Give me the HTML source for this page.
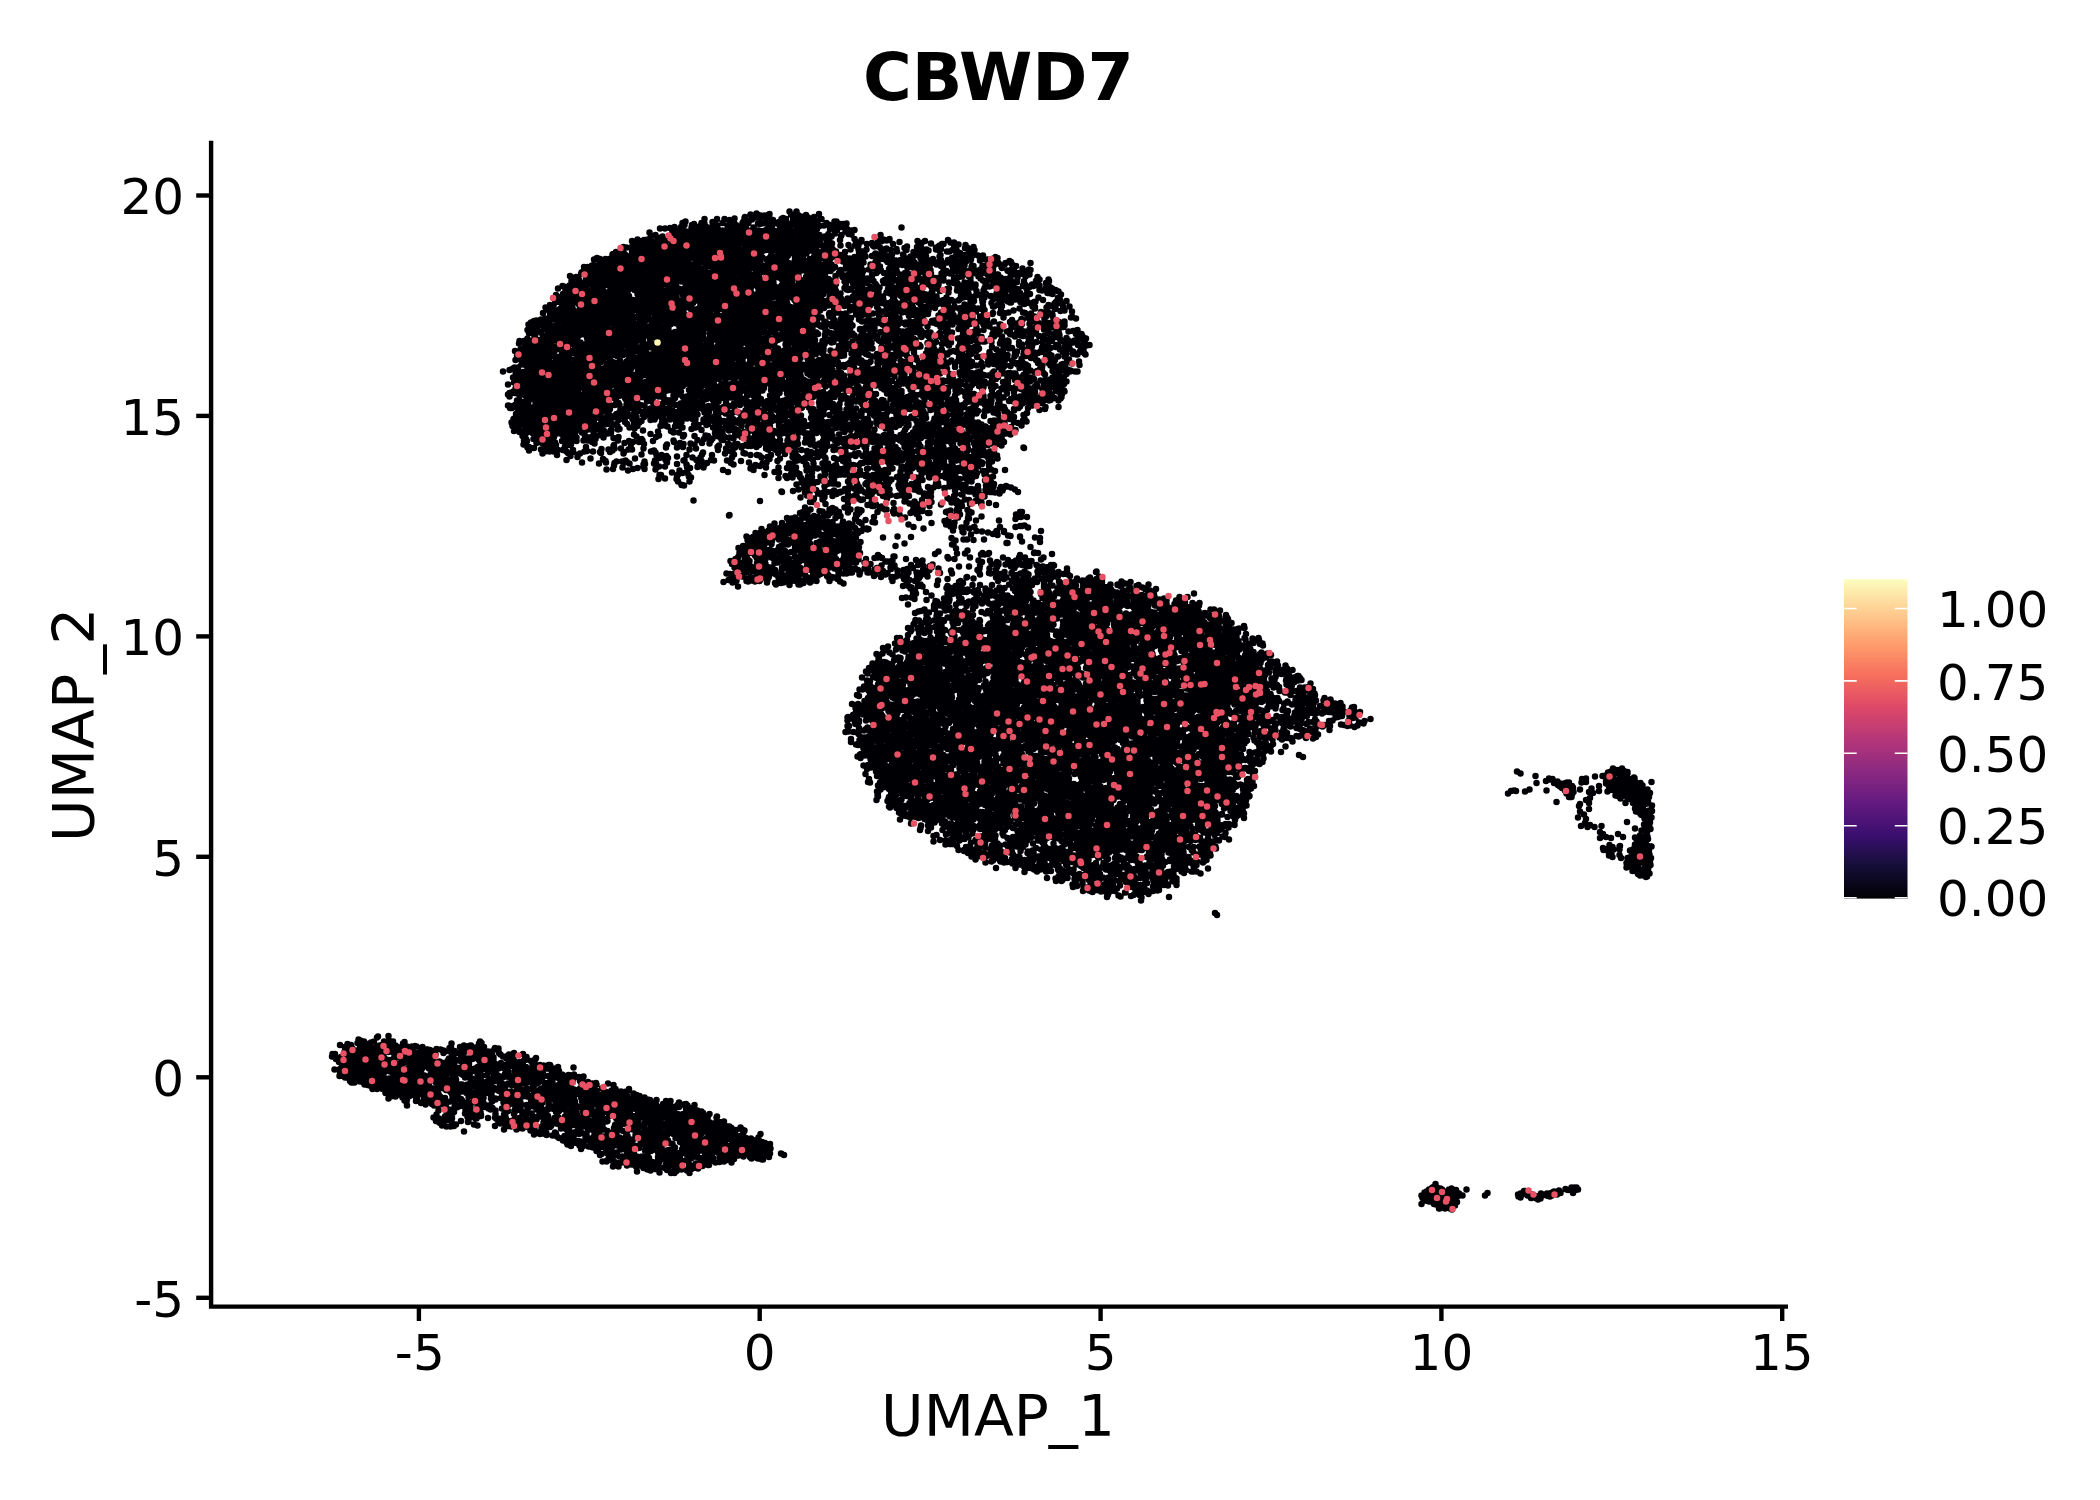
<!DOCTYPE html>
<html><head><meta charset="utf-8"><title>CBWD7</title>
<style>
html,body{margin:0;padding:0;background:#fff}
svg{display:block}
text{font-family:"DejaVu Sans","Liberation Sans",sans-serif;fill:#000}
</style></head><body>
<svg width="2100" height="1500" viewBox="0 0 2100 1500">
<defs><linearGradient id="mg" x1="0" y1="1" x2="0" y2="0"><stop offset="0.00" stop-color="#000004"/><stop offset="0.10" stop-color="#140E36"/><stop offset="0.20" stop-color="#3B0F70"/><stop offset="0.30" stop-color="#641A80"/><stop offset="0.40" stop-color="#8C2981"/><stop offset="0.50" stop-color="#B63679"/><stop offset="0.60" stop-color="#DE4968"/><stop offset="0.70" stop-color="#F76F5C"/><stop offset="0.80" stop-color="#FE9F6D"/><stop offset="0.90" stop-color="#FECE91"/><stop offset="1.00" stop-color="#FCFDBF"/></linearGradient></defs>
<rect width="2100" height="1500" fill="#fff"/>
<text x="998.4" y="100.2" text-anchor="middle" font-size="66.5" font-weight="bold">CBWD7</text>
<text transform="translate(998 1435.7) scale(1 .972)" text-anchor="middle" font-size="58.2">UMAP_1</text>
<text transform="translate(94.3 724.8) rotate(-90) scale(1 .972)" text-anchor="middle" font-size="58.3">UMAP_2</text>
<g stroke-linecap="round" fill="none" stroke-width="6.5">
<path fill="#000004" stroke="none" d="M1428 1194 1442 1204 1450 1206 1450 1200 1452 1194 1450 1192 1448 1194 1440 1194 1434 1192Z"/>
<path stroke="#000004" d="M819 214h0m-13 1h0m-8 0h0m-1.5-3.5h0m-4.5 3h0m-1 0h0m-1.5-3h0m-20 2.5h0m-1.5 1h0m-3.5.5h0m-3.5 0h0m-2.5 0h0m-1-1h0m-.5 0h0m-.5-1h0m-6 1h0m-76 12.5h0m6.5 0h0m1.5-4h0m2 2h0m1-3.5h0m6 6h0m.5-2.5h0m2-1h0m5.5 2.5h0m.5 1h0m1-2h0m0-.5h0m.5-2h0m2-.5h0m.5 4.5h0m.5-8h0m0 4.5h0m3.5 4h0m4.5-5.5h0m0 4.5h0m.5-.5h0m1.5-1h0m2 0h0m.5-6h0m.5 8.5h0m5-4.5h0m2-4h0m0 .5h0m3 6h0m1.5-.5h0m.5-5h0m.5 4h0m1-2.5h0m2 2h0m1-1.5h0m.5-3.5h0m1.5 6.5h0m2 1.5h0m4.5-3.5h0m1-1.5h0m1-3.5h0m.5-1h0m.5 3.5h0m0 2.5h0m0 4h0m.5-2h0m1.5-1.5h0m1-2h0m0 1.5h0m2-3h0m1.5-.5h0m1.5-1.5h0m0 9.5h0m4.5-4h0m1-1h0m.5-2.5h0m0 4h0m.5-1h0m0 0h0m.5 0h0m.5 0h0m.5-6.5h0m.5 7h0m4-5h0m0 5h0m2-.5h0m3.5-3.5h0m0 8h0m1-5.5h0m.5-2h0m4 3.5h0m1.5-1h0m.5-.5h0m.5.5h0m2-3.5h0m0 7.5h0m.5-1h0m0-.5h0m0 1.5h0m1-8.5h0m.5 7.5h0m1-2h0m1.5-4.5h0m2 7.5h0m.5 1h0m.5-2h0m.5-1.5h0m3-8h0m.5 4.5h0m0 3.5h0m1.5-3h0m.5-2.5h0m2 8.5h0m1 .5h0m.5-7.5h0m1 5h0m.5 0h0m1-8.5h0m1 7.5h0m2-5.5h0m.5 9h0m1-6h0m.5 5h0m.5-.5h0m.5-5.5h0m0 3h0m0 1h0m0 2.5h0m.5-5h0m.5-4.5h0m0 7.5h0m4-6.5h0m1 5h0m1-6.5h0m0 2.5h0m.5 2h0m1 2h0m2.5-3h0m1.5 5.5h0m2-7h0m2.5 6.5h0m2.5-2.5h0m2.5 2h0m1 0h0m4.5-3.5h0m1.5 4.5h0m.5-4.5h0m4 2.5h0m.5 3h0m2-3h0m.5.5h0m3-1h0m55 4h0m-12 11.5h0m-6 .5h0m-3-4.5h0m-26-5h0m0 9h0m-3-8.5h0m0 4h0m-1.5-.5h0m-1.5 0h0m-1.5-5h0m-1.5 2.5h0m-4 3.5h0m-.5 1h0m-4-6h0m-.5-2h0m-1 2h0m0 1h0m-.5 2.5h0m-3.5 3h0m-1.5-7.5h0m-1.5 5h0m-2.5 3.5h0m-1-1h0m0 1.5h0m-5-1h0m-.5-2h0m-2.5-6h0m-.5 10h0m-.5 0h0m-.5.5h0m-.5-5h0m0 2.5h0m-1-4h0m0 4h0m-.5 2h0m-.5-7h0m0 1.5h0m-.5-4.5h0m-.5 7h0m-.5-5.5h0m0 6h0m-.5 1.5h0m-1.5 1h0m0 0h0m-1-11h0m0 11.5h0m-1-9.5h0m0 5h0m-.5-5.5h0m-.5 0h0m0 7h0m0 1.5h0m-.5-8h0m-.5 5h0m-1-3h0m-1-2.5h0m-.5 4.5h0m-.5-.5h0m0-.5h0m-1-3h0m0 8.5h0m0 .5h0m-1-3.5h0m-.5-2.5h0m-.5 2h0m-.5-1.5h0m-1 5h0m-1.5-10h0m0 1.5h0m-2.5 7.5h0m-1-6h0m0 0h0m0 1h0m0 6h0m-2-4h0m-.5.5h0m-.5-7h0m0 1.5h0m-1 3.5h0m0 .5h0m0 4.5h0m-.5-7.5h0m0 3h0m-.5-1h0m-.5-1h0m-1.5-.5h0m0 3h0m0 2h0m0 1.5h0m0 .5h0m-.5-7h0m0 7h0m-.5-2.5h0m0 3h0m-1.5-6.5h0m0 2.5h0m0 1h0m0 4h0m-1-10h0m0-.5h0m0 7.5h0m-2.5-8.5h0m-1 6h0m0 0h0m0 3h0m-2 1.5h0m0 0h0m-.5-7h0m-1 0h0m0 4h0m-.5 1.5h0m-1.5-6h0m-1.5-3h0m0 2.5h0m-1 5.5h0m-1-3h0m-.5-4.5h0m-1 9h0m-1-5.5h0m-.5 2.5h0m-.5-1h0m-.5-3.5h0m0 6.5h0m-.5 2.5h0m-1-3h0m-.5 3h0m0-.5h0m-.5-7.5h0m-1 1.5h0m-2-1.5h0m-.5 4h0m0 3h0m-.5-1.5h0m-1 1h0m-.5-7h0m-1.5 2h0m-1-1.5h0m0 2h0m-.5 1h0m-1 4.5h0m-1 1h0m-.5-2.5h0m0 0h0m-1-2.5h0m0 1h0m-1-5h0m0 1.5h0m-1.5 5h0m-1-2h0m-1-5h0m0 8h0m0 1h0m-1-7.5h0m0 3h0m-1.5-2.5h0m0 6.5h0m-.5-5h0m0 3.5h0m-1-4.5h0m0 1.5h0m0 0h0m0 3h0m-.5-2.5h0m-.5-1.5h0m-1-1h0m-.5-3h0m0 2h0m-.5 4.5h0m0 3.5h0m0 .5h0m-.5-7.5h0m0 5.5h0m-1-9.5h0m-.5 11h0m-3-7.5h0m0 .5h0m-1-1.5h0m0 2.5h0m0 2h0m-1.5-7h0m-.5 1.5h0m0 8h0m-.5 0h0m-.5-.5h0m-.5-5h0m-.5-1.5h0m-.5 0h0m-.5 1.5h0m0 0h0m-.5-.5h0m-.5-3.5h0m-1.5 2.5h0m0 3h0m-.5-2.5h0m-.5.5h0m0 3h0m0 1.5h0m-.5-4.5h0m-.5.5h0m-1 6h0m-.5-6.5h0m-.5-1h0m-.5 7.5h0m0 .5h0m-1-.5h0m-.5-4h0m0 2.5h0m-1-2.5h0m0 3.5h0m-.5-1h0m-1-6h0m-1-.5h0m0 4.5h0m0 4.5h0m-1-8.5h0m0 1.5h0m0 1h0m-.5 4h0m-.5 1.5h0m-1.5-10h0m-1 5.5h0m-.5.5h0m0 3h0m0 1.5h0m-.5-4.5h0m0 1h0m-1-5h0m0 5h0m-.5-7h0m-1 2h0m-.5 9h0m-.5-1h0m-.5-10h0m0 1.5h0m-1 3.5h0m-.5 3h0m-.5-.5h0m-.5 1h0m-.5 2h0m-.5-11h0m0 4h0m0 .5h0m-2 1.5h0m-.5 5.5h0m0 0h0m-.5-9h0m-1-.5h0m-1 7h0m-.5 2.5h0m-.5-11.5h0m-1.5 4.5h0m-.5-3h0m-.5 7h0m-.5-6h0m0 1h0m-.5 5.5h0m-1.5-9h0m0 9h0m0 0h0m-1-6.5h0m-1.5 4.5h0m-.5-3.5h0m-.5 7h0m-.5-5h0m0 3h0m0 3h0m-1-5h0m0 4h0m-1-.5h0m-1-6.5h0m-.5 6.5h0m-.5-5.5h0m-1 2.5h0m-.5-1h0m-.5-3.5h0m-2 3h0m0 1.5h0m0-1h0m-.5 2h0m0 .5h0m-1-6h0m0 .5h0m0 6h0m-2-.5h0m0 1h0m-.5-6h0m-.5 0h0m0 7.5h0m-1-6.5h0m-1.5-.5h0m-.5-3h0m-1.5 1h0m0 4.5h0m0 3h0m-1.5-1.5h0m-.5-8h0m-1 9.5h0m0 2h0m-2.5 0h0m-1.5-11h0m-1.5 10h0m-1-2h0m0 2.5h0m-1-.5h0m-1.5-10h0m-.5 9.5h0m-4-3h0m-5 2.5h0m-1-5h0m-2 7h0m-10 0h0m-14 7.5h0m3 .5h0m5.5-6.5h0m0 9.5h0m0 1h0m0 0h0m.5-6h0m2 6h0m.5-6h0m2.5-1.5h0m0 7h0m.5-4.5h0m1 2.5h0m.5-7.5h0m0 4h0m1.5-4h0m3-1.5h0m.5 7.5h0m0 2h0m0 2h0m.5-4.5h0m1.5-4h0m1.5 7.5h0m.5-1.5h0m1-6h0m.5 6.5h0m.5-2.5h0m.5 4h0m.5 0h0m.5-8.5h0m0 5h0m1.5 2h0m1-4.5h0m1 1h0m.5-5h0m.5.5h0m1.5 10h0m1-5h0m.5-3.5h0m0 4.5h0m1 1h0m1.5-1h0m1.5-1.5h0m.5-1h0m.5-3.5h0m1-.5h0m0 10.5h0m.5-5h0m.5 2h0m0 2.5h0m1-1.5h0m.5-.5h0m.5-2.5h0m2.5-6h0m.5 7h0m1.5-6.5h0m0 1.5h0m0 7.5h0m.5-.5h0m1.5-9.5h0m1 6h0m.5 3h0m1-2h0m.5-3.5h0m0 4h0m1 2.5h0m.5-10h0m0 11.5h0m.5-10h0m.5 6h0m0 4h0m1 0h0m.5-10.5h0m0 2h0m.5 6.5h0m2 .5h0m2-10h0m2.5 3h0m.5-2.5h0m0 5.5h0m.5-6h0m.5 3h0m0 6h0m.5-6h0m1 8.5h0m.5-7h0m0 4h0m.5-6.5h0m0 2.5h0m1 6.5h0m.5-6h0m0 .5h0m0 5.5h0m.5-5h0m0 .5h0m1.5-2h0m1-3h0m0 4h0m1.5-.5h0m.5 4h0m1.5-4h0m.5-2.5h0m.5 2h0m0 3h0m.5-1h0m.5-6.5h0m.5 2h0m0 8.5h0m.5-6.5h0m0 7h0m.5-3h0m.5 1h0m1 .5h0m.5-4.5h0m1 1.5h0m1 2.5h0m.5-6.5h0m.5 5h0m.5-7.5h0m0 4h0m0 2h0m.5.5h0m0 3h0m1-3h0m1.5 2h0m.5-2h0m.5-4.5h0m0 1.5h0m.5 1h0m.5 3.5h0m.5-4.5h0m0 3h0m.5-4h0m1.5-1.5h0m1 9h0m.5-2h0m.5-6h0m0 3.5h0m1 .5h0m0 3.5h0m1.5-5h0m0 5.5h0m.5-8.5h0m2.5 5h0m0 5h0m1-2h0m.5-8h0m0 5h0m.5-5h0m.5 4h0m.5 2.5h0m1-6.5h0m.5 2h0m0 1.5h0m0 5h0m.5-9h0m0 2.5h0m0 3.5h0m.5 1h0m.5-6.5h0m1 9h0m.5-1.5h0m.5-3.5h0m.5 3.5h0m0 2.5h0m2-10.5h0m0 1h0m.5 9.5h0m.5-10.5h0m0 1.5h0m0 8.5h0m.5.5h0m1-4.5h0m1-3.5h0m0 1h0m0-.5h0m1 6h0m1-7h0m.5-2.5h0m0 .5h0m0 9h0m2.5-9.5h0m0 3h0m1 2h0m.5-1.5h0m1 2.5h0m0 4.5h0m.5-3.5h0m.5-5.5h0m1-1h0m.5 0h0m0 2h0m.5 5h0m.5-7.5h0m0 9.5h0m.5-3.5h0m0 2h0m1.5-3.5h0m.5 1.5h0m.5 2h0m1-2h0m0 2.5h0m0 2.5h0m.5-3.5h0m.5-5.5h0m0-.5h0m.5 4h0m.5-4h0m0 6h0m0 1.5h0m.5-7.5h0m0 5h0m0 2.5h0m1-8.5h0m0 9.5h0m.5-10h0m0 1.5h0m.5-1h0m0 3h0m.5-2h0m.5 8.5h0m.5-7h0m.5 8h0m.5-10.5h0m1 6h0m0 4h0m0 .5h0m.5-8h0m.5 5.5h0m.5.5h0m1.5-5.5h0m0 4h0m.5 1h0m.5 1h0m1-9h0m0 6h0m.5-5h0m.5.5h0m1 .5h0m.5 0h0m0 4.5h0m0 2.5h0m.5-1.5h0m.5-6h0m.5 2.5h0m0 2.5h0m0 2h0m.5-5h0m.5 3h0m.5-7h0m1-.5h0m0 5.5h0m1.5 5h0m1.5-7.5h0m0 0h0m1.5-2.5h0m0 5h0m.5-4h0m1 5.5h0m0 2h0m1.5 2h0m0 .5h0m1-9h0m0 7.5h0m0 1.5h0m1-7.5h0m0 2.5h0m1-6.5h0m0 2.5h0m.5 6h0m1-7.5h0m0 6h0m2.5-3.5h0m0 4h0m1 3h0m1-4.5h0m0 1h0m0 3h0m1-9h0m0 3.5h0m.5-1.5h0m0 3h0m0 1.5h0m.5.5h0m0 1h0m1-2.5h0m0 5h0m.5-6.5h0m0 4.5h0m.5-4h0m0 4.5h0m1-1h0m1-7.5h0m.5 7h0m.5-3.5h0m1.5-1h0m1 3.5h0m.5-4.5h0m.5 4h0m0 3.5h0m.5-8h0m.5.5h0m.5-1h0m0 6.5h0m0 1h0m.5 2h0m.5-6h0m.5-5h0m.5 10h0m0 .5h0m2.5-6h0m0 1h0m1 4.5h0m1.5 0h0m.5-7h0m.5-1.5h0m.5 1h0m0 2.5h0m.5-4h0m0 6.5h0m0 2.5h0m.5-1h0m3.5-7.5h0m0 6.5h0m.5 1h0m1.5-3.5h0m.5-4.5h0m1.5 1h0m.5-2h0m.5 2.5h0m2.5 2.5h0m.5 5.5h0m1.5-4h0m0 1.5h0m0 0h0m1 1h0m0 2h0m1-11h0m0 7h0m2-3.5h0m0 7h0m1-9.5h0m.5 7h0m2-5h0m.5 5.5h0m3.5 2.5h0m4-11.5h0m.5 5.5h0m8-.5h0m2 4.5h0m4.5-4h0m1-3.5h0m2.5 3h0m0 4.5h0m3-9.5h0m0 1.5h0m1 10h0m4-2h0m.5-5.5h0m5-1h0m1 2.5h0m1 1h0m3-.5h0m1-5h0m2 .5h0m.5 6.5h0m.5-6.5h0m2-1h0m3.5 0h0m0 8h0m2-8.5h0m2 10h0m2.5-6h0m3.5 5h0m.5 2.5h0m2.5-9.5h0m5 6h0m.5 0h0m.5 0h0m0 1h0m1 1h0m.5-3.5h0m10 .5h0m.5-6h0m0 8.5h0m.5-3h0m1.5-3h0m.5 1.5h0m1 2.5h0m0 3.5h0m.5-8h0m1.5 6.5h0m2-8.5h0m0 10.5h0m1.5-2h0m2 1h0m2.5-7h0m5 4h0m0 1h0m0 1h0m1-2h0m1.5-1h0m.5 4h0m.5-5h0m1 2h0m.5 1.5h0m1-5h0m1.5 0h0m3.5 7.5h0m1-11.5h0m1.5 11.5h0m1-9h0m2 7.5h0m1.5-7.5h0m0 2.5h0m1.5-1h0m.5 4.5h0m.5 1.5h0m2-5.5h0m6.5 3.5h0m.5-3h0m1.5 2.5h0m.5.5h0m3.5 3.5h0m1-2.5h0m1.5-2h0m1 3h0m56 13h0m-19 .5h0m-.5-1.5h0m-1.5-1h0m-4 2h0m-7 0h0m-.5 0h0m0 .5h0m-.5-5.5h0m-1 3.5h0m-1-4.5h0m-1.5 4.5h0m-.5-3h0m0 .5h0m0 .5h0m-.5 3.5h0m-.5-2.5h0m-1.5 1.5h0m-2.5-.5h0m-1-2h0m-4-.5h0m-.5-3.5h0m-1 .5h0m-2 4.5h0m-2-5h0m-5-1.5h0m-.5 1.5h0m-1.5 4h0m-2.5-6.5h0m0 4h0m-1 3h0m-1.5 1.5h0m-2-6.5h0m-2 4.5h0m-1.5-4h0m-.5-2.5h0m-.5 9.5h0m-1-8.5h0m-.5 7.5h0m-1.5-7h0m0 8.5h0m-1-6.5h0m-2 5h0m-1.5-3.5h0m-4 2h0m-1 2.5h0m-6-2.5h0m-.5-5h0m0 4.5h0m-1-3h0m-3 6h0m-3.5-3.5h0m-1.5 1h0m-1 2.5h0m-1.5 1h0m-3-7.5h0m0 2h0m-1-5h0m-.5 4h0m0 4.5h0m-3-9.5h0m0 8h0m-1-2h0m-3.5-3h0m-2.5 7.5h0m-1-10.5h0m-.5 9h0m-.5-5h0m0 3h0m-.5 2h0m-1-2.5h0m0 3.5h0m-.5-5.5h0m-2.5 2h0m-2.5 1.5h0m0 2h0m-.5 1.5h0m-1-4h0m-.5-4h0m0 7h0m-.5-8h0m-2.5 5.5h0m-4.5.5h0m-3 2.5h0m-.5-3.5h0m-.5-5h0m-2 8.5h0m-1-4.5h0m-1.5 3.5h0m-.5-6h0m0 2.5h0m-.5.5h0m-.5-2h0m0 3h0m-1.5-8h0m0 2.5h0m-.5-1h0m-.5-1.5h0m-.5 7h0m-1-6.5h0m-1 1.5h0m-.5 0h0m-2 4.5h0m-.5 2h0m-.5 3h0m-1-8.5h0m0 4h0m-1-5.5h0m0 8.5h0m-.5-7.5h0m-3 1.5h0m-6.5.5h0m-1-4h0m-1 10h0m-1-6h0m-3 5.5h0m-.5-9h0m0 4.5h0m-.5 2h0m-1.5 1.5h0m0 0h0m-1.5 1.5h0m-1-5.5h0m0 2.5h0m-1.5 2.5h0m-2.5-1.5h0m-.5.5h0m-.5-2.5h0m-.5 3h0m-3.5-4h0m-.5-5.5h0m-2 7h0m0 .5h0m0 2h0m-2-6h0m0 1h0m0 0h0m-1-1.5h0m-3.5 1.5h0m-4-1h0m0 1.5h0m-2-1h0m0 1.5h0m0 1h0m-1.5-6h0m0 5.5h0m0 .5h0m-.5 4.5h0m-1.5-4h0m-.5 1h0m-1.5-1h0m-.5-2.5h0m0 1h0m-2.5.5h0m-.5-2h0m-.5-1h0m0 3h0m-.5-.5h0m-1-4h0m-.5-1.5h0m0 6.5h0m-.5 1h0m0 2.5h0m-.5-9.5h0m-2.5-.5h0m-1 3.5h0m-.5 1.5h0m0 5h0m-2 1h0m-2-4h0m-.5 1h0m-2.5 1.5h0m-.5-8h0m0 7.5h0m-2.5.5h0m-1-7.5h0m0 4.5h0m-1 2h0m-.5-6.5h0m0 1h0m0 4h0m-.5 4.5h0m-.5-.5h0m-.5-6.5h0m0 7h0m-.5-6h0m-1 2.5h0m-1-4h0m-1.5 5.5h0m-.5-9.5h0m0 7h0m0 4.5h0m-.5-5.5h0m0 1.5h0m-1-6h0m-.5-1.5h0m-3 11.5h0m-1.5-11.5h0m0 2h0m-1 1.5h0m0 7.5h0m-1-6.5h0m-.5.5h0m0 0h0m-.5.5h0m0 2h0m0 0h0m-.5-4.5h0m0 1h0m-.5 7.5h0m-.5-8h0m0 3.5h0m-.5-6h0m0 9h0m-.5.5h0m-.5.5h0m-.5-3.5h0m-1.5-7h0m-.5 2h0m-1 8h0m-1-7h0m-.5 1.5h0m-.5 2h0m-.5 0h0m0 1h0m-1 1.5h0m-.5-4.5h0m-2.5 1h0m0 .5h0m-1 4.5h0m-.5 0h0m-.5-7.5h0m-1 2h0m-.5 5.5h0m-.5-1.5h0m-1-2.5h0m0 3.5h0m-1.5-3h0m-4-2h0m-2 1h0m0 4.5h0m-1-3.5h0m-.5-2h0m-.5 1.5h0m0-.5h0m-2-4.5h0m-1.5 3h0m-.5 1h0m0 4h0m-.5-.5h0m-.5-6.5h0m-2 6h0m-1.5-5.5h0m0 6.5h0m-.5-3h0m-1.5 1h0m0 1h0m-1-6h0m0 .5h0m0 2h0m0 5.5h0m-.5.5h0m-.5-5h0m-1 .5h0m-.5-6.5h0m0 7h0m0 0h0m-.5-5h0m-.5-2.5h0m0 9h0m-1-4h0m-.5-1h0m-.5-2.5h0m0 .5h0m-.5-1h0m0 .5h0m-.5-1.5h0m0 10h0m-2-6h0m-1 7.5h0m-1-1.5h0m-.5-7.5h0m-.5.5h0m0 8h0m-.5-2.5h0m0 1.5h0m0 1h0m-.5-9.5h0m0 9h0m-.5-10.5h0m0 11h0m-1.5-10.5h0m0 5h0m0 4h0m-1-3.5h0m0 1h0m-.5-2.5h0m0 4.5h0m-.5-9h0m0 2h0m-1 8.5h0m-2.5-10.5h0m0 10h0m-.5-8.5h0m-1 5h0m-1.5.5h0m-1.5 0h0m-.5 3h0m-1-.5h0m-.5-2h0m0 1h0m-1.5-2.5h0m-.5-2h0m-.5-2h0m0 3.5h0m-1-3h0m-.5 1.5h0m-1 6.5h0m-.5-6.5h0m0 7.5h0m0-.5h0m-1.5-10h0m-2 9h0m-1.5-5.5h0m-.5 1.5h0m0 .5h0m-.5 1.5h0m-.5-8h0m0 6.5h0m0 1.5h0m-1-6.5h0m0 3h0m0 4h0m0 1.5h0m-.5-8h0m0 3.5h0m-.5-3h0m-.5 1h0m-.5.5h0m0 3.5h0m0 4h0m-1-2.5h0m-.5-5.5h0m-.5 3h0m-.5 1h0m-1.5-5h0m-.5 3h0m-.5-2h0m0 4h0m-.5 0h0m-.5 3.5h0m-.5-3h0m-.5 1.5h0m-.5 2h0m-2-9.5h0m0-1h0m0 5h0m-.5 3h0m0 2.5h0m-2.5-9.5h0m0-.5h0m-.5 2h0m0-.5h0m0 2.5h0m-1-3h0m-2 3h0m-.5-2h0m0 2.5h0m-.5.5h0m0 3.5h0m-.5 1h0m-.5-2h0m-.5-8.5h0m-.5 7h0m-.5 2.5h0m-.5-3.5h0m0 5h0m-.5-11.5h0m0 3.5h0m0 3.5h0m-1-3.5h0m-1-3h0m0 2h0m0 6h0m-.5-1.5h0m-.5-.5h0m0 5h0m-2-11.5h0m0 1h0m0 9h0m-1-3h0m-.5 1.5h0m-.5-8h0m-1 4.5h0m-1 1.5h0m-1 0h0m0 3h0m-.5-9.5h0m-.5 11.5h0m-1-9.5h0m0 3h0m-.5-.5h0m-.5-4h0m-.5 6.5h0m0 1.5h0m-.5-5.5h0m0 0h0m-.5 2h0m-.5-4h0m0 2.5h0m-.5.5h0m0 7.5h0m-1.5-8.5h0m-.5 1.5h0m0 3.5h0m-.5-5h0m-1 3.5h0m0 .5h0m-.5-7h0m-.5 0h0m0 5h0m-.5-3.5h0m0 0h0m0 5.5h0m0 4.5h0m-.5-11.5h0m0 5h0m0 1.5h0m-.5-6h0m0 4h0m-.5 1h0m-.5-1.5h0m-.5 6h0m-.5-7.5h0m0 1.5h0m-2 6h0m-1-1h0m-1-7h0m-.5 6h0m0 0h0m-1-7.5h0m0 4h0m-1-4h0m0 .5h0m0 10.5h0m-.5-3h0m-.5.5h0m-.5-5.5h0m-1 2h0m-.5 3.5h0m-.5-3.5h0m-.5-1.5h0m0 4.5h0m-.5 0h0m-1-2h0m0 5h0m-.5-7.5h0m-.5-3.5h0m0 3h0m-.5 4h0m-1.5 2.5h0m-.5-8.5h0m0 7.5h0m0 2.5h0m-.5-7h0m-.5-2h0m0 2.5h0m-1-4h0m0 3h0m-1 5h0m0 1.5h0m-.5-7.5h0m0 6h0m-.5 0h0m-.5-4h0m-.5-1h0m-.5 1h0m-1 4.5h0m-.5-.5h0m0 2.5h0m-.5-5h0m-.5-5h0m-1-.5h0m0 7h0m0 1h0m-.5-1.5h0m0 2h0m-.5-6.5h0m-1-1.5h0m0 9h0m-.5 0h0m-.5-6h0m0 2h0m-1-2h0m0 5h0m-.5-7.5h0m0 3.5h0m0 6h0m-.5-1h0m-.5-5h0m0 1h0m-1-.5h0m-1 4.5h0m0 .5h0m-1-6.5h0m-1 5.5h0m-2-7h0m-.5 3h0m0 .5h0m-.5-.5h0m0 3h0m0 1.5h0m-.5-9h0m-.5 9h0m-1-1.5h0m-1-6.5h0m0 6.5h0m-.5-.5h0m-1.5-6.5h0m0 7.5h0m-1-4.5h0m-.5 6h0m-2-11h0m0 9h0m0 2.5h0m-2-5.5h0m-1-4h0m-.5.5h0m-1 8.5h0m-2.5-4h0m-.5 2.5h0m-3-2.5h0m0 2h0m0 0h0m-.5 1.5h0m-1.5-1.5h0m-3.5-2h0m0 2h0m-3-3h0m0 1h0m-3 .5h0m-13 14.5h0m.5-1.5h0m2-1.5h0m.5-4h0m1.5 2.5h0m0 2.5h0m2-5h0m1.5 5h0m.5 1.5h0m.5-6h0m.5 4h0m1.5-6h0m1.5 5h0m0 3.5h0m0 0h0m.5-5.5h0m.5 5.5h0m1-8.5h0m0 5.5h0m1.5-5h0m1.5 9.5h0m1-6h0m0 1.5h0m.5-6.5h0m1 0h0m1.5 9h0m.5-2h0m.5-2h0m1-.5h0m.5 3h0m.5-8h0m1.5 6h0m0 5h0m.5-8.5h0m0 .5h0m1.5 6h0m.5-5.5h0m.5 2.5h0m1.5-5h0m0 10h0m.5-1h0m.5-5h0m0 3h0m.5-.5h0m.5 1.5h0m.5-1.5h0m.5 4h0m1-1h0m0 1h0m.5-6.5h0m1.5-1h0m.5 3.5h0m0 3h0m.5-9.5h0m0 10h0m.5-2h0m.5-8h0m1-.5h0m0 1h0m.5-1h0m0 10.5h0m0 0h0m.5-7h0m2.5 7h0m.5-2h0m.5 2h0m0-.5h0m.5-8.5h0m.5-2h0m0 0h0m0 .5h0m.5 4.5h0m1.5 2.5h0m.5-5.5h0m1 4h0m.5-1h0m1-1.5h0m0 4.5h0m.5-1.5h0m0 1h0m1-.5h0m.5-6.5h0m.5 10h0m1.5-9.5h0m0 4h0m.5-2.5h0m.5 4h0m0 1h0m.5 3h0m.5 0h0m.5-4.5h0m3.5-2.5h0m0 0h0m.5.5h0m0 1.5h0m1-5h0m.5 6.5h0m0 2.5h0m.5-4h0m2 5.5h0m.5-10h0m0 2.5h0m.5-1h0m1 2h0m1-.5h0m1 3h0m.5-1.5h0m0 .5h0m.5 3h0m.5-1h0m.5-2h0m0 .5h0m0 1.5h0m.5-6.5h0m0 2h0m0-.5h0m0 1.5h0m0 2.5h0m0 1h0m0 0h0m1-4h0m0 5.5h0m.5-2h0m.5.5h0m.5-8h0m1 3h0m.5-2h0m.5 10.5h0m.5-1h0m.5-7.5h0m0 8.5h0m.5-4.5h0m.5-1h0m.5-3h0m0 4.5h0m.5-5.5h0m0 1.5h0m1-1.5h0m0 4.5h0m0 1h0m.5-5.5h0m0 5h0m.5-5h0m0 6.5h0m1 1.5h0m.5-2.5h0m0 3.5h0m1.5-9h0m0 5.5h0m.5-6h0m0 7h0m.5-8h0m0 6.5h0m.5-3h0m.5-3.5h0m.5 1h0m0 2.5h0m1 1.5h0m0 3h0m2 0h0m1-8.5h0m0 5.5h0m1 4.5h0m1-10h0m1 4h0m.5 5h0m.5-4h0m.5-4.5h0m0 8h0m1-5h0m0 2.5h0m3-4h0m0 9.5h0m.5-10.5h0m0 10h0m.5.5h0m.5-11h0m0 2h0m0 3h0m.5 2h0m0 .5h0m.5-1.5h0m2.5-3h0m0 4h0m.5-7h0m0 1h0m.5 1.5h0m0 0h0m.5-2h0m0 1h0m.5 0h0m.5 5h0m0 3.5h0m.5-2.5h0m1 2h0m.5-7.5h0m0-.5h0m0 8h0m.5-8.5h0m0 3.5h0m0 0h0m0 5.5h0m1-8h0m.5-1.5h0m0 1.5h0m0 4h0m.5.5h0m.5 4h0m.5-10h0m1-.5h0m1.5 2.5h0m0 0h0m0 6h0m.5-1h0m1.5-7h0m0 7.5h0m0 1.5h0m.5-9h0m0 10.5h0m1-10.5h0m0 3.5h0m0 .5h0m0 6.5h0m3.5-3h0m.5-2h0m2-2.5h0m1-1h0m0 3h0m0 3.5h0m1-7.5h0m0 7.5h0m0 1h0m1 .5h0m1-9h0m.5-2h0m0 11.5h0m1-2.5h0m0 1.5h0m.5-10.5h0m0 10h0m.5-9.5h0m0 10h0m1-2h0m.5-4h0m0 6h0m1-5.5h0m0 4h0m.5 1h0m2-9.5h0m0 1h0m1-1h0m0 9.5h0m1-2.5h0m0 3h0m.5-6.5h0m1-3.5h0m0 .5h0m0 4.5h0m0 5h0m3-1h0m2-7h0m1-1.5h0m0 3h0m0 1h0m0 3.5h0m.5-5h0m0 2h0m.5 0h0m.5 4.5h0m.5-9.5h0m0 .5h0m3 7h0m.5-2.5h0m.5-2.5h0m0 7h0m.5-.5h0m.5-2.5h0m0 2h0m1-4.5h0m0 3.5h0m.5-7h0m.5-1h0m0 2h0m.5 7h0m.5-3h0m.5.5h0m2-5h0m0 4.5h0m1.5-2.5h0m0 2.5h0m.5-5h0m.5 2h0m0 4.5h0m.5-2h0m0 4h0m1.5-3.5h0m.5-4h0m.5 9.5h0m.5-10h0m0 5.5h0m0 2.5h0m1.5-9.5h0m0 2h0m0 7h0m.5-8h0m0 1.5h0m0 3.5h0m.5-2.5h0m0 3.5h0m1.5 1h0m1-5.5h0m0 1.5h0m1 1h0m1-3.5h0m0 9.5h0m3-8.5h0m1 .5h0m0 2h0m1-1h0m0 3.5h0m.5 4h0m.5-1.5h0m.5-8.5h0m.5.5h0m.5 1h0m.5 8.5h0m.5-8.5h0m0 1h0m.5 1h0m0 2h0m.5 1.5h0m1-2h0m2-4.5h0m.5 3.5h0m.5-3.5h0m1.5 1h0m0 .5h0m.5 3h0m0 4.5h0m.5-6h0m0 0h0m0 2h0m0 1.5h0m.5-3.5h0m0 3h0m.5-2.5h0m1 1.5h0m.5-6.5h0m1 0h0m0 2h0m.5 6.5h0m2-8h0m0 10.5h0m.5-3.5h0m0 .5h0m1-8.5h0m.5 6h0m1.5-6h0m0 11h0m.5.5h0m.5-9h0m0 3.5h0m.5 5.5h0m1-6.5h0m0 1.5h0m.5-1.5h0m0 1.5h0m.5-5.5h0m.5 4h0m.5 5h0m.5-10h0m0 4.5h0m0 6.5h0m.5-10.5h0m0 7h0m.5-7.5h0m.5 3h0m0 7h0m.5-4.5h0m.5 4h0m.5-1.5h0m.5-7h0m0 4.5h0m0 3.5h0m.5-1h0m1-1h0m1.5 2.5h0m1-6.5h0m.5 4h0m0 3h0m0 1h0m1-4.5h0m.5-5h0m1.5 3h0m.5-3h0m0 8.5h0m1.5-7.5h0m0 9h0m.5-5.5h0m0 3h0m.5 2h0m1.5-9.5h0m.5-1.5h0m.5 4.5h0m.5 4.5h0m.5-9h0m0 7h0m2.5-.5h0m1.5-3h0m1 1h0m1 2h0m1.5-6.5h0m0 2h0m0 1h0m.5 0h0m0 5h0m.5-4h0m.5 6h0m1-1h0m.5-6h0m0 1.5h0m0 1h0m1-3h0m0 4h0m0 3h0m.5-7.5h0m0 3h0m.5-4.5h0m0 8h0m1-7h0m0 5h0m.5 5h0m.5-3.5h0m0 3.5h0m1-9h0m0 .5h0m2 8h0m1-11h0m0 9h0m.5-6.5h0m0 1.5h0m.5 1.5h0m.5.5h0m0 4.5h0m.5-9.5h0m2 9.5h0m.5-3.5h0m0 1h0m.5-6h0m0-1h0m0 10h0m1 .5h0m.5-8.5h0m1 7h0m.5-1.5h0m1.5-8.5h0m0 1.5h0m0 5h0m1.5-5.5h0m0 0h0m1 .5h0m1 5.5h0m.5-5h0m.5-1.5h0m0 4.5h0m1.5-.5h0m2-1.5h0m4 6h0m1 .5h0m.5-3.5h0m0 1.5h0m.5-.5h0m2 4.5h0m1.5 0h0m1-7h0m.5-4h0m2 3h0m.5 7h0m1-5.5h0m1 1h0m2 3.5h0m.5-8.5h0m0 7h0m2.5-2h0m1-4.5h0m1.5 9h0m.5-9.5h0m1.5 5.5h0m1-4h0m1.5 6h0m1-2h0m5.5-1h0m1.5-5h0m.5 4.5h0m0 0h0m1 6h0m1-8.5h0m.5-2h0m2 1.5h0m1 1h0m0 6h0m.5-1h0m.5-.5h0m.5-4.5h0m.5 0h0m0 2h0m.5-3h0m1 .5h0m0 2.5h0m1 1.5h0m3 2.5h0m3.5 0h0m0 2h0m1 0h0m.5-6h0m0 5.5h0m1.5-8h0m1 .5h0m.5-.5h0m.5 8h0m1.5-10.5h0m0 4.5h0m1 1.5h0m0 2h0m1-6.5h0m.5 1h0m0 4h0m1 2.5h0m.5-8.5h0m3 10.5h0m1-10.5h0m.5.5h0m1.5 9h0m.5-9.5h0m.5 8.5h0m1.5.5h0m1-8h0m0 2.5h0m.5 6h0m3 .5h0m1.5-7h0m0 7h0m0 1h0m1.5-7.5h0m1 3h0m0 3h0m1-9h0m.5 6.5h0m2.5 1.5h0m.5-8.5h0m.5 0h0m0 5.5h0m4-4h0m.5 4.5h0m.5 2.5h0m.5-1h0m0 3h0m1.5-5h0m.5-.5h0m2-3.5h0m1-2h0m0 6h0m.5 3.5h0m5.5-9h0m4.5 1.5h0m.5 7.5h0m.5.5h0m.5-9.5h0m.5 2.5h0m.5 3.5h0m1 3.5h0m2-3h0m3.5 2.5h0m2-8.5h0m0 7.5h0m1-3.5h0m0 2h0m3.5-5h0m0 5.5h0m.5-6.5h0m0 4h0m3 1h0m1.5 2h0m.5-4.5h0m.5 4h0m2-7h0m0 1h0m1 5.5h0m1.5 3.5h0m1-.5h0m1.5-3h0m2-4h0m0 1h0m0 1.5h0m.5-4h0m1 5h0m.5-4.5h0m1.5 7h0m1-2.5h0m0 3h0m3.5-3h0m.5 4.5h0m.5-5.5h0m2-3.5h0m.5 2h0m1-2h0m0 4h0m1 3h0m1-7.5h0m.5 3h0m1.5 6.5h0m1 .5h0m2-2.5h0m1-.5h0m1-3h0m.5-3.5h0m1-1.5h0m2.5 10h0m1 0h0m3.5-7.5h0m.5 1h0m2.5-3.5h0m3 6h0m.5.5h0m3-.5h0m1-1.5h0m0 2.5h0m0 3h0m.5-3.5h0m.5-5.5h0m1.5 1.5h0m0 5h0m1.5-6h0m2.5 7h0m0 1h0m4-5.5h0m.5 5.5h0m4.5-3h0m1.5-1.5h0m.5 5h0m1-4.5h0m20 17.5h0m-1.5-6.5h0m-.5-1.5h0m0 3h0m-.5 5h0m-2-4.5h0m0 4.5h0m-6.5-8h0m0 6h0m-1-6h0m-1-2.5h0m-.5 7h0m-.5-3.5h0m-.5.5h0m-1 3h0m-.5 1.5h0m-1 .5h0m-1.5-1.5h0m-2.5 2.5h0m-4-10.5h0m0 8.5h0m-1.5-4h0m-1 5h0m0-.5h0m-5.5-8h0m-.5 4.5h0m-3 1.5h0m-1 2.5h0m-.5-4h0m-1 0h0m-.5-1.5h0m-.5-4h0m-1.5 6.5h0m-1 4h0m-1-5h0m-1.5-3h0m-1.5 7h0m-.5-4.5h0m0 2h0m-2.5-5.5h0m-.5-.5h0m-1 7h0m-.5-.5h0m-.5-7h0m0 4.5h0m0 6h0m-1.5-8h0m0 7h0m-.5-10.5h0m-2.5 2.5h0m0 5h0m-.5 0h0m0 2h0m-3-6h0m-1 7h0m-1.5-6.5h0m-2 4h0m-.5-.5h0m-1-2.5h0m-1.5-.5h0m-2.5-2h0m0 0h0m-2-2h0m-3 8h0m0 1h0m-3 1h0m-1-2.5h0m0 1h0m0 2.5h0m-1-10h0m0 3.5h0m-1.5-4.5h0m-.5 6.5h0m-2 3.5h0m-2-4h0m-2.5-6h0m-.5 9h0m-1.5 1.5h0m-.5.5h0m-1-.5h0m-.5-9.5h0m-.5 6h0m0 4h0m-.5-10h0m-3 .5h0m-.5 5h0m-4.5-.5h0m-5.5-3h0m0 1h0m-5 4h0m-1-6.5h0m0 3h0m-1.5.5h0m-.5-.5h0m-.5-3h0m-1.5 8.5h0m-1-1h0m-.5-2h0m-.5 3.5h0m-1.5-2h0m-1-7h0m-1 1.5h0m-1 .5h0m0 4h0m-.5-5h0m-1 2.5h0m-3 2h0m0 4h0m-2-8.5h0m0 8.5h0m-.5-8h0m-3.5-2.5h0m-1 .5h0m0 3.5h0m-.5 4.5h0m-.5-8h0m-2.5 5h0m-.5-.5h0m-1-5.5h0m0 6.5h0m-1-4h0m-.5-2h0m0 0h0m0 7h0m-.5-5.5h0m-1.5-1h0m-1 6h0m-1.5-4.5h0m-1.5 2.5h0m0 2.5h0m-3-6h0m-.5 4h0m-1 1h0m0 4h0m-3-7h0m-2-1.5h0m-2 1h0m0 4.5h0m-1-7.5h0m0 9.5h0m-1-4.5h0m-.5-2h0m-.5-.5h0m0 6.5h0m-2-4.5h0m-2-1h0m-.5 3h0m-1-2h0m-3.5 6.5h0m-3-2h0m-1-1.5h0m-.5 2h0m-1.5-5h0m-1.5-5h0m-1 3.5h0m-.5 7.5h0m0 .5h0m-1-8.5h0m-.5-.5h0m-1.5 3.5h0m0 1h0m-.5-4.5h0m-1 3h0m-4-5.5h0m0 5h0m0 4.5h0m-.5-5.5h0m-1 0h0m-.5-2.5h0m0 4.5h0m0 .5h0m-1.5 0h0m0 3.5h0m-.5-7.5h0m-1.5-1h0m-.5 5h0m-.5-1h0m0 4.5h0m-1.5-6.5h0m-1 3.5h0m-1-7h0m0 3h0m-1.5-3h0m-1.5 4h0m-1-4h0m0 2h0m-2 2.5h0m0 3.5h0m-1-6h0m0 4h0m-.5-.5h0m-2-5h0m0 .5h0m-6.5 7h0m-.5-8h0m0 2h0m-1 3h0m-1 4h0m-2 .5h0m-1.5.5h0m-1-6.5h0m0 2.5h0m0-.5h0m-.5-2.5h0m0 3h0m0 1.5h0m-1-4.5h0m0 8h0m-1.5-7.5h0m-2 .5h0m-.5-.5h0m0 2.5h0m-.5-4h0m-.5 0h0m0 6h0m-.5-8h0m0 6.5h0m0 4.5h0m-1.5-4h0m-.5 3.5h0m-1-6h0m-.5-2.5h0m-.5 7.5h0m-.5-5.5h0m-1 3.5h0m-.5-7h0m-.5 2.5h0m0 3h0m0 2h0m-1 1h0m-.5.5h0m-.5-9.5h0m-.5 2.5h0m0 8.5h0m-1.5-8.5h0m0 5.5h0m-.5 2.5h0m-.5.5h0m-.5-7h0m0 1h0m0 1h0m-1 2h0m-1-1h0m-.5-5h0m-.5 3.5h0m-1-4.5h0m0 4h0m0 5.5h0m-2 1h0m-1-3.5h0m-1-1.5h0m-.5 4.5h0m-1-7h0m0 2h0m-1.5 2.5h0m-.5-8h0m0 3.5h0m-.5 5h0m-.5 1h0m0 .5h0m-3.5 0h0m-1.5-8h0m-.5 4h0m0-.5h0m-.5-5h0m-.5 0h0m-.5 8.5h0m-.5-8h0m-.5 7.5h0m0 1h0m-.5-4h0m0 1.5h0m0 .5h0m-1.5-7.5h0m-.5 2h0m-1 5.5h0m0 .5h0m-.5-7.5h0m-1.5 1.5h0m0 4.5h0m-.5 3.5h0m-.5-10.5h0m0 6.5h0m-1-6.5h0m-.5 3h0m0 6.5h0m-.5 1h0m-1.5-9.5h0m-.5.5h0m0 0h0m-.5-1.5h0m-1 1h0m-1 0h0m-1 10h0m-2-8h0m0 4h0m-.5-4h0m-.5-1h0m0 4.5h0m-.5 3.5h0m-.5-1.5h0m-1.5 1.5h0m-.5-3.5h0m0 .5h0m-.5-2.5h0m0 6.5h0m-.5-5.5h0m0 3.5h0m-.5-1h0m0 3h0m-1.5-9h0m0 4.5h0m-1-4.5h0m-.5 9h0m-1.5-6h0m-.5 6h0m-.5-5.5h0m0 5h0m-2-6h0m0 1.5h0m-1-2.5h0m0 7h0m-1-10.5h0m0 6h0m-.5 5.5h0m-.5-6.5h0m-1-4.5h0m0 5.5h0m-.5 2.5h0m0 0h0m-2-5.5h0m-.5 5h0m0 1h0m-1-3.5h0m-.5-4h0m-1 3h0m0 7h0m-.5-8h0m0 3h0m0 1.5h0m0 .5h0m-.5-4.5h0m-.5-2.5h0m0 5.5h0m-1-.5h0m0 3.5h0m-1.5-4h0m-.5-3h0m-.5-2.5h0m0 1.5h0m0 .5h0m0 2.5h0m0 2.5h0m0 3.5h0m-.5-8h0m0 2h0m0 1h0m0 1.5h0m-.5 4h0m-2-7.5h0m0 5h0m-.5-5h0m0 2.5h0m-.5 1h0m0-.5h0m-.5-1.5h0m0 6h0m-.5-11h0m-2.5 4.5h0m0 5h0m-.5-6h0m0 4.5h0m0 2.5h0m-1-1h0m-1-8h0m0 0h0m0 9.5h0m-1.5-4h0m-1-3.5h0m-.5-.5h0m-.5-1.5h0m0 4h0m-1 2h0m-2-5h0m0 .5h0m-.5 5.5h0m-.5-5.5h0m-1 6h0m-.5 0h0m-.5-6.5h0m-.5 6h0m-.5-7h0m0 4h0m0 3.5h0m-.5-7.5h0m0 0h0m-.5 0h0m0 1.5h0m0 7.5h0m-.5-2h0m-1-6h0m-.5 7.5h0m0 0h0m-.5-4h0m-.5-1h0m-.5 4.5h0m-.5 1.5h0m-1-5.5h0m-1-2.5h0m-.5-3.5h0m0 9.5h0m-1 1.5h0m-1-8.5h0m0 7h0m-1-.5h0m0 2.5h0m-1-11h0m0 7.5h0m0 2h0m-.5-5.5h0m-.5 0h0m0 1.5h0m0 1h0m-.5-6.5h0m-.5 4.5h0m-.5 0h0m-1.5-1h0m0 2h0m0 2.5h0m-.5-5.5h0m-.5 6h0m-.5-5h0m-1.5 1h0m-2.5-4h0m0 9.5h0m-2-3h0m-.5 1.5h0m0 2.5h0m-1-6.5h0m-.5-5h0m0 2.5h0m0 .5h0m0 5h0m-.5-.5h0m-.5 1h0m-1-2.5h0m0 5h0m-2 .5h0m-1.5-10h0m-.5-1.5h0m0 6.5h0m-.5 0h0m-.5.5h0m0 2.5h0m-1-4.5h0m-.5-4h0m0 2h0m0 1.5h0m-1 6h0m-1-9.5h0m0 5h0m0 3.5h0m-.5 1h0m0 .5h0m-.5-10h0m0 4h0m-.5 2h0m0 2.5h0m-1-5.5h0m-1.5 4h0m-.5-8h0m0 3.5h0m0 2.5h0m-2-.5h0m-2 0h0m-2-3h0m-2.5 3h0m-.5 1h0m-.5-1.5h0m0 4h0m-1-8.5h0m0 3h0m-1 1h0m-1.5 4h0m-.5-5h0m-1 8h0m-1-4h0m0 0h0m-1 1h0m-1.5-7.5h0m-.5 5.5h0m0 2h0m-1.5-3h0m-.5-2h0m-.5-2.5h0m-.5 1.5h0m0 1.5h0m-2.5-3.5h0m0 1h0m0 9h0m-.5-4.5h0m-.5 4h0m-2 0h0m-.5-2h0m-.5-3h0m-1-2.5h0m0 9h0m-1-2.5h0m-.5-4h0m-.5-.5h0m-.5-1.5h0m0 6.5h0m0 .5h0m-.5-7h0m-.5 3.5h0m-.5 4h0m-.5-10.5h0m0 10.5h0m-.5 0h0m-.5-2.5h0m0 3h0m-.5-2.5h0m-.5-8.5h0m-.5 2h0m-1-.5h0m-.5 1h0m0 1.5h0m-1 3.5h0m-.5 3.5h0m-.5-11h0m-.5 5h0m0 1.5h0m0 2.5h0m-.5-7.5h0m-.5-1h0m-.5 7.5h0m-.5 3h0m-1-10.5h0m-1 6h0m0 1.5h0m-.5-7h0m-.5 5h0m-2-3.5h0m-1.5.5h0m0 3.5h0m-1.5-1h0m0 1h0m-1 2h0m-1.5-5.5h0m-1 0h0m-.5-1.5h0m-1 3h0m-1 2.5h0m0 3.5h0m-1-9h0m-.5 4.5h0m-.5-6h0m-1.5.5h0m0 2h0m0 2h0m-1 4.5h0m-.5 1h0m0 1.5h0m-1-9.5h0m0 2.5h0m0 3.5h0m0 0h0m-2-7h0m-.5 2h0m0 1h0m-.5-3.5h0m0 7h0m0 0h0m0 2.5h0m0 1h0m-.5-5h0m-1-1h0m-2 5h0m-.5-8.5h0m0 6h0m-1-5.5h0m0 5h0m-.5-5h0m0 9.5h0m-1.5-11h0m0 4h0m0 0h0m0 7h0m-1-8h0m-.5 2h0m-.5 2.5h0m-.5 3h0m-.5-4h0m-.5 3.5h0m-1-8h0m-1 1h0m-.5 3.5h0m-1-1h0m-1 1.5h0m-.5-4.5h0m-.5 1.5h0m0 5h0m-3 1h0m-.5-4.5h0m-.5-3h0m0 3h0m0 3.5h0m-.5-2.5h0m-.5 3.5h0m-1-4h0m0 3h0m0 1h0m-1-7h0m0 .5h0m0 4.5h0m-.5 0h0m-1-6.5h0m0 7.5h0m-1.5-7h0m-.5-.5h0m-1 0h0m0 .5h0m0 6.5h0m-.5-5h0m-.5.5h0m0 5h0m-.5-2.5h0m-.5-2h0m0 .5h0m0 0h0m-.5-1.5h0m-1-3.5h0m-.5 6h0m-.5-4.5h0m0 1h0m-.5 2.5h0m-1.5 1h0m0 2.5h0m-.5-7h0m0 1h0m0 2h0m0 5.5h0m-.5-5h0m-.5 4h0m-1-2.5h0m-1 3h0m-1 1h0m-1-1h0m-1-1.5h0m-.5-1h0m-.5-3.5h0m-.5 0h0m-.5 5.5h0m-.5-2h0m-1.5-6.5h0m0 7h0m-1-6h0m-1 4h0m0 3h0m-2-3h0m-.5-1h0m-.5-4h0m0 8h0m-1-9h0m-.5 9.5h0m-5.5 1h0m-1.5-.5h0m-9 12h0m2.5-3h0m2-6.5h0m3 8.5h0m2-3h0m1.5 5.5h0m1-9.5h0m1 1.5h0m0 1.5h0m1 6h0m1-2.5h0m0 3h0m1.5-5.5h0m.5-3h0m0 3h0m0 4h0m1 0h0m.5-1.5h0m2-3.5h0m0 6h0m1-9.5h0m0 9h0m1-8.5h0m1.5-1.5h0m.5 1h0m0 2h0m0 5.5h0m1.5.5h0m.5-8h0m0 0h0m0 4.5h0m.5-6h0m0 11.5h0m.5-2h0m.5-5.5h0m.5 3h0m0 .5h0m1 2h0m0 2h0m1-8.5h0m1 6h0m.5-5h0m.5-.5h0m0 0h0m0 3.5h0m.5 4h0m.5-6h0m0 1h0m0 4.5h0m1-7.5h0m0 0h0m0 7.5h0m0 .5h0m.5-6h0m0 1.5h0m0 2.5h0m1.5-6h0m0 0h0m.5 3h0m0 3.5h0m1.5-5h0m.5 1h0m0 3h0m.5-8h0m0 10h0m0 1h0m1.5-3.5h0m0 1h0m1-3h0m0 1h0m0 2.5h0m.5-9h0m0 9h0m.5.5h0m1.5-6.5h0m.5 4h0m.5-4h0m0 4h0m1-6h0m.5 2.5h0m1 4.5h0m0 2.5h0m2-4.5h0m.5-3h0m.5 2.5h0m1 3.5h0m0 2h0m.5-7h0m2 5h0m1.5-5h0m.5 6h0m.5-9h0m0 .5h0m0 7.5h0m.5-3.5h0m.5 4h0m.5.5h0m.5-5.5h0m0 1h0m0 .5h0m.5 4.5h0m.5-6h0m.5 2h0m.5-4.5h0m.5 6h0m.5-7h0m.5-1.5h0m0 7.5h0m1 1.5h0m2.5-3.5h0m.5-3h0m.5.5h0m.5 3h0m0 1.5h0m0 .5h0m.5-4.5h0m1 1h0m0 1h0m1 0h0m0 5.5h0m3-4.5h0m1-1h0m0 4.5h0m.5-10h0m0 9h0m.5-7.5h0m0 9h0m.5-2.5h0m4.5-7h0m1 1h0m2.5 9.5h0m.5-5.5h0m0 0h0m.5-2.5h0m.5-3h0m0 5h0m0 1.5h0m1-1.5h0m.5 5h0m.5-.5h0m.5-4.5h0m.5-5.5h0m0 3h0m0 1.5h0m1-4.5h0m0 2h0m.5 9.5h0m.5-3h0m1 1h0m.5-5.5h0m1-3h0m0 1h0m.5 1h0m0 8h0m1-3h0m.5-5h0m0 1h0m1-1.5h0m0 6.5h0m.5 0h0m0 1h0m1-8.5h0m0 2.5h0m.5-1.5h0m.5 2h0m0 .5h0m1 3.5h0m1 0h0m0 2.5h0m.5-4.5h0m0 4h0m.5-4.5h0m1.5 3.5h0m.5-2h0m.5-4.5h0m0 3.5h0m0 2.5h0m.5-5h0m0 4h0m1-7h0m0 5.5h0m0 3h0m.5-6.5h0m0 5.5h0m.5-1h0m.5 3.5h0m1-5h0m0 5h0m.5-9h0m0 1.5h0m.5 8h0m1-9h0m.5.5h0m0 .5h0m1 8h0m.5-4.5h0m0 1.5h0m1-1h0m1-1.5h0m.5-4h0m0 2h0m1.5 4.5h0m1-7.5h0m1 2h0m1-2.5h0m0 1.5h0m0 4h0m1 4.5h0m0 0h0m1.5-8h0m1.5 6.5h0m.5-.5h0m2-8h0m.5 3h0m.5-1h0m3-.5h0m0 1.5h0m.5 0h0m0 1h0m0 1.5h0m0 1h0m.5-3h0m.5-3.5h0m1.5.5h0m1.5-.5h0m0 2h0m.5-1h0m0 7.5h0m1-9h0m0 4h0m.5-.5h0m0 1h0m0 4.5h0m1 1.5h0m1-2.5h0m1-7h0m0 5h0m0 5h0m1-10h0m2.5 10h0m.5.5h0m1-5.5h0m1 5h0m.5.5h0m.5-8h0m.5 6h0m.5-3.5h0m0 3h0m0 2.5h0m.5-8h0m.5 1h0m1 0h0m0 1.5h0m1-1h0m1 6h0m1-.5h0m.5-5h0m.5-3.5h0m0 .5h0m.5 5h0m.5-5h0m.5-.5h0m.5 3.5h0m1.5 2.5h0m0 2.5h0m1-3.5h0m.5 3.5h0m.5-9h0m.5 8.5h0m.5-5h0m0 5h0m2 1h0m.5-5h0m1.5-.5h0m0 2h0m.5 1h0m.5-3.5h0m2 1h0m1.5 0h0m.5-4h0m.5.5h0m0 2.5h0m1-.5h0m0 7h0m1.5-3h0m.5.5h0m.5 1h0m.5-1h0m1-8h0m0-1h0m0 3.5h0m0 7h0m1.5-2h0m.5-1.5h0m.5-2.5h0m0 2h0m.5-3.5h0m0 3.5h0m1-6h0m1 4.5h0m0 2h0m.5-.5h0m.5-2.5h0m0 2h0m1-3h0m0 5.5h0m.5-8.5h0m0 5h0m0 2.5h0m.5-2h0m0 4.5h0m2-9.5h0m.5 0h0m0 1.5h0m0 5.5h0m.5-5h0m.5-1.5h0m1 0h0m0 8.5h0m.5-3h0m0 5h0m1-3h0m1-4h0m.5-3.5h0m1.5-.5h0m.5 1.5h0m0 2.5h0m0 .5h0m0 3.5h0m1-6h0m0 7h0m.5-3.5h0m0 3.5h0m1 0h0m.5-.5h0m0 2h0m.5-7h0m0 6h0m1-2.5h0m0 2h0m.5-5.5h0m0 3.5h0m.5 1h0m1-4h0m0 .5h0m.5 6h0m1-4.5h0m0 4h0m0-.5h0m.5-2h0m2 1h0m1.5-2.5h0m1.5 0h0m.5-2.5h0m0 4h0m.5-8h0m0 9h0m0 2h0m.5-8.5h0m0 6h0m1-.5h0m.5-7h0m.5 8h0m1-1h0m1.5-2.5h0m0 1.5h0m0 4.5h0m.5-7.5h0m0 2.5h0m.5-6h0m.5 3.5h0m0 1h0m0 6h0m.5-5h0m0 1.5h0m.5 2h0m1-5.5h0m0 1.5h0m.5-3.5h0m.5 7h0m.5-9h0m0 3h0m0 3.5h0m0 .5h0m1 3h0m.5-3.5h0m.5 0h0m0 0h0m.5 2h0m1-3.5h0m0 4.5h0m1.5-9.5h0m0 5h0m0 2.5h0m1-2h0m.5-3.5h0m.5 3.5h0m1-2.5h0m.5-2h0m1 8.5h0m0 1.5h0m.5-5h0m.5-5.5h0m1 0h0m0 4.5h0m.5 2h0m1 4h0m.5-7.5h0m.5-.5h0m.5 1.5h0m0 5.5h0m0 1.5h0m.5-6h0m0 3.5h0m1-8.5h0m0 10h0m1-10h0m0 2h0m0 2.5h0m1-3h0m0 5.5h0m0 1.5h0m1-8.5h0m.5 7h0m.5 1h0m.5-3.5h0m.5 2.5h0m.5-1h0m1-5h0m.5 8h0m1-8h0m0 1.5h0m.5 0h0m0 4.5h0m0 2.5h0m.5.5h0m.5-3.5h0m0 .5h0m.5-2.5h0m0 6.5h0m2.5-9.5h0m0 5h0m1-7h0m0 3h0m0 0h0m.5-2h0m0 4h0m.5 1.5h0m1-5.5h0m.5 4.5h0m0 6h0m.5-3.5h0m0 3.5h0m.5-7h0m0 4.5h0m1-6h0m0 1.5h0m.5-1h0m1-3h0m0 5.5h0m.5.5h0m.5 1h0m1.5-4.5h0m1 1.5h0m0 1.5h0m.5-1.5h0m.5 2.5h0m.5-2.5h0m0 6h0m.5.5h0m2.5-1h0m.5-4.5h0m0 1.5h0m.5.5h0m0 2.5h0m1.5-1.5h0m.5-7.5h0m.5 2.5h0m0 7.5h0m.5-6h0m.5-4h0m0 6.5h0m1 0h0m.5 0h0m0 1h0m.5-5h0m.5 4h0m0 1.5h0m1 0h0m.5-8.5h0m0 3.5h0m.5 3.5h0m1-3.5h0m0 2h0m1 0h0m2.5-5.5h0m1.5 2h0m.5 0h0m.5-1.5h0m1 9h0m.5-2h0m1 3.5h0m1-10h0m0 8.5h0m.5-6h0m0 6h0m.5-8.5h0m1.5-1h0m.5 0h0m.5 3.5h0m.5-1h0m0 4.5h0m4.5-2h0m.5 5h0m3.5-10.5h0m2 1.5h0m1 9h0m.5-8.5h0m2-1h0m.5 9.5h0m.5-9h0m.5-1h0m1.5 8h0m2-3.5h0m.5 6.5h0m.5-5.5h0m2-3h0m.5-1h0m.5 5.5h0m2 2.5h0m1-7h0m0 3.5h0m1.5-.5h0m.5 2.5h0m1-7h0m0 9h0m1-7.5h0m.5 2.5h0m.5.5h0m1.5 2.5h0m1-3h0m1.5 5.5h0m2 .5h0m.5-11.5h0m1.5 1.5h0m1 6.5h0m.5 2.5h0m.5-4h0m.5 3.5h0m1-8.5h0m0 2.5h0m4.5 5h0m0-.5h0m0 1h0m3.5-5h0m1.5-3.5h0m1 0h0m1 4.5h0m3 0h0m0 4h0m1.5-9.5h0m0 8.5h0m3-6.5h0m1.5 3h0m2 3h0m.5-2.5h0m.5-5.5h0m.5.5h0m0 6h0m0 2h0m.5 2.5h0m.5-2.5h0m1-8.5h0m0 2.5h0m0 7h0m2.5-4h0m1.5 4.5h0m.5-7h0m.5 5.5h0m.5-7.5h0m.5 0h0m2 9.5h0m1.5-6h0m0 5h0m1.5-5h0m.5 3h0m1.5-6h0m1 4.5h0m1 1.5h0m.5-5h0m0 3h0m1.5-2h0m1.5 2.5h0m1 1h0m0 1.5h0m1.5-2h0m.5 0h0m2 2.5h0m.5-2h0m0 .5h0m1 3h0m1-2h0m.5 1h0m.5-5h0m1-1.5h0m0 4h0m4 1.5h0m2-7.5h0m1.5 2h0m6.5 6.5h0m.5-8.5h0m1.5 3.5h0m.5-4h0m8 2h0m2.5 9h0m1.5-4h0m.5-4.5h0m1.5 6.5h0m.5-6.5h0m3.5 5h0m.5 0h0m0 1h0m.5-9h0m.5 5.5h0m2 3.5h0m0 .5h0m1.5 1h0m.5-1.5h0m3.5-1.5h0m.5-4.5h0m1.5 3.5h0m4 4.5h0m.5-3h0m1-5.5h0m0 0h0m.5.5h0m.5-3h0m0 9.5h0m1.5-3.5h0m5 2h0m0 .5h0m2.5 2.5h0m1-.5h0m2-5h0m1.5 3h0m2-1h0m1-6.5h0m.5 2h0m1-1h0m0 3h0m1.5 3h0m0 3h0m1-6.5h0m2 5h0m1.5-8h0m0 8h0m1.5-9.5h0m0 8.5h0m1.5 0h0m.5-5h0m1-3h0m0 5h0m2 1.5h0m.5 4.5h0m1.5-.5h0m.5-10h0m0 4h0m1-2.5h0m.5 8.5h0m1-6h0m0 6.5h0m0 0h0m3-2h0m1-1h0m1-1h0m1.5-7h0m.5.5h0m0 4h0m1-5h0m.5 6.5h0m1.5-.5h0m8.5 3.5h0m1-7.5h0m2.5.5h0m4.5 0h0m1 2.5h0m2.5-1h0m1 1.5h0m1-5h0m.5 1h0m0 4.5h0m3-4h0m2.5 8h0m.5-6.5h0m2.5 3h0m11 17h0m-2.5-5h0m-3-5.5h0m-2 9.5h0m-1.5-4h0m-1.5-3h0m-1 7.5h0m-.5-11h0m-3 1h0m0 2.5h0m-1-1.5h0m-.5 5.5h0m-.5 1.5h0m-.5-5.5h0m-3 2.5h0m-3-1h0m-1.5 4.5h0m-.5-2h0m-3.5-7.5h0m-7.5 1.5h0m-.5 5.5h0m0 1.5h0m-1-6.5h0m-.5 5h0m-.5-1.5h0m-.5 1h0m-3.5-3.5h0m-2.5-3h0m-2 4h0m-1-1h0m-3-1h0m-1 6.5h0m-6 2h0m-2.5-8h0m-1 0h0m-2-1h0m-.5-.5h0m-5.5 0h0m0 5h0m-1 3.5h0m-1-9h0m-1.5 4.5h0m-.5-.5h0m-4 2h0m-1 0h0m-1.5-3.5h0m-7 7h0m-1.5-8.5h0m0 4.5h0m-.5-4h0m-1 7h0m-3.5-.5h0m-2 3h0m-2-10.5h0m-.5 7.5h0m-.5-1.5h0m-1 3.5h0m-1-3.5h0m-.5-5h0m-1 4.5h0m0 2.5h0m-.5-1.5h0m-2-1h0m-2.5-2h0m-1 6.5h0m-1.5-2h0m-1-.5h0m0 3h0m-.5-3.5h0m-1.5.5h0m-.5-8h0m-4 6h0m-.5-5h0m-1 6.5h0m-.5 1.5h0m-1-9.5h0m-1 10h0m-1-10h0m-1.5 2h0m0 4h0m0 2h0m0 0h0m-2 1.5h0m-.5-9h0m-2-.5h0m0 5h0m-.5-2.5h0m-3 .5h0m-1.5-2.5h0m-.5 0h0m-.5 3.5h0m-2.5-2h0m0 6h0m-.5-1h0m-4.5 0h0m-.5-6.5h0m-.5 4h0m-.5 6h0m-.5-9h0m-2.5 5.5h0m-.5 1h0m-2-7.5h0m-.5 7h0m-1 1.5h0m-1-4.5h0m-.5-4h0m-1.5 2h0m-1-1h0m-1.5 8.5h0m0 1h0m-2.5.5h0m-.5-4h0m-1-4.5h0m0 2.5h0m0 2h0m0 .5h0m-2-3h0m-3.5 2.5h0m-1-7h0m-1 4.5h0m-1.5 6h0m-1.5-7h0m0 6.5h0m-.5-.5h0m-3-6.5h0m0 7.5h0m-1-7.5h0m-1 3.5h0m-1-5.5h0m-1 4h0m0 5.5h0m-.5-2.5h0m-1 .5h0m-.5-7.5h0m0 3.5h0m-3-2h0m-2 5h0m-.5 2.5h0m-.5-5.5h0m-2.5-5h0m0 11.5h0m-2-8.5h0m-1-1.5h0m0 1h0m-.5 0h0m-1 8.5h0m-.5-1.5h0m-.5-6h0m-1 3.5h0m-.5-5h0m0 2.5h0m-2.5-4h0m-2 2.5h0m-.5-2h0m-1 1.5h0m-.5 3h0m-1-1.5h0m-.5-4h0m-.5 5h0m-.5-1.5h0m0 6.5h0m-1.5-7.5h0m-2.5-1h0m0 0h0m-.5 3h0m-.5-3.5h0m0 4h0m0 1h0m0 1.5h0m-1.5-5.5h0m-.5 6h0m-1-4.5h0m-.5-3h0m-1.5 5.5h0m-1-3.5h0m-1-2.5h0m0 4.5h0m-2.5 5h0m-.5-9.5h0m-2.5 10.5h0m-.5-4h0m-1.5-5.5h0m-2.5 1h0m-1 4h0m-.5-4h0m-1 .5h0m0 1h0m-.5-2h0m-3 2.5h0m-1 0h0m-.5 7.5h0m-.5-9h0m-.5-.5h0m-.5 3.5h0m-2.5.5h0m0 3.5h0m-4-8.5h0m0 2h0m-1.5 2.5h0m-1.5-4h0m-2.5-.5h0m-.5 7h0m-1-6.5h0m-.5 3.5h0m-1 3h0m-1.5 2.5h0m-1-8h0m-1 8h0m-.5-4.5h0m0 2.5h0m-.5 1.5h0m-2-7h0m0 1h0m0 7.5h0m-.5 0h0m-.5-10h0m-.5-.5h0m0 10.5h0m0 0h0m-1-11h0m-.5 1h0m0 5.5h0m-.5 1h0m0 2h0m-1.5-5h0m0 4h0m-2.5-5h0m0 0h0m-.5-.5h0m0 7h0m-.5.5h0m-1-9h0m0 5h0m-.5-3.5h0m-.5 8h0m-4-11.5h0m0 4.5h0m0 .5h0m-.5-1.5h0m-.5 3h0m0 2.5h0m-.5-2h0m-1.5-6h0m0 5h0m0 5.5h0m-1.5-9.5h0m0 9h0m-.5-4h0m-1-7h0m-3 11h0m-1-4h0m0 3.5h0m-1 1h0m-2-7h0m0 3h0m-.5-5h0m-.5 5h0m-.5-.5h0m0 4.5h0m-.5-11h0m0 6h0m0 1.5h0m-1.5-7h0m0 6.5h0m-1-5h0m0 2.5h0m0 4h0m-.5-9h0m0 10.5h0m0 1h0m-.5-4h0m-1.5.5h0m-.5-1.5h0m-.5-1.5h0m-3-1h0m0 5h0m-.5-1.5h0m-.5-4h0m-.5 2h0m-.5-1h0m-2 6.5h0m-.5 0h0m-1-7h0m-.5 2.5h0m-.5-1h0m-.5-3.5h0m-1 1.5h0m0 3.5h0m0 4h0m-1-8h0m-1-1h0m0 2h0m0 .5h0m-1 4h0m-.5-3.5h0m-.5-3h0m0 7.5h0m-1 .5h0m-.5-8.5h0m-1 3h0m0 6h0m-.5-9h0m0 8h0m-1-9.5h0m0 1.5h0m0 3h0m-1 5h0m-.5-5.5h0m0 4.5h0m-1.5 0h0m-.5-8.5h0m-.5 1.5h0m0 8.5h0m-.5-3.5h0m-.5.5h0m-.5-2h0m0 6h0m-.5-9h0m-1 9h0m-.5-5h0m-1.5-5.5h0m0 10h0m-.5-2.5h0m-1-4.5h0m0 2.5h0m-.5-.5h0m-.5 1h0m0 1h0m0 3h0m0 .5h0m-.5-.5h0m-1-4h0m0 .5h0m-1-7h0m0 3.5h0m0 1.5h0m-1-4.5h0m0 0h0m0 9.5h0m-.5-7h0m0 5.5h0m-.5-8.5h0m0 3h0m-1-2.5h0m-1.5 9h0m-.5-9h0m-.5 10.5h0m-.5-6h0m0 1h0m0 4h0m0 1.5h0m-.5-7.5h0m0 2.5h0m0 1.5h0m-.5.5h0m-.5-2h0m-.5 1.5h0m-1-3h0m0 4.5h0m-1-3.5h0m-.5-1h0m-.5-5h0m-.5 1.5h0m-2.5 10h0m-.5-10h0m0 1h0m0 4.5h0m-.5-5.5h0m-.5.5h0m0 1h0m-.5 1.5h0m-2.5 4.5h0m-1-6h0m0 1.5h0m-.5 1.5h0m-.5-3h0m-.5 6h0m0 1h0m0 .5h0m-2-8.5h0m-2 3h0m-.5-5h0m0 .5h0m-.5 3h0m0 5.5h0m-2.5-5.5h0m0 3h0m-.5-4.5h0m0 2h0m0 5h0m-1.5-8.5h0m0 4h0m-.5-2.5h0m0 1h0m0 2.5h0m-.5-2.5h0m0 4h0m-.5 1.5h0m-.5-1.5h0m0 1.5h0m-1.5-5h0m0 1h0m0 .5h0m-1 2h0m-1.5-6h0m0 3h0m-.5 4h0m-1.5-2.5h0m-.5 3h0m-2.5 2.5h0m-.5-7h0m0 4h0m-.5-6.5h0m-1 4h0m0 3.5h0m-2-7.5h0m-.5 3h0m-.5 2.5h0m-.5 2.5h0m-.5 1h0m-.5-1h0m-1-.5h0m0 .5h0m-1.5-9h0m-3 2.5h0m0 7h0m-1-8.5h0m0 8.5h0m-.5-6.5h0m0 2.5h0m0 3.5h0m0 1h0m-.5-5h0m-1 2.5h0m-1.5-7.5h0m-1 0h0m-.5 5.5h0m-1.5 1.5h0m-1-5.5h0m0 3h0m-.5 1.5h0m-.5-5h0m0 7.5h0m-.5-8h0m0 2.5h0m0 3.5h0m-.5-6.5h0m-1.5 2h0m-.5-2h0m-.5 3h0m0 1h0m0 2.5h0m-.5 4.5h0m0-.5h0m-1.5-9h0m0 4.5h0m0 5h0m-.5-9h0m0 3.5h0m0 2.5h0m-.5-7.5h0m-1 0h0m0 3h0m-4-1h0m0 4.5h0m-1-6.5h0m-1 1.5h0m0 3.5h0m0 3.5h0m-.5-6.5h0m-1.5 2h0m0 4.5h0m0-.5h0m-.5-7h0m0 6h0m-.5 3.5h0m-1.5-8.5h0m0 0h0m0 4h0m0 3.5h0m0 .5h0m-.5-5h0m0 1.5h0m0 3.5h0m0 0h0m-1-7h0m-1 3.5h0m0 .5h0m-.5-5.5h0m-.5-1h0m-.5 0h0m0 1.5h0m0 7.5h0m0 1h0m0-.5h0m-.5-2h0m-.5-7.5h0m0 5h0m-2 2h0m-1.5 2h0m-.5-10h0m-.5.5h0m0 5.5h0m-1 4h0m-1-7h0m-.5 2.5h0m-.5 5h0m-.5-3h0m0 2h0m-.5-7.5h0m0-.5h0m0 7h0m-.5-7.5h0m0 4.5h0m-.5-1h0m-.5 3.5h0m-1.5 2.5h0m-1-3h0m-1-1h0m-.5-5.5h0m-.5 2h0m0 4.5h0m0 2h0m-.5-9h0m-.5 7.5h0m-.5-5h0m0 5.5h0m0 2.5h0m-1.5-6.5h0m-1.5-3.5h0m-.5 9.5h0m-.5-3.5h0m-1-4h0m-2.5 6.5h0m-.5 0h0m0 0h0m-1.5-3h0m-.5-6h0m-.5 9.5h0m-.5-4h0m0 4h0m0-.5h0m-.5-10h0m0 11h0m-.5-9.5h0m-1 2.5h0m0 4h0m-1-6h0m-.5-1h0m0 4h0m-2 5h0m-1-8.5h0m0 3.5h0m0 2.5h0m-1-1h0m-1.5 3h0m0 1.5h0m0-.5h0m-.5-5h0m0 5h0m-.5-8h0m-.5 3.5h0m-.5-3h0m0 1.5h0m0 3.5h0m-2-7.5h0m0 .5h0m-.5 6h0m-3 4.5h0m-.5-7.5h0m-.5 2h0m0 3.5h0m-.5-8h0m0 1.5h0m0-1h0m0 5h0m0 3.5h0m-1.5-6.5h0m-.5 2.5h0m-1 1h0m-1-4.5h0m-.5 2h0m0 .5h0m-1-.5h0m-1.5-.5h0m0 5h0m-1-5.5h0m0 6.5h0m-.5-5h0m0 5h0m-.5-5.5h0m0 4h0m0 2.5h0m-1-3h0m-.5-8.5h0m0 3h0m0 1h0m-.5-4h0m-.5.5h0m0 8h0m-.5-5.5h0m0 3.5h0m-1-6h0m-.5 8h0m-.5-1h0m0 0h0m-.5-2.5h0m-.5 0h0m0-.5h0m-.5-.5h0m-1-3h0m0 7h0m-.5-5h0m0 2.5h0m-.5-2h0m0 5h0m-.5.5h0m-.5-9h0m0 5.5h0m-.5-4h0m0 4h0m0 2h0m0 1h0m-1.5-5.5h0m-2.5 5.5h0m-2-4.5h0m0 .5h0m-.5 1.5h0m-2 4h0m-.5-7.5h0m-1.5 7h0m-.5-4.5h0m-.5.5h0m-.5-4h0m-1.5 1.5h0m0 .5h0m0 1h0m-.5 1.5h0m0 3.5h0m-1-9.5h0m0 2h0m-1 6h0m0 3h0m-.5-4h0m-1-7h0m-.5 4h0m-.5-4h0m0 1h0m0 1h0m-1.5-2h0m-2 11h0m-1-10h0m0 1.5h0m-1 5.5h0m0 1.5h0m0 1.5h0m-.5-1h0m0 0h0m-2-10h0m-.5 7.5h0m-.5.5h0m0 1h0m-.5-7h0m-.5 0h0m-.5-.5h0m0 7.5h0m-1-9h0m0 11.5h0m-.5-10.5h0m-.5 4.5h0m-.5-3h0m0 7h0m-1-.5h0m-.5-8h0m0 6.5h0m-.5 2.5h0m0 1.5h0m-.5-6h0m-.5-5h0m-.5 3h0m0 4.5h0m0 2.5h0m-1.5-1.5h0m-.5-7h0m-.5-2h0m-3 10.5h0m-1-8h0m-1.5 3.5h0m0 1h0m-3-1.5h0m-.5-.5h0m-.5 5h0m-3-.5h0m-1-2h0m-14.5 15h0m3-1.5h0m2.5-.5h0m4.5-1h0m0 3.5h0m1-2.5h0m1-7.5h0m2 5.5h0m.5 4h0m3-.5h0m1-4.5h0m.5-4.5h0m0 7.5h0m.5-2h0m1.5-1h0m1-2.5h0m0 4.5h0m1-1h0m.5-.5h0m.5-2h0m.5 2h0m.5-5h0m.5 5h0m.5 2.5h0m.5-5.5h0m0 5.5h0m1-4h0m0 1h0m0 4h0m2.5-1.5h0m.5-4h0m1.5 2h0m.5 5.5h0m.5-10h0m0 3.5h0m.5-3h0m0 1.5h0m1-2.5h0m0-.5h0m1 7h0m1-3.5h0m0 2h0m.5-5h0m0 2h0m0 5h0m1.5-8h0m0 4.5h0m0 6.5h0m.5-2.5h0m.5-.5h0m.5 1.5h0m0 0h0m.5-6h0m0 5h0m.5-6h0m0 4h0m0 1h0m1-4.5h0m0 8h0m2-6h0m.5-.5h0m1.5 2h0m.5-1h0m.5-4.5h0m0 4h0m0 4h0m.5-6.5h0m0 1.5h0m0 3.5h0m.5-1h0m1 1h0m.5 1.5h0m2 1.5h0m1-9h0m0 2h0m0 2.5h0m0 4.5h0m1 .5h0m.5-6.5h0m.5 0h0m1-4.5h0m0 1h0m0 3.5h0m.5 4h0m1-1h0m1-7h0m0 10h0m1-9h0m0 1h0m.5-2h0m.5 9h0m0 1h0m1-6.5h0m1 2.5h0m.5-1.5h0m0 2.5h0m.5 1.5h0m.5 1h0m1-8.5h0m.5.5h0m1 4h0m.5 4h0m.5-9h0m.5 1.5h0m1.5-1h0m0 5.5h0m.5-2h0m.5 6h0m1.5-8.5h0m.5 6.5h0m.5-.5h0m.5.5h0m0 .5h0m0 0h0m0-.5h0m1-8.5h0m0 1h0m0 8h0m1-7.5h0m.5 6h0m.5-4.5h0m0 2h0m0 5h0m1.5-9h0m0 1.5h0m0 1.5h0m.5-2.5h0m0 3h0m1-.5h0m0 4h0m1-1h0m.5-7.5h0m1 3.5h0m1 4.5h0m0 2h0m1-3.5h0m1-4h0m0 7h0m0 1h0m1-7.5h0m.5 1h0m.5-1h0m0 4h0m.5-4h0m0 2.5h0m0 4h0m1-4.5h0m1-3.5h0m0 1.5h0m0 6.5h0m1.5-2.5h0m.5-4.5h0m0 5.5h0m.5-2h0m1 1h0m.5-4h0m3.5 4.5h0m0 .5h0m0 2.5h0m1-7h0m1.5 0h0m0 1h0m0 1.5h0m0 2h0m.5-5h0m0 7h0m1-3h0m0 1.5h0m1.5-3.5h0m.5 1h0m0 3h0m3-4h0m2 0h0m.5-4.5h0m.5.5h0m0 .5h0m.5 0h0m0 8.5h0m.5-10h0m0 1h0m0 6.5h0m.5-2.5h0m0 2.5h0m.5 2h0m.5-8h0m0 1.5h0m.5 2.5h0m.5-2h0m.5-.5h0m1 4.5h0m0 2.5h0m.5-5h0m.5 3.5h0m1.5-8h0m0 2.5h0m0 1.5h0m1-3h0m0 4h0m.5-3h0m0 5h0m.5-6.5h0m.5 6h0m2.5-7h0m1.5 10.5h0m1-3.5h0m.5-3.5h0m.5-1.5h0m1 8.5h0m1-10.5h0m0 2.5h0m0 3.5h0m0 2h0m1-3h0m1 4h0m1-2.5h0m.5-3h0m0 .5h0m0 2h0m.5-.5h0m.5-5.5h0m.5 5.5h0m1 1h0m.5-4.5h0m.5 7.5h0m1-6h0m1.5 3.5h0m.5 2.5h0m3-2.5h0m0 1.5h0m.5-6.5h0m.5 8h0m1-4h0m.5 4.5h0m.5-2.5h0m.5-6h0m1 6.5h0m0-.5h0m1-6.5h0m.5 10h0m1-7h0m1 2h0m1-2.5h0m0 7h0m.5-8h0m.5.5h0m0 .5h0m0 6h0m1.5-1h0m1-2.5h0m1 1h0m.5-5.5h0m2 4h0m.5 3h0m0 2h0m.5-4.5h0m1-2h0m3.5-2.5h0m0 1h0m.5 6h0m2 2.5h0m.5-10h0m1.5-1h0m0 6h0m1 3h0m.5-5.5h0m.5 4.5h0m.5-7h0m.5 1h0m.5 9h0m1-7.5h0m0 0h0m.5 1.5h0m.5 6h0m.5-.5h0m.5-8h0m0 5h0m.5-8h0m0 5.5h0m0 0h0m0 2h0m1-5.5h0m.5 9h0m1.5.5h0m.5-5h0m.5-6.5h0m.5.5h0m0 0h0m0 .5h0m0 1.5h0m.5-1h0m1 2.5h0m.5-2h0m0 7h0m.5-7.5h0m1 7h0m1-3.5h0m.5 5.5h0m.5-4.5h0m0 4h0m1-1.5h0m1-4.5h0m.5-.5h0m.5 5.5h0m.5-9h0m0 0h0m0 9h0m.5-2.5h0m1.5-.5h0m.5 3h0m0 2h0m.5-5h0m1.5 4.5h0m.5-6.5h0m0 1h0m1 6.5h0m.5-7.5h0m0 3.5h0m0 3h0m1-5.5h0m0 2h0m.5-6h0m1 4.5h0m0 4.5h0m.5-7h0m.5-3h0m1.5 1h0m.5 6h0m0 1h0m0 3h0m2-2.5h0m0-.5h0m1-5h0m.5-1h0m1 1.5h0m.5 2h0m.5.5h0m.5-2h0m.5 7.5h0m1-8.5h0m0 1.5h0m0 6h0m.5-10.5h0m0 7h0m0 1.5h0m.5-6.5h0m.5-1.5h0m0 3h0m.5 6.5h0m.5-5.5h0m1.5 2h0m1.5-2h0m.5 1.5h0m1-5.5h0m0 2h0m.5 3.5h0m2.5-5h0m0 1h0m.5 7.5h0m1-2h0m1.5-1.5h0m0 3.5h0m.5-8h0m2 0h0m.5 2h0m0 4.5h0m.5-6h0m.5-1.5h0m0 0h0m0 1h0m.5 10h0m2-10.5h0m0 5.5h0m0 1.5h0m1 2.5h0m.5-6h0m0 5.5h0m1-8h0m0 5.5h0m0 3h0m2-7h0m0 .5h0m1 1.5h0m.5.5h0m0 2h0m0 .5h0m.5-7h0m.5 6.5h0m.5-3.5h0m.5-1.5h0m0 5h0m1-6h0m0 9.5h0m.5-11.5h0m1 6.5h0m1-1h0m0 2h0m0 1.5h0m.5-1.5h0m0 1.5h0m.5-7.5h0m.5 3h0m0 5.5h0m.5-1.5h0m0 2h0m.5-6.5h0m0 7h0m.5-7h0m.5 1h0m1-5h0m1.5 5h0m0 1h0m0 4h0m.5-9h0m.5 1.5h0m1 7h0m1-7h0m0 2h0m0 3.5h0m.5-6.5h0m0 6h0m.5-7.5h0m1 3h0m0 3.5h0m2-3h0m0 .5h0m.5 1h0m0 6.5h0m1-8.5h0m0 6.5h0m.5-9h0m0 2h0m.5-2h0m0 2h0m1 6h0m1-8.5h0m.5 7h0m1.5 4h0m.5-7h0m0 1.5h0m1-1h0m.5.5h0m0-1h0m0 2h0m1-.5h0m0 3.5h0m.5-6.5h0m0 7.5h0m1.5-7.5h0m0 2h0m0 4h0m.5-2.5h0m0 2h0m.5-3.5h0m.5-4h0m2 3.5h0m1-4h0m0 6.5h0m0 4.5h0m1-.5h0m.5-2.5h0m0 2.5h0m1-2.5h0m.5-2.5h0m1.5-5.5h0m.5 3h0m0 5h0m1-8h0m0 0h0m.5 6h0m.5-5.5h0m2 6.5h0m0 1.5h0m.5 2h0m.5-4.5h0m1-5h0m0 2.5h0m0 1.5h0m.5 1.5h0m1-6.5h0m0 9.5h0m1.5-9h0m0 3h0m0 0h0m1 3h0m.5-5h0m0 7h0m.5-.5h0m.5-8h0m0 7.5h0m.5-6h0m0 4.5h0m.5-1.5h0m1-4h0m0 .5h0m0 7h0m1.5-2.5h0m.5 4.5h0m.5-7.5h0m0 3.5h0m4-.5h0m3 4h0m1 .5h0m0 1h0m1.5.5h0m2-9.5h0m.5-1h0m0 2.5h0m0 1h0m2.5-3h0m0 1.5h0m.5 8h0m.5-7.5h0m0 7h0m.5-3.5h0m0 4.5h0m.5-3.5h0m.5-7.5h0m3 0h0m1.5 11h0m1.5-4h0m1-5.5h0m0 4.5h0m.5-3h0m0 0h0m1 8h0m1-2h0m.5-3.5h0m.5 2h0m.5-6.5h0m2 3.5h0m1 2h0m2 4.5h0m.5-5.5h0m5-3.5h0m.5-1.5h0m1 0h0m.5-1h0m1 7.5h0m1-7.5h0m.5 8h0m1.5 1.5h0m.5-6.5h0m2.5 6.5h0m.5-9h0m.5-.5h0m1 9h0m1.5-5h0m.5-1h0m2 5.5h0m0 .5h0m2-7.5h0m2.5 7h0m.5 2h0m2.5.5h0m.5-8h0m.5.5h0m0 2h0m.5.5h0m4 .5h0m2.5-4.5h0m4 6.5h0m.5-6h0m0 4.5h0m4 1h0m0 2h0m.5-6.5h0m0 2h0m2 5h0m0 .5h0m2-4.5h0m2.5-6h0m1.5 10.5h0m2.5-.5h0m1-10h0m2 3.5h0m1 5.5h0m.5-9.5h0m.5 2.5h0m2.5.5h0m1 7h0m1.5-6h0m1.5 5.5h0m1-5h0m0 0h0m1.5-3.5h0m0 1h0m1.5 1.5h0m0 8h0m2-4h0m0 0h0m1.5-5.5h0m3 0h0m4 7h0m.5 1.5h0m2-2h0m1.5 3h0m.5-2.5h0m2-5.5h0m2 4h0m.5-7h0m1 1h0m.5 5.5h0m.5-6.5h0m.5 9h0m1 1.5h0m.5-6h0m1.5 6.5h0m1.5-8.5h0m2.5 4h0m0 1.5h0m.5-7h0m.5-.5h0m2 2h0m3 4h0m0 2h0m1.5-3h0m.5 2.5h0m.5 2.5h0m1.5-7.5h0m2 2h0m1-.5h0m0 4h0m1-1h0m1-3h0m1-3.5h0m0 8.5h0m2 .5h0m0 1h0m.5-8.5h0m.5 6.5h0m.5-1h0m.5-7h0m0 4h0m0 5.5h0m.5-2h0m1.5-5h0m0 2.5h0m1 3.5h0m5-.5h0m1.5-5h0m3.5 1.5h0m.5-5h0m0 8.5h0m3-3h0m0-.5h0m2.5 5.5h0m3-9.5h0m.5-1h0m1 8.5h0m6-8.5h0m3.5 4.5h0m.5-4.5h0m.5.5h0m4-1h0m1.5 9.5h0m1 1.5h0m1-3.5h0m4 3.5h0m4-1.5h0m1.5-3h0m1 1h0m.5-7.5h0m2 .5h0m2.5 4.5h0m1.5 1h0m1.5 3h0m.5-8h0m1 6h0m2 2h0m.5-5h0m0 4.5h0m4 2h0m2.5-11h0m2 1.5h0m0 2h0m1.5 4.5h0m1-7.5h0m.5 4h0m3-3.5h0m0 10h0m3-9h0m0 9h0m.5-8h0m0 1h0m1 4h0m1.5 2h0m4 0h0m1.5 1h0m4-1.5h0m6.5-4h0m1-1h0m4 2h0m6 17h0m-.5-1.5h0m-4-4h0m0 3h0m-1.5 1h0m-1.5-3h0m-1.5 0h0m-4.5.5h0m-4-7.5h0m0 1.5h0m-1 1.5h0m-4 1h0m0-.5h0m0 7.5h0m-.5-11h0m0 3.5h0m0 6h0m-.5-7.5h0m0 3h0m0 2h0m-1 4h0m-1-5h0m-1.5-4h0m-.5-1.5h0m-.5 2.5h0m0 7h0m-1-7h0m-.5-3h0m-1 3.5h0m-2.5-.5h0m-.5 5h0m-.5 1h0m-4-3.5h0m-1-4.5h0m-4.5-.5h0m-2.5 7.5h0m-1.5-4h0m0 2.5h0m0 3h0m-2.5.5h0m-.5-5h0m-.5 6.5h0m-1.5-11.5h0m0 5.5h0m0 5h0m-5-3h0m-2.5-7.5h0m0 10h0m-1 .5h0m-.5-6h0m0 7h0m-1-8.5h0m-2 2.5h0m-.5 3h0m-5.5-5h0m0 7h0m-1.5-4h0m0 3.5h0m-3-2.5h0m-6.5-7h0m0 5.5h0m-1-5.5h0m-1 9.5h0m-2 .5h0m-1.5-5h0m-1.5 1h0m-.5 3h0m-.5.5h0m-3-7.5h0m-1.5-1h0m-2.5 0h0m-2-1h0m0 5.5h0m-5.5 1h0m-.5 2h0m-.5-2h0m-.5-3.5h0m-2 7h0m-1.5-2.5h0m-3-8h0m-1 8h0m-2.5-5.5h0m-.5 5h0m-1.5-5h0m0 6.5h0m-1.5-5h0m0 5.5h0m-.5-7h0m-3-2h0m-1 4.5h0m-6-4.5h0m-.5 8h0m-4.5-8h0m0 4.5h0m0-.5h0m-.5-1.5h0m-1 5h0m-4-5h0m-1.5 0h0m-.5-3h0m0 9h0m0 1.5h0m-.5.5h0m-.5-1h0m-2-10h0m-6.5 8.5h0m-2 1.5h0m-.5-1.5h0m-.5-8.5h0m0 2.5h0m0 6.5h0m-4.5-.5h0m0 2.5h0m-2-4.5h0m-.5 4.5h0m-1-7h0m0 5h0m0-.5h0m-2-3.5h0m0 2h0m-1-7h0m-.5 8h0m-3.5-3.5h0m-1-2h0m0 6.5h0m-1-5h0m-1-3.5h0m-2 6.5h0m-2-6.5h0m-2.5 7h0m0 2.5h0m-4-3h0m-.5.5h0m-.5-7h0m0 6h0m-1.5-6h0m-1 2.5h0m-2.5-.5h0m0 5h0m0 2h0m-.5-2.5h0m-.5-5h0m-1 8h0m-.5-2h0m-1-5.5h0m0 6.5h0m-1.5 0h0m-.5-2h0m-1.5-7h0m-.5 1.5h0m0 3h0m-1.5-3h0m-.5-1.5h0m0 8.5h0m-1-8h0m-2 7.5h0m-3 3.5h0m-3-7h0m0-.5h0m0 1.5h0m-.5 4.5h0m-.5-2.5h0m-.5-7h0m-1.5 1h0m-.5 3.5h0m-.5-5h0m0 9.5h0m-1 1.5h0m-3-7.5h0m-.5 0h0m-.5 1.5h0m-2 5h0m-.5-4.5h0m-.5-.5h0m-.5 3.5h0m-2-3h0m0-.5h0m-5.5 6.5h0m-2-10h0m0 8h0m-1-8.5h0m-1-.5h0m0 3h0m-1 8h0m-.5 0h0m-1.5-11.5h0m-.5 6h0m-.5 0h0m0 2h0m-1-.5h0m-.5-1.5h0m0 0h0m0 2.5h0m-.5 1.5h0m-1.5-5h0m-.5-4.5h0m-1.5 4h0m0 4h0m-1 2.5h0m-1.5-3h0m0 3.5h0m-1-9.5h0m-1.5 1h0m-.5 0h0m0 6h0m-.5-8h0m-3.5 1h0m-.5-1h0m-.5 8h0m-3.5-1.5h0m-1.5-1h0m-.5-4h0m0 1.5h0m0 6.5h0m-.5-7.5h0m-1-1.5h0m0 1.5h0m-2-1.5h0m-.5 1h0m-2-1.5h0m-1 9h0m-1.5-1.5h0m-2-8h0m-1.5-.5h0m-.5 3.5h0m0 1.5h0m0 4h0m-.5-3.5h0m-.5-3h0m-.5-1.5h0m0 2h0m0 7.5h0m-1.5-7h0m0 4h0m-2 4h0m-.5-8h0m0 2h0m-1 2h0m0 1.5h0m-.5 1h0m-1-4h0m0 3h0m-.5-8.5h0m-1.5 9h0m-.5-9h0m0 6h0m-.5-3.5h0m0 2h0m-.5 6h0m-.5.5h0m0-.5h0m-.5-6h0m-1 0h0m0 3.5h0m-.5-2h0m-.5-4h0m-2 6h0m-.5-8h0m0 10h0m-.5-8h0m-1-1.5h0m0 10.5h0m-.5-9h0m0 6h0m-.5-1h0m-.5 1h0m-.5 3h0m-.5-4h0m-.5-2.5h0m0 2h0m-.5-6h0m-1 5h0m0 3h0m-.5-6.5h0m-.5 4.5h0m-.5 2.5h0m-.5-7h0m0-.5h0m-.5 4h0m-1.5-3.5h0m-.5 1h0m-.5 0h0m-1.5 5.5h0m0 2.5h0m-.5-10.5h0m0 7h0m-.5-7h0m0 3h0m0-.5h0m-2 .5h0m-2.5-.5h0m-.5-2.5h0m0 10h0m-1.5-5h0m-.5-5.5h0m-.5 5.5h0m0 3h0m-1.5-8h0m0 5.5h0m-3.5-4h0m-1 8.5h0m-.5-2.5h0m-.5-7.5h0m0 9.5h0m0-.5h0m0 1.5h0m-1-11.5h0m-1 2.5h0m-.5-1h0m-.5 5.5h0m-1-6h0m0 6.5h0m-.5-5.5h0m-.5 3.5h0m-.5 2h0m-.5 1h0m-1.5-3.5h0m-1.5 1h0m0 4.5h0m-.5-.5h0m-.5-8h0m0 6h0m0 3.5h0m-.5-11h0m0 5h0m-1-5.5h0m-.5 4.5h0m0 .5h0m-1-4.5h0m-1 2h0m0 1.5h0m0 3h0m-2 .5h0m-.5-1h0m-.5-5.5h0m0 6h0m0 4h0m-.5-11h0m0 .5h0m-1.5 1h0m0 4.5h0m0 3h0m-1-.5h0m-1-8.5h0m-1 9h0m-.5-2.5h0m0-.5h0m-1.5 5h0m-1.5-11h0m-.5 2h0m-.5 8h0m0 1.5h0m-1-6h0m0 4h0m-.5-3h0m0 1h0m-.5-6.5h0m0 5.5h0m-.5-1.5h0m0 6.5h0m-1-9h0m-1 3.5h0m-.5 4.5h0m-.5-3h0m-1.5 1.5h0m-1-1.5h0m0 2h0m0 1h0m-.5-8.5h0m-.5-2h0m0 2.5h0m0 7h0m-1-9.5h0m0 4h0m0 3h0m-1-5.5h0m0 4.5h0m-.5-.5h0m0 1.5h0m0 3h0m-.5-6.5h0m0 4h0m-.5 1h0m-1-2h0m-.5-4.5h0m-.5 3h0m-.5-.5h0m-.5 0h0m-.5-4.5h0m0 5.5h0m-1 .5h0m-.5-4.5h0m-.5 3h0m0 1h0m-.5-5.5h0m-.5 4h0m-.5 1h0m-.5 3h0m-2-6.5h0m0 .5h0m0 5.5h0m0 2h0m-.5-5h0m-2 6h0m-1.5-1h0m-.5-5h0m-1.5-2h0m0 6h0m0 1h0m-1.5-7h0m0 2h0m0 4h0m-.5-.5h0m-.5 3.5h0m-.5-11.5h0m0 9.5h0m-.5-6h0m-.5-3h0m-.5 4h0m-.5-2.5h0m-1.5-1.5h0m0 2.5h0m-.5 0h0m0 .5h0m-2.5 5.5h0m-.5-6h0m0 5.5h0m0 2.5h0m-.5-9h0m0 5h0m-1-2.5h0m-1-3.5h0m-1 1h0m-.5-1h0m0 2.5h0m-.5-2h0m0 .5h0m-.5 2h0m0 6.5h0m-.5-9h0m0 0h0m-.5 2h0m0 1.5h0m0 4.5h0m-1-8.5h0m0 2.5h0m-1.5.5h0m0 2.5h0m0 5h0m-.5-2.5h0m-1-5.5h0m0 6h0m-.5-9h0m-.5 2h0m0 .5h0m-1 0h0m0 0h0m-.5-2.5h0m-.5 2.5h0m-.5-1.5h0m0 3h0m0 2h0m-2 2.5h0m-.5-6h0m0 1.5h0m-2-3.5h0m-.5 5.5h0m-.5 1.5h0m-.5-3.5h0m-1 2.5h0m0-1h0m-.5.5h0m0 2h0m-.5 2.5h0m-.5-6.5h0m0 3h0m-.5-6h0m0-.5h0m-.5 9h0m-.5-6.5h0m-.5 6h0m-.5-9.5h0m0 9h0m-1-1h0m-.5 3h0m-1 0h0m-1-3h0m0 3.5h0m-1.5-1.5h0m-2.5-10h0m-1 8.5h0m-.5 2h0m-.5-9.5h0m-.5.5h0m0 2h0m-.5 3h0m-1.5-2.5h0m-.5-3.5h0m-1 0h0m0 7h0m-.5-6.5h0m-1 9h0m-.5-7h0m-1 2h0m0 6h0m-1-3h0m0 .5h0m-.5-2h0m-.5 4h0m-.5-6h0m-.5 2h0m0 4h0m-1-9h0m0 6h0m0 2.5h0m-1.5 1h0m-.5-2.5h0m-.5-8.5h0m0 9h0m-.5-2.5h0m-.5 2h0m-2 3h0m-1-6h0m0-.5h0m0 3.5h0m0 0h0m0 0h0m-.5-7h0m0 1.5h0m-2 0h0m0 0h0m-.5 2h0m-1.5 4h0m-1-4.5h0m0 1.5h0m-1-4.5h0m0 7h0m-1-.5h0m-.5-6.5h0m0 2.5h0m-.5-2.5h0m-.5 7.5h0m-.5-9h0m0 5.5h0m-1.5 0h0m-.5 1.5h0m-1.5-.5h0m-.5-5.5h0m-2-1h0m0 5.5h0m0 2h0m-1-1.5h0m-.5-2h0m0 .5h0m0-.5h0m-.5-2.5h0m0 1.5h0m0 4.5h0m0 0h0m-.5 2h0m-1-5.5h0m0-.5h0m0 2.5h0m-.5 5h0m-.5-.5h0m-.5-7.5h0m-1-2h0m0 6.5h0m-.5-1.5h0m0 3h0m-.5-1h0m-.5-2.5h0m-.5-1h0m0 7h0m-1-6h0m-2 .5h0m-1-6h0m0 2.5h0m0 9h0m-.5-7.5h0m0 5h0m-2-3h0m0 0h0m-.5 0h0m0 3h0m-.5-8h0m0 6.5h0m-.5-2h0m-.5 2h0m-.5-6h0m-.5 1h0m0 3h0m-.5-4h0m-1 7.5h0m-1.5-2.5h0m-.5-2h0m-.5 2.5h0m-1-7h0m0 6.5h0m0 1.5h0m0 2.5h0m-1.5-3h0m-.5-1.5h0m-1.5 3.5h0m0 2h0m-.5-5h0m-.5 3h0m-1-5h0m-.5-3.5h0m-1 2.5h0m0 .5h0m0 7.5h0m-.5-4.5h0m-2.5-3.5h0m-.5-3.5h0m-1 0h0m0 3h0m-.5 4h0m0 1.5h0m-.5-8h0m-1 7.5h0m-1-6.5h0m-1-.5h0m0 7h0m0 .5h0m0 2.5h0m-.5-8h0m-.5-3h0m-1 2.5h0m-.5 7h0m-1-8h0m0 8.5h0m-.5-2h0m-.5-3h0m-1 5.5h0m-.5-1h0m0 2h0m-1.5-8h0m-.5 4h0m0 .5h0m-.5-5.5h0m0 5.5h0m-.5 1.5h0m0 .5h0m-.5-3h0m0 2h0m-.5-5.5h0m-1-1.5h0m-1 9h0m-1-.5h0m-1-3h0m-2-5.5h0m0 3h0m0 4.5h0m-1 1h0m-1.5.5h0m-.5-6h0m-1 6h0m-.5-7h0m0 .5h0m-.5 5.5h0m-.5-7.5h0m0 5h0m-.5-6.5h0m0 8.5h0m-1-7h0m-2.5 2h0m-.5 2.5h0m-1 4.5h0m-.5-7h0m-.5-4h0m-2.5 1h0m0 5.5h0m-1.5-3.5h0m-1 2h0m0 2h0m-1-6h0m0 2.5h0m-.5 2.5h0m-1 2h0m-1.5-4h0m-.5 2.5h0m0 1.5h0m-1.5 1h0m-.5-6h0m-1.5 6h0m-1.5-6h0m0 8h0m-.5-9h0m0 4h0m-.5-4.5h0m-.5 4.5h0m-.5-4h0m-.5 2h0m-1 7h0m-.5-7h0m-.5-2h0m0 7.5h0m-.5-8h0m-.5 2h0m0 6.5h0m-.5 1h0m-1.5-5h0m0 2.5h0m-.5-9h0m0 11.5h0m-1-10.5h0m0 2.5h0m-1-2h0m0 3h0m-1.5.5h0m-1-4h0m0 10.5h0m-.5-11.5h0m-2 8.5h0m-3-5h0m-.5 3.5h0m-2-6.5h0m-1 10h0m-1-7h0m0 5h0m-2-1.5h0m-.5-4.5h0m-1.5-.5h0m0 7h0m-.5-8.5h0m-1 5.5h0m-8.5 13.5h0m.5-2.5h0m4.5 0h0m1 2.5h0m2.5-5h0m0 7.5h0m1.5-4.5h0m0 5.5h0m.5-4.5h0m.5-1.5h0m0 2h0m1 1h0m.5-1.5h0m1 2.5h0m0 0h0m1 0h0m0 2h0m.5-6h0m.5-3.5h0m0 8.5h0m0 1h0m.5-11h0m0 10h0m1 1h0m.5-3.5h0m.5-2h0m0 2.5h0m1-.5h0m1.5-3.5h0m0 1.5h0m0 2h0m0 .5h0m0 3h0m.5-2.5h0m.5-.5h0m0 1.5h0m.5-5.5h0m1 0h0m1 3.5h0m2-5.5h0m.5-1.5h0m0 8h0m1-8.5h0m2 6.5h0m0 5h0m.5-10.5h0m.5 6.5h0m.5-1.5h0m1.5 3h0m1.5-4.5h0m2-4h0m.5 11h0m1-7h0m.5 6h0m1-5h0m1 0h0m.5-3h0m.5 7.5h0m.5-10h0m0 10.5h0m.5-9.5h0m0 2.5h0m.5 3h0m.5-4h0m1 8h0m1.5-3h0m.5-6h0m0 2.5h0m.5 2h0m1.5 0h0m0 5h0m.5-5h0m.5-3.5h0m1-2.5h0m1.5 2.5h0m.5 5.5h0m0 0h0m.5-5h0m0 1h0m.5-3.5h0m.5 7.5h0m.5-1h0m1.5-1h0m.5 4h0m0 1.5h0m1-8h0m.5-1h0m1 0h0m0 5.5h0m0 3.5h0m1-1.5h0m1 1h0m1-4.5h0m.5 3.5h0m2.5 1.5h0m.5-2h0m0-.5h0m3-9h0m0 2h0m0 5.5h0m.5-2h0m0 3.5h0m.5-7h0m1 6h0m.5-5.5h0m0 4.5h0m0 4.5h0m1.5-7h0m0-.5h0m.5-1.5h0m.5 2.5h0m0 2.5h0m0 0h0m1-7h0m0 4h0m0 4h0m1-2.5h0m0 5h0m.5-10h0m0 5h0m.5-2h0m0 3.5h0m0 3h0m1.5-7h0m.5-.5h0m0 7.5h0m.5-10h0m.5 9h0m.5-9h0m0 8.5h0m1-6.5h0m0 .5h0m0 5.5h0m.5-6h0m.5 1h0m0 4h0m0 1.5h0m0 .5h0m.5-1h0m.5-7h0m0 1h0m.5 2.5h0m1.5.5h0m0 1h0m2.5-2h0m0 4h0m0 0h0m1-7h0m.5 5.5h0m0 2.5h0m0 1h0m1-8h0m1.5 7.5h0m1.5-7h0m1-1h0m1-2h0m0 4.5h0m0 1h0m0 4.5h0m1-7.5h0m0 2.5h0m.5 1.5h0m.5-2h0m0 2.5h0m0 4.5h0m1-7h0m2-4.5h0m0 4h0m0 4.5h0m1-7h0m0 3h0m0 2h0m1 2h0m0 3h0m1-8.5h0m0 2.5h0m.5 0h0m.5-3.5h0m0 7h0m1.5-7h0m0 1h0m0 2.5h0m.5-1.5h0m0 4.5h0m0 .5h0m1.5-3.5h0m.5 3h0m1-.5h0m1-6.5h0m0 1.5h0m0 1.5h0m.5-2.5h0m0 4.5h0m1 4.5h0m.5-4.5h0m0 2h0m.5-8h0m.5 10h0m1.5-9h0m0 4h0m0 .5h0m0 2.5h0m.5 2h0m0 .5h0m.5-11h0m.5 2.5h0m0 2.5h0m.5 4.5h0m.5-3.5h0m0 1h0m.5-7h0m0 11.5h0m1-11.5h0m0 1.5h0m1.5 1h0m1 .5h0m0 8.5h0m.5-7h0m.5-3h0m1 3.5h0m1 5h0m.5-10h0m0 3.5h0m.5 4h0m3 4h0m.5-2.5h0m.5 1.5h0m1.5-10h0m.5 6.5h0m.5-6h0m0 2h0m0-.5h0m1.5 9h0m.5-3.5h0m.5 3h0m1.5-9.5h0m2 8.5h0m.5.5h0m1-4.5h0m0 4h0m.5-2h0m.5-4.5h0m0 2h0m1-2.5h0m0 1h0m0 3h0m0 .5h0m0 1h0m.5-8h0m0 6.5h0m.5-3h0m0 5.5h0m1-6.5h0m0 0h0m1.5 7.5h0m1-10h0m0 .5h0m.5 1h0m0 2h0m0-1h0m.5 5.5h0m1.5 2h0m.5-8h0m0 .5h0m0 6h0m.5-7.5h0m.5 6h0m1.5.5h0m0 1.5h0m1-6.5h0m0 1.5h0m1.5-4.5h0m0 8.5h0m2.5 1.5h0m.5-9h0m0 3h0m0 6.5h0m1-4.5h0m0 5h0m.5-2h0m1-8h0m0 4.5h0m.5-2h0m1-3.5h0m0 6.5h0m0 2.5h0m0 0h0m2-2.5h0m0 3.5h0m.5-8h0m0 2.5h0m.5-3.5h0m0 3h0m0 4.5h0m.5-6.5h0m0 7h0m2.5-8.5h0m.5 0h0m1 1h0m0 5h0m0 5h0m.5-9h0m0 6.5h0m.5-5.5h0m0 3.5h0m.5 2h0m.5-.5h0m.5-5h0m0 1.5h0m0 .5h0m.5-4h0m0 8h0m.5-6h0m.5 6.5h0m.5-5h0m.5 3.5h0m.5-5.5h0m0 1.5h0m0 0h0m.5-.5h0m1-1.5h0m2 2h0m0 2h0m.5-6h0m0 2.5h0m.5-1.5h0m0 8h0m.5-2h0m1.5-6h0m0 9.5h0m1-11h0m.5 10.5h0m.5-6h0m.5 4.5h0m0 2h0m1.5-.5h0m0 .5h0m1-8h0m3 5.5h0m1-5h0m1.5 1.5h0m1-5h0m0 3.5h0m0 8h0m.5-9.5h0m.5 5h0m.5-6h0m0 1.5h0m0 7.5h0m1.5-9h0m2.5 2h0m0 .5h0m0 0h0m1.5-1.5h0m0 2h0m0 7.5h0m1-2h0m.5 1h0m1-8h0m0 8.5h0m.5-5h0m.5-4.5h0m.5 1.5h0m0 1h0m1.5 5h0m0 1.5h0m.5-1.5h0m.5-1h0m.5 2h0m.5-4.5h0m0 1.5h0m.5-4h0m0 4h0m0 2h0m0 .5h0m.5-9h0m.5 0h0m.5-.5h0m1.5 9.5h0m.5-4.5h0m.5-2h0m0 4h0m.5 4h0m0 .5h0m1-11h0m.5-.5h0m0 11.5h0m1-4.5h0m0 4.5h0m1.5-10.5h0m1.5-.5h0m0 4.5h0m0 1h0m1-3.5h0m.5 1.5h0m1-3h0m.5 8.5h0m.5-1.5h0m.5-3.5h0m1.5 5h0m.5-6.5h0m1.5-3h0m0 .5h0m1 5h0m0 1h0m3-6h0m1.5 0h0m0 5h0m0 3h0m1 0h0m0 1h0m.5-2.5h0m1.5-6.5h0m0 10h0m2-9h0m.5 3h0m.5-3.5h0m0 1h0m2.5 4.5h0m.5-6.5h0m0 1.5h0m0 1.5h0m0 7.5h0m1-5h0m0 2.5h0m0-.5h0m2-1.5h0m.5-4h0m0 3h0m.5 3h0m1 0h0m.5-4.5h0m0 5h0m1-4h0m2-2.5h0m1.5 2.5h0m1 5h0m.5-3.5h0m0 4h0m1.5-6.5h0m0 0h0m0 2.5h0m2-.5h0m0 2.5h0m.5-5h0m1 0h0m0 3.5h0m.5 3h0m.5-6h0m0 0h0m0 3h0m0 .5h0m1-2h0m1-4.5h0m.5 2.5h0m.5-2h0m0 0h0m.5 3h0m1-4h0m.5 3h0m4-2h0m0 1.5h0m2 6h0m.5.5h0m1-2h0m0 3h0m.5-8.5h0m0 4.5h0m1 5.5h0m.5-11h0m0 7h0m1.5-2h0m1-3.5h0m.5-1.5h0m2 .5h0m0 .5h0m.5 2.5h0m.5 5h0m0 2h0m2-5h0m0 5h0m.5-8.5h0m0 0h0m0 8h0m1-10h0m.5 9h0m.5-3h0m2.5 1.5h0m.5-6.5h0m0 9h0m2-7.5h0m0 5.5h0m1.5-5.5h0m.5-3h0m0 1h0m1.5 0h0m0 9h0m.5-9.5h0m0 3h0m0 3h0m.5-5h0m0 4h0m1 .5h0m.5 1h0m1.5 4h0m1.5-11h0m1.5 4h0m1 5.5h0m1.5.5h0m1-.5h0m1.5 0h0m2-1h0m.5-3.5h0m1 2.5h0m1 .5h0m.5-8h0m.5 6h0m5-3h0m0 .5h0m1 3h0m2-.5h0m.5-6h0m.5 2h0m.5.5h0m1.5-2h0m2 2h0m.5 7.5h0m1-7.5h0m.5 7.5h0m1-2h0m0 1.5h0m2-8.5h0m.5 10h0m.5-4h0m2 0h0m.5-6h0m3 8.5h0m2-1h0m.5-3h0m1 5.5h0m2-9h0m3 1h0m.5 5h0m.5-1h0m0-1h0m0 2h0m.5-5h0m1-3h0m1.5 2.5h0m0 2h0m.5 3h0m.5-1.5h0m0 3h0m2.5-2.5h0m0 2h0m2-5.5h0m.5 3h0m.5-4h0m1-.5h0m0 3h0m.5-3.5h0m1 6h0m5-5h0m0 .5h0m.5-.5h0m2 2.5h0m1 .5h0m1.5 6h0m2-7h0m0 1.5h0m.5-4h0m2.5 10h0m1-8.5h0m0 8.5h0m.5-9h0m0 4.5h0m.5-3h0m2-3h0m0 8.5h0m1.5-7h0m1-2h0m1.5 0h0m1 1.5h0m0 4.5h0m1-6.5h0m0 7h0m1 4h0m.5-8.5h0m1 1h0m0 4.5h0m.5-2.5h0m2.5-3.5h0m.5 6h0m1 3h0m2-3h0m.5-2.5h0m.5-3h0m.5 2.5h0m.5-4.5h0m1 7h0m.5-4h0m1 3h0m0 2h0m0 .5h0m.5-.5h0m0 1h0m2.5-7h0m.5 0h0m2 1.5h0m.5 3.5h0m.5 2.5h0m2 .5h0m1-1.5h0m1 1.5h0m1-10h0m0 .5h0m6 6h0m1-6.5h0m.5 9h0m1-4.5h0m.5 5.5h0m1.5 0h0m1.5-1.5h0m2-8.5h0m.5 5.5h0m3.5-6h0m1.5 1h0m1 7h0m.5-5.5h0m2 0h0m1.5 5h0m.5-4.5h0m.5-2h0m1.5 0h0m.5 0h0m0 8.5h0m2-3h0m7-4h0m.5 8.5h0m1.5-3h0m.5 3h0m1-9.5h0m0 6.5h0m.5-6.5h0m3 1.5h0m0 2.5h0m1 3.5h0m1-8.5h0m.5 10h0m.5-6h0m2.5-.5h0m.5 1h0m2-3.5h0m1.5 2.5h0m0 7h0m3-2.5h0m2.5-5.5h0m1.5-2h0m0 1h0m1 3.5h0m2.5 0h0m6-3.5h0m.5 4h0m.5 5h0m2-10.5h0m6 7h0m1-2.5h0m1-4.5h0m.5 3.5h0m2 3h0m2 3.5h0m1-6h0m0 0h0m1 1h0m0 1h0m6.5-6h0m4 5.5h0m0 3h0m3-.5h0m0 2.5h0m1-11h0m5 7h0m.5-5h0m2.5 0h0m1 8h0m0 .5h0m1.5-3.5h0m3-1h0m0 0h0m2.5-6h0m3 11.5h0m.5-5h0m.5-5h0m0 2h0m.5-3.5h0m1 11h0m.5-8h0m2.5 7h0m1.5-4h0m1.5-3.5h0m.5 1h0m1 0h0m0 1.5h0m3.5 6h0m.5-10h0m.5 8h0m1.5 0h0m2-6h0m3 2h0m1.5 5h0m1-4.5h0m1-3.5h0m0 6h0m2-3.5h0m1.5 3h0m3-1h0m1.5-2h0m3-2h0m0 1.5h0m.5 5h0m0 0h0m4 .5h0m1-8.5h0m.5 4.5h0m0 2.5h0m1.5-1h0m1-4.5h0m.5 7h0m3-.5h0m-4 9.5h0m-1-1h0m-1-4h0m-2.5-.5h0m-1.5 3h0m-2 2.5h0m-1 0h0m-2-.5h0m-1.5-2.5h0m0 2.5h0m-3.5-5.5h0m0 0h0m-.5 11h0m-1-11.5h0m-1.5 5.5h0m-1.5-4h0m-.5 4.5h0m0 2.5h0m-1.5-4.5h0m-.5-2h0m-2.5-.5h0m-2 7h0m-6.5-1h0m-1-7.5h0m-1 6.5h0m-.5-.5h0m-2 1h0m-1 2h0m-.5-6h0m-1.5-1h0m-2.5 2h0m-.5-1h0m-1 1h0m-2 1h0m-3 5.5h0m-.5-6h0m-3.5 5.5h0m-.5-4h0m-.5-2h0m-.5 1h0m-1-5h0m-1.5 5h0m-1 3h0m-2-5h0m-.5 3.5h0m-2 4.5h0m-4.5-7.5h0m-1 3h0m-1-2h0m0 3h0m-.5.5h0m0 .5h0m-2.5-8.5h0m-3 .5h0m-1.5 6.5h0m-.5 1.5h0m-1 2.5h0m-.5-2h0m-1 .5h0m-1-9h0m-.5 3h0m-.5 4.5h0m-2.5-4h0m-2 5.5h0m-1.5-8h0m-.5 6.5h0m-2 1h0m0 0h0m0 1h0m-.5 1.5h0m-1.5-1h0m-.5-3h0m-1.5-1.5h0m-.5-2h0m0 4h0m-3.5.5h0m-5.5.5h0m-1.5-8.5h0m-.5.5h0m-1.5 8h0m-.5-6h0m-4 0h0m-1-2.5h0m0 4h0m0 1h0m-.5.5h0m-.5-6h0m-1.5 3.5h0m-.5 7h0m-3.5-2.5h0m-2.5-5h0m-.5 5h0m-.5-8h0m0 4h0m0 6h0m-1.5-8.5h0m-1 7.5h0m-1.5-6h0m-1 1h0m-3-1h0m-3.5 1h0m-2.5 2.5h0m-.5 0h0m-1-1h0m-1.5 0h0m-2.5-3.5h0m-.5-.5h0m-.5 10h0m-3-4h0m-2-4h0m-1.5-2h0m0 6.5h0m-1.5-4h0m-1 .5h0m-1 1.5h0m-.5-4h0m-1.5 8h0m-1.5-8.5h0m-1.5 4h0m0 4.5h0m-1.5 1.5h0m-8.5-2h0m-1.5 1.5h0m-.5-9.5h0m0 3h0m-3.5 6h0m-1-.5h0m-1-9.5h0m-.5 0h0m-1 7.5h0m-.5-4.5h0m-2 1h0m-1.5 1h0m-1.5-5h0m-.5 1.5h0m-.5 2.5h0m-1 1h0m-.5 2.5h0m-.5-3.5h0m-.5-4h0m0 4.5h0m-2 0h0m0 3h0m-1.5-8h0m-.5 7h0m0 2h0m0 2h0m-.5-4h0m0 .5h0m0 1.5h0m-1.5-2h0m-2.5 3h0m-1-9h0m-1.5 1.5h0m-.5 7.5h0m-1-3.5h0m-2 3h0m-1-5.5h0m0 4.5h0m-.5-2h0m-1.5 5h0m-3-.5h0m-.5-5h0m-4.5-5.5h0m0 8h0m-3.5-8h0m-.5 6.5h0m-1.5-6.5h0m-1 .5h0m0 5h0m-.5-2.5h0m-.5 1.5h0m-1-.5h0m-.5-1.5h0m-.5-1h0m-1 2h0m-1.5-2.5h0m-2 6h0m-.5-6h0m0 7h0m-.5-5h0m-.5-1h0m0 .5h0m0 3h0m-.5 3.5h0m-.5-4h0m-1 3.5h0m-.5-9h0m0 3h0m-.5 4.5h0m-.5 3.5h0m-.5-11h0m0 4.5h0m0 1.5h0m-.5-1.5h0m-1 1h0m0 6h0m-5-10.5h0m-2.5-.5h0m0 3h0m0 2h0m0 2h0m-1.5-6h0m-1.5 6.5h0m-.5-2h0m-1 0h0m-1-5h0m-2 10h0m-.5-7.5h0m-4 2.5h0m0 3.5h0m-1.5-7h0m-4.5 6h0m-2-.5h0m-.5-8h0m0 .5h0m0 2h0m-.5 3.5h0m-4.5-4.5h0m-.5 3h0m-2 1.5h0m-.5-1.5h0m-.5-1h0m-2 1h0m-1-.5h0m0 3.5h0m-.5-6.5h0m0 9h0m-1-5.5h0m0 6h0m-.5-3h0m-1 1.5h0m-.5 0h0m-1 1.5h0m-.5-5.5h0m-.5 2h0m-1.5-4h0m-1.5.5h0m-3 3.5h0m0 3h0m-.5-4h0m-.5-4.5h0m-.5-.5h0m0 2.5h0m-.5 8h0m-.5-8h0m0 7h0m-.5-3.5h0m-1-1.5h0m-.5-5h0m0 10h0m-.5-8h0m-1-1h0m-1 5h0m-.5-3.5h0m-.5 6.5h0m-.5 1.5h0m-.5-2h0m-.5 2h0m-.5-9h0m-.5 9.5h0m-2-2.5h0m-.5-3h0m-1 2h0m-.5-1.5h0m-.5-2h0m0 1h0m0 2.5h0m-.5-6h0m0 2h0m0 3.5h0m-.5 2.5h0m-.5-3.5h0m0 .5h0m0 2.5h0m-1.5.5h0m-.5-6.5h0m-1 4.5h0m-.5.5h0m0 1h0m-1.5-1h0m-1-8h0m-.5 2h0m-.5 7h0m-.5-6h0m0 6h0m-.5-5h0m-1 1h0m-.5-4h0m0 1.5h0m0 .5h0m-1.5 3h0m-.5 2.5h0m-1-1.5h0m-1 2.5h0m-1-6h0m0 3.5h0m-1.5-7.5h0m-.5 2h0m0 6h0m-.5-3.5h0m-.5 3h0m0 4h0m-1.5-.5h0m-.5-3h0m-1-7.5h0m-.5 4.5h0m-.5-2.5h0m0 1h0m0 8h0m-1-9h0m-1.5 0h0m0 1h0m-.5-2.5h0m0 10h0m-1-.5h0m-1-9.5h0m0 7.5h0m0 1.5h0m-1-9.5h0m0 10.5h0m-.5-7.5h0m0 3.5h0m0 2.5h0m-1-1.5h0m-.5-1h0m-.5-6.5h0m-.5 2.5h0m-.5 1h0m0 4.5h0m-.5-1h0m0 2h0m-1.5-4h0m-1 4.5h0m-.5-7.5h0m-.5 3.5h0m-1.5-1h0m-.5-2.5h0m-.5 3.5h0m-1 1.5h0m-.5-5.5h0m-2.5 3h0m0 6.5h0m-.5-7h0m0 3h0m-1.5-.5h0m-.5-6h0m0 1.5h0m-1.5 4.5h0m-1.5 3.5h0m-.5-9h0m-1 7.5h0m-1-8.5h0m0 3h0m0 5.5h0m-.5-8.5h0m0 7h0m-1 3h0m-1-9.5h0m-1.5-1h0m-.5 4.5h0m-1.5 1h0m0 2.5h0m-.5-2.5h0m-1-5h0m-.5 0h0m-.5.5h0m-.5 3.5h0m0 6.5h0m-1.5-11h0m0 9h0m-2.5-7h0m-1.5 6h0m0 3h0m-2-8h0m0-.5h0m0 2h0m-.5 2.5h0m0 1h0m-1.5-3.5h0m-1 0h0m-.5 4.5h0m-.5-6.5h0m-.5 2.5h0m-.5-4.5h0m-.5 6h0m-.5 4h0m-.5-8.5h0m0 .5h0m0 5.5h0m0 3h0m-1-10.5h0m-.5 7h0m-.5-4h0m0 2h0m-1.5-5h0m0 3h0m0 3h0m-1.5-2.5h0m-.5.5h0m-.5 3h0m-3 2h0m-.5-8.5h0m-.5 4.5h0m0 4.5h0m0 1.5h0m-1-10.5h0m0 2h0m-.5 2.5h0m0 2.5h0m0 .5h0m-.5-8.5h0m0 11h0m-.5-3.5h0m-1 2h0m0 .5h0m-.5-8h0m-1-1.5h0m0 6.5h0m-1.5-6.5h0m0 11h0m-1-7.5h0m0 7.5h0m-1-11h0m0 8.5h0m-1.5-4h0m0 6h0m-.5-7h0m-.5 0h0m-1 1h0m-.5-4.5h0m0 9h0m-.5-7.5h0m-.5-2h0m-1 9.5h0m0 .5h0m-.5-8.5h0m-1.5 6.5h0m-1-4.5h0m-1 2.5h0m-.5 5h0m-1.5-.5h0m-.5-7h0m-.5 5.5h0m-.5-2h0m-.5 2.5h0m-.5-4h0m0 .5h0m0 5.5h0m-1-9.5h0m0 5.5h0m-.5 1.5h0m-.5-3h0m-.5-5h0m0 1h0m-1 4h0m-1.5 3h0m0 0h0m-1-8.5h0m0 11h0m-.5-8h0m0 3.5h0m-.5-3.5h0m-1 5h0m0 3h0m-1.5-9h0m0 7.5h0m-.5-1.5h0m-1-7h0m0 2.5h0m-1.5 3.5h0m-.5-1.5h0m-.5-1.5h0m-.5 3h0m0 3.5h0m0-.5h0m-1-6.5h0m-.5 7h0m-1-2h0m-.5-7.5h0m0 4.5h0m0 3h0m-.5 2.5h0m-.5-6.5h0m-.5-3.5h0m-1-.5h0m0 2h0m-.5 4h0m-1.5-4.5h0m-.5 1.5h0m-.5 5.5h0m-.5-6h0m0 1.5h0m0 1.5h0m0 4.5h0m-.5-8h0m0 3.5h0m-.5-2h0m-.5 6.5h0m-.5-4h0m-1.5-.5h0m0 1h0m-.5.5h0m-1-1.5h0m-1 1.5h0m-1 1h0m-2.5-7h0m0 9h0m-1-8h0m-.5 5h0m-1 .5h0m-1-6h0m0 6h0m-.5-5h0m-.5 2h0m0 4.5h0m-1-2.5h0m0 .5h0m0 2h0m-.5-2.5h0m0 0h0m-2-5.5h0m0 .5h0m0 1h0m0 7.5h0m-2-10.5h0m-1.5 9h0m-2-3h0m-.5-6.5h0m0 5.5h0m-.5-2.5h0m0 0h0m-.5 8.5h0m-1-1h0m0 .5h0m-.5-2.5h0m-.5.5h0m-1-8.5h0m0 0h0m0 3h0m-.5 2.5h0m-1-1.5h0m-3-1h0m-.5 3.5h0m-1.5-4.5h0m0 3.5h0m-1.5-5h0m-1 0h0m-1.5 0h0m-.5 1.5h0m0 3.5h0m0 2h0m-.5-6.5h0m0 1h0m0 5h0m-.5-3.5h0m-.5-3.5h0m-2.5 3h0m0 1h0m-.5-2h0m-.5.5h0m-.5 1h0m0 1.5h0m0 2h0m-.5-4.5h0m0 4h0m-.5 0h0m-.5-5h0m0 9h0m-.5-1.5h0m-1-4h0m-.5-3.5h0m-.5 0h0m0 2.5h0m-1 3.5h0m-1-2.5h0m0 2h0m-.5-6h0m-.5 5h0m0 3h0m-.5-3h0m0 2.5h0m0 .5h0m-.5-5.5h0m0 1h0m-.5 1.5h0m-1.5-3.5h0m-.5-1h0m-.5 7.5h0m-1-4h0m0 5.5h0m-.5-6.5h0m-3-3h0m0 1.5h0m0 7.5h0m-.5-5h0m0 3h0m-2-7h0m0 4h0m-.5-5.5h0m0 4.5h0m-.5 7h0m-.5-4h0m-1.5-7.5h0m0 6.5h0m0 0h0m0 1h0m0 1.5h0m0 2.5h0m-.5-4.5h0m-.5-3h0m-.5-1h0m0 1h0m0 4h0m-2-7h0m0 3.5h0m0 7h0m-1.5-5h0m-.5-3.5h0m0 1h0m0-.5h0m-1.5-.5h0m-1 5h0m-.5-6.5h0m0 2.5h0m0 0h0m-1-2.5h0m-.5 6.5h0m-1 0h0m-.5-1.5h0m0 4.5h0m-1-4.5h0m-1-6.5h0m0 1h0m-2 2h0m0 2h0m-.5-3h0m0 9.5h0m-3.5-8.5h0m-.5 2.5h0m-1-2h0m-.5 5h0m-1-7h0m0 9.5h0m-.5-1h0m-1.5-9h0m0 0h0m-.5 5.5h0m-.5 2h0m-2-1.5h0m-.5-1h0m-.5-2h0m-1-2.5h0m-.5 8.5h0m-.5-1.5h0m-1-7.5h0m0 10h0m-1-1h0m0 1.5h0m-2 0h0m-1.5-8.5h0m0 4.5h0m-.5-6h0m0 5h0m-.5 1.5h0m0 0h0m-1-2.5h0m-1-5.5h0m-2 6h0m-.5 2h0m-.5-3h0m-.5 6.5h0m-.5-3.5h0m-.5-6.5h0m-1 6.5h0m-1.5-4h0m0 3h0m0 1h0m-.5-8h0m-.5 1.5h0m0 1.5h0m-1-1h0m0 6.5h0m-.5-5.5h0m0 5h0m0 2.5h0m-.5-2h0m-1-3.5h0m-.5 1.5h0m0 4h0m-1.5-8h0m0 2.5h0m-.5-5h0m0 11h0m-2-5.5h0m-.5-4.5h0m0 8.5h0m-1.5-8.5h0m0 0h0m-2.5 4.5h0m-.5 2h0m-.5 2.5h0m-.5-9h0m0 3.5h0m-1-2h0m0 7h0m-1.5.5h0m-.5-8h0m0 1.5h0m-1 1h0m0 1h0m-1.5-5.5h0m-.5 6h0m-.5 1h0m-1.5-4h0m-.5-2h0m0 10.5h0m-.5 0h0m-.5-10h0m-1.5 8h0m-1-3.5h0m0 1.5h0m-1 .5h0m-2-5h0m-12 20.5h0m6.5-1.5h0m1.5-.5h0m2-1h0m1.5-1h0m1-7.5h0m.5 10h0m1 .5h0m.5-1h0m.5-2h0m3.5-7.5h0m0 4.5h0m.5-2.5h0m0 1.5h0m1.5-1h0m2 .5h0m.5 2.5h0m.5-4.5h0m.5 5.5h0m.5-4.5h0m.5-.5h0m0 3h0m1.5-1h0m0 5h0m.5 2.5h0m.5-10.5h0m0 2h0m0 1h0m.5 5h0m.5-4.5h0m.5-4h0m0 3h0m0 6h0m0 0h0m1-9h0m0 5h0m0 6h0m.5-3.5h0m0 3.5h0m1-9.5h0m.5 3.5h0m0 1.5h0m1-.5h0m0 3h0m2-8.5h0m.5 6h0m0 .5h0m1.5-6.5h0m0 6.5h0m.5-6.5h0m0-.5h0m0 .5h0m.5 7.5h0m.5-7.5h0m1.5 1h0m.5 3.5h0m.5-2.5h0m.5 3.5h0m0 .5h0m.5 0h0m.5.5h0m.5-.5h0m2.5 2.5h0m0 2h0m.5-7.5h0m.5-2h0m.5 8h0m0 1.5h0m0 .5h0m.5-7.5h0m1 3h0m0 4.5h0m1.5-2h0m.5-6.5h0m1 4.5h0m0 3h0m.5-8.5h0m.5 2.5h0m.5-1.5h0m0 4h0m0 4h0m.5-10h0m1 .5h0m.5 2.5h0m0 4.5h0m.5.5h0m0 1h0m0 1.5h0m1.5-9.5h0m0 6h0m1-4h0m0 6h0m1-7h0m0 1h0m1-2h0m0 7.5h0m0 2h0m.5-7h0m.5 1h0m.5-3h0m.5 4.5h0m.5 3.5h0m1.5-3.5h0m1-7h0m0 11.5h0m.5-8h0m.5 4.5h0m1-1.5h0m1-1.5h0m.5-1h0m.5 2.5h0m0 3.5h0m.5-3h0m.5.5h0m.5 2h0m0 .5h0m.5-7.5h0m0 1.5h0m.5-2h0m0 3h0m.5 1h0m0 2h0m2-4.5h0m.5-2h0m0 2h0m.5-2h0m.5 1h0m0 7.5h0m1-3.5h0m1-6h0m1-.5h0m0 11.5h0m.5-.5h0m0 0h0m.5-8h0m0 6h0m3-8h0m.5 2h0m0 4h0m0 4.5h0m.5-10.5h0m.5 10h0m.5-1.5h0m1.5-9.5h0m0 6.5h0m.5 3h0m.5-9h0m0 1h0m.5 6.5h0m.5 3h0m.5-5.5h0m1 5h0m.5-8h0m.5 6.5h0m0 2h0m.5-8h0m.5-1h0m1 .5h0m0 1.5h0m.5 5.5h0m1-9.5h0m0 .5h0m0 8.5h0m1-4h0m0 .5h0m2-5h0m0 10h0m.5-8h0m0 0h0m.5-2.5h0m.5 11h0m1-2h0m1-8.5h0m1 8h0m2-2.5h0m0 1.5h0m.5-2.5h0m0 2h0m.5-3h0m1.5-.5h0m.5 6.5h0m3-8h0m.5 2h0m0 4h0m1-5.5h0m0 3h0m0 1h0m3.5 2h0m.5 2h0m.5-8h0m0 3h0m0 5.5h0m0-1h0m.5-4h0m.5 1h0m.5-6.5h0m0 6h0m0 4.5h0m.5-3h0m1-4h0m.5 1h0m0 6h0m1.5-.5h0m.5-4.5h0m0 2.5h0m.5 2h0m1-.5h0m0-.5h0m.5-1h0m.5-7h0m1.5.5h0m.5-2h0m0 4h0m1.5-2.5h0m0 7h0m.5-1h0m0 2.5h0m.5-10h0m.5 8h0m.5-6.5h0m.5 5h0m1-1.5h0m1 .5h0m0 0h0m.5-3h0m1-1h0m.5-1.5h0m1.5 11h0m.5-4h0m1-.5h0m0 1.5h0m.5-4h0m.5 4h0m.5-4.5h0m0 1.5h0m1.5-.5h0m0 2.5h0m2-6h0m.5 8h0m1-6h0m0 5.5h0m.5 2.5h0m.5-2.5h0m.5.5h0m.5-4h0m1 5.5h0m1-9.5h0m.5 5h0m0 1h0m.5-5.5h0m.5 2.5h0m1 1.5h0m0 1.5h0m0 0h0m.5-1h0m.5-5.5h0m.5 2.5h0m0 4h0m2.5-1h0m1-3h0m0 .5h0m.5-3.5h0m0 5.5h0m0 4h0m.5-8h0m.5 7h0m1.5-3h0m2-1h0m.5-2.5h0m0 1.5h0m0 3.5h0m.5-6.5h0m0 7.5h0m.5-4h0m0 7h0m.5-11h0m.5 3.5h0m0 1h0m0 1.5h0m.5-6h0m.5 2h0m.5 9.5h0m1.5-9h0m.5 3h0m0 1h0m.5-.5h0m.5 5.5h0m1-9h0m0 1.5h0m0 3.5h0m0 2h0m.5-9.5h0m0 3.5h0m0 6h0m.5.5h0m.5-4.5h0m0 2.5h0m1.5-6.5h0m0 .5h0m0 .5h0m0 3h0m0 1h0m.5 3h0m0 0h0m0 1h0m.5-4.5h0m.5 2.5h0m0 2.5h0m.5-5.5h0m0 1.5h0m.5-1.5h0m1.5-.5h0m0 4h0m.5 2.5h0m.5 0h0m.5-4h0m0 3.5h0m1.5-9.5h0m0 6.5h0m0 1.5h0m.5-8.5h0m0 3h0m0 .5h0m0 5.5h0m.5-5.5h0m0 6h0m.5-7.5h0m0 6.5h0m.5 1.5h0m.5-2h0m0 0h0m0 2h0m0-.5h0m.5-3.5h0m0 .5h0m.5 2.5h0m.5-3h0m0 .5h0m.5 0h0m0 0h0m.5-7h0m0 2.5h0m0 8.5h0m.5-1h0m.5-1h0m.5-4.5h0m.5 4.5h0m.5-3.5h0m.5 4.5h0m1.5 1h0m1-6h0m0-.5h0m.5-1.5h0m0 1h0m.5 0h0m.5 5.5h0m0 0h0m1-5.5h0m1-3h0m.5 5h0m1.5-5h0m0 4h0m.5-1h0m0 3h0m0-.5h0m.5-5.5h0m0 8h0m.5-9h0m1.5 1.5h0m1-1.5h0m0 1h0m2 2.5h0m0 4.5h0m1-2h0m1.5 1.5h0m.5 1.5h0m.5-2h0m.5-3h0m0 5.5h0m0 .5h0m.5-10h0m0 7.5h0m1-5h0m0 2.5h0m0 2h0m0 2.5h0m.5-10h0m0 7.5h0m0 4h0m1-9h0m1 6.5h0m.5-3h0m.5 3.5h0m2-2h0m1-7h0m.5-.5h0m0 1.5h0m0 0h0m.5 9.5h0m.5-8.5h0m0 9h0m.5-11h0m1 .5h0m.5 2h0m.5 5.5h0m0 2.5h0m.5-11h0m.5 2h0m0 .5h0m1 8h0m1.5-10.5h0m0 6h0m.5 1.5h0m.5-4.5h0m0 8.5h0m.5-6h0m2-.5h0m.5 1h0m1-3h0m0 8h0m.5-7.5h0m0 4.5h0m1.5-4h0m0 1.5h0m.5-5h0m.5 8.5h0m.5-8h0m1 1h0m0 1h0m0 2.5h0m.5 5.5h0m.5-7h0m.5 6.5h0m3-3h0m.5 4h0m.5-.5h0m1-7h0m1.5 1h0m.5 2.5h0m.5-5h0m0 7h0m0 2h0m.5-6h0m0 5h0m.5-6.5h0m1-3h0m0 4.5h0m0 5h0m.5-4h0m0 .5h0m.5-.5h0m1-.5h0m.5 3h0m0 2h0m.5-1h0m1-5h0m0 .5h0m1 .5h0m0 .5h0m1.5 3.5h0m1-8h0m0 .5h0m.5 5.5h0m1.5 3h0m.5-8h0m2.5 6.5h0m.5-8.5h0m2 0h0m0-1h0m.5 4h0m0 4h0m.5-3h0m0 3.5h0m.5-6.5h0m.5 3.5h0m.5-.5h0m.5 4.5h0m1.5 1.5h0m0 0h0m1-4.5h0m.5 4.5h0m.5-10.5h0m2 6.5h0m.5-1h0m.5-5h0m0 6h0m.5-5.5h0m1 10h0m1.5-6h0m1 .5h0m0 2h0m.5-2h0m1.5 0h0m.5 4.5h0m1-9.5h0m0 3.5h0m.5-1h0m0 .5h0m.5 0h0m0 4.5h0m.5-5h0m0 2.5h0m0 5h0m1.5-2.5h0m0 3h0m.5-9.5h0m.5 4.5h0m1.5-2h0m0 7h0m.5-2.5h0m.5-8.5h0m.5 3h0m.5 4.5h0m.5-8h0m1 3h0m0 7.5h0m.5-3.5h0m.5-4.5h0m0 2.5h0m1 1.5h0m.5-3h0m.5-3h0m.5.5h0m.5-.5h0m0 4.5h0m2-4.5h0m0 7h0m0 1h0m0 2.5h0m3-8.5h0m0 6h0m.5-6h0m.5 9h0m.5-10.5h0m.5 8h0m.5-4.5h0m1-4h0m1 2h0m.5 1.5h0m.5-1.5h0m0 7h0m0 2h0m1-11.5h0m0 10h0m1-6h0m.5 1.5h0m0 6h0m.5-6h0m0 3.5h0m1-4.5h0m.5.5h0m0 3.5h0m0 1h0m.5-4.5h0m.5 2.5h0m2.5-2.5h0m1.5-1.5h0m0 4.5h0m4-1.5h0m.5-6h0m0 .5h0m.5.5h0m0 2h0m0 8h0m.5-8.5h0m.5-.5h0m0 0h0m1 5h0m.5.5h0m1.5-6.5h0m0 9.5h0m.5-5h0m0 2h0m2-8h0m1.5 4.5h0m1.5-.5h0m0 7.5h0m1-11h0m0 7h0m1-2.5h0m.5 6.5h0m.5-6.5h0m.5-1h0m2.5-3.5h0m0 6.5h0m.5-2h0m1 1h0m0 5h0m.5-8.5h0m.5-2h0m0 10h0m.5-10.5h0m1 10.5h0m.5-10.5h0m0 10h0m.5-9h0m1 3h0m.5-4h0m0 1.5h0m2.5.5h0m1 .5h0m1 5h0m4.5-2.5h0m1 2h0m3.5-3h0m.5 0h0m1.5-1.5h0m.5.5h0m1.5 1h0m.5 2.5h0m0-.5h0m1.5 0h0m2-3.5h0m0 8h0m3-8.5h0m1 1h0m1 7h0m.5-9.5h0m0 3h0m.5-1.5h0m.5 2h0m0 2.5h0m1.5 3h0m0 1.5h0m.5-8.5h0m3 5h0m2-5h0m1-1h0m2 8h0m3 .5h0m.5-1.5h0m1.5-6h0m.5 4h0m.5-5h0m.5 9.5h0m.5-9.5h0m0 1.5h0m0 7h0m1-7.5h0m4-2.5h0m.5.5h0m0 7h0m0 .5h0m0 1.5h0m.5-4h0m3 1.5h0m1.5-6h0m1 4.5h0m0 2.5h0m.5-7.5h0m1.5 2.5h0m0 2.5h0m0 0h0m.5-.5h0m.5 0h0m1.5 6h0m3.5-5h0m1 5h0m.5-10.5h0m0 11h0m.5-7h0m1 6.5h0m.5-5h0m0 2h0m1-6h0m2 6.5h0m2-7h0m0 8h0m.5-2.5h0m.5-4.5h0m.5 2.5h0m1-1.5h0m.5 7h0m2-.5h0m1-2h0m3.5-8h0m2 4.5h0m0 3h0m1 1h0m2.5-5.5h0m1.5 0h0m0 3.5h0m0 5h0m.5-6.5h0m.5 1h0m.5-5.5h0m1 4h0m0 6h0m.5-8.5h0m.5 3h0m0 5h0m1-3h0m1.5 4h0m1-1h0m1-8.5h0m1 1h0m0 1.5h0m.5-2h0m.5 5.5h0m.5-6.5h0m1.5 6h0m.5 4h0m1.5-3.5h0m.5-4.5h0m1.5 2h0m2.5-5h0m.5 2h0m.5-2h0m.5 7h0m1.5 1.5h0m1-3.5h0m.5 4h0m1.5-6.5h0m3-2h0m3.5 3.5h0m0 3h0m3-6h0m2 0h0m2 2h0m0 0h0m0 3.5h0m.5 1h0m.5 2.5h0m.5-8.5h0m0 10h0m2.5-1h0m1.5-1.5h0m.5-5h0m0 2.5h0m.5 0h0m.5-.5h0m2 0h0m1-4h0m0 .5h0m4.5 3h0m3.5 6h0m1.5-8.5h0m1 3.5h0m5.5-4.5h0m.5 2.5h0m1-3h0m.5 2h0m1.5-1h0m2.5 1.5h0m0 7.5h0m2.5-9h0m1 2.5h0m1-1.5h0m.5 4h0m1.5-4.5h0m.5 5h0m.5-4.5h0m.5-2h0m.5 2h0m.5 4h0m1-2h0m.5.5h0m1-1h0m5 1h0m1.5-5.5h0m1 1.5h0m1.5 1h0m3 1.5h0m1-1.5h0m.5.5h0m.5 4.5h0m1.5-4h0m1 2h0m.5-3.5h0m0 2.5h0m.5 0h0m2.5 4.5h0m.5-5h0m0 6.5h0m2-5h0m2.5 4.5h0m5.5-10.5h0m1 .5h0m0 10.5h0m.5-10.5h0m.5 2.5h0m2.5 4.5h0m1.5-5h0m0 5.5h0m.5-3h0m6.5-1.5h0m1.5 2h0m.5-5h0m1 4.5h0m.5 2h0m0 4h0m1-7.5h0m.5 5h0m1-8.5h0m1.5 8h0m.5.5h0m1.5-2h0m.5 1h0m.5 4h0m2-7h0m.5 4.5h0m1-5h0m2 6.5h0m.5-6.5h0m0 0h0m1.5-2.5h0m.5 8h0m2.5 2h0m.5-1h0m.5.5h0m1-7.5h0m3 8h0m2.5 0h0m1.5-10h0m.5 3.5h0m-13 9h0m0 7.5h0m-2.5-5h0m0 5.5h0m-1.5 1h0m-1.5-3h0m-1-1.5h0m-.5.5h0m0 2h0m-.5-4.5h0m-1 .5h0m-1.5 2.5h0m-1-7h0m-.5 10h0m-2.5-5h0m-2.5 2h0m-1.5 3h0m-1 1h0m-2.5-9h0m0 5.5h0m-1 1.5h0m-.5-8.5h0m-3 7.5h0m-5.5-8h0m0-.5h0m-1 7h0m-3.5-1.5h0m-.5 4h0m-1-3.5h0m-2 .5h0m-.5-3h0m-.5 0h0m-2 1.5h0m-.5-2h0m-.5 8h0m-1.5.5h0m-1-1.5h0m-.5-3.5h0m-1-1h0m-.5 4h0m0 2h0m-.5-4.5h0m0 .5h0m-.5-2h0m0 4.5h0m-2-8.5h0m-.5 6.5h0m-.5-2h0m-.5-4.5h0m-.5 2.5h0m-3-3h0m-1 3h0m-1-3h0m0 4h0m-.5 3.5h0m0 2.5h0m-.5-5.5h0m-1 3.5h0m-1.5-7.5h0m-.5 0h0m-1.5 8.5h0m-2-8.5h0m-3 3.5h0m-2 2h0m-2.5 0h0m-1-6h0m0 8.5h0m0 2h0m-.5-7h0m0 4h0m-2 3h0m-1 0h0m-.5-8h0m-4 6h0m-.5-6.5h0m-1.5 7h0m-.5.5h0m-.5-8h0m-1 6h0m-1-2.5h0m0 3h0m-1.5-6h0m0 1h0m0 2.5h0m-1-6h0m-.5 9h0m-.5-2.5h0m-.5.5h0m-1.5-2h0m0 5.5h0m-.5-4.5h0m-.5 4h0m-.5-9h0m-1-.5h0m-.5 5h0m-1-2.5h0m-1.5-1.5h0m-1.5 6h0m-.5-7.5h0m-1 3.5h0m-.5 1h0m0 1.5h0m-3-4.5h0m-1 9.5h0m-.5-8.5h0m-1-2.5h0m-.5 8.5h0m-3 2h0m-3-4h0m-.5-2h0m-2-3h0m-.5 7.5h0m-.5-5.5h0m-3 5h0m-3.5-.5h0m-3-7h0m-1.5 6.5h0m-2 0h0m0 0h0m-1-4.5h0m-2 2h0m-.5-3.5h0m0 5.5h0m0 2h0m-1-3.5h0m-1-3h0m0 7h0m-.5-8.5h0m-1.5 8.5h0m-.5-3h0m0 .5h0m0 3h0m-.5-4.5h0m-2.5-5.5h0m-.5 5.5h0m0 1.5h0m-.5-3.5h0m-1-4h0m0 11h0m-.5-11h0m-1 2.5h0m-2 2.5h0m-1 5h0m-2.5-5.5h0m-.5-3h0m-.5 2.5h0m0 5.5h0m-2-5h0m0 4h0m-1.5-7h0m-1.5 5h0m-2.5 1.5h0m-3.5-6h0m0 3h0m-1 3h0m0 3.5h0m-1-7.5h0m-1.5 2.5h0m-.5-5.5h0m-1.5 8.5h0m0 0h0m-4.5-5h0m-2.5 4.5h0m-1-7h0m-.5-1h0m-2.5 7.5h0m0 .5h0m0 2.5h0m-.5-6.5h0m-1.5 3h0m-1-5.5h0m-1.5-1h0m-.5 3.5h0m0 2h0m-2-3h0m0 2h0m-.5-.5h0m-1-5.5h0m-.5 0h0m-.5 3h0m0 2.5h0m0 3.5h0m-2-9h0m-1 9.5h0m-1-.5h0m-.5-1.5h0m-.5-5.5h0m-.5-.5h0m0 8h0m-1-1h0m-1-2h0m-1.5 5h0m-1-1.5h0m-.5-10h0m-.5 2.5h0m-1.5 3.5h0m-2 3h0m-1.5-2h0m-1-2.5h0m0 4h0m-3-.5h0m-.5-7.5h0m-.5 5.5h0m-2-1.5h0m0 6.5h0m-.5-9h0m-1-1.5h0m-.5 4.5h0m-2 6h0m-.5-5.5h0m0 0h0m-.5-3h0m-.5 7.5h0m-2.5 1.5h0m-1-3h0m-1 2h0m-1.5-7h0m-3-2.5h0m0 7h0m-.5-6h0m0 5.5h0m-.5-1h0m-.5-4h0m0 .5h0m-1 2h0m0 .5h0m-1 4.5h0m-.5-9h0m0 1h0m-3 1h0m-2.5.5h0m0 3h0m0 2.5h0m-2.5-6.5h0m0 1.5h0m-1 2h0m-1.5 2.5h0m-1.5-8h0m0 4.5h0m-1-1h0m0 5h0m-1-6h0m-.5-1h0m-3 9h0m-1.5-9.5h0m-.5 4h0m-1 3.5h0m-2.5-7.5h0m-.5-1.5h0m0 9.5h0m-.5-4h0m-3-2.5h0m-2.5-1.5h0m0 8.5h0m0-.5h0m0 1.5h0m-3.5-3h0m-2.5-2h0m-1-2.5h0m0 7.5h0m-1.5-3.5h0m-3-5h0m-.5 7.5h0m-1-7h0m0 1.5h0m0 2.5h0m-1.5-6.5h0m-1 6h0m-.5-5.5h0m0 7.5h0m-.5-6h0m0 8.5h0m-.5-.5h0m-1-9.5h0m0 2.5h0m0 5.5h0m-.5-9h0m0 7.5h0m-1-7.5h0m0 10h0m-.5-8.5h0m-1.5 1.5h0m0 8h0m-1.5-10h0m-2 .5h0m0 8h0m-.5-4.5h0m0 6h0m-.5-10.5h0m-.5 8.5h0m-1.5 0h0m-.5-5.5h0m0 6h0m0 1.5h0m-1-7.5h0m0 3h0m-1.5-2h0m-.5-3.5h0m-.5 9h0m-.5-6.5h0m0 3h0m0 0h0m-.5 4.5h0m-1.5.5h0m-1-2h0m-1-2h0m-1-7h0m-1 4h0m0 4h0m-.5-1.5h0m-.5-3h0m-1 4h0m-2.5-6h0m0 4h0m-.5 4h0m-1-3.5h0m-.5 2.5h0m0 2h0m-1-7h0m0 3.5h0m-2.5-2.5h0m0 2.5h0m-1-6.5h0m0 2.5h0m0 5h0m0 3h0m-.5-9.5h0m-1.5 6.5h0m-1-3h0m-1-.5h0m-1.5-3.5h0m-.5 4h0m0 5.5h0m-.5-11h0m-1.5 5h0m-1 3.5h0m0 1h0m-1-4h0m-1-2.5h0m0 1h0m-2 5.5h0m-1-2.5h0m-.5 1.5h0m-1-1.5h0m0 1.5h0m-.5 3h0m-.5-10h0m-.5 3.5h0m-.5 6h0m-2-10h0m-.5-.5h0m-.5 1h0m0 1.5h0m-2 3h0m-1.5-5h0m0 9h0m-1-8.5h0m0 1h0m0 2.5h0m-.5-1h0m-.5 7.5h0m-3.5-6h0m-.5-5h0m0 1.5h0m-.5-1h0m-.5-1h0m-1 .5h0m0 11h0m-1-5h0m-.5-6.5h0m-3 3h0m-1.5-2h0m0 2.5h0m-1 .5h0m0 2h0m0 0h0m0 1h0m-.5-5h0m-.5 3.5h0m-.5-.5h0m-2-3.5h0m0 4h0m-2 4h0m-1.5-6h0m0 8h0m-.5-4.5h0m0 2h0m-.5-8h0m-1 .5h0m0 5h0m-.5-5.5h0m-1 3.5h0m0 5h0m-1-6.5h0m-.5 6.5h0m-.5-9h0m0 7.5h0m0 3h0m-.5-11h0m0 1.5h0m0 3h0m-.5-2h0m0 5.5h0m-.5-5.5h0m0-.5h0m-1.5 2h0m-1.5-2h0m-1 4.5h0m-.5-3.5h0m-.5-1.5h0m0 8h0m-.5-2h0m-.5 3.5h0m-.5-1.5h0m-1-7.5h0m0 3.5h0m-1 2.5h0m-1.5 1.5h0m-1.5-2h0m0-.5h0m-1-4h0m-1-2.5h0m0 11h0m-1-10h0m-.5 6h0m-.5-5h0m0 3.5h0m-.5 3.5h0m-1.5-6h0m0 3.5h0m-1-1h0m0 1h0m0 1.5h0m0 3h0m-.5-1h0m-1-6.5h0m0 6.5h0m-.5-.5h0m-1.5-1.5h0m-.5-4h0m-1-4.5h0m-1 10.5h0m-1-8h0m-.5 4.5h0m-.5-6h0m0 8h0m0 .5h0m-1-1h0m0 2.5h0m-1-10h0m0 0h0m0 7h0m-.5-2.5h0m-2 3h0m-1.5-6.5h0m-1.5-1.5h0m0 3.5h0m-.5 6h0m-.5-10h0m0 10h0m-.5-3.5h0m-.5 4.5h0m-1-4.5h0m0 1.5h0m-2-2h0m-.5-2h0m0 7h0m-1-9h0m-1 6.5h0m-1.5 2.5h0m-1-7h0m-.5-.5h0m0 2.5h0m-.5-5.5h0m0 7.5h0m-1-.5h0m-.5-.5h0m-.5-6.5h0m0 5h0m-.5 3h0m0 0h0m-.5-8h0m0 9.5h0m-.5-9h0m0 10.5h0m-1.5-4.5h0m-1.5-5h0m-.5 0h0m0 6.5h0m-1.5-8h0m-.5-.5h0m0 5h0m0 1h0m-.5-5.5h0m0 11h0m-.5-6h0m-.5 4.5h0m0 .5h0m0 1h0m-.5-6.5h0m0 3.5h0m0 3h0m-3.5-1.5h0m-.5-8.5h0m-.5 1.5h0m-.5-.5h0m-1-.5h0m-2 2h0m-.5 1h0m-1 2h0m0 2h0m-.5.5h0m0 1.5h0m-1.5-8.5h0m0 8.5h0m-1-5h0m-2-3h0m0 2h0m-.5-.5h0m-2 6h0m-.5-2h0m-1.5-3.5h0m-.5-3h0m0 1h0m-.5 8h0m-2.5-5.5h0m0 5h0m-.5-3h0m0 3h0m-.5-9h0m0 9.5h0m-.5-4.5h0m0 4.5h0m-1.5-3h0m-1.5-6.5h0m-.5 5.5h0m-.5-1h0m-.5.5h0m-.5 2h0m-.5-1.5h0m-.5-5h0m-1 4.5h0m0 1h0m-.5-3h0m-1-3.5h0m0 3.5h0m-1-3h0m-.5-1.5h0m0 .5h0m0 7.5h0m0 2.5h0m-1-.5h0m-.5-9.5h0m-.5 2h0m-1 6h0m-.5 0h0m-1-8h0m-.5.5h0m0 10.5h0m-.5-9h0m-1 6h0m-1-1.5h0m-.5 4h0m-1-7h0m0 6h0m-.5-9.5h0m-.5 2.5h0m0 2h0m-.5-2.5h0m0 5.5h0m-.5.5h0m-1-6h0m0 4.5h0m-.5-5.5h0m0 10h0m-3-8h0m-.5 6.5h0m-.5-9h0m-1.5 8.5h0m0 1.5h0m-.5-10.5h0m-.5-.5h0m0 9h0m-1 0h0m-.5-3.5h0m0 3h0m0 3h0m-1-10h0m-1 5.5h0m-.5-4h0m0 8h0m-.5-3h0m-.5 3h0m-1-3h0m-1.5-6h0m-.5 3h0m-.5 5h0m-.5-4h0m-1.5-4.5h0m-.5 8h0m-1-5.5h0m-.5-1.5h0m0 7.5h0m-.5-3.5h0m0 3h0m-.5-2.5h0m0 3h0m-2-9h0m0 7.5h0m-.5-8h0m0 2h0m0 4h0m-.5 5h0m-.5-8h0m0 2.5h0m-.5-2h0m0 .5h0m0 5h0m-1-6h0m-.5 0h0m0 3h0m0 5h0m-1-2h0m0 1h0m-.5 0h0m-.5-8.5h0m0 6h0m-.5-6.5h0m-3 0h0m0 4.5h0m0 4.5h0m-.5-3h0m-.5-5h0m-.5-1h0m0 7h0m-.5-4h0m-.5-3.5h0m-.5 1h0m-1-1.5h0m0 7.5h0m-.5.5h0m-2-.5h0m-.5 3.5h0m-1.5-7.5h0m-.5 3.5h0m0 2h0m-.5-1h0m-1.5-4h0m-1-2.5h0m0 3.5h0m-.5 3.5h0m-1-7.5h0m-1-1h0m0 2.5h0m0 8.5h0m-.5-6.5h0m-2-3h0m-1.5 1h0m0 3.5h0m-.5-2.5h0m0 2h0m-.5 3.5h0m-.5-2h0m-.5-5h0m-1 5h0m-1 2h0m-1-5.5h0m-.5-2h0m0 1h0m0 4h0m-.5 0h0m-.5-3h0m-.5 5h0m-1-1.5h0m0 0h0m0 1.5h0m-.5-3.5h0m-1-5h0m0 6h0m-1 .5h0m-.5.5h0m-.5-4h0m-.5-2h0m-.5 0h0m0 9.5h0m-1.5-2h0m-1 .5h0m-.5-6h0m0 4.5h0m-.5-7.5h0m0 9h0m-.5-9h0m-2 1h0m-1 2.5h0m0 5h0m-.5-8.5h0m0 3h0m0 5.5h0m0 1.5h0m-.5-7.5h0m-.5 6.5h0m-.5-9.5h0m-.5.5h0m0 7.5h0m-1.5-1.5h0m0 4h0m0 1h0m-1-5h0m0 2.5h0m-2-8.5h0m0 1.5h0m0 5h0m-2-2.5h0m0 6h0m-.5-3h0m0 .5h0m-.5-1h0m-.5-7h0m0 8.5h0m-1 2h0m-.5-10h0m0 1h0m0 6h0m-1 0h0m-1-4h0m0 1.5h0m0 4h0m-3-4.5h0m-.5-3.5h0m-.5 2h0m-.5 3h0m0-.5h0m-1 5h0m-1-5h0m-5 7h0m0 10h0m1.5-1.5h0m1.5-.5h0m2.5-1h0m1 1.5h0m.5 0h0m.5-4.5h0m2.5-4.5h0m.5 10h0m.5-9h0m0 6.5h0m0 .5h0m0 .5h0m1-4.5h0m.5 1.5h0m1-3h0m.5-1h0m0 9h0m.5-1h0m.5-9.5h0m0 3.5h0m0 1h0m.5-3h0m1 8.5h0m1-2h0m0 2h0m0 1.5h0m.5-10.5h0m0 8.5h0m.5-7.5h0m0 6.5h0m1-6.5h0m0 8h0m1.5-8h0m0-1h0m1.5 2.5h0m0 2.5h0m0 5.5h0m1-9.5h0m0 2.5h0m1-3.5h0m0 7.5h0m0 2h0m1.5-9.5h0m0 .5h0m0 6.5h0m1-5.5h0m1 9h0m1-11h0m.5 6h0m0 .5h0m0 2.5h0m.5-6h0m.5-3.5h0m0 5h0m0 3.5h0m0-.5h0m1-8h0m.5 1h0m.5 2h0m0 1.5h0m3-2h0m0-.5h0m0 6.5h0m.5-8h0m.5 8.5h0m1 2h0m.5-8h0m.5 1.5h0m0 5.5h0m.5.5h0m.5-3h0m.5-1.5h0m.5 1.5h0m.5-6.5h0m0 10.5h0m1.5-9.5h0m.5 4h0m1-4h0m0 2h0m0 3.5h0m1.5 2h0m.5-7h0m.5 2.5h0m1-1.5h0m.5-1.5h0m0 .5h0m.5-2.5h0m0 3.5h0m0 7.5h0m2-4h0m0 3h0m.5-6.5h0m.5 1h0m1-3h0m0 4.5h0m2-1.5h0m0 3.5h0m.5 3.5h0m1-11h0m0 4h0m.5 4h0m1-8.5h0m0 10.5h0m1.5-10.5h0m.5 4.5h0m0 2.5h0m.5.5h0m1-7.5h0m1.5 5.5h0m.5 2h0m0 3.5h0m.5-10.5h0m0 2h0m0 1h0m.5-3h0m.5-.5h0m.5 8.5h0m1-6.5h0m0 4h0m0 2.5h0m.5-1.5h0m0 1h0m0 2h0m.5-7.5h0m.5 5.5h0m.5-7.5h0m.5 8h0m1-7h0m.5 2h0m0 2h0m.5 0h0m.5-3h0m.5 8h0m.5.5h0m.5 0h0m1.5.5h0m1.5-8h0m.5-2.5h0m0 2.5h0m1-2h0m0 6.5h0m0 2.5h0m1-10h0m0 3h0m.5 4.5h0m1 1h0m.5 1h0m.5-6h0m0 4.5h0m0 2.5h0m1 .5h0m.5-9.5h0m1.5-1h0m0 5.5h0m1.5 2h0m0 0h0m0 1h0m.5-9.5h0m0 4.5h0m.5 6.5h0m.5-8h0m0 7h0m.5-3.5h0m.5-5.5h0m0 10.5h0m1-11.5h0m0 9h0m.5-4h0m.5 3.5h0m0 1.5h0m.5-2.5h0m1.5 1.5h0m0 .5h0m.5-4.5h0m0 6h0m1-10h0m1 3h0m0 7h0m.5-9h0m0 5.5h0m0 3h0m.5-10h0m2.5 0h0m.5 3h0m0 6.5h0m1 0h0m.5 1.5h0m1-7.5h0m.5 6.5h0m.5-5.5h0m0 6h0m1-10h0m0 .5h0m.5 9.5h0m0-.5h0m.5-2h0m2 0h0m1-8h0m1 7h0m0 2.5h0m1-7h0m1 1h0m0 4h0m.5-4h0m.5 4h0m0 2.5h0m.5-9.5h0m0 4.5h0m0 0h0m1 4h0m1-2.5h0m.5-1h0m1-4.5h0m0 2h0m.5 7.5h0m.5-1.5h0m.5-7h0m0 .5h0m2 5h0m1.5-3.5h0m.5 5h0m.5-9h0m0 7h0m1-6.5h0m0 .5h0m0 6.5h0m0 1.5h0m1-9.5h0m1 7.5h0m0 4h0m1-11h0m0 1h0m1 6.5h0m.5 0h0m1-8h0m0 3.5h0m0 7h0m.5-2.5h0m3-5h0m0 3h0m.5.5h0m.5-4.5h0m0 3h0m0 5.5h0m.5-9.5h0m.5 10h0m.5-5.5h0m0 5h0m1-8h0m.5 3.5h0m.5-4.5h0m0 6h0m0 1h0m2 1.5h0m.5-4.5h0m.5 3.5h0m1.5-9h0m0 10.5h0m1.5-10h0m1-.5h0m0 5.5h0m1-5.5h0m0 3h0m1-2h0m0 1.5h0m.5 8h0m.5-2.5h0m1.5-6.5h0m0 3h0m.5 0h0m1.5-1h0m0 5h0m.5 3h0m1-5h0m1.5 0h0m0 1.5h0m0 1h0m1-6h0m.5 5.5h0m1.5-6h0m.5 2.5h0m0 2h0m0 4h0m1-4h0m.5.5h0m1-5h0m0 2.5h0m0 2h0m1.5-.5h0m.5-3.5h0m2-1.5h0m0 4.5h0m1-6h0m2.5 5h0m.5 6.5h0m.5-9h0m0 6.5h0m1-8h0m0 1.5h0m0 0h0m0 7.5h0m.5-9h0m.5 9.5h0m.5-5.5h0m.5 0h0m0 2h0m2.5 3.5h0m1-9h0m0 8.5h0m.5-2.5h0m2-7h0m0 1.5h0m2-2h0m4 6h0m.5 5.5h0m1-7.5h0m1.5 6h0m.5-8.5h0m0 5.5h0m.5.5h0m1-5h0m.5 1h0m0 4h0m.5-6.5h0m0 3.5h0m0 2.5h0m.5-5h0m0 4h0m0 1h0m.5-5h0m1 2.5h0m0 1h0m0 1h0m.5-2.5h0m0 0h0m0 3.5h0m0 .5h0m0 3.5h0m2-2.5h0m.5-4h0m0-.5h0m2-3.5h0m0 1h0m1 9.5h0m.5-10.5h0m0 7.5h0m2.5-.5h0m2-8h0m0 3.5h0m0 2h0m0 4.5h0m.5-5h0m.5 6.5h0m.5-9h0m.5-2.5h0m.5 2.5h0m1.5-1h0m0 6h0m2-7.5h0m0 3.5h0m0 1.5h0m0 1h0m.5 1.5h0m0 .5h0m.5-5.5h0m1 6.5h0m.5-6h0m1 .5h0m1 5h0m1-6h0m0 2.5h0m.5-1.5h0m.5 6h0m1-9.5h0m0 6h0m1 5h0m1-8.5h0m0 3h0m0 1h0m1-1h0m0 5h0m1-8h0m1 0h0m.5 1.5h0m0 2.5h0m0 .5h0m2 4.5h0m1.5-10.5h0m0 .5h0m0 .5h0m0 6h0m1-.5h0m1-1h0m0 1h0m0 2.5h0m0 1h0m1-9h0m0 7.5h0m.5-7h0m0 5h0m.5-5h0m.5 9h0m1-11.5h0m0 2h0m.5 7.5h0m1-.5h0m.5-1.5h0m0 3.5h0m1-7.5h0m0 2h0m.5-5.5h0m0 2.5h0m0 8h0m.5-2h0m1-6h0m1 .5h0m0 3h0m1-1h0m1 .5h0m0 1h0m.5-.5h0m1-2h0m.5 0h0m1 5h0m1-5h0m.5-4h0m0 3h0m1 2h0m.5-4.5h0m.5 6.5h0m2-4h0m0 8h0m1-7.5h0m.5-3h0m1 7h0m.5-1.5h0m.5-4h0m1.5-1.5h0m.5 9.5h0m.5-6.5h0m.5 3.5h0m2-2h0m0 1h0m.5-1.5h0m1 2h0m1.5-2.5h0m.5-4h0m5.5 11.5h0m.5-10.5h0m.5 5h0m0 0h0m.5 5.5h0m.5-8h0m1-.5h0m1.5 4.5h0m1-7h0m.5 1.5h0m.5 1h0m0 3h0m0 1.5h0m.5-3.5h0m0 4.5h0m.5.5h0m.5-5h0m0 3h0m0 1.5h0m0 1h0m1-6h0m.5 4h0m0 1.5h0m3-6h0m1 1.5h0m.5-2h0m0 1.5h0m1-4h0m.5 0h0m0 2.5h0m0 .5h0m.5-2h0m.5 3.5h0m.5 5h0m2 0h0m2-9h0m0 0h0m0 2h0m0 6.5h0m.5-6h0m.5 6.5h0m.5-4h0m1 5.5h0m.5-10.5h0m1.5 9.5h0m.5-3.5h0m.5 1.5h0m0 2.5h0m.5-10.5h0m1 4h0m1 1.5h0m1-3h0m.5 9h0m1-7.5h0m3-3.5h0m0 2h0m0 6.5h0m1-1.5h0m0 2h0m.5-4h0m4-2h0m.5 2h0m.5-2h0m.5-3h0m0 2h0m0 6h0m1 1.5h0m2-7.5h0m1 4h0m0 4h0m.5-7h0m0 7.5h0m2.5.5h0m.5-3h0m0 2.5h0m.5.5h0m2-1.5h0m1 1h0m.5-10.5h0m0 7.5h0m2.5-5.5h0m1.5 8h0m1.5.5h0m2.5-10h0m0 7.5h0m1.5-5.5h0m0-.5h0m1 8h0m2-4h0m.5 1h0m1-3h0m1 5.5h0m.5-9h0m2 4h0m.5-4h0m1.5 1.5h0m1.5-2.5h0m0 0h0m0 11.5h0m.5-11.5h0m.5 4.5h0m0 .5h0m1-3.5h0m.5 5.5h0m3-5h0m3.5 4h0m.5 3h0m2.5-4h0m.5-5h0m2 3h0m.5 5h0m0 3.5h0m1-5h0m.5.5h0m.5-1.5h0m.5 2h0m2.5 0h0m1-2h0m1-3h0m0 3h0m0 5h0m1-9.5h0m1 9h0m1-9.5h0m0 2.5h0m0 5h0m0 2h0m1-4.5h0m3.5-5.5h0m.5 10h0m.5 1h0m1.5-9.5h0m0 8.5h0m1-9.5h0m2.5-.5h0m2 4h0m1.5-4h0m1 5.5h0m1.5-5h0m0-.5h0m.5 3.5h0m1 1h0m0 5h0m1-9.5h0m0 7h0m1-5.5h0m.5 7h0m0 .5h0m.5-1h0m3-3h0m.5-1h0m.5 1h0m0 5h0m1.5-4.5h0m1.5-5.5h0m1.5 10.5h0m.5-9.5h0m2.5 6h0m0 2h0m7-7h0m.5-.5h0m.5 1h0m1 3h0m.5 5.5h0m1-3.5h0m1-5.5h0m0-1h0m0 3h0m2-2.5h0m0 1h0m1 8.5h0m1-9h0m2 0h0m1.5 8.5h0m.5-8.5h0m1.5 5h0m.5-2.5h0m.5-3.5h0m0 8.5h0m0 2h0m1.5-7h0m1-4h0m0 6.5h0m2 2.5h0m1-1h0m.5 0h0m1-8.5h0m1.5 1.5h0m.5 0h0m1.5 2h0m1 5h0m.5-8h0m.5 2.5h0m1 6h0m1.5-1h0m3-8h0m0 2h0m0 5.5h0m1-3.5h0m.5 7h0m1-7.5h0m.5 5.5h0m.5 1.5h0m1-1.5h0m.5-.5h0m1 1h0m.5-1.5h0m.5-4.5h0m3.5-2h0m3-.5h0m0 10.5h0m.5-5h0m.5.5h0m0 2.5h0m1-3h0m1 2h0m1-5h0m1.5 3h0m.5-6.5h0m2 7.5h0m1.5 1h0m1.5-7h0m1.5 5.5h0m.5 0h0m1 0h0m1-3h0m1 5.5h0m1-8.5h0m2 9h0m5-8h0m1 9h0m2-6.5h0m.5 5.5h0m.5-6h0m.5-1h0m7.5 0h0m1 3.5h0m1.5-3h0m.5 7.5h0m1.5-9h0m3.5 7h0m2.5-4.5h0m1.5-1h0m1.5 2h0m2-3.5h0m.5 7.5h0m2-5.5h0m1.5 0h0m3.5 4h0m.5-4h0m1.5-1.5h0m0 2h0m3-1.5h0m.5.5h0m.5-3h0m1 4.5h0m2-3.5h0m1.5 7.5h0m.5 2h0m.5-6.5h0m0 4.5h0m1-8h0m2 4.5h0m1 3h0m.5 3h0m.5-7h0m.5 2h0m3 1.5h0m1-5.5h0m0 5.5h0m0 0h0m1.5-8h0m1 2.5h0m4 8.5h0m1-5.5h0m1.5-5h0m0 7.5h0m0 2.5h0m2-6h0m1 0h0m.5-4.5h0m1.5 6h0m1-5.5h0m0 9h0m1.5 1.5h0m.5-.5h0m2.5-7h0m1.5 3h0m1.5-1.5h0m.5 2.5h0m2-5h0m0 4.5h0m.5 3h0m.5 1h0m1-1h0m1-9.5h0m1-.5h0m0 6.5h0m.5 1h0m-3 5.5h0m-1 1.5h0m-2 2h0m0 6.5h0m-4-9h0m-4 2h0m-1.5-1.5h0m0 2h0m-1.5-.5h0m-.5-1h0m-1.5 8h0m-2-10h0m-.5 4h0m-.5 2h0m-1.5-5h0m-1 4.5h0m0 .5h0m-2-4h0m-1 2h0m-1.5-4h0m-2.5 1h0m-.5 3h0m0 4.5h0m-1.5-9h0m0 1h0m0 4.5h0m0 .5h0m-.5-4.5h0m-.5 0h0m-3 3h0m0 1h0m-1-1h0m-3.5-1h0m0 3.5h0m-1-.5h0m-1.5-6.5h0m0 10h0m-.5-1.5h0m-2.5-6.5h0m-.5 0h0m-2-2h0m-.5 0h0m-.5 5h0m-2.5-2.5h0m-2 2h0m-5 6h0m-.5-9.5h0m-.5 9.5h0m-.5-9.5h0m-2 0h0m-1 4.5h0m-1-3.5h0m-.5 5.5h0m0 3h0m-5.5-11h0m-1 2h0m0 2.5h0m-.5 2.5h0m-.5-7h0m-.5 11.5h0m-2-6h0m0 4h0m-1.5.5h0m-1.5-1h0m-1.5-9h0m0 1.5h0m-1 2h0m-1.5 3h0m-.5-4h0m-3-1h0m-1.5 7.5h0m-1.5-3.5h0m-1-3h0m0 9h0m-2-6h0m-1-5.5h0m-1 5.5h0m-2.5-2h0m-.5 2h0m-1-5h0m0 6.5h0m-1.5 3h0m0 1h0m-1-2h0m-3 1h0m-1-.5h0m-2.5-2h0m-.5-3.5h0m-2 6.5h0m-2-1.5h0m-.5-5.5h0m-2 6.5h0m-.5 1.5h0m-.5-2.5h0m-.5-5.5h0m-2.5 5h0m-1-8h0m-1.5 1h0m-1 0h0m-.5-.5h0m-.5 2.5h0m0 2h0m0 4.5h0m-.5-9h0m0 6h0m-1.5-4.5h0m-2 2h0m-.5-4h0m-1.5 6h0m-.5-5.5h0m-1.5 7h0m-1 3h0m-.5-8.5h0m-.5 8h0m-2-.5h0m-.5-9.5h0m-1-.5h0m-1 8h0m0 0h0m-1 1h0m-1-3.5h0m-.5 1.5h0m-.5-6h0m0 8.5h0m-.5-9.5h0m-4 11.5h0m-.5-5h0m-1 3.5h0m-1.5-.5h0m0 2h0m-.5-8h0m-1.5-3.5h0m-1.5 4h0m-1 .5h0m-1 6h0m0 1h0m-.5-11.5h0m0 5h0m-1-3h0m0 7.5h0m-1.5-8.5h0m0 2.5h0m-.5 4h0m-1.5-5.5h0m-1 1h0m-.5 2.5h0m0 4.5h0m-1-7.5h0m0 3h0m-2.5-5h0m0 4.5h0m0 .5h0m-2 6h0m-2-9.5h0m-1 5h0m-.5-.5h0m-2 2.5h0m-1-7h0m-.5-.5h0m-1 1.5h0m-4 4.5h0m-3-3h0m-.5 1h0m-1-1.5h0m0 1h0m-.5 3h0m-.5-1h0m0 1.5h0m-4 3h0m-1-3.5h0m-.5-3h0m-1.5.5h0m-.5-1.5h0m-.5.5h0m0 3h0m-.5-6h0m0 10h0m-1-9h0m-.5 5h0m-1 2.5h0m-1-10h0m-3.5 1.5h0m0 1h0m0 6h0m-3-7h0m0 7h0m-1.5-8h0m0 6h0m-1.5-6.5h0m-3 4.5h0m-.5 1h0m-3.5-4.5h0m0 2h0m-1.5 4.5h0m-.5 3h0m-2-5h0m0 5.5h0m-1-7.5h0m0 4.5h0m-.5-4.5h0m-.5-1.5h0m-5-2h0m-.5 3.5h0m-1.5 4.5h0m-2 3h0m-3-10h0m-1.5 7h0m-1.5-7h0m-1.5 1.5h0m-.5.5h0m-1-3h0m-.5 6h0m0 5h0m-.5-1.5h0m-.5-4.5h0m0 4h0m-1.5-6h0m0 8h0m-1-4.5h0m-1 3h0m-1-9h0m-.5 9.5h0m-2.5-7h0m0 4.5h0m0 2.5h0m-.5-3.5h0m-6-5.5h0m-2-1h0m-1 1.5h0m-.5 6.5h0m-.5 3.5h0m-.5-9h0m-1.5 6.5h0m-1.5-7.5h0m0 5h0m0 1h0m-2-2h0m-1.5 6h0m-1-6h0m-1-3.5h0m-1 1h0m-.5 1h0m-.5-3h0m0 6h0m0 4h0m-2-5h0m-2.5-2h0m-1.5 1.5h0m-.5 2.5h0m-.5 2h0m-1-7.5h0m0 0h0m-1-.5h0m0 6.5h0m-2-5.5h0m-1 1.5h0m-1.5 0h0m-.5 4.5h0m-.5 2h0m-1-6h0m-3 2h0m-2.5-5.5h0m-.5.5h0m0 9.5h0m-.5-7h0m-3 5h0m-1-5h0m0 4.5h0m-1.5.5h0m-3-4.5h0m0 6h0m-1-4.5h0m0 1.5h0m-3.5-1.5h0m-1 1h0m-1-4.5h0m-.5 1h0m-1.5-2h0m0 2.5h0m-.5-1h0m-1 3h0m0 4h0m-1-1.5h0m-1.5-7.5h0m-.5 2h0m-.5 7.5h0m0-.5h0m-2-4h0m-3 5h0m-1-5.5h0m0 2.5h0m0 3h0m-1-11.5h0m-.5 9h0m-4-5.5h0m0 2.5h0m-1-3.5h0m-1.5 6.5h0m-1-8.5h0m-.5 1h0m0 1.5h0m-1 1.5h0m-1 1h0m-2.5 2h0m0 2h0m-3-8h0m-.5 0h0m-.5 8.5h0m-4-4h0m0 1h0m0 1h0m-.5-7.5h0m-2 1.5h0m0 9h0m-1.5-10.5h0m-3 0h0m-.5 5h0m-1-4h0m-.5 9.5h0m-1.5-2.5h0m-.5-8h0m-.5 8.5h0m-.5-2h0m-1-3h0m-2.5-2h0m-2 8h0m0 1h0m-2-8h0m-1.5.5h0m-.5-1h0m-.5-.5h0m-1.5 7h0m-.5-6h0m-.5 2.5h0m-.5 1h0m-.5 2.5h0m-3-8.5h0m0 9h0m0 1h0m-.5-3.5h0m-.5 0h0m-1 2h0m-.5-6.5h0m-.5-2.5h0m0 5.5h0m-1 0h0m-2.5 4.5h0m-1 1h0m-.5-8h0m-1-1.5h0m-.5 3h0m-1.5-4h0m-.5.5h0m0 6.5h0m-1.5 3.5h0m-.5-5.5h0m0 1h0m0 1h0m-1-6.5h0m-2 9h0m-.5-2.5h0m-4 1.5h0m-1.5-7h0m0 6.5h0m-2.5-3.5h0m-2.5-.5h0m0 4.5h0m-1-4.5h0m-3-.5h0m-.5 2h0m-2-6h0m0 .5h0m0 .5h0m0 6h0m-.5-5.5h0m-.5-1.5h0m0 11.5h0m-.5-11.5h0m-1.5 8.5h0m-2-8h0m-1.5 9h0m-2.5-1h0m-.5 2.5h0m-1-9.5h0m0 5h0m-4-3h0m-.5-.5h0m-.5-3h0m0 5h0m-1 0h0m-2.5 4.5h0m-1-8.5h0m-2 0h0m-1 8h0m-2-.5h0m-1-1.5h0m-.5-2h0m0 2.5h0m-.5 2.5h0m-.5-7h0m0 4.5h0m-1.5 4h0m-.5-1h0m-1-5.5h0m0 4.5h0m-1-8.5h0m-1 6h0m-1 1h0m-1.5 1.5h0m-.5-8h0m-1.5 7.5h0m0-.5h0m-1-8.5h0m0 3h0m-.5-1h0m-5.5 7h0m-.5-9h0m-.5 7h0m-2.5-4h0m0 4.5h0m-1 1.5h0m-1.5-7h0m-2-1h0m-.5 8.5h0m-1-8.5h0m-.5-1h0m-.5 1.5h0m-1 2.5h0m-1.5 2h0m-.5 4.5h0m-.5-1.5h0m-1-7.5h0m-.5 2.5h0m0 6h0m-.5 1.5h0m-.5-11h0m-.5-.5h0m0 6.5h0m-1.5-3h0m-1-3.5h0m0 11.5h0m-.5-11.5h0m-.5 4.5h0m0 1.5h0m-.5-5h0m0 1h0m0 1.5h0m-1 .5h0m-1-4h0m-.5 8.5h0m-.5-2h0m-1 2h0m0-.5h0m-2.5-4.5h0m0 1.5h0m-1 1.5h0m0 4h0m-1.5 1h0m-.5-9.5h0m0 1.5h0m0 0h0m0 4.5h0m-.5-6h0m0 0h0m-1.5 2.5h0m-.5-1.5h0m0 5.5h0m-.5-4.5h0m-1 6.5h0m-2.5-6.5h0m0 0h0m0 5h0m-.5.5h0m-.5-5h0m-1 1h0m0 1.5h0m0 .5h0m-1 3.5h0m-1-5h0m0 4h0m-1-9.5h0m-.5 7.5h0m-.5 2.5h0m-.5-7h0m-.5.5h0m0 5h0m0 1.5h0m-.5-6h0m0 2h0m-.5 1h0m-2.5-6.5h0m0 6h0m0 4.5h0m-.5-10.5h0m-.5 6h0m-1.5-3h0m0 7.5h0m-1.5-.5h0m-1.5-7.5h0m-1 6h0m-.5-7.5h0m0 7.5h0m-1-9.5h0m0 1h0m-1 8.5h0m-.5-2.5h0m-.5 3h0m-.5-8.5h0m-.5-.5h0m0 3h0m0 3.5h0m-.5-3h0m0 4.5h0m-.5-3.5h0m-.5 0h0m0 .5h0m-.5 0h0m-.5-5h0m0 6.5h0m0 3h0m-1-5.5h0m-1.5-3h0m0 5h0m-1-2.5h0m0 2h0m-.5-2h0m0 6h0m-.5-.5h0m-.5-10h0m-.5 5h0m-1.5.5h0m-.5-.5h0m0 0h0m0 3.5h0m-1-7.5h0m0 8.5h0m-.5-5.5h0m0 1.5h0m0 4.5h0m-.5-3h0m-.5-2h0m-1.5 0h0m-.5 6.5h0m-.5-8h0m-1.5 4h0m-1 1h0m-.5 2.5h0m-.5-5.5h0m0 1h0m-.5-6.5h0m-1.5 2.5h0m0 8h0m-1-5.5h0m-1.5-5h0m-.5 2.5h0m-.5 1.5h0m0 2.5h0m0 4.5h0m-.5-5.5h0m-.5 1h0m0 3.5h0m-.5-4.5h0m0 1h0m0 0h0m0 1h0m-1-6.5h0m-.5 10.5h0m-.5-11.5h0m-.5 11.5h0m-1.5-11h0m0 1.5h0m-1.5 1h0m-1.5 2.5h0m0 4.5h0m-.5-5h0m-.5 4h0m0 1.5h0m-.5-2h0m-.5-4h0m0 1h0m0 4.5h0m-1 .5h0m0 0h0m-.5-5h0m0 4h0m-2-3h0m0 4h0m-1.5-2.5h0m0-.5h0m-1-.5h0m-1-2.5h0m0 .5h0m0 5.5h0m0 .5h0m-.5-7h0m0 2h0m-2-1.5h0m0 6h0m-2-1.5h0m-5 1h0m-.5-9.5h0m-1.5 9h0m2 2.5h0m2 0h0m1.5 11h0m2-1.5h0m.5-3.5h0m1.5 5h0m.5-7.5h0m0 6.5h0m.5-4h0m.5-2.5h0m0 7.5h0m1-4h0m1-4h0m1 8h0m1-1.5h0m1-3h0m.5-1h0m1-2h0m0 5.5h0m1-5h0m.5-3h0m.5 5h0m1 0h0m0 4h0m.5-1h0m1-5.5h0m0 3.5h0m.5-3h0m1.5 2.5h0m0 3h0m0 2h0m1-3.5h0m1.5-4h0m0 7.5h0m1.5-1h0m.5-8h0m2 7h0m.5 1.5h0m1-5.5h0m0 2.5h0m0 3h0m.5-8.5h0m0 1.5h0m.5 0h0m.5 7.5h0m.5-11h0m.5 10.5h0m.5-6h0m.5-1.5h0m.5-2.5h0m0 1h0m0 8.5h0m.5.5h0m.5-4.5h0m0 1h0m1-1.5h0m2 1h0m.5-2.5h0m.5-1h0m0 .5h0m0 3h0m.5-1.5h0m0 .5h0m0 5h0m.5-5.5h0m1 6h0m.5-.5h0m.5-8h0m.5-3h0m2 1.5h0m0 2.5h0m.5 1.5h0m.5 3.5h0m2-2h0m.5 2h0m.5-4.5h0m0 .5h0m0 5.5h0m1-.5h0m.5-9h0m1 10.5h0m1-11.5h0m.5 1h0m.5 6h0m.5-6h0m.5 10.5h0m.5-.5h0m.5-8h0m1 5.5h0m0 1h0m0 1h0m.5-9.5h0m0-.5h0m0 5h0m0 3h0m.5-3.5h0m0 2.5h0m.5-4.5h0m0 8.5h0m1-9.5h0m0 3.5h0m1-3.5h0m0 6.5h0m1.5-5.5h0m.5-3h0m0 9h0m0 1h0m.5-9.5h0m0 1h0m0 6h0m1.5-4h0m.5 3.5h0m0 1h0m.5-7.5h0m0 2.5h0m1.5-.5h0m.5 6h0m.5-3h0m0 5.5h0m1-7h0m.5-1.5h0m1-2h0m0 8.5h0m1-1.5h0m.5-4h0m.5 8h0m2-3.5h0m1-6h0m1 7.5h0m.5-1h0m.5 0h0m0 3h0m.5-5.5h0m.5 1h0m.5 3h0m1.5-5h0m.5 4h0m.5-7h0m.5 7h0m.5 2h0m.5-1h0m2-1.5h0m0 1.5h0m1.5-8.5h0m0 0h0m.5 1.5h0m.5 5.5h0m0 1h0m1.5-5h0m.5-.5h0m.5 5.5h0m1.5-8h0m.5 1h0m0 2.5h0m0 6.5h0m.5-1.5h0m.5-9.5h0m0 11h0m1-11h0m0 2.5h0m2 8.5h0m2-3h0m1.5-2.5h0m.5-5.5h0m0 2h0m0 4.5h0m1-6h0m0 7.5h0m.5 2h0m2.5-1h0m2-2h0m1.5-1.5h0m1 4h0m1.5-3.5h0m.5-2.5h0m0 3h0m1-5.5h0m.5 8.5h0m.5-3.5h0m0 1h0m1.5 3.5h0m1-2.5h0m.5-7.5h0m0 9.5h0m1-1.5h0m.5-3.5h0m.5-5.5h0m.5 0h0m0 5h0m1.5 2h0m2 .5h0m.5 1h0m.5-.5h0m.5-7.5h0m.5 10.5h0m2-6.5h0m2 4.5h0m3-6h0m3.5 4h0m1-1h0m0 3h0m1-6h0m3 2.5h0m.5 1.5h0m.5-5.5h0m0 1h0m1.5-2h0m0 0h0m0 3h0m2.5 5h0m0 1.5h0m1.5 1.5h0m.5-4h0m0 2.5h0m.5-5h0m2 .5h0m0-.5h0m.5-3h0m1 3.5h0m.5 2h0m2-3.5h0m0 5.5h0m.5-8h0m0 2h0m0 1.5h0m.5 6.5h0m.5-4h0m1-2h0m2.5-4.5h0m0 3.5h0m2.5 2h0m.5 4h0m.5 1h0m.5-2h0m2-7h0m0 5.5h0m1-4h0m1 5.5h0m3-5.5h0m.5 5h0m1.5 1h0m.5-8h0m.5 3.5h0m1-1h0m1 6.5h0m.5-5h0m2-3.5h0m0 3h0m.5-2h0m0 5h0m1.5 2h0m.5-8.5h0m.5 5h0m1.5-7h0m.5 2.5h0m1.5 4.5h0m1 2h0m0 2h0m.5-5h0m0 3h0m.5-7h0m2 2h0m0 7h0m.5-6h0m0 .5h0m.5 1h0m1-6h0m0 6h0m4-6h0m2 11h0m.5-11h0m.5 3.5h0m0 .5h0m0 7h0m.5-7.5h0m.5 6.5h0m2.5-5h0m1-1.5h0m0 5.5h0m1.5-9.5h0m1 10h0m3-1.5h0m0 3h0m1.5-9.5h0m0 1h0m0 3h0m1-4.5h0m.5 8.5h0m.5-2h0m.5-8h0m.5 11h0m.5-10.5h0m0 3.5h0m.5-2.5h0m1 2.5h0m4-3h0m.5 4.5h0m2-2h0m2 5h0m0 2h0m.5 1h0m1-4.5h0m1-2h0m1-.5h0m0 6.5h0m2-9h0m3.5 2.5h0m2.5 5.5h0m2-4.5h0m0 .5h0m0 3.5h0m2.5-7h0m0 .5h0m0 8.5h0m.5-6.5h0m1.5-2h0m1 4h0m2-5.5h0m.5 5h0m0 3h0m1.5-9.5h0m.5 3.5h0m.5 1h0m0 5.5h0m.5-.5h0m.5-5.5h0m0 .5h0m1 4.5h0m2.5 1.5h0m.5-3h0m1-2h0m2-2.5h0m0 6.5h0m2.5-8h0m0 9h0m1-4.5h0m5-5h0m0 8.5h0m0 .5h0m.5-4h0m0 5h0m1.5-3h0m1.5 3.5h0m.5-10h0m1 8.5h0m3-7h0m0 7.5h0m0 1h0m.5-3h0m.5-7.5h0m0 9h0m.5 1h0m1.5-8.5h0m0 1h0m0 1h0m1-4h0m1 6h0m2 3h0m.5-8.5h0m2.5 6h0m.5-1.5h0m3.5-5h0m0 1.5h0m.5 7.5h0m1-3.5h0m1.5 2h0m.5-4h0m1.5-1.5h0m.5 8.5h0m.5-7.5h0m0 2.5h0m.5.5h0m2.5 1h0m.5-7.5h0m9.5 3h0m0 7h0m.5.5h0m.5-3.5h0m0 .5h0m0 2.5h0m.5-6h0m0 6.5h0m.5-9.5h0m.5.5h0m2 2.5h0m.5 4h0m0 2.5h0m2.5-7h0m1 4h0m.5-1.5h0m1 3h0m2.5-5h0m0 1.5h0m0 1h0m.5-6.5h0m.5.5h0m5 6.5h0m3.5-6h0m0 2h0m.5 8h0m.5-8h0m.5 7.5h0m1-6.5h0m.5 4.5h0m0 2h0m1-3.5h0m1-5.5h0m0 10h0m.5-8h0m1-2.5h0m2 5h0m0 2.5h0m1-2h0m3 5h0m1-10h0m0 .5h0m0 2h0m0 4.5h0m1.5-2.5h0m.5 1.5h0m1.5-.5h0m.5 2.5h0m1.5-4h0m.5-2h0m0 7h0m2.5-4h0m0 .5h0m1-6.5h0m0 10h0m4-2.5h0m1-4.5h0m.5 2h0m0 3h0m1.5-6.5h0m3.5 9h0m.5 0h0m.5-9h0m.5 9.5h0m2-6h0m3.5-3.5h0m.5 5.5h0m1 .5h0m.5-7.5h0m0 5.5h0m.5 2h0m.5 0h0m1.5 3h0m.5-7h0m0 1h0m1.5 4h0m1 .5h0m1-9.5h0m1.5 7h0m2-6.5h0m.5 7.5h0m1.5-4h0m2.5-3.5h0m3.5 2.5h0m2 1h0m1 3h0m1.5-3h0m1-2.5h0m.5 7h0m2.5 1h0m.5-8h0m1 6h0m1.5 3h0m.5-9h0m4.5-1.5h0m0 1h0m.5 9h0m1-1.5h0m1.5 1.5h0m3.5-6h0m.5-1.5h0m1 4h0m.5-6h0m3.5 7h0m0 3.5h0m.5-8.5h0m0 7.5h0m.5 1.5h0m.5-8h0m.5 8h0m1.5-5h0m.5 3.5h0m4.5-8h0m1-2h0m3 10.5h0m1-10.5h0m.5 2h0m1 4.5h0m.5 1.5h0m.5-3.5h0m2 1h0m1 4.5h0m.5-6.5h0m.5 4h0m1-2.5h0m2.5 0h0m.5 6h0m.5-.5h0m1-3.5h0m3.5-6h0m2 5.5h0m1 5h0m1.5-11h0m0 10.5h0m2.5-9.5h0m.5 3.5h0m.5-1h0m0 3.5h0m.5-7.5h0m0 .5h0m1 2h0m0 3h0m1 5.5h0m5-4.5h0m1.5-.5h0m0 1h0m0 2.5h0m.5-8h0m1.5 9h0m1.5-10h0m0 9h0m.5-2.5h0m1-4.5h0m3.5 3h0m1.5-2.5h0m6 5h0m.5-5h0m3-.5h0m3.5-2.5h0m2.5.5h0m0 4h0m3-1.5h0m.5 2.5h0m1 .5h0m1-5.5h0m3 10h0m2.5-7h0m.5-2h0m1.5 4h0m.5-1.5h0m0 2.5h0m2 4h0m.5.5h0m.5 0h0m1-5h0m2.5 5.5h0m.5-10.5h0m0 1.5h0m0 6.5h0m4.5-9h0m5 7h0m1 3.5h0m2.5-5.5h0m1-5h0m11.5 2h0m5.5-1h0m-18.5 12.5h0m-2-.5h0m-1.5-.5h0m-1.5 5h0m-3.5-2.5h0m-2.5 7h0m-1.5-8h0m-3 5h0m-6.5-3.5h0m-.5-.5h0m-1 0h0m0 3.5h0m-3 4h0m-1.5-10.5h0m-1 5h0m0 4.5h0m-2-6.5h0m0 8.5h0m-1.5-11h0m-1 .5h0m0 3.5h0m-.5 2.5h0m-2-6h0m0 8.5h0m-4-2h0m-1-1h0m0 4.5h0m-1-.5h0m-.5-4h0m-2 2.5h0m0-1h0m-.5-3.5h0m0 2.5h0m-.5-1.5h0m-.5 3.5h0m-.5 2h0m-1 0h0m-1-8.5h0m-2.5 4.5h0m-.5 1.5h0m-1-4.5h0m-1-2h0m-1 6h0m-.5-4.5h0m-3 .5h0m0 4.5h0m-1-6.5h0m-2-2h0m-.5 1h0m-.5 1.5h0m-1-.5h0m0-.5h0m-.5 3.5h0m-1.5-4h0m0 10h0m-1-5.5h0m-.5-1.5h0m-1 3h0m-.5-4h0m-2.5 8h0m-.5-6.5h0m-2.5-4.5h0m-.5 10.5h0m-1-8.5h0m0 5h0m-1.5 3.5h0m0 0h0m-1-3.5h0m-1-4.5h0m-1 4.5h0m-.5 2h0m-.5-6h0m0 6h0m0 1h0m-5-9h0m0 1.5h0m-.5 7.5h0m-1-.5h0m-.5-7.5h0m0 6.5h0m-1-1h0m-4-2h0m-.5-3.5h0m-.5 7h0m0 1.5h0m-1-4h0m-2.5 0h0m-.5-1.5h0m0 1h0m-.5-1.5h0m-2 3h0m-.5 3.5h0m-1.5-3h0m-1.5-7h0m-1 3.5h0m0 5.5h0m-2.5 1.5h0m-.5-5h0m-.5 1h0m-1-2.5h0m-1-4h0m-.5 10h0m-.5-2.5h0m-7-4.5h0m0 1.5h0m-2 2h0m-.5-6.5h0m0 .5h0m-1 8.5h0m-3.5-7h0m-2 2h0m-1-3.5h0m-2-1h0m-1 6.5h0m-2.5-1h0m-.5-6h0m-2 4h0m0 7.5h0m-.5-8.5h0m0 7h0m-1-9.5h0m0 3.5h0m-1-.5h0m-1 1.5h0m-1.5 3.5h0m-1.5-8h0m-3 4h0m-.5 1h0m-3.5-3.5h0m0 1.5h0m-.5-3h0m-2 9h0m-4-6h0m-1 2h0m-.5-1h0m-1 5.5h0m-1-8h0m-.5 4.5h0m-1-4h0m-1.5-2.5h0m0 6.5h0m-.5 5h0m-1.5-6h0m-1 5.5h0m-2.5-8h0m-1 7h0m-.5-1h0m-1-8h0m0 4.5h0m0 .5h0m-.5-4.5h0m0 5.5h0m-5-2.5h0m0 5.5h0m-2-3h0m0 2h0m-1-1h0m-.5-2.5h0m-1.5 4.5h0m-1-9.5h0m0 2.5h0m0 .5h0m-.5-2h0m-1.5 6.5h0m-.5.5h0m-.5-8.5h0m-1 3.5h0m-.5-2.5h0m-2.5 5h0m0 1.5h0m-.5-5h0m-.5-2.5h0m-.5 8h0m-.5 0h0m-.5-5h0m-1 0h0m-1-1h0m0 2h0m-.5-.5h0m-1 8h0m-1-1h0m-1-6h0m-.5-2.5h0m-1 1h0m0-1h0m-.5 6.5h0m0 2.5h0m-2.5-4h0m-.5 1.5h0m0 .5h0m-2-7.5h0m-1.5 3.5h0m-.5-4.5h0m-.5 5h0m-1-.5h0m0 6.5h0m-1.5-5.5h0m-1.5 2h0m-.5 3h0m-.5-10.5h0m-1.5 3h0m-.5-1.5h0m-.5 7.5h0m-1-5.5h0m-3.5 1.5h0m-1 .5h0m-3-5h0m0 .5h0m-.5 4.5h0m-.5-.5h0m0 4h0m-3.5-3h0m-.5-3.5h0m0 2h0m0 1.5h0m-.5-3h0m0 1h0m-.5-4h0m0-.5h0m-1 7.5h0m-.5-1.5h0m-1-2h0m0 3.5h0m0 0h0m-.5-4.5h0m-.5 5h0m-1 3h0m-.5-2.5h0m-.5-5.5h0m-2.5 4.5h0m-1.5 4h0m-1-9.5h0m-.5.5h0m0 8.5h0m-1.5-4h0m-1.5-.5h0m-.5-6.5h0m0 9h0m-2 2h0m-.5-11h0m-2 3.5h0m0 2.5h0m-.5 5.5h0m-.5-10.5h0m-1-1h0m-3 11h0m-1.5-10.5h0m-.5.5h0m-1.5-1h0m-.5 5.5h0m0 2h0m-1.5-3.5h0m0 1.5h0m0 3.5h0m-1-8h0m-.5 8h0m-.5-6h0m-1 6.5h0m-1.5-6.5h0m-.5 7h0m-1-3h0m-1 2.5h0m-1.5-4.5h0m0 4h0m-2.5-6.5h0m0 8.5h0m-1.5-7.5h0m-.5.5h0m-.5-1.5h0m0 7.5h0m-.5-9h0m0 1.5h0m-2 6.5h0m-.5-2h0m-1 3.5h0m-2-10h0m0 2.5h0m-1 3.5h0m-5-5h0m-1.5 4.5h0m-2.5-6h0m-.5 2h0m0 1h0m-.5 7.5h0m-2.5 1h0m-.5-2.5h0m-.5 2h0m-2-9.5h0m0 3.5h0m-3-.5h0m-.5 6h0m-1-6h0m-1-3h0m0 4.5h0m-.5 1h0m0-.5h0m-.5-2h0m-2-3.5h0m-.5 8h0m-1.5 1.5h0m-1.5 1h0m-.5-2.5h0m-.5-5h0m-.5 4h0m-.5-7h0m0 2.5h0m-.5 1.5h0m0 5.5h0m0-.5h0m-1.5-1.5h0m-.5-6h0m0 1.5h0m0 1.5h0m-2-4h0m-1 6h0m-5-7h0m0 .5h0m0 3h0m-1-3h0m-.5 4h0m-3-3h0m-2 8h0m-3-5h0m-.5 1.5h0m-1-2h0m-1.5 3h0m-1-7h0m-.5 4.5h0m-2.5 4h0m-9-1.5h0m-1-5.5h0m-1 4.5h0m-4.5-4.5h0m-1 4.5h0m-4 4.5h0m-3.5-4.5h0m-2-6h0m-.5 4h0m0 1h0m-3-3h0m-1.5 3.5h0m-2.5 5.5h0m-7.5-11.5h0m-7.5 10.5h0m-1.5-9.5h0m-2 1.5h0m-1.5 0h0m-.5 3.5h0m-3 .5h0m0 2h0m-.5-7.5h0m0 2h0m-4.5 4.5h0m-2.5-3.5h0m-2-2h0m-5.5 7h0m-1-9h0m-.5 9.5h0m-.5-3.5h0m-2.5-1.5h0m-2 0h0m-1.5 5.5h0m-1-8.5h0m0 9h0m-1.5-6.5h0m-4 .5h0m-1 6.5h0m-2.5-11h0m-.5 5.5h0m-.5-1h0m0 1h0m-2 3.5h0m-2.5-4h0m-1.5 3h0m-.5-8h0m0 8.5h0m-1-5.5h0m0 .5h0m-1 1.5h0m-1 0h0m-.5 1h0m-1-1.5h0m-.5 4h0m-1 1h0m-3-4.5h0m-4.5.5h0m-.5 1.5h0m-1-7h0m-.5 6h0m-.5-5h0m0 1h0m-1.5 7.5h0m-2.5-8.5h0m-.5 6h0m-1.5-4.5h0m-.5 3.5h0m-.5-3.5h0m0 3h0m0 5.5h0m-.5-10h0m0 6h0m-.5 2h0m0 1h0m-1-3.5h0m0 5h0m-1-.5h0m-1 0h0m-1-6.5h0m-.5-3.5h0m-1.5 9.5h0m-.5-5.5h0m-.5-1.5h0m-1-.5h0m-1.5-2.5h0m-.5.5h0m-.5-.5h0m0 7.5h0m-2.5-7h0m0 2.5h0m0 5h0m-.5-.5h0m-1-1.5h0m-.5-6.5h0m-2 1h0m-.5 4h0m-.5 5.5h0m0-.5h0m-.5-1.5h0m-1.5.5h0m-.5 1.5h0m-.5-6.5h0m0 2.5h0m-.5 2h0m0 3h0m-1-5.5h0m-1-2h0m-.5-1h0m-.5 1.5h0m-.5 3.5h0m-1-8h0m-.5 1.5h0m0 9h0m-.5-2h0m-1-6h0m0 2.5h0m-1 1h0m-.5-.5h0m-1 6h0m-.5-5.5h0m-1-4.5h0m-.5 6h0m0 2.5h0m0 1h0m-1.5-10.5h0m-2.5 3.5h0m0 0h0m0 3.5h0m-.5-4.5h0m-.5-1h0m-1 5.5h0m-1-4h0m0 4h0m0 0h0m-1-3h0m0 4h0m-.5-8.5h0m0 3h0m0 8.5h0m-.5-6.5h0m0 5h0m0 0h0m-.5-10h0m-.5 10.5h0m-1-7.5h0m0 2.5h0m-.5.5h0m0 3.5h0m-1-9h0m0 .5h0m-.5 4.5h0m0 0h0m-.5-5.5h0m-1 1h0m-1 3.5h0m-1.5 6.5h0m-1-6h0m0 5.5h0m-3.5-2h0m-1.5-7h0m-.5 9.5h0m-.5-8h0m-1 3h0m-1-3.5h0m8 9.5h0m3 4h0m1.5 4.5h0m1.5-6.5h0m.5 5h0m.5 3h0m.5-1h0m1-9h0m4.5 1h0m1 6h0m2-6.5h0m.5 4h0m0 4h0m.5-4.5h0m0 7h0m1.5-11h0m.5 4h0m0 1h0m2.5 1h0m1 5h0m.5-5h0m0 1h0m0 4h0m.5-4h0m.5-2.5h0m.5 1h0m1 1.5h0m.5 3.5h0m2-5h0m1.5-5h0m0 7h0m1.5 3.5h0m1-9.5h0m0 8.5h0m.5-10h0m0 2.5h0m.5 2h0m1.5-2h0m0 2.5h0m.5-2h0m.5 7.5h0m.5-8.5h0m3.5-2h0m1 1.5h0m2 7.5h0m.5-6h0m1 .5h0m1-.5h0m0 5h0m0 .5h0m1-2.5h0m1 .5h0m.5 3h0m0 1.5h0m.5-7h0m.5-2h0m0 8.5h0m.5-3.5h0m1 3.5h0m.5-9.5h0m.5.5h0m.5 10h0m.5-4h0m0 1h0m.5-8.5h0m0 0h0m0 8.5h0m2-8h0m0 7.5h0m1-2.5h0m.5-5.5h0m1 5.5h0m0 3.5h0m5.5-8.5h0m1.5 8h0m1-7.5h0m.5 3h0m0 2.5h0m3 2h0m.5-3h0m0 .5h0m.5 1h0m2.5-2h0m.5 5h0m1.5-10h0m.5 3h0m.5 4h0m0 4.5h0m1-4.5h0m2.5-3.5h0m3.5-2.5h0m2 4.5h0m4.5-4h0m3-.5h0m2.5 5h0m4.5 2.5h0m.5-3.5h0m6 6h0m4.5-2h0m4 1h0m1-7.5h0m2.5 2h0m2.5 5.5h0m2.5-3h0m1 1.5h0m8-6.5h0m2.5 7h0m3-4h0m3-1.5h0m14.5-3h0m0 8h0m.5 1.5h0m5-9.5h0m1 10.5h0m3-6.5h0m1-1.5h0m6.5 8.5h0m4-7.5h0m3 4h0m4.5 3h0m2-4h0m1.5-3.5h0m1.5 2h0m1-1.5h0m1.5 7.5h0m1.5-3h0m1.5-2h0m2.5-5.5h0m3.5 3.5h0m3-2h0m0 5h0m1-6h0m.5 6.5h0m1-3.5h0m.5 1h0m3.5 6h0m1.5-6h0m4 1h0m1.5-3h0m2-2h0m1.5 1.5h0m1.5-2h0m.5 1h0m1 3h0m2.5-5h0m.5 6h0m2-4.5h0m.5 4h0m.5-4.5h0m1 5.5h0m1 1.5h0m1-1.5h0m1.5 4.5h0m.5-3h0m2.5-7.5h0m0 3.5h0m0 0h0m.5-2h0m1 6.5h0m3-3.5h0m1-4.5h0m1.5 8h0m1-4.5h0m0 6.5h0m2-10h0m0 7h0m2 3.5h0m1-6h0m1 0h0m0 .5h0m.5-1.5h0m.5-2h0m.5 8h0m1-8.5h0m.5 2.5h0m0 7.5h0m1-2h0m.5-.5h0m2-8.5h0m4 2.5h0m0 5.5h0m.5-.5h0m3.5-7h0m3-.5h0m1 8h0m1-4h0m.5 6h0m1-3.5h0m2.5-3.5h0m0 5h0m4.5.5h0m.5-3.5h0m1.5-5h0m3.5-.5h0m2 1h0m.5.5h0m0 9h0m1-4h0m1-4h0m.5-1h0m.5 1h0m1 .5h0m0 6h0m.5 1h0m2-6h0m.5-1h0m0 4h0m.5.5h0m4-6.5h0m3 10.5h0m0 0h0m3.5-9.5h0m0 7h0m1-2.5h0m.5-1h0m.5 4h0m.5-7h0m.5 4h0m0 2.5h0m1 2h0m1.5-5.5h0m.5-4h0m0 5h0m.5-6h0m.5 5h0m2-2h0m.5.5h0m2 4h0m3 3h0m1.5-8.5h0m.5 3h0m1 3h0m3 2.5h0m1-11h0m0 7h0m0 3h0m2 1h0m.5-4.5h0m1.5.5h0m.5-1h0m.5 5h0m.5-5.5h0m1-1.5h0m2 7.5h0m2-6.5h0m1 5h0m.5-7h0m.5 7.5h0m1-9.5h0m3 2.5h0m1 4h0m1.5 1h0m1.5-4.5h0m0 .5h0m1-2h0m3-1h0m0 6h0m.5-2.5h0m1.5 2.5h0m1-2.5h0m.5-.5h0m0 5.5h0m1-8.5h0m1.5 4.5h0m1.5 2.5h0m1-4h0m2 6.5h0m.5-2h0m1-2.5h0m2.5-3h0m0 6.5h0m1-7h0m0 5h0m.5 0h0m0 2.5h0m2.5-4h0m0 3.5h0m1-2h0m1-6h0m1 .5h0m0 3h0m.5-5h0m1.5 5h0m0 4h0m2-4.5h0m.5 1h0m3 1h0m2 1.5h0m.5-5.5h0m2 0h0m.5 3.5h0m0 4h0m.5-9.5h0m.5 9h0m2 0h0m.5-6h0m1.5 5h0m1.5-2h0m0 3.5h0m.5-2.5h0m.5-5h0m2.5-2.5h0m0 8h0m1.5-7.5h0m.5-.5h0m0 2.5h0m3.5 3.5h0m2-1.5h0m.5-3h0m0 4h0m2-2h0m2 0h0m1.5-1.5h0m.5.5h0m.5-2.5h0m.5 4h0m0 6h0m3-8h0m0 3.5h0m.5 4.5h0m.5-9h0m.5-1.5h0m0 4h0m3.5-1.5h0m0 7.5h0m.5 0h0m.5-8h0m.5 2.5h0m2-3h0m0 5h0m0 4h0m2.5-4h0m1.5-2.5h0m.5 6h0m1.5-4.5h0m0 0h0m.5-5h0m0 1h0m1.5 1h0m.5-2h0m0 1.5h0m0 2.5h0m0 2.5h0m0 .5h0m.5-2.5h0m0 3h0m0 1h0m1-2h0m.5-7h0m1.5 11.5h0m.5-1.5h0m.5-4.5h0m2.5 2h0m.5-5h0m1.5 2h0m1.5-3h0m0 5.5h0m2 4.5h0m1-8.5h0m0 7h0m1-4h0m.5-2h0m.5 6h0m.5 1.5h0m.5-2.5h0m.5-2.5h0m1-1h0m1.5-3.5h0m.5 4.5h0m.5-6.5h0m1 7.5h0m.5-1.5h0m3.5-6h0m.5 11h0m.5-7.5h0m1 8h0m.5-6h0m0 5h0m1-6.5h0m1 3.5h0m3.5 3.5h0m.5-1.5h0m.5-4.5h0m1 5h0m.5-3h0m0 1.5h0m1-8.5h0m1 3h0m0 1.5h0m0 .5h0m1-2.5h0m0 8.5h0m2.5-4h0m0 4.5h0m.5-10h0m.5 7.5h0m1 2.5h0m.5 0h0m1.5-8.5h0m2 0h0m0 2.5h0m1 5h0m1.5-6.5h0m3 1.5h0m0 1.5h0m.5-1h0m.5 1.5h0m1.5-5.5h0m.5 8h0m.5-10h0m0 1.5h0m1.5 0h0m4.5 1h0m.5-2.5h0m13 16h0m-.5-.5h0m-22-2h0m-4.5 10h0m-.5-11.5h0m-2.5 7h0m-3 4h0m0 0h0m-1-3.5h0m-.5 4h0m-1.5-10.5h0m-3.5 7h0m0 0h0m-1.5-3.5h0m0 4.5h0m0 2h0m-.5-3h0m-.5-5h0m-1 5h0m-.5-8h0m0 0h0m-2 5h0m-.5 0h0m0 4.5h0m-.5 0h0m-1.5-2h0m-.5-1h0m-.5-5h0m0 9.5h0m-1.5-4h0m-5.5-2h0m-.5-3.5h0m-.5 6h0m-.5-1h0m0 1.5h0m-1 3.5h0m-.5-10.5h0m-5 6.5h0m0 3h0m-1-3.5h0m-1 4.5h0m-1-3h0m-2-4h0m-2-4.5h0m0 7.5h0m-1-.5h0m-.5-2h0m-2.5 6h0m-1-4.5h0m-1 4.5h0m-1 0h0m0-.5h0m-.5-3h0m-2-4h0m0 2h0m-.5 5.5h0m-.5-2h0m0 2h0m-1-11h0m-.5 3h0m-.5 1h0m-1 1.5h0m-1 4h0m-.5-.5h0m-1.5-5.5h0m-2 5.5h0m-1.5 1h0m-2-4.5h0m-1-5h0m0 6h0m-1 2.5h0m-1 1.5h0m-.5-7.5h0m0 0h0m-.5 4h0m-4-.5h0m-.5 0h0m-2-4h0m0 .5h0m-.5 7.5h0m-.5-7h0m0 7.5h0m-.5-11h0m-1.5 7h0m-2.5-6.5h0m-3 8.5h0m-.5-8.5h0m0 6h0m-.5-3h0m0 2.5h0m0 5.5h0m-1.5-1h0m-2-7h0m0 2.5h0m-.5-6h0m-.5 5.5h0m-2-2.5h0m-1 7h0m-1.5-.5h0m-3-1.5h0m-.5 2.5h0m0 0h0m-.5-4.5h0m0 3h0m-1.5-4h0m-1-2h0m-1 4h0m0 3.5h0m-.5-5h0m-.5.5h0m-1 5h0m-.5-1h0m-.5-6h0m-1 5.5h0m-2-7h0m-.5 8h0m-.5-5.5h0m0 5h0m-1 .5h0m-2.5 1h0m-1-2.5h0m-2-1h0m-.5-1h0m-.5-3.5h0m-1 7.5h0m-1-10h0m0 3.5h0m-1 2h0m0 2.5h0m-.5-.5h0m-2-4h0m0 3h0m-2.5 2h0m-2 2h0m-2-1h0m-1.5-9.5h0m-.5 4h0m0 3h0m-.5 1.5h0m-1-6.5h0m-5-3h0m-1 9h0m0 .5h0m-1-7.5h0m-3 8h0m-.5-6.5h0m-1.5-.5h0m-2-3h0m-.5 11.5h0m-2-9.5h0m-2 1h0m-.5 5h0m-.5-5h0m-1 7h0m-.5-1.5h0m-3.5-3h0m-3.5 0h0m-2-3.5h0m-1 .5h0m0 3.5h0m-6-4h0m-.5-1h0m-2 5h0m-1.5 2h0m-.5-4.5h0m-.5 4h0m-.5-2h0m0 3h0m-.5-7h0m-1.5-.5h0m0 10.5h0m-1.5 0h0m-1-4h0m-2.5-5.5h0m-.5-1.5h0m0 9h0m-3.5-1.5h0m-.5-7.5h0m-3 9h0m-.5-2.5h0m-5.5-1h0m-3.5-6h0m-2.5 4h0m0 5h0m-3 0h0m-.5-8.5h0m-2 1.5h0m-.5-.5h0m-1 2.5h0m-3-2.5h0m-.5 8.5h0m-1.5-5.5h0m-.5-.5h0m-.5 0h0m0 2.5h0m-1-5h0m-1.5 1h0m-1 2.5h0m-1 4h0m0 0h0m-.5-8.5h0m-.5 3.5h0m-1-3.5h0m0 5.5h0m-2.5-1.5h0m-1-4.5h0m-1.5 11h0m-1-11h0m-1 2h0m-.5-1.5h0m0-.5h0m-.5 5.5h0m-2-4h0m0 3h0m-6.5 7h0m-.5-10.5h0m-2 10h0m-.5-8h0m-2-3h0m-2 1h0m-1.5 1h0m-.5 9h0m-2.5-9h0m-1.5-1.5h0m-1.5 9h0m-1.5-.5h0m-.5-7h0m-1.5 1.5h0m-4-3.5h0m-2 0h0m-.5 3.5h0m-1 7h0m-1.5-4h0m-1-5h0m-.5 6h0m-5-3h0m-1 5h0m-6-8h0m-1 4.5h0m-.5-3h0m-5.5 8h0m-9-2.5h0m-1 2h0m-6-6h0m-1.5-4h0m-5 5h0m-3 5.5h0m-3-11h0m-.5 3h0m-6 .5h0m-10-3h0m-1 1.5h0m0 1.5h0m-4.5 7.5h0m-5 0h0m-1-2.5h0m-1.5-2h0m-1 .5h0m-2 .5h0m-7-7.5h0m-.5 4.5h0m-2 6h0m-9.5-5h0m-1-5h0m-1.5 4.5h0m-1 .5h0m-4.5 2.5h0m-.5 1.5h0m-2.5-5h0m-6.5 0h0m-.5-3.5h0m-.5 1h0m-1 4.5h0m-2.5 1.5h0m-1.5-2.5h0m-7-.5h0m-.5 4h0m-1-1h0m-7-.5h0m-6-.5h0m-1-4h0m-1.5 4.5h0m-4.5 2h0m-2.5 1h0m-4.5-4.5h0m-.5 2h0m-1.5-7.5h0m-1.5.5h0m-1.5 8h0m-1.5-1.5h0m-1.5-5h0m0 3.5h0m-1.5-.5h0m-.5.5h0m-5 0h0m-1 5h0m-1-10h0m-2.5 5.5h0m0 1h0m-1.5-4h0m-2.5 4h0m-.5-7h0m0 1h0m0 5.5h0m-2-6.5h0m0 2.5h0m-1 0h0m-1 4.5h0m-.5-7.5h0m-2 9.5h0m-1.5-4h0m-7-1.5h0m-5-1h0m0 3.5h0m-1.5-3h0m-4-3h0m43 15.5h0m4-4h0m7 1h0m4.5 5.5h0m8.5-4h0m8.5 5h0m4-4.5h0m.5.5h0m2 1.5h0m.5 1.5h0m8 3h0m.5-2.5h0m2-1.5h0m5.5 0h0m.5 6h0m2-5h0m1-2h0m1.5 1.5h0m2.5 1.5h0m5.5-5h0m8.5 6h0m0 2h0m1-5h0m.5 2.5h0m9-.5h0m1-3h0m1 3h0m3 3h0m.5-8.5h0m3.5-1.5h0m2 10h0m.5-6.5h0m1-4h0m.5 6.5h0m1-4.5h0m9-1.5h0m0 7.5h0m6.5-3.5h0m1-.5h0m2 4.5h0m.5 2.5h0m5.5-9.5h0m4 2.5h0m1 7h0m.5-1.5h0m1.5-4.5h0m1-3.5h0m1 3.5h0m1 2h0m1 4.5h0m1-3h0m2.5-1.5h0m4-3h0m3 .5h0m13 0h0m4 2.5h0m1-5.5h0m1.5 7h0m7.5-3.5h0m8 1.5h0m2.5 4h0m4-1.5h0m1 .5h0m3.5.5h0m1.5-8.5h0m1 6h0m3.5 4h0m.5-5h0m1-5.5h0m2 2h0m8 2h0m1 6.5h0m1.5-9h0m9 5h0m3 0h0m.5-6.5h0m2.5 4h0m1 6.5h0m1.5-11h0m0 4h0m.5-3h0m3 1.5h0m2 2h0m1.5 0h0m.5-3h0m1 7.5h0m.5-1h0m.5 2h0m3-8.5h0m3 2h0m.5 3.5h0m0 3h0m4.5-9.5h0m4.5 6.5h0m2.5-6h0m.5 1h0m2.5 5h0m1.5 3h0m4 1h0m.5-9.5h0m1 7.5h0m1-.5h0m.5 1.5h0m0 1h0m.5-8h0m4.5-1h0m0 0h0m1-2.5h0m.5 5h0m2 1h0m2-4h0m0 5h0m.5 4.5h0m.5-11h0m0 2h0m0 3h0m.5 0h0m1 3h0m1.5 3h0m2.5-2.5h0m2-9h0m3.5 9h0m2-2h0m1.5-7h0m.5 7h0m2.5-6h0m0 4h0m.5-3h0m1.5 3.5h0m0 .5h0m2-4h0m1.5-1h0m0 2h0m0 3h0m1-4.5h0m1.5-1.5h0m0 3.5h0m.5.5h0m0 7.5h0m.5-4.5h0m1-1h0m2.5 1h0m1-3.5h0m3.5 1.5h0m5.5 1h0m.5-3h0m1 0h0m0 5.5h0m.5-8.5h0m2 6.5h0m1.5-6h0m0 5h0m4 1h0m.5-4h0m0 3h0m1.5-2.5h0m2 8.5h0m.5-7h0m.5 6.5h0m1.5-9h0m2-.5h0m1 10h0m.5-2h0m1-2.5h0m.5-4h0m.5 8.5h0m.5-7.5h0m.5 1.5h0m.5-.5h0m.5 5h0m1-9h0m.5 1h0m0 2h0m0 2.5h0m1-4h0m2.5 3h0m0 5h0m.5-9h0m1 4h0m1 0h0m.5.5h0m0 5h0m.5-7h0m1.5 7h0m.5-10h0m0 5.5h0m.5-5h0m0 1.5h0m1 5.5h0m.5 2h0m2-4h0m1 2.5h0m.5-1.5h0m1-6h0m.5 4.5h0m0 2.5h0m0 1h0m.5-2h0m3-7.5h0m.5 10.5h0m2-1h0m.5-7h0m0 5h0m0 0h0m.5-5.5h0m.5-1.5h0m.5 9.5h0m.5-7h0m0 .5h0m.5-1.5h0m.5-1h0m0 1h0m.5 2h0m0 4h0m1-2h0m2 5h0m1-9.5h0m.5 10h0m.5-11.5h0m0 5.5h0m0 2h0m0 .5h0m0 3h0m1 .5h0m3-11h0m1 10h0m2.5-8.5h0m0 3h0m1.5-1.5h0m0 7h0m1-8.5h0m0 2.5h0m1-4h0m1.5 4h0m2.5-1h0m3.5 0h0m0 4h0m1.5 3.5h0m.5-4.5h0m2.5-6.5h0m.5 5.5h0m1-4h0m1.5 6.5h0m0 1h0m1.5-8h0m0 1h0m.5 3h0m0 2.5h0m2-1.5h0m0 2h0m2-4.5h0m0 6.5h0m.5-7.5h0m.5-2h0m.5 8.5h0m.5-6h0m0 7.5h0m.5-5h0m.5-.5h0m1.5 1h0m1.5.5h0m0 1.5h0m5.5-7h0m1 5.5h0m.5 3.5h0m1-8h0m2 3.5h0m4-5.5h0m1.5 2.5h0m7.5 11.5h0m0 0h0m-10 1h0m-2 5.5h0m-2-7h0m-4 7h0m-.5-5.5h0m-.5 8.5h0m-1.5-5h0m-1.5-3.5h0m-6 2h0m-1 3h0m-.5-5h0m-1 0h0m-2-1h0m0 7.5h0m-1-8h0m0 9h0m-.5-.5h0m-1-5h0m-1.5-3h0m0 8h0m0 1.5h0m-1-3h0m-1.5-3h0m0 5h0m-.5-3.5h0m-.5-2h0m-1-1h0m-1-.5h0m-2-1.5h0m-1 9h0m-1.5-11h0m-.5 3h0m-.5-.5h0m-.5-1h0m0 .5h0m-.5 2h0m-1 5h0m-1-5h0m-.5-1.5h0m0 6.5h0m-1-7.5h0m-2 5.5h0m0 4.5h0m-.5-8.5h0m-.5 3h0m-.5 0h0m-1-1.5h0m-.5 5.5h0m-.5-8h0m-2 3.5h0m0 4h0m-3-1.5h0m-4-8h0m-.5 2.5h0m0 6.5h0m-.5-4.5h0m0 .5h0m-.5-4.5h0m0 6h0m-2-6.5h0m-.5 3.5h0m-2-1.5h0m0 3.5h0m-1 .5h0m-2-2h0m0 5.5h0m-.5-5.5h0m0 5h0m-1.5-4.5h0m-2.5-2h0m-3.5 4h0m-1-5.5h0m-1 .5h0m-3.5 8h0m-4-9h0m-2 5.5h0m0 1h0m-2-1.5h0m-.5-5.5h0m0 5h0m0 2h0m0 1h0m-1.5.5h0m-.5 2.5h0m-1.5-10.5h0m-3.5 3h0m0 2h0m-.5 3h0m-1.5 1.5h0m-1.5-1h0m-4.5-8.5h0m-1 11h0m-2-11.5h0m-1.5 2.5h0m0 2h0m-2-1.5h0m0 5h0m-1-6h0m-2.5 6.5h0m-1-5.5h0m-.5 0h0m-1 8h0m-1.5-1h0m-.5-9.5h0m0 3h0m-.5 1.5h0m-2-5h0m0 10.5h0m-2.5-3.5h0m-2 3.5h0m-3-10h0m-1 .5h0m0 6h0m-1.5 0h0m0 1h0m-4-1.5h0m-1.5-4h0m-1.5 4.5h0m-1-.5h0m-1.5 3.5h0m-.5-2.5h0m-3 0h0m-2 1h0m-3.5-3.5h0m-1.5 1.5h0m-.5-2h0m-.5-1.5h0m-.5-2.5h0m0 6h0m-1.5-5.5h0m-1.5 5.5h0m-1.5-5.5h0m-2 6h0m-2-4.5h0m-1.5 9h0m-2-7.5h0m-.5 2h0m0 2.5h0m-2-8h0m0 1h0m-4.5 5h0m-.5-3.5h0m0 8.5h0m-1-11h0m-3 8h0m-3-8h0m-5 0h0m-.5 4h0m0 4.5h0m-3 .5h0m-1-1h0m-1.5-6h0m-5.5 7.5h0m-1-1h0m-.5-3h0m-2-1h0m-2-2h0m-1 3.5h0m-2 3h0m-1.5-9.5h0m0 6h0m-2-6h0m-2 0h0m0 10h0m-1.5-2h0m-6.5-3.5h0m-.5 5.5h0m-4-6h0m-10 3h0m-11-5h0m-3-1.5h0m-22.5 3.5h0m-5-2h0m-32 7.5h0m-1-9.5h0m-1 9h0m-.5-2h0m-1.5-3.5h0m-4.5 1.5h0m-3-2.5h0m-1.5 4h0m-1 2.5h0m-.5 2h0m-4.5-6.5h0m-7 6h0m-4-3.5h0m-1.5 0h0m-1 4h0m-3-9.5h0m-11-.5h0m-7-1h0m-4.5 1h0m-5 1.5h0m-15-1.5h0m-6.5.5h0m71.5 12h0m3.5 3.5h0m.5 0h0m2 .5h0m5.5-4h0m92 10h0m11.5-.5h0m3.5-6.5h0m2 5h0m3-7h0m2.5 5.5h0m1-5h0m1-2.5h0m0 9.5h0m.5-6h0m1-3.5h0m.5-.5h0m1 4h0m0 .5h0m1 6h0m1-5h0m0 0h0m2-.5h0m1-3h0m2 8h0m1.5-8h0m6-1h0m1 5.5h0m3-2.5h0m3.5-2h0m1 1.5h0m2 7h0m.5-7h0m3.5 1h0m4 7h0m3-2.5h0m1.5 1h0m1.5-8.5h0m0 8.5h0m1.5-10h0m0 5h0m0 2.5h0m4.5 1h0m.5-8h0m1.5 7.5h0m.5-5.5h0m0 9h0m1-7h0m0 2h0m.5 4.5h0m1-4h0m2 2.5h0m.5 1h0m4-6.5h0m1.5-1.5h0m1.5 4h0m0 5h0m1-10.5h0m1.5 3h0m0 7h0m1.5-3.5h0m2-2h0m1-1.5h0m1.5 5h0m.5-2.5h0m1 4.5h0m.5-9.5h0m0 8h0m4.5-4.5h0m2 3.5h0m.5-8.5h0m0 2.5h0m1 5.5h0m.5-4.5h0m0 7.5h0m.5-7h0m1-4h0m.5 0h0m0 1.5h0m0 8h0m9-4.5h0m.5 2h0m.5-4h0m.5 5.5h0m.5-2.5h0m1 4h0m1-10h0m.5 7h0m0 3h0m.5-10h0m1.5 0h0m0 3h0m2.5 5.5h0m2.5-3h0m1.5-1.5h0m0 4.5h0m2.5 1h0m1.5-4h0m.5.5h0m.5-5h0m0 9h0m1-8h0m.5 3h0m.5 2.5h0m.5 4h0m.5 0h0m.5-11.5h0m0 11h0m2.5-11h0m5.5 7h0m5.5.5h0m2.5-4h0m2-.5h0m.5 3h0m6 2h0m0 1h0m5-8h0m0 4h0m0 1.5h0m2-4h0m.5 3h0m.5-4h0m.5 4h0m2 5h0m3-5h0m.5-3.5h0m0 1.5h0m1 3.5h0m0 0h0m3 1.5h0m.5-3.5h0m1 4.5h0m.5-4.5h0m1 .5h0m0 2.5h0m2.5-7h0m.5 10.5h0m2.5-2.5h0m0 2.5h0m.5-10h0m0 8h0m1 .5h0m1.5-.5h0m.5.5h0m3.5-4h0m.5 4h0m0 .5h0m6.5-10h0m.5 9.5h0m.5-10h0m0 5.5h0m2-4.5h0m1 0h0m.5.5h0m.5 5h0m1-3.5h0m0-.5h0m1 5h0m1.5-1h0m.5-2.5h0m6 5h0m0 0h0m1-2h0m1.5 3.5h0m.5-1.5h0m3-3h0m1 .5h0m4 1h0m4 2h0m3 2.5h0m-18.5 0h0m0 1.5h0m-4.5-1h0m-3-.5h0m-2.5 0h0m-.5 11h0m-4.5-7h0m0 .5h0m-1-1h0m-2-.5h0m0 7.5h0m-.5 1h0m-1.5-8h0m-1-3.5h0m0 5.5h0m-.5-1h0m-2.5-2h0m0 6.5h0m-6.5-1h0m-4-.5h0m-2.5-5h0m-1 0h0m-1.5 8h0m-3.5-2h0m0 3h0m-1-9.5h0m-1.5 2h0m-2 6h0m-.5.5h0m-1.5-3h0m-2.5-1.5h0m-16 4h0m-.5-10h0m0 4.5h0m-1 5.5h0m-.5-9.5h0m-1 3.5h0m-1.5 0h0m-2.5-2.5h0m-.5 2h0m-2 4.5h0m-7.5 1.5h0m-5 2h0m-.5-7.5h0m-3.5-1.5h0m0 6h0m-1-3.5h0m0 4.5h0m-1-8h0m-4.5 2h0m-2.5.5h0m-3 7h0m-3-8h0m-2 0h0m-.5-2.5h0m-1 6h0m-4-2.5h0m-3.5-3h0m-6.5-1h0m-.5 9.5h0m-1-5h0m0 6h0m-.5-5.5h0m-3-1h0m-3-3.5h0m-2 7h0m-2 .5h0m-3-1.5h0m-1.5-3h0m-.5 1.5h0m-2-1h0m-4 1.5h0m-2-3h0m0 8.5h0m-4-4h0m-4-6.5h0m-.5-.5h0m-3 2h0m-3.5 1h0m-.5 1h0m-1-4h0m-4.5 0h0m-2.5 2.5h0m0 .5h0m0 2h0m-.5-5h0m-.5 6.5h0m-1 1h0m-1-4.5h0m-3.5-2.5h0m0 1h0m-4 5h0m-1 3.5h0m-2-3.5h0m-1 3.5h0m-.5-10h0m-2.5 3.5h0m-2-3h0m-4.5 5h0m-18.5-5.5h0m-22 9h0m0 0h0m-66.5-.5h0m35.5 15h0m.5-.5h0m70.5-2h0m3-1h0m2-4.5h0m1.5 6h0m1-.5h0m3-3.5h0m9 1.5h0m3 .5h0m3-7.5h0m2.5 9.5h0m0 0h0m0 2h0m1-2h0m.5-4h0m1 3.5h0m1.5-1h0m.5-4h0m3 1.5h0m1.5 5.5h0m2-3h0m5.5-4.5h0m3.5 0h0m0 5h0m2.5-3h0m5.5 5h0m1.5-5h0m0 5h0m2-2h0m1-2.5h0m1 .5h0m6-5.5h0m4.5 1h0m2 0h0m2-1.5h0m1.5 7.5h0m2.5-3.5h0m1.5-2h0m3.5 3h0m1.5 0h0m6.5 2h0m1-2.5h0m0 4.5h0m1-2.5h0m4.5 3.5h0m11-1.5h0m2-9h0m0 7h0m1-4h0m2-2.5h0m.5 0h0m.5 9.5h0m1.5-9.5h0m0 1.5h0m0 4.5h0m.5 1.5h0m1-4.5h0m0 3.5h0m3-3.5h0m0 3.5h0m5.5 2h0m1.5-7h0m0 7h0m11.5-8.5h0m5 7.5h0m1-.5h0m1.5 1.5h0m1-.5h0m1-2h0m1 5h0m5.5-6h0m0 3h0m1-6h0m1 4h0m1 4h0m1.5-10.5h0m.5 2h0m5.5 4h0m1 5h0m1-3.5h0m.5-7.5h0m1.5 8.5h0m24.5-7.5h0m20 9.5h0m4-2.5h0m.5.5h0m1 0h0m.5-.5h0m6 15.5h0m-1-10.5h0m-2.5 8.5h0m-2.5.5h0m-1-9h0m-1 9h0m-4.5-7h0m0 8h0m-15.5 0h0m-1-6.5h0m-17.5-4h0m-5.5 4h0m-1.5 6.5h0m-.5 0h0m-5-8.5h0m-1-.5h0m-1.5 4.5h0m-1.5 4.5h0m-3.5.5h0m-3.5-10h0m-3.5 5h0m-.5.5h0m0 3.5h0m-3-2.5h0m-.5 2.5h0m-2-7h0m-2.5 5h0m-1.5-3.5h0m-13 2h0m-12.5-5h0m-5.5 9h0m-5-2.5h0m-3.5-7h0m-30 5h0m-1-5.5h0m-1.5 5h0m-7-2h0m-4 3.5h0m-2.5-1.5h0m-3-5h0m-1 2h0m-2.5 5.5h0m-3.5-1h0m-2.5 2h0m-3.5-4h0m-.5 2.5h0m0 2h0m-2-10h0m-2.5 10.5h0m-2.5-8.5h0m-1.5 8h0m-1.5-4h0m-1 4h0m-1.5-2h0m-2-2h0m0 1h0m-1 3h0m-1.5 0h0m-.5 1h0m-1.5-10h0m0 5.5h0m-1-4.5h0m-1.5 0h0m-1 9h0m-1-8.5h0m-1-1.5h0m0 1.5h0m0 6h0m-1 3h0m-1.5-5.5h0m0 0h0m-1.5-6h0m-1 10.5h0m-1.5-4.5h0m-2-1h0m-.5-3.5h0m0 4h0m-.5-2h0m-1 7.5h0m-.5.5h0m-1.5-2.5h0m-.5-7.5h0m-2.5 8h0m-1.5-6.5h0m0 8h0m-.5-4h0m-2-2.5h0m0 1h0m-1.5 2h0m-1.5 0h0m-.5-6h0m-1 8.5h0m-2.5-7.5h0m0 3.5h0m-2.5-.5h0m-.5-1.5h0m0 5.5h0m-1.5-7.5h0m-2 8h0m-3-3h0m0 2h0m-7 2.5h0m-.5-4h0m-1 2.5h0m-3.5.5h0m-23.5 10h0m3.5 2h0m3-1.5h0m2 0h0m.5-4h0m1 .5h0m2 6h0m1.5-5.5h0m0 0h0m.5-1h0m0 1h0m.5-2h0m0 4.5h0m.5-7.5h0m0 2.5h0m.5 6.5h0m.5 1.5h0m1-7h0m0 1h0m.5-1.5h0m2 4.5h0m1.5-4h0m.5 6h0m.5-8h0m1.5-1.5h0m0 3h0m.5 5h0m2-9h0m1 2.5h0m.5 2.5h0m1 4h0m2.5-3.5h0m1-1.5h0m0 3.5h0m.5 1.5h0m0 2.5h0m.5-10h0m.5-1.5h0m0 9h0m0 1.5h0m.5-5h0m2 3.5h0m1.5-2h0m0 .5h0m1.5-5h0m0 5h0m.5-1.5h0m.5-2h0m.5-3h0m1 10.5h0m2-8h0m.5-2h0m0 3.5h0m1.5-2.5h0m.5 2h0m1 4h0m1.5 2.5h0m.5-6.5h0m.5 5.5h0m1.5 1.5h0m1-11.5h0m.5 9.5h0m0 .5h0m.5-9h0m.5 6.5h0m1-5.5h0m1.5 7h0m.5-7.5h0m.5 5.5h0m1.5-6h0m0 10h0m1.5-10h0m0 3.5h0m.5 1h0m2-4.5h0m.5 3.5h0m0 5.5h0m1-1h0m1.5-4h0m.5-4.5h0m1 5.5h0m1-2.5h0m.5-2h0m0 6h0m.5-7.5h0m1.5 5h0m1.5-4h0m0 2h0m2 4h0m1.5 0h0m2 4.5h0m1-11.5h0m0 8h0m1.5-8h0m0 5h0m0 5h0m1-7h0m.5 4h0m1-1.5h0m1 5h0m2-8.5h0m1.5 1.5h0m1 2.5h0m.5-5.5h0m0 5.5h0m.5-6h0m1.5 4.5h0m.5-2h0m.5 0h0m.5-2.5h0m0 10h0m0 1.5h0m1.5-4h0m0 3h0m.5 1h0m2-9h0m.5 8h0m.5-10h0m0 2.5h0m0 8h0m1-9h0m.5 3.5h0m.5 0h0m2 1.5h0m1.5-5h0m1 6h0m.5-2.5h0m0 4h0m2 0h0m.5-1.5h0m.5-1.5h0m1 4h0m.5-10.5h0m1 9h0m.5-5.5h0m.5-1h0m0 1h0m1 1.5h0m3.5-2h0m2-2.5h0m3 0h0m1 1h0m1-.5h0m14.5 8.5h0m14.5-1h0m13.5.5h0m12.5-8.5h0m28 9.5h0m1.5-7.5h0m9.5 1h0m1 1h0m0 7h0m3.5 0h0m2.5-11h0m1.5 6h0m5.5-3.5h0m5.5.5h0m2 8h0m4-7h0m5 1.5h0m3.5-3h0m.5.5h0m.5 3.5h0m6.5-4h0m0 1h0m4 3.5h0m2.5.5h0m9.5 1h0m0-.5h0m15 1h0m5 .5h0m1-7h0m-1 11h0m-9.5 5h0m-8.5-5.5h0m-14.5 1.5h0m-1 0h0m-33-3h0m-6 10.5h0m-11.5-2h0m-.5-8h0m-2 4h0m-1.5 0h0m-13.5 7h0m-34-8h0m-9 2.5h0m-35-4h0m-1.5 5h0m-.5 2.5h0m-2 .5h0m-1-2.5h0m-.5-3.5h0m-.5 6.5h0m-.5-9.5h0m0 4.5h0m-.5-4h0m-.5 7h0m-.5-8.5h0m-1.5 2.5h0m-2 1h0m-.5 1h0m0 6h0m-.5-4h0m-.5 0h0m-2-5.5h0m-.5-.5h0m-.5 2h0m-1 7h0m-1.5-8.5h0m0 5.5h0m-.5-6.5h0m0 4.5h0m-1.5-2.5h0m-.5 4h0m-.5 1h0m-.5-5h0m-.5-1h0m0 2.5h0m0 5.5h0m0 1.5h0m-1-9h0m0 7h0m0 2.5h0m-.5 0h0m-1 .5h0m-1-4.5h0m-.5 3.5h0m-2-10h0m0 10h0m-1-7h0m0 3h0m-3-.5h0m-1-2h0m0 2h0m-1 2.5h0m-.5 1h0m-.5-7.5h0m-4 2.5h0m-1-3h0m-.5 9.5h0m-.5-4.5h0m-.5-1.5h0m-2-2h0m-1.5 5.5h0m-.5 3h0m0-.5h0m-1.5-.5h0m-3-7h0m-1 5.5h0m-1.5-6.5h0m-.5 2h0m-.5-4.5h0m0 5h0m0 4h0m-.5-5h0m-1 3h0m-1.5-4.5h0m-1 9h0m-.5-9h0m-.5 4.5h0m0 2h0m-1-5h0m0 3h0m-1-3h0m-1 6h0m-1-3.5h0m-.5-1h0m-1 5h0m-1-5h0m0 1h0m0 3h0m-.5-7.5h0m-.5 9.5h0m-1.5-9h0m-1-1h0m-3.5 3h0m-.5-3.5h0m-2-.5h0m-.5 4h0m0 6.5h0m-1-11h0m0 3h0m-3 3h0m-2 1h0m0 1.5h0m-2 2h0m-1 1h0m-4-10.5h0m-.5 3h0m0 6.5h0m-1-8.5h0m-1.5 8h0m-.5-8.5h0m0 10h0m-1-9.5h0m-.5 9h0m-1.5-8h0m-.5-2h0m-.5 7.5h0m-1.5 0h0m-.5-8h0m0 5h0m-.5-4h0m-1.5 2.5h0m0 2.5h0m-1-5h0m-1 2.5h0m0 4h0m-4-4.5h0m0 5h0m-1-6.5h0m-1-.5h0m0 4.5h0m-1.5 3h0m-1.5-2h0m-1 1h0m-.5-6h0m-.5-2h0m0 5h0m-1 1h0m-2 4h0m-1.5-4h0m-1.5 5.5h0m-1.5-1.5h0m-1.5-2h0m-8 13h0m5-2h0m1 .5h0m0 3h0m1-4h0m0-.5h0m0 5h0m1-6.5h0m1-4h0m0 1h0m1 9h0m2-9.5h0m2 10h0m.5-10h0m0-.5h0m0 5.5h0m0 5.5h0m2.5-11h0m0 1.5h0m0 5h0m1.5-6h0m.5 8h0m2.5-8h0m0-.5h0m3 .5h0m0 2.5h0m.5-1h0m.5-1.5h0m.5 4.5h0m.5 0h0m0 5.5h0m.5-2.5h0m1 1h0m1 1h0m.5-5h0m0 0h0m.5-2.5h0m0 0h0m2-1h0m.5 1.5h0m.5 6.5h0m.5-5.5h0m0 3h0m0 3h0m1-2.5h0m.5-1h0m.5-4.5h0m.5-.5h0m.5 1.5h0m2-3h0m0 3.5h0m2.5-1.5h0m0 3h0m2 1h0m.5-2.5h0m.5 2.5h0m0 4.5h0m2.5-3.5h0m1 3h0m.5-4h0m2-3h0m0 .5h0m0 0h0m.5-3h0m2.5 9.5h0m.5-10.5h0m0 10.5h0m.5-3h0m0 .5h0m.5-1.5h0m0 3.5h0m0 1h0m.5-10h0m1 1h0m1.5-1h0m0 9.5h0m.5-2.5h0m1-1h0m0 4h0m1-.5h0m.5-10.5h0m4 4.5h0m1 1.5h0m0 4h0m1-3.5h0m0 4h0m1-5h0m1 4.5h0m2-9h0m0 2h0m2 5h0m.5-2h0m1.5-4h0m.5 2.5h0m.5-.5h0m0 3.5h0m.5-5h0m0 6.5h0m1 .5h0m0 2h0m.5-4h0m.5-5.5h0m.5 5.5h0m1.5 4h0m.5-1h0m0-.5h0m1.5-.5h0m1-5h0m.5 3h0m.5-4h0m1.5-1h0m0 9h0m.5-2h0m.5-4.5h0m0 5h0m1-7h0m1.5 4.5h0m.5-3h0m0 6.5h0m.5-4h0m.5-1.5h0m.5-.5h0m0 5h0m1.5-3h0m0 2h0m1.5-8h0m.5 4h0m0 6h0m.5-5h0m0 4.5h0m1-8h0m0 8h0m3-6.5h0m.5 5h0m.5-2h0m.5-6h0m.5 6.5h0m.5 2.5h0m0 .5h0m.5-8.5h0m0 7.5h0m0 1.5h0m2-8.5h0m0 5.5h0m1.5-1h0m.5 2h0m2 .5h0m3.5-1h0m2-8h0m0 4.5h0m.5-4.5h0m.5 9.5h0m.5-2.5h0m1-7.5h0m2 6h0m3-5h0m.5 6.5h0m.5-6h0m.5 5.5h0m.5 3h0m1-4.5h0m.5 4.5h0m.5-9.5h0m0 3h0m.5 7h0m2.5-3h0m1.5-6.5h0m4.5 9.5h0m1.5-3.5h0m8.5-1h0m3.5-3h0m0 2.5h0m2-.5h0m2 1h0m3.5 3.5h0m1.5 0h0m2.5 0h0m3-1h0m1-4h0m1 0h0m11.5 2.5h0m10 1h0m4 2h0m2.5-1.5h0m12.5-6.5h0m12.5 3h0m1 1.5h0m6 .5h0m2.5-5.5h0m8 0h0m5 4h0m8.5 3h0m2.5-6h0m1 7.5h0m.5-9h0m2 1.5h0m3.5-.5h0m1-1h0m1 7.5h0m7 1.5h0m1.5 1h0m4.5-5.5h0m5 2.5h0m0 2.5h0m5.5-.5h0m2.5-1.5h0m3-3h0m.5 4h0m.5-6.5h0m5 2.5h0m1 4h0m1.5-.5h0m.5 2h0m3.5-2h0m0 .5h0m2.5-8.5h0m.5 0h0m0-.5h0m3.5.5h0m3 6.5h0m2.5-2h0m8.5-3.5h0m44.5 17.5h0m-.5.5h0m-28 2.5h0m-1-6h0m0 2.5h0m-.5 2h0m-3 1h0m-5-2h0m-4 3.5h0m-.5-10h0m0 0h0m-.5-.5h0m0 8h0m-1 2h0m-.5-5.5h0m-.5 0h0m0 3.5h0m-.5-8h0m-1.5 2h0m-1.5 0h0m-1 2.5h0m-1 .5h0m-.5 5.5h0m-.5-2h0m-2-7h0m0 5.5h0m-.5-4.5h0m-1 2h0m-.5-2.5h0m-3 8.5h0m-.5-9.5h0m0 5.5h0m-1-6.5h0m-7 1h0m-1 8.5h0m-1.5-1h0m-.5-7h0m0 7.5h0m-2-2.5h0m-2.5-6.5h0m-1.5 8.5h0m-3.5 1.5h0m-1-9.5h0m-1.5 2.5h0m-2 6h0m-1-1h0m-.5-6.5h0m-1.5-2.5h0m-4 .5h0m-1 7.5h0m0 3.5h0m-.5-1.5h0m-4 0h0m-1.5-9.5h0m-1.5 2.5h0m-1 2.5h0m0 3h0m-4.5-8.5h0m-1 9.5h0m-1-5h0m-.5 4.5h0m-9-7.5h0m0 9h0m-.5-6h0m-.5 3h0m-1.5-1.5h0m-8.5-3.5h0m-10 0h0m-7 7h0m-1-3h0m-11 2.5h0m-1.5-4.5h0m-6-4h0m-1 3h0m-1.5-1.5h0m-.5 4h0m-2.5 3.5h0m-.5-3h0m-1 .5h0m-1 3h0m-1-8h0m-.5 4h0m-1.5 3.5h0m-3-.5h0m-.5-8h0m-1.5 7.5h0m-3.5-4.5h0m-2-3h0m-2.5 7.5h0m-1 0h0m-.5-3.5h0m0 4h0m0 2h0m-3.5-5h0m-2.5 5.5h0m-3.5-5h0m0 .5h0m-3-5.5h0m-2 1.5h0m-1.5 2h0m-.5-1.5h0m-3 5.5h0m-2 1.5h0m-2.5-3.5h0m-1.5-5.5h0m-1.5 5.5h0m-1.5-2.5h0m-1.5-.5h0m-1 4h0m-1 2.5h0m-.5-5h0m0 5h0m-4-10.5h0m-1.5 8.5h0m-1-8h0m0 3.5h0m0 4h0m-.5-.5h0m0 1h0m-1-8.5h0m-2 4.5h0m-4.5 4h0m-.5 2h0m-1.5-4.5h0m-3-1.5h0m-3 4h0m-2-4.5h0m0 2h0m-.5-6h0m0 8.5h0m-1-3h0m-.5-5.5h0m-1.5.5h0m0 9h0m-.5-4h0m-2.5 4h0m-1.5-7h0m-3 2h0m0 1h0m-.5 3h0m0 0h0m-.5-5h0m-1-.5h0m0 2h0m-1-3h0m-1.5 2.5h0m-.5-1h0m-2.5-3.5h0m-2 3.5h0m-1.5-3.5h0m0 2h0m0 .5h0m0 8.5h0m-.5-1h0m-.5-6h0m0 6.5h0m-.5-1.5h0m-1-5.5h0m0 2h0m-.5-.5h0m0 .5h0m-.5-5h0m0 3.5h0m0 2.5h0m-.5 0h0m-.5 2h0m-.5-8h0m-.5 3.5h0m-.5 5h0m-.5-1.5h0m-1-3h0m0 5.5h0m-2.5-5.5h0m0 7h0m-.5-11h0m0 2h0m0 .5h0m-.5 4h0m-1-4.5h0m-.5 6.5h0m-.5 1.5h0m-.5-3h0m-.5 1h0m0 0h0m-.5 1h0m-.5-5h0m0 4h0m-4.5-3h0m-1.5-3.5h0m-.5 2.5h0m-1.5 3h0m0 3.5h0m-1-1h0m-.5-4h0m-1 2.5h0m-2-4.5h0m-.5 2.5h0m-1 0h0m0 3.5h0m-.5-3h0m-2-5h0m-.5 1.5h0m-.5 5h0m0 3h0m-.5-4.5h0m-.5-.5h0m-1.5 1h0m-1.5-7h0m-1.5 3h0m0 .5h0m-.5 5h0m-.5-2h0m-1.5-2h0m0 6.5h0m-2 0h0m-.5-8.5h0m-.5-.5h0m-2.5 1.5h0m-.5 3h0m-3 3.5h0m-2.5 0h0m-1-4.5h0m-2 3h0m-.5-5h0m0-.5h0m0 1.5h0m-1.5 2h0m-1-3.5h0m-1 1.5h0m-.5 4h0m-2-6.5h0m0 3h0m-.5 4.5h0m-.5-10h0m-.5 1h0m-3 5.5h0m0 2.5h0m-1-3h0m-.5 3h0m-1-3h0m-.5-6h0m0 6.5h0m-.5-4h0m-.5-1.5h0m-2.5 3h0m-1 .5h0m0 2.5h0m-2.5-2.5h0m-.5 1h0m0 1h0m0 .5h0m-.5-4.5h0m-1.5 1h0m-.5-2h0m-.5 4.5h0m-.5-4.5h0m0 5h0m-1-5.5h0m-.5 7h0m-.5-4.5h0m-1.5-3.5h0m-.5 6.5h0m-1.5-3h0m-1-3.5h0m-.5 1.5h0m-2.5-.5h0m-1 5h0m-3-2.5h0m0 6h0m-2.5-9.5h0m-2 10h0m0 0h0m-3.5-.5h0m-3 8.5h0m5-2h0m4 2.5h0m.5-4h0m1.5 3h0m.5-3h0m0 0h0m.5-2h0m1 4h0m.5-4h0m1 10h0m2.5-10.5h0m2 .5h0m4 4.5h0m.5-2.5h0m1 3h0m2.5-3h0m.5-1.5h0m1 3.5h0m1.5-2h0m.5-1h0m1 4h0m1-5h0m1 4h0m2 0h0m.5-4h0m0 2.5h0m0 2h0m1-1.5h0m4-2.5h0m2.5 2.5h0m0 1.5h0m0 1.5h0m.5-6h0m0 3.5h0m1-2.5h0m.5-1h0m6 6.5h0m1 1.5h0m2.5-7.5h0m0 .5h0m1.5 2h0m1 3.5h0m1-.5h0m1.5-3h0m0 3h0m1-6h0m0 .5h0m1.5 2.5h0m0-.5h0m1 2.5h0m2.5-4.5h0m0 8h0m1-3.5h0m2.5-1h0m2.5.5h0m3-3.5h0m0 7h0m1.5 0h0m.5-4h0m3 .5h0m0 2h0m1-2.5h0m2-3.5h0m3.5 5.5h0m1-1h0m1-4.5h0m1.5 0h0m1.5 1.5h0m1.5 2.5h0m10.5-5h0m1 1h0m1.5-.5h0m0 4.5h0m2-4h0m1 .5h0m1.5 0h0m3.5.5h0m0 1h0m.5-2.5h0m2 5h0m3.5 2h0m30.5-7.5h0m7 1h0m10.5 1h0m1-1h0m0 4h0m3.5-4.5h0m7 9.5h0m1-7h0m2.5 2h0m2 5h0m1-6h0m2 7.5h0m3.5-6.5h0m2-4.5h0m0 3h0m1 6.5h0m1-8h0m1-1.5h0m.5 8h0m2 2h0m5-10h0m9.5 8.5h0m1-4.5h0m9.5-1.5h0m0 7h0m8 0h0m1.5 0h0m2-4h0m1.5-1h0m1.5 2.5h0m1-.5h0m3.5-5.5h0m.5-.5h0m5.5 8h0m1-6.5h0m6.5 6.5h0m12 0h0m4-7.5h0m2 2h0m0 1.5h0m1.5 6.5h0m4.5-8.5h0m2.5-1.5h0m2.5 7h0m3-4h0m2-4.5h0m.5 1.5h0m1 6.5h0m.5 1h0m.5-3.5h0m0 6h0m1-7h0m1.5 3.5h0m.5-2.5h0m2.5-1.5h0m0 5.5h0m2-9h0m0 5h0m0 4.5h0m1.5.5h0m1-6h0m0 4.5h0m1-4h0m.5.5h0m.5 1h0m0 1.5h0m.5-2h0m.5 4.5h0m1-1.5h0m.5-4.5h0m0 1h0m.5 2h0m.5 1.5h0m3-6.5h0m2 3.5h0m5-3.5h0m1 1h0m1 2h0m0 1.5h0m0 2.5h0m0 2h0m2.5-11h0m0 10.5h0m2-.5h0m1.5-8.5h0m0 2h0m.5 5h0m.5-7h0m1.5 7.5h0m3-9h0m2.5-.5h0m1 5.5h0m.5 3.5h0m3.5-1.5h0m0 3h0m6.5 0h0m.5-10.5h0m0 8.5h0m.5-2.5h0m1.5 5.5h0m3.5 0h0m.5-6.5h0m0 4.5h0m1-7h0m5 2.5h0m.5-.5h0m.5 2.5h0m0 4h0m.5-4.5h0m2.5-2h0m1.5 6h0m1-8h0m.5 5h0m1-6h0m1.5 8h0m1-5h0m1.5 1.5h0m1.5 4h0m1-7h0m.5 3.5h0m2-6h0m.5 10h0m2.5-7h0m0 3h0m2 5h0m1-.5h0m4.5-1h0m1-1.5h0m7 0h0m0 .5h0m3.5 1.5h0m.5-5h0m3.5 2h0m5 4h0m.5-5.5h0m6 4h0m1.5-.5h0m.5-.5h0m0 2h0m4 .5h0m6-3h0m45.5 9h0m-6.5 3.5h0m-8 0h0m-15.5 1.5h0m-4.5 1h0m-3.5-10.5h0m-1.5 7.5h0m-.5-4h0m-1-.5h0m-1 6h0m-.5-2.5h0m-1.5-5h0m-1 4.5h0m0 2.5h0m-1.5-.5h0m-1.5-7.5h0m0 6.5h0m0 2.5h0m-.5-9h0m-4 5.5h0m-.5 2h0m-1.5-1h0m-1.5 2.5h0m-1.5-1h0m-.5-7h0m0 3.5h0m-2.5.5h0m0 5h0m-1.5-3h0m-2-7h0m-1-.5h0m0 .5h0m-1.5 6h0m0 1.5h0m-1.5-1.5h0m-.5 1h0m-1 .5h0m-.5-6.5h0m-1 1h0m0 .5h0m-.5 5h0m-2 1h0m-2.5-2.5h0m0 2.5h0m-.5-2h0m-.5-3.5h0m-2.5 0h0m-.5 1.5h0m-.5 1.5h0m-.5-4h0m-1 0h0m-1-2h0m-1 .5h0m-1 5.5h0m0 2h0m-.5-3h0m0 3h0m-.5-3.5h0m-.5 1.5h0m-2 1h0m-.5 1.5h0m-.5-9.5h0m-.5.5h0m0 9.5h0m-.5.5h0m-.5-7.5h0m-.5 3h0m-3.5-2h0m-.5-4h0m0 5h0m0 5.5h0m-1.5-2.5h0m-.5 3h0m-2-9.5h0m0 5.5h0m-.5-4h0m-.5 5h0m0 1h0m-2.5-1h0m-1 .5h0m-.5 0h0m-2-1h0m-1-.5h0m0 .5h0m-.5-4h0m-1-2h0m0 8.5h0m-.5-6h0m0 0h0m-.5 6h0m-1.5-2h0m-.5 0h0m-2.5 1.5h0m-1-7h0m0 4h0m-.5 3.5h0m-1.5-7h0m-1.5-3h0m0 1h0m-.5 10h0m-.5-9.5h0m-.5 4h0m-1 3h0m-1 1h0m-2-7.5h0m-.5-1h0m-.5 8.5h0m-1-8.5h0m-.5 6.5h0m-.5-7.5h0m0 2.5h0m0 8h0m-.5-1.5h0m-.5-4.5h0m0 4h0m0-1h0m-.5-5h0m0 2.5h0m-1-5h0m-.5 10.5h0m0 .5h0m-1.5-5.5h0m-2-2h0m-1-2h0m-1 3h0m-.5-4.5h0m-2 4.5h0m-1.5 3.5h0m-4.5 2.5h0m-.5-6h0m-.5-1.5h0m-.5-1.5h0m-1.5 2h0m-1 4h0m-3 2h0m-1.5-5.5h0m0-.5h0m0 2h0m-10.5-2h0m0 6h0m-2-4h0m0 2h0m-2-5.5h0m-1 3.5h0m0 3.5h0m-1-8h0m0 10h0m-1-3h0m-2-3.5h0m-.5-3.5h0m-.5 6.5h0m-.5.5h0m-.5-5.5h0m-1 5.5h0m-1-.5h0m-1 1h0m-1.5-8.5h0m0 2.5h0m0 8h0m-2-10.5h0m-2.5 9.5h0m-3-2.5h0m-3-7.5h0m-2 6h0m-.5 2.5h0m-.5-5h0m-.5-2h0m0 9.5h0m-.5-2.5h0m-1 2.5h0m-3-8.5h0m-.5 6h0m-1-4h0m-4 3h0m0-.5h0m-1-4.5h0m-3 8.5h0m-1.5-10.5h0m0 1.5h0m0 5.5h0m-1.5 0h0m-5-2h0m-1-3.5h0m0 9.5h0m-2-5h0m-1.5-4h0m-.5 2h0m-5.5-1.5h0m-1-1.5h0m-1 2.5h0m-1.5-.5h0m-2 .5h0m-.5-3h0m-1 10h0m-1.5-11h0m-1 9h0m-1-3.5h0m-1-1.5h0m-2.5-4h0m-.5 5.5h0m-1.5.5h0m-1.5-6h0m-1 0h0m-.5 11.5h0m-1-11h0m-1 5h0m-1-5.5h0m-.5 11.5h0m-.5-.5h0m-1.5-.5h0m-12.5-3h0m-5.5-3.5h0m-10 1.5h0m-1-3h0m0 4h0m-.5-2.5h0m0 7h0m-1.5-6.5h0m0 2.5h0m-1.5 2.5h0m-1-9h0m-4.5 9h0m-4 .5h0m6 6.5h0m10.5 7h0m2.5-.5h0m3.5-1.5h0m2-9.5h0m7.5 5.5h0m0 2.5h0m0 1h0m.5-4.5h0m.5 4.5h0m.5-8h0m1.5.5h0m.5 1h0m2.5 3h0m3.5-2h0m1 4.5h0m.5-7.5h0m.5 10h0m1.5-3.5h0m0 3h0m0-1h0m2-7.5h0m.5 6h0m6.5-3h0m0 5.5h0m3-8h0m1.5.5h0m1 0h0m3 8.5h0m0 .5h0m1.5-8.5h0m.5 3h0m2.5-4.5h0m2.5 2h0m1.5 5.5h0m1-9h0m0 2.5h0m.5 3h0m1-1.5h0m0 2h0m4-6h0m2.5 3.5h0m.5-2h0m2 0h0m2.5-1h0m1 10.5h0m1-7.5h0m3.5.5h0m0 4h0m1.5.5h0m.5-5h0m1.5 2.5h0m1-3.5h0m0 8h0m0 0h0m.5-1.5h0m1-4.5h0m2-2.5h0m2.5 8.5h0m1-7.5h0m2-3h0m0 7.5h0m.5-6.5h0m0 4.5h0m1.5 3.5h0m1.5.5h0m0 2h0m.5-7h0m1.5-1h0m.5 8h0m.5-9h0m2 4.5h0m1-3h0m0 2h0m.5-5.5h0m0 4h0m.5-4h0m0 4h0m1-2h0m0 6.5h0m.5-3h0m2 3.5h0m.5 1h0m.5-7.5h0m.5-2.5h0m.5 2.5h0m1-1h0m1 4.5h0m1-5h0m0 2.5h0m.5 3.5h0m.5-6.5h0m.5 5.5h0m1 3h0m1 1.5h0m3-1h0m1-5.5h0m0 5.5h0m.5-9.5h0m0 2h0m.5-2h0m0 4h0m0 2h0m1 2h0m0 2.5h0m.5-3h0m.5-4h0m1.5-.5h0m0 3h0m1-3.5h0m0 6.5h0m.5 1h0m1-6h0m1 4h0m0 2h0m.5-.5h0m3.5-5h0m1-2.5h0m.5 0h0m.5.5h0m.5-1h0m0 6h0m.5-5.5h0m1.5 2.5h0m0 3h0m0 3h0m.5-6h0m1.5-.5h0m0 2.5h0m1.5-6.5h0m0 7h0m.5-1h0m0 4.5h0m1-8h0m0 4.5h0m0 0h0m2 1.5h0m1.5-6.5h0m.5 2.5h0m2 3.5h0m1.5-5.5h0m.5 4h0m.5-6h0m0 4.5h0m.5 6h0m.5-2h0m1 2h0m.5-8.5h0m0 1.5h0m0 2h0m2.5-4h0m0 3.5h0m.5 1.5h0m1-7h0m.5 8.5h0m.5-2h0m0 0h0m0 3.5h0m1-.5h0m1.5-6.5h0m0 5.5h0m1 .5h0m.5-7.5h0m1 1h0m1-1.5h0m1 4.5h0m.5-2h0m.5 2.5h0m.5-6h0m.5 3h0m1 .5h0m.5-1.5h0m.5 6h0m.5-1h0m.5-5h0m.5 6h0m0 1.5h0m.5-9.5h0m0 8.5h0m0 2h0m.5-3.5h0m2.5-4.5h0m.5-3h0m.5 7h0m2-2.5h0m.5 3h0m.5 1h0m1 2.5h0m.5-1.5h0m2-5.5h0m0 2h0m.5.5h0m.5 1.5h0m0 0h0m.5-6.5h0m0 2.5h0m1-1h0m0 8.5h0m1.5-2.5h0m.5-4h0m2.5-.5h0m0 1.5h0m1.5-5h0m0 6.5h0m0 0h0m0 1h0m.5-6h0m0 3.5h0m2-3h0m1-2h0m0 9h0m.5-8.5h0m0 7.5h0m0 1.5h0m2.5-4.5h0m.5-5.5h0m0 10h0m.5-8.5h0m.5-1h0m0 7h0m.5 1.5h0m2-5h0m.5 3.5h0m.5-3.5h0m0 2.5h0m2 2.5h0m1-9.5h0m.5 7.5h0m1-6h0m1 9.5h0m1.5-9.5h0m0 2h0m0 2.5h0m1-2.5h0m3-.5h0m0 1.5h0m1.5-2h0m.5-2h0m0 2h0m.5-1h0m.5 4.5h0m2-.5h0m2.5.5h0m1-1h0m.5-3.5h0m0 3.5h0m.5 3h0m1-4.5h0m0 7.5h0m.5-10h0m0 1.5h0m0 7h0m0 1h0m1-9h0m.5 3h0m.5 2h0m1.5 2h0m.5-2.5h0m.5 2h0m1-3h0m0 3h0m0 2.5h0m.5-7h0m2-3.5h0m1.5 3.5h0m0 6.5h0m.5-1.5h0m.5 1h0m0 1.5h0m.5-8.5h0m0-.5h0m0 7.5h0m.5 2h0m.5-2h0m.5-2.5h0m.5-3h0m0 1h0m0 0h0m1.5-3.5h0m4.5-1h0m.5 5h0m.5-4h0m3 0h0m1 2.5h0m0 4h0m1.5.5h0m.5 3h0m1-10h0m.5 4h0m1.5-3.5h0m1 4h0m.5-5h0m0 6.5h0m.5-7h0m0 3h0m1 7h0m1-3h0m1 .5h0m3 3h0m1-2h0m.5-.5h0m.5-4.5h0m1 4.5h0m.5-8h0m0 8.5h0m1-5.5h0m1 5h0m.5 1h0m0 1h0m.5-9.5h0m.5 10.5h0m.5-7.5h0m0 2h0m.5-.5h0m0 5.5h0m.5-3.5h0m0 1.5h0m1-8.5h0m1.5 5.5h0m.5-1h0m0 5h0m.5-10h0m.5 2.5h0m1.5 4.5h0m1 0h0m1.5 4.5h0m.5-.5h0m1 .5h0m0 0h0m0 0h0m1-5h0m.5 4.5h0m.5-8h0m1.5 7h0m1.5-1h0m1 2h0m1.5-6.5h0m.5 6.5h0m.5-5.5h0m.5-2.5h0m11 6.5h0m3.5 0h0m6 1h0m11.5 12.5h0m-3.5-4h0m-1-1.5h0m-1-2.5h0m0 5h0m-.5-2h0m0 5h0m-1-1.5h0m-1.5-.5h0m-4-5h0m0 4h0m-1.5.5h0m-3.5-4.5h0m-1 7h0m-.5.5h0m-.5-6h0m-.5-.5h0m-1.5 1h0m-.5-2.5h0m-4 0h0m-.5-2.5h0m-1 9h0m-1-.5h0m-.5 1h0m-1.5-9h0m-.5.5h0m0 5h0m0 4h0m-1-7h0m0 2.5h0m-1.5 4h0m-.5-5h0m-2-2h0m-1.5 2h0m-1-3h0m0 9h0m-.5-4h0m0 1.5h0m-.5-5.5h0m-.5 1h0m-.5 2h0m-.5-1h0m-.5-2.5h0m-.5 1h0m0 .5h0m0 7h0m-.5-3.5h0m-1.5-8h0m0 10h0m0 1.5h0m-1-7.5h0m-.5-1h0m-.5 3.5h0m-.5-6h0m-.5 1h0m0 1h0m-.5-2.5h0m-1.5 6h0m-.5 3.5h0m-.5-3h0m-1-2.5h0m-2.5 7h0m0 .5h0m-1-8h0m0 1.5h0m-.5 6.5h0m-1-7.5h0m0 7.5h0m-1.5-11.5h0m-.5 8.5h0m-.5.5h0m-2-2h0m-.5 1h0m0 1.5h0m-.5-6h0m-1 5.5h0m0 .5h0m-.5-2.5h0m-1-3h0m0 4h0m-1.5-2.5h0m-.5 3.5h0m-1-7.5h0m0 8.5h0m-.5-5h0m-.5-2.5h0m-.5 2h0m-1.5-2h0m-.5 4h0m-.5 1.5h0m-.5-2h0m-1 2h0m-.5-4h0m0 .5h0m-.5-1h0m0 6.5h0m-1-4.5h0m-1-1h0m-1.5-4h0m-.5 8.5h0m-.5-6.5h0m-1 8h0m-.5-9.5h0m-.5 1.5h0m-.5-2.5h0m0 4.5h0m0 4.5h0m-.5 0h0m-2-7.5h0m-.5-1.5h0m-2.5 5h0m-1 4h0m-2.5 2h0m-.5-7h0m0 3h0m-.5-4h0m0 4h0m0 1.5h0m-.5.5h0m-.5 0h0m0 1.5h0m-.5-4h0m0 4.5h0m-.5-8h0m0 5.5h0m-.5-6.5h0m-.5 7h0m-.5-5.5h0m-1-.5h0m-.5-2h0m0 7.5h0m-.5-2.5h0m0 5h0m0 .5h0m-.5-11h0m-3.5 2h0m-1 .5h0m-.5 8h0m-.5-3h0m0 1.5h0m-.5-2h0m-1-1.5h0m-.5 1h0m-.5-.5h0m-1-5h0m-.5 6.5h0m-.5 3.5h0m-.5-2.5h0m0-.5h0m-1.5 2h0m-.5-6.5h0m-1.5 2h0m-1-3.5h0m-.5-2.5h0m-.5 11.5h0m-.5-.5h0m-1-7h0m0 4h0m-.5 2h0m-.5-8.5h0m0 1h0m-1 9h0m-.5-7h0m-2 2.5h0m-.5-5.5h0m-.5-1h0m0 2h0m-1 4.5h0m-1.5-.5h0m-.5-4h0m-1 3.5h0m-1 5.5h0m-1-7h0m-1 0h0m-1-2.5h0m-.5-.5h0m-1-1.5h0m0 3h0m0 5h0m-.5-7.5h0m0 11h0m-.5-6h0m-.5 2.5h0m-.5 2h0m-.5-7.5h0m0 4h0m0-.5h0m-.5-4.5h0m0 7h0m-.5-4h0m0 3.5h0m-.5-1h0m0 1.5h0m-1-2.5h0m-1.5 2.5h0m-.5 1h0m-2-5.5h0m0 7h0m-2-3h0m-.5 0h0m0 3.5h0m-.5-7h0m0 3.5h0m-.5-8h0m0 9.5h0m-.5-7h0m0 1.5h0m-.5-2h0m-1 7.5h0m0 0h0m-1 2h0m-.5-10.5h0m0 4.5h0m-.5 0h0m-1-5.5h0m-2 9h0m-1.5-5.5h0m-1.5 8h0m-1.5-4.5h0m-.5-2h0m0 3.5h0m-1-6h0m0 9h0m-.5-9h0m0 1h0m0 .5h0m0 1h0m0 0h0m-1-.5h0m-1-2h0m0 4h0m-1-2.5h0m0 0h0m-1.5 7.5h0m-.5-10.5h0m0 3h0m0 1.5h0m-1.5-2h0m-1 .5h0m-.5 2.5h0m-.5-6.5h0m-.5 6.5h0m0 3.5h0m-.5-1h0m0 2.5h0m-.5-11.5h0m0 8.5h0m0 .5h0m-1-5h0m-.5-2h0m-1 0h0m-1 7.5h0m-.5-9.5h0m-.5 1.5h0m-1 1h0m-3.5 0h0m-.5 2.5h0m0 1.5h0m-2-2.5h0m-.5-.5h0m0 1.5h0m-.5-2.5h0m-1.5-2.5h0m0 2.5h0m0 7h0m-.5-1h0m-1-5.5h0m-.5-2h0m-.5 2h0m-.5 7.5h0m-.5 0h0m-.5-9.5h0m0 6h0m-1-2.5h0m-.5 7h0m-2-.5h0m-.5-1.5h0m0 1.5h0m-.5-6h0m-1-2.5h0m0 1.5h0m-.5-3.5h0m-.5 9h0m-.5-3.5h0m-.5 1.5h0m-.5-5h0m-1.5 4.5h0m0 1.5h0m-.5 2.5h0m-1.5-10.5h0m-.5-.5h0m-2 10.5h0m-.5-9.5h0m0 8h0m0 2h0m-1.5-9h0m0 5h0m0 2h0m-1-1h0m-1.5-8h0m0 10.5h0m0 1h0m-1.5-11h0m-.5 3h0m-.5 3h0m0 3h0m-2.5-.5h0m-1.5-9h0m-.5 9.5h0m-.5 0h0m-1 2h0m-1-10.5h0m-.5 6h0m-4.5-6.5h0m0 1.5h0m-.5 5.5h0m0 4h0m-.5-9.5h0m-.5 9h0m-2.5-5h0m-4 2h0m-.5-6h0m0 6h0m-.5-.5h0m-5-1h0m-2.5-4.5h0m-1 2.5h0m-1-.5h0m0 5.5h0m-1.5-6.5h0m0 6h0m-2.5-3h0m-.5-2h0m-2.5-2.5h0m0 10h0m-4.5-10h0m-4-1.5h0m-1.5 9h0m-.5-1h0m0 2.5h0m-5 1h0m-1.5-8.5h0m-.5.5h0m0 6h0m-3.5-.5h0m-.5-.5h0m-.5-7h0m-.5 7.5h0m-.5-8h0m0 6h0m-1-.5h0m0 1.5h0m0 .5h0m-.5-7h0m0 9.5h0m-1-5.5h0m-1 2h0m-1.5-1h0m-2-6.5h0m-.5 6.5h0m-.5-3.5h0m-1 8h0m-1.5-8.5h0m0 1h0m-2 5.5h0m0 2h0m-2-10.5h0m0 1h0m0 8.5h0m-2-4h0m-3-.5h0m-3.5 3.5h0m-1.5-1h0m-.5 1h0m-1 0h0m-1-7.5h0m-.5 6h0m-.5-5h0m0 8.5h0m-1-2.5h0m-1-7h0m-.5 2.5h0m-2.5 4.5h0m-4.5 1h0m-.5-9h0m-1 6.5h0m0 2h0m-.5 2.5h0m-1-8.5h0m-.5 4.5h0m-4.5 3.5h0m-2.5-2.5h0m-3.5-.5h0m-.5-7h0m-.5 10h0m-6.5 5h0m0 7h0m2.5-3.5h0m1-1.5h0m2-5.5h0m4.5 4.5h0m1 4h0m.5-5.5h0m1 1h0m.5-1h0m.5-3.5h0m.5 5.5h0m1.5 2.5h0m1 1h0m2.5-3h0m.5-2h0m.5 1.5h0m1.5 2.5h0m.5-4.5h0m0 1h0m5-1.5h0m1 .5h0m1 4h0m.5-4.5h0m0-.5h0m.5-1.5h0m2 2.5h0m1.5-2.5h0m0 4h0m.5 3.5h0m.5 0h0m.5-3h0m2 .5h0m5.5 2h0m1 2h0m1-4h0m.5 2.5h0m0 2.5h0m.5-10h0m0 9h0m2-4h0m4.5 0h0m3 2.5h0m1-4.5h0m0 7.5h0m1.5-3h0m1-5.5h0m2 4.5h0m.5 3.5h0m.5 0h0m0 .5h0m2-9h0m1-1.5h0m1.5 5h0m.5 2h0m.5-2.5h0m1-1.5h0m.5.5h0m2 3.5h0m.5 2.5h0m.5-1.5h0m.5-7h0m.5 7h0m1-1h0m1.5-.5h0m2-1.5h0m.5 1h0m2.5-5h0m.5 4h0m.5-5.5h0m0 6.5h0m1.5-5.5h0m0 3.5h0m0 4.5h0m0 1.5h0m.5-7.5h0m1 7.5h0m2-6h0m.5-5h0m0 10.5h0m.5.5h0m.5-9h0m.5 3h0m0 3h0m1.5-.5h0m1 .5h0m.5-5.5h0m.5 7h0m2-4.5h0m0 5h0m.5-5.5h0m.5-4.5h0m.5 5h0m.5 3h0m.5-2h0m.5 2.5h0m0 3h0m.5-8h0m2.5 5h0m1-3.5h0m.5 0h0m2.5 0h0m0 2.5h0m0 3.5h0m.5-4.5h0m1-6h0m0 .5h0m1 0h0m0 1h0m1-1.5h0m0 5h0m.5 6h0m.5-10h0m0 1h0m0 3.5h0m2 2.5h0m.5-8h0m0 4.5h0m4-3h0m0 4h0m0 3h0m.5-.5h0m0 3h0m.5-9.5h0m.5 4.5h0m0 3.5h0m1.5-9h0m.5 1.5h0m0 6.5h0m1-7h0m0 1.5h0m0 6h0m.5 0h0m1-8.5h0m.5 9h0m1 1h0m2 .5h0m.5-9.5h0m0 .5h0m1 4.5h0m0 0h0m1-6.5h0m0 5.5h0m0 5h0m1-8.5h0m1 8.5h0m.5-1.5h0m0 2h0m.5-7.5h0m1 4h0m0 1h0m.5-1h0m.5-4h0m.5 0h0m1-2.5h0m1-1h0m0 1h0m0 6.5h0m3-6h0m0 2.5h0m0 6h0m.5-7.5h0m1 3h0m.5 4.5h0m.5-6h0m1-3h0m1.5 2h0m.5-1h0m.5-1.5h0m0 2h0m1 2.5h0m1.5-5h0m2.5 10.5h0m.5-3.5h0m2 .5h0m.5 3h0m.5-.5h0m2 1h0m.5-3.5h0m.5-3.5h0m0 1.5h0m.5-4.5h0m.5 7h0m1-2h0m.5 4h0m.5-5h0m1 1h0m0 4h0m1-9.5h0m0 1h0m1 .5h0m0 6.5h0m.5-6.5h0m0 0h0m.5 5.5h0m1-6.5h0m0 5.5h0m1.5-4.5h0m0 3h0m.5.5h0m1-1.5h0m1 1h0m.5-3.5h0m0 6h0m0 2.5h0m.5-3.5h0m.5-4.5h0m0 3.5h0m.5-.5h0m.5-1.5h0m0 .5h0m.5-4h0m0 9h0m1-8h0m0 5.5h0m.5-2.5h0m.5 6.5h0m.5-4h0m1-1h0m.5-.5h0m1-.5h0m0 4.5h0m.5-5.5h0m0 3.5h0m1-1h0m.5-6.5h0m0 .5h0m.5 1h0m0 4h0m.5-4h0m0 8h0m1.5 2h0m3-7h0m.5-3.5h0m.5 3h0m0 .5h0m.5 2h0m0 2h0m1-2h0m0 4.5h0m1-8.5h0m0 7h0m2-1.5h0m.5-3h0m.5 3h0m.5-.5h0m.5-3h0m.5-.5h0m0 4.5h0m1-5h0m.5 7h0m.5-8h0m.5-1.5h0m.5 0h0m.5 8h0m2-7.5h0m.5 3h0m.5-4h0m0 4h0m0 2h0m0 4.5h0m.5-10h0m0 7h0m.5-6h0m.5 8h0m.5.5h0m1-5h0m1 3h0m1 2.5h0m.5.5h0m1-3.5h0m.5 2h0m0-.5h0m.5 0h0m2-8.5h0m0-1h0m.5 2h0m0 1h0m.5-1h0m0-.5h0m.5 3h0m0 4.5h0m0 .5h0m.5-4h0m.5-2h0m0 5.5h0m1-4.5h0m0 3h0m1-7h0m1 9.5h0m1 1h0m1-5h0m0 .5h0m1 2.5h0m.5 2h0m0 0h0m.5-9h0m0 1h0m1 7.5h0m.5-8.5h0m1.5 1.5h0m.5 4.5h0m1.5 0h0m1 2h0m1.5-10h0m0 10h0m.5-8.5h0m.5.5h0m0 1h0m.5 6.5h0m.5-5h0m.5-2h0m0 3.5h0m1 4.5h0m.5-7.5h0m0 2h0m1-.5h0m0 1.5h0m1.5-4.5h0m.5-1h0m.5 11h0m1-1.5h0m.5 1.5h0m.5-5h0m0 1.5h0m1-1h0m1.5-1h0m1.5-.5h0m1-5.5h0m0 4.5h0m1.5-1.5h0m.5 2h0m0 2.5h0m1-6.5h0m0 .5h0m1.5-.5h0m0 10.5h0m.5-6h0m.5 1h0m0 4h0m0 1h0m0 0h0m.5-4h0m.5-4.5h0m0 0h0m.5-2h0m4 .5h0m0 7.5h0m.5-8.5h0m0 9.5h0m1-9h0m0 6.5h0m0 3.5h0m1-7.5h0m.5-2h0m0 6.5h0m.5-2.5h0m1-.5h0m0 2h0m.5-3.5h0m.5-1h0m0 6h0m.5 1.5h0m1-7h0m2.5-2h0m0 3.5h0m1-1.5h0m0-.5h0m.5.5h0m.5-1.5h0m0 1.5h0m0 4.5h0m0 0h0m2-5h0m2-2.5h0m1 6.5h0m1 3h0m.5-9h0m.5 3.5h0m.5 2h0m2-3.5h0m0 2.5h0m.5 4h0m2 0h0m.5-2.5h0m1.5-5.5h0m0 7h0m.5-7.5h0m.5.5h0m0 5.5h0m1.5-2h0m0 2h0m.5-4.5h0m1 8h0m1.5-8h0m0 9h0m.5-4.5h0m0-.5h0m1.5-3h0m.5 5h0m.5-5.5h0m0 3.5h0m1.5-.5h0m.5 5h0m1-8.5h0m.5 7.5h0m.5-4.5h0m1.5-3.5h0m0 9h0m1-4.5h0m0 2.5h0m1.5-3h0m1.5 2.5h0m1-6.5h0m.5 2.5h0m0 6h0m.5-8h0m1 1.5h0m.5 2.5h0m0 .5h0m1-3h0m.5-3.5h0m.5 5.5h0m.5-1h0m.5-4h0m1 0h0m0 4.5h0m0 2h0m0 0h0m.5 4h0m1-7.5h0m0 3h0m1 .5h0m1.5-7h0m1 10.5h0m.5-.5h0m2-5h0m.5 1.5h0m0 4.5h0m1.5-2.5h0m0 2.5h0m.5-5.5h0m1-5h0m0 2h0m0 7.5h0m3-5.5h0m.5 7h0m2.5-1.5h0m.5-1h0m.5-5.5h0m1 .5h0m0 7h0m1.5-8h0m1.5-3h0m0 3.5h0m0 4.5h0m0 2.5h0m.5-2.5h0m.5 3h0m1-2h0m0 0h0m2.5-3.5h0m1.5 3h0m.5-3h0m1 2h0m1 1h0m1-4h0m5-2.5h0m.5 2h0m1.5 6h0m17 11.5h0m-.5-2h0m-2.5.5h0m-1-4.5h0m-.5-1.5h0m-3.5 2h0m-1.5 3h0m-1-4.5h0m-2 5h0m-1 4h0m-1.5-2h0m-2.5-6h0m-1-1.5h0m0 9.5h0m-1 0h0m0-.5h0m-.5-1.5h0m-1.5 1.5h0m-1.5-1.5h0m-1.5-4.5h0m0 0h0m0 3.5h0m-2-7.5h0m0 7h0m0 .5h0m-.5-5.5h0m-.5 4h0m-3-6.5h0m-.5 2.5h0m-.5 3.5h0m-.5 0h0m0 2.5h0m-1.5-6h0m-.5 2h0m-.5-5h0m-.5 0h0m-1 2.5h0m-.5 2h0m0 5h0m-1-6h0m-.5-3.5h0m-.5 3.5h0m-.5-2.5h0m0 6.5h0m0 3h0m-.5-10h0m0 7h0m-.5-6.5h0m-.5 9h0m-.5 1.5h0m0 0h0m-1-6h0m-.5 1.5h0m-1-1h0m-.5-5h0m0 5h0m-1-4h0m0 1h0m0 8.5h0m-2-10h0m-.5 5.5h0m0 2h0m-3-8h0m-.5 2h0m0 2h0m-1-3h0m-.5-2h0m-.5 8.5h0m-2.5-.5h0m-1.5-.5h0m-.5 0h0m-1.5-4h0m0 3.5h0m-.5-3h0m0 3h0m-.5 3.5h0m-.5-4h0m0 1.5h0m-.5-7.5h0m-1 3h0m0 2h0m0 1h0m-1.5-2.5h0m0 5.5h0m-.5 0h0m-.5-9.5h0m-1 2h0m-.5 1h0m0 3.5h0m-.5 3.5h0m-2.5-1h0m0-.5h0m0 2.5h0m-.5-9.5h0m0 3h0m-.5 4.5h0m-2.5-1.5h0m-1-1.5h0m0 2.5h0m-.5-6h0m-1.5 7h0m-.5-4h0m-.5.5h0m-.5 0h0m0 3h0m-.5-4h0m-.5-2h0m-2 1.5h0m0 0h0m-.5 3.5h0m-3-1h0m-.5-4.5h0m-1 3h0m0 1.5h0m-.5 4h0m-.5-8h0m-3.5 8h0m-1-4h0m-2.5-6h0m-.5 9h0m-1.5-8h0m-.5 8h0m-1-6.5h0m0 1.5h0m0 5.5h0m-1-2.5h0m-1.5-8h0m-1 2.5h0m0 3.5h0m0 5.5h0m-.5-9.5h0m0 3.5h0m-.5-3.5h0m-.5 7.5h0m-1.5-7.5h0m0 .5h0m-2 6.5h0m-.5-9h0m0 1h0m-.5 2h0m-.5.5h0m0 1.5h0m-.5-4.5h0m-1 9.5h0m-1.5-1.5h0m-.5 1h0m-.5-9h0m0 6h0m0 1.5h0m0 3.5h0m0 0h0m-.5-11.5h0m0 1.5h0m-.5 1h0m0 3h0m-1-5h0m-.5 8.5h0m0-.5h0m-.5-5.5h0m-2 1h0m0 7h0m-2-6h0m-.5 0h0m-1 0h0m-.5-5h0m-.5 0h0m0 6h0m-.5-5.5h0m-.5-.5h0m-.5 9h0m-2.5-6.5h0m-2 1h0m-1 1.5h0m-.5-1h0m-1.5 1h0m0 4.5h0m-2-8h0m-.5-.5h0m0 5h0m-.5-2.5h0m-.5 1h0m-1-4.5h0m-.5 6.5h0m-.5-3h0m-.5 2.5h0m-.5-1h0m0 6.5h0m-.5-1.5h0m0 .5h0m-1.5-3h0m-.5-7.5h0m0 3.5h0m0 2.5h0m0 .5h0m-1-3.5h0m0 2.5h0m-.5 3h0m-1.5-1h0m-1 4h0m-1.5-10.5h0m-1 4h0m0 4h0m-.5-5.5h0m-1 2h0m0 5.5h0m-2 0h0m-.5-6.5h0m-.5-1.5h0m0 3h0m-.5.5h0m0 4h0m-.5-5.5h0m-1 4.5h0m0 2h0m-.5-5.5h0m0 5h0m-.5-9.5h0m0 0h0m0 4h0m-1-1h0m-1.5 4h0m-.5-7.5h0m0 10h0m-1-5.5h0m0 3.5h0m-.5 1.5h0m-.5 0h0m-1.5-8h0m-2 1h0m-.5 3.5h0m-1-2.5h0m0 4h0m0 2h0m-2-10h0m0 1h0m0 3h0m-2-4.5h0m-.5 7.5h0m0 0h0m-.5-3.5h0m0 1h0m0 0h0m0 2h0m0 4.5h0m-.5-7.5h0m-.5-4h0m0 10h0m-1-8.5h0m0 7h0m-1.5-3h0m-.5 6h0m-1.5-10h0m0 2h0m-1.5 4h0m0 2h0m-.5-9.5h0m0 2.5h0m-.5 7.5h0m-.5-6.5h0m-.5 8h0m-1-7h0m0 5.5h0m-.5-6h0m-.5.5h0m0 7h0m-.5-7h0m-.5-2.5h0m-1 4h0m-.5 5h0m-.5-8h0m-.5-.5h0m0 5.5h0m-1 1.5h0m-1-6.5h0m-.5 2h0m-1 1.5h0m-.5 5h0m-2-7.5h0m-.5-2h0m0 6.5h0m-.5-6.5h0m0 .5h0m0 2.5h0m0 3.5h0m-1-7.5h0m-.5 1.5h0m-1 3.5h0m-.5-6h0m0 0h0m-.5 6.5h0m-.5-2.5h0m-.5-2h0m-.5 0h0m-.5-2h0m0 5.5h0m-1.5 4.5h0m-2.5-4h0m-.5 5.5h0m-1.5-5.5h0m0 0h0m0 4.5h0m-.5-1h0m-1.5-9.5h0m0 1.5h0m-.5 2h0m-.5 5h0m0 3h0m-.5-3.5h0m-.5-1.5h0m-.5 5h0m-.5-6.5h0m-.5 5h0m0-.5h0m-2.5-3.5h0m-.5 4.5h0m-1-2h0m-.5 3h0m-1.5-6h0m-.5 0h0m-1 .5h0m0 3.5h0m-.5-3.5h0m-1.5 1h0m-.5-4.5h0m-.5 3.5h0m-.5-5h0m-2-1h0m-1.5 5.5h0m0 2h0m-1 0h0m-.5-7h0m0 1h0m0 8h0m-.5-8.5h0m0 10.5h0m-.5-1h0m-.5-2h0m-1-4.5h0m-1.5-3h0m0 3.5h0m-2-1h0m-.5-3.5h0m-1 0h0m0 1h0m0 7h0m-1-8h0m0 5h0m-1-3.5h0m-.5 3h0m-.5-2.5h0m-1 5.5h0m-.5 1.5h0m-.5-6h0m0 2h0m-1-2h0m-1.5-.5h0m-.5 6h0m-.5-.5h0m-.5-1.5h0m-2.5 1.5h0m-.5 3.5h0m-.5-7.5h0m0 .5h0m-1.5 2.5h0m-.5 2.5h0m-.5-7h0m0 3h0m0 5h0m-3-8h0m0 9h0m-.5-2.5h0m-.5.5h0m-1.5.5h0m-1 1h0m-1-6h0m0 1.5h0m-.5 0h0m-1-.5h0m0 4h0m-1-7h0m0 3h0m0 2h0m-1.5 0h0m-.5-6h0m-.5 3.5h0m0 4.5h0m-.5-9.5h0m0 3.5h0m-.5-.5h0m-1 6h0m-1-9h0m-1 2.5h0m0 5h0m0 1h0m-1 .5h0m-1-9h0m0 2.5h0m-.5.5h0m-.5-1.5h0m0 0h0m-.5 0h0m-1 5.5h0m-.5-7h0m-.5 1.5h0m0 2h0m-.5 5h0m-.5-8.5h0m-1.5-.5h0m0 10h0m-.5-6h0m0 6.5h0m-.5-8.5h0m-.5-1h0m-.5 6.5h0m0 .5h0m0 3.5h0m-.5-7.5h0m0 3h0m-.5-3h0m0 2.5h0m0 1h0m-1 0h0m-.5-7h0m-1 6.5h0m-.5-3h0m0 5h0m-.5 1.5h0m0 0h0m-.5-5.5h0m0 2.5h0m-3-3.5h0m0 1h0m-.5-.5h0m0 2h0m-.5 1.5h0m-1-2h0m0 1.5h0m-.5-1.5h0m-.5 1.5h0m-1-6h0m0 1h0m-.5 8.5h0m-1-2.5h0m-1 1.5h0m-1-2h0m0 1.5h0m-.5-6.5h0m-.5 0h0m0 7h0m-.5-8.5h0m0 3h0m0 2h0m0 0h0m0 2h0m-1-5.5h0m-.5 1.5h0m0 6.5h0m-1-4.5h0m-2-5.5h0m-.5 3h0m0 6.5h0m-1-8h0m0 0h0m0 5.5h0m0 2h0m-1-6.5h0m0 8h0m-3-9.5h0m0 6.5h0m-.5-6.5h0m-.5-1.5h0m0 4h0m-1-.5h0m-1.5 6.5h0m-.5-6h0m0 3h0m0 4h0m0 0h0m-.5-8h0m0 6.5h0m-.5-1.5h0m-2 2.5h0m-2.5-2h0m-1-4.5h0m0 1.5h0m-.5-6h0m0 4.5h0m0 7h0m-.5-11.5h0m-.5 4.5h0m-1-2h0m-1 5.5h0m-.5 3.5h0m-1-1h0m-.5-5.5h0m-3 1h0m-1.5-3h0m-2.5-2.5h0m0 6h0m-1.5-5.5h0m0 7h0m-.5-1.5h0m-1.5-5.5h0m-1-.5h0m-.5 10.5h0m-.5 0h0m-.5-6.5h0m-1.5 7h0m-.5-7.5h0m-1.5 2h0m-1 4.5h0m-1-5.5h0m0 5h0m-.5-8.5h0m0 9.5h0m-1.5-6h0m-2 2h0m0 2h0m-.5 0h0m-.5-4h0m-4-.5h0m-1 4h0m-2-1h0m-.5-5.5h0m0 0h0m-.5 9h0m-.5-.5h0m-1-8h0m-.5 9h0m-.5 0h0m-1.5-4.5h0m-1 .5h0m-2 .5h0m-1 .5h0m-3-4.5h0m-1 1h0m-.5 3h0m0 0h0m-.5 3h0m-1-3h0m-.5.5h0m-2-1.5h0m-1 3.5h0m-.5-8.5h0m-.5 3h0m0 3.5h0m-2 2.5h0m-.5-9h0m-2 5.5h0m-7 3h0m-11.5 7.5h0m1 .5h0m1 4h0m.5-2h0m3.5-3h0m.5-5.5h0m3.5 2h0m3 2.5h0m3 2h0m2.5 3.5h0m.5.5h0m.5-9h0m2.5 8h0m2 .5h0m2-7.5h0m1-2h0m1.5 3h0m1.5-2.5h0m1.5-1h0m.5 9h0m1-8h0m1.5.5h0m0 1h0m0 5h0m1.5-.5h0m2 3.5h0m1.5-6.5h0m0 4h0m3 .5h0m0-.5h0m.5-2.5h0m1.5-2.5h0m0 7h0m.5-.5h0m0 2h0m2.5-10.5h0m.5 2.5h0m1-.5h0m0 .5h0m1 1h0m0 5h0m1-2h0m0 3h0m.5-4.5h0m.5 4.5h0m.5-5.5h0m0 2.5h0m.5-3h0m1 7h0m1-3h0m1-8.5h0m0 .5h0m0 7h0m.5-3.5h0m.5 2h0m.5 1.5h0m.5-5.5h0m0 2h0m.5 7h0m1-5.5h0m.5-4h0m0 .5h0m.5 9h0m.5-7h0m0 3.5h0m.5 3.5h0m1.5-8.5h0m.5 2h0m0 7h0m.5-3h0m.5 2h0m.5.5h0m.5-9h0m0 5h0m.5-3h0m0 4.5h0m.5-4h0m.5-1h0m0 2h0m.5-3h0m.5 6h0m.5-7.5h0m.5 0h0m0 7h0m.5-6h0m0 4.5h0m.5-1h0m.5 4.5h0m1.5-3.5h0m1.5-4h0m.5 1.5h0m1.5 6.5h0m1.5 1h0m1-11.5h0m1 .5h0m1 3.5h0m0 3.5h0m0 3h0m.5-1.5h0m.5-9h0m0 4h0m0 1h0m1.5 0h0m.5-1h0m.5 1h0m0 4.5h0m.5-7.5h0m0 9h0m2-7.5h0m.5-2.5h0m0 2.5h0m.5.5h0m0 .5h0m2.5-1h0m1.5 3h0m1 2h0m0 1.5h0m1 1.5h0m2-5.5h0m.5-2.5h0m0 4h0m0 2.5h0m.5-2.5h0m1-1h0m.5 2.5h0m.5-6.5h0m.5 4h0m.5 0h0m.5-2h0m1-2.5h0m1 .5h0m0 .5h0m0 1h0m0 5h0m.5-.5h0m1-2.5h0m0 5.5h0m1-3h0m1.5-2h0m.5 0h0m2.5-2.5h0m0 2h0m0-1h0m0 6.5h0m.5-10h0m0 10h0m.5-11h0m0 7h0m1-6.5h0m0 7h0m0 1h0m0 1h0m1.5-2h0m0 1.5h0m.5 1h0m.5-7h0m.5-1h0m1 .5h0m.5 3.5h0m0 2.5h0m0-.5h0m1.5 1h0m.5-6h0m1.5-3.5h0m.5 9.5h0m.5-9h0m0 4h0m2 0h0m0 6.5h0m1.5-9h0m.5 3.5h0m0 5.5h0m1.5-2h0m0 2.5h0m.5-10.5h0m.5 9.5h0m1-4.5h0m.5-4.5h0m.5 2h0m0 .5h0m1-3.5h0m0 3.5h0m2.5 0h0m0 4h0m.5 1h0m0 2h0m1-.5h0m.5-4h0m0 .5h0m0 .5h0m1 .5h0m.5 1h0m.5-.5h0m.5-3h0m.5-.5h0m1 6h0m.5-6.5h0m.5 3h0m.5-7h0m0 7.5h0m0 3h0m1.5-1.5h0m1-8h0m0 6h0m1-4h0m0 3h0m.5.5h0m.5-5.5h0m.5-1.5h0m.5 4h0m4.5 2.5h0m0 0h0m1.5 1.5h0m.5 2h0m.5-7h0m0 7h0m.5-2h0m.5 3h0m0 0h0m2-7.5h0m0 4h0m0 1.5h0m.5-1h0m1 2.5h0m.5-8.5h0m0 7h0m.5 0h0m.5-7h0m0 6.5h0m.5-4h0m1-2.5h0m0 0h0m0 6h0m0 3.5h0m.5-3h0m0 1h0m1 0h0m.5-3h0m0 1h0m2.5-6.5h0m0 10.5h0m.5-9.5h0m0 4h0m1.5 5h0m1-11h0m0 6.5h0m.5-3.5h0m1.5.5h0m0 6.5h0m1.5-9.5h0m.5-.5h0m.5 5h0m1 2.5h0m.5-2h0m.5 4h0m1-2.5h0m.5 0h0m.5-6h0m0 6.5h0m0 2.5h0m2-9h0m0 5h0m0 1.5h0m.5 0h0m0 3h0m.5-9.5h0m.5 4.5h0m1-4.5h0m.5 10h0m.5-7h0m.5 4.5h0m1-7.5h0m1.5-.5h0m0 1h0m.5-1.5h0m.5 1.5h0m0 6h0m0 1.5h0m0 1.5h0m1-3h0m.5-5h0m0 4h0m1-5h0m2.5 1.5h0m.5 6.5h0m.5 1.5h0m.5-9.5h0m0 2h0m.5 2h0m0 1.5h0m.5-2h0m.5.5h0m.5-3h0m.5 4h0m.5 2h0m1-7h0m.5 0h0m1 8h0m1.5-9.5h0m1 11h0m.5-6.5h0m0 4h0m.5-2.5h0m1.5-.5h0m2.5-5h0m.5 2h0m.5-2h0m.5 4h0m0 .5h0m1 2h0m.5 3h0m0 1h0m.5-11h0m1 9h0m.5-9h0m1 .5h0m0 3h0m1-2h0m1 8.5h0m2-4h0m.5 3h0m2.5-1.5h0m.5-1h0m0 3h0m.5-9.5h0m0 4.5h0m0 .5h0m0 3h0m.5 1.5h0m.5-4h0m0 5h0m.5-2h0m.5-5h0m1-1h0m0 3.5h0m1 0h0m0 3.5h0m.5-1.5h0m1 1h0m.5-1.5h0m1 2.5h0m.5 1.5h0m.5-11.5h0m0 9h0m.5-3.5h0m0 5.5h0m.5 0h0m1-6h0m.5-2h0m0 .5h0m1.5 2h0m.5-1h0m0 1.5h0m3 4.5h0m1-9.5h0m0 3.5h0m.5-4.5h0m0 7h0m.5 2.5h0m0 0h0m0 .5h0m0 1.5h0m1-.5h0m1-.5h0m1-4.5h0m0 2h0m1-7h0m0 1.5h0m.5.5h0m.5 6.5h0m1-2h0m0 3h0m.5-5.5h0m.5 2.5h0m.5-4.5h0m.5-3h0m0 5.5h0m0 0h0m0 4.5h0m1-4h0m0 3h0m1 .5h0m0 0h0m.5-7.5h0m0 1.5h0m.5 4.5h0m.5 1h0m.5-8h0m0 9h0m1-6h0m1 1h0m0 1h0m0 5.5h0m0 0h0m2-5.5h0m.5-1h0m1 6h0m.5.5h0m.5-9h0m0 3.5h0m.5-1.5h0m.5 4h0m1.5 2h0m.5-9h0m0 3h0m.5 2.5h0m.5-3h0m0 7h0m1-5.5h0m.5-2h0m0 1h0m1.5-3.5h0m3 6h0m0 1h0m1-8h0m1 2h0m0 6.5h0m1.5-2.5h0m.5 4.5h0m0 1h0m1 0h0m0 0h0m1.5 0h0m.5 0h0m.5-3.5h0m.5-6.5h0m0 8.5h0m.5-9h0m.5 7.5h0m.5-1h0m0 1h0m.5 1h0m1 .5h0m.5-5h0m0 3.5h0m.5-2.5h0m0 0h0m1 3.5h0m5 1.5h0m0 0h0m1.5-1h0m1-8h0m.5 9h0m.5-7h0m.5-2.5h0m0 2h0m0 1.5h0m.5 0h0m0 1h0m.5-6h0m.5.5h0m0 2h0m1 3.5h0m2-6h0m0 10.5h0m1.5-3.5h0m2-7h0m0 4.5h0m2 2.5h0m0 1h0m1-4h0m1 3h0m.5 3.5h0m0 .5h0m2.5.5h0m1.5-1h0m2.5-7.5h0m0 7h0m.5-8.5h0m0 1.5h0m.5-3h0m1 11h0m.5-7h0m0 5.5h0m.5-6h0m1 3h0m1.5-5.5h0m1.5 7h0m.5 2.5h0m1-10.5h0m0 9h0m2-7h0m0 4.5h0m2 2.5h0m1 .5h0m.5-4.5h0m1 5.5h0m0 1h0m.5-7.5h0m1 3h0m2.5-5.5h0m1-1.5h0m0 7h0m.5-6h0m1 6h0m1-5.5h0m0 8.5h0m0 1.5h0m.5-8h0m0 4.5h0m.5-5h0m.5 7h0m0 0h0m.5-3.5h0m.5-2h0m0 6h0m.5-8.5h0m1 2.5h0m1-3h0m.5-1.5h0m.5 7.5h0m.5-1.5h0m.5 0h0m1-.5h0m.5-.5h0m.5 3h0m.5.5h0m0 1h0m1-4.5h0m.5-.5h0m.5 2h0m.5-1.5h0m0 1h0m1 1.5h0m0 3.5h0m1.5-.5h0m1-10.5h0m.5 3h0m0 2h0m0 1.5h0m0 1.5h0m.5-4h0m.5-2.5h0m0 6h0m.5-.5h0m.5-1.5h0m.5-3h0m0 9h0m1-3h0m1.5-5.5h0m1 .5h0m1.5-1.5h0m0 9h0m1.5-6.5h0m1-2.5h0m0 2.5h0m0 3h0m1 3.5h0m1-4.5h0m0 1h0m.5 0h0m.5-7.5h0m0 5h0m1 3h0m1 1h0m.5-8.5h0m0 8.5h0m1-5.5h0m0 3.5h0m.5-1h0m.5-3.5h0m1-1.5h0m.5 9h0m0 .5h0m.5-9h0m1-1.5h0m.5 11.5h0m1-1h0m.5 0h0m2.5-3h0m0 3h0m1-6h0m1-.5h0m0 6.5h0m.5-10h0m1.5 9h0m.5-1.5h0m1-6.5h0m.5 5h0m.5 2h0m0 2h0m2-6.5h0m.5 3.5h0m0 3.5h0m1-1h0m1.5-2h0m3.5-2h0m1-.5h0m.5-1h0m2.5 2.5h0m1 2.5h0m1.5-1.5h0m1-2.5h0m3.5 1.5h0m21.5 15h0m-5.5-1.5h0m-.5 1.5h0m-1-4.5h0m-4 4.5h0m-3.5-4.5h0m-.5.5h0m-.5-4.5h0m-.5 2.5h0m-.5 5.5h0m-.5 2h0m-2-8h0m-1.5-2h0m-1 1.5h0m-1-1.5h0m0 6h0m-2-2.5h0m0 4h0m-1.5 1h0m-5-10h0m-1 3h0m0 6h0m-1 1h0m-.5-9h0m0 .5h0m-1 8h0m-.5 0h0m-1.5-7h0m0 .5h0m0 1.5h0m0 5h0m-.5 1.5h0m-.5-1h0m-.5-9h0m0 4h0m0 4h0m-1 1.5h0m-.5-2.5h0m-.5 2.5h0m-.5-4.5h0m-2-5.5h0m-1 9h0m-.5-4.5h0m-.5-4.5h0m0 2h0m0 4h0m-1 3h0m-.5-7h0m-.5 8h0m-1-10.5h0m0 7h0m-1.5-6h0m0 4h0m-.5 1h0m-.5-5h0m0 5.5h0m-.5-5h0m0 8.5h0m-1.5-6h0m-1.5-4h0m0 11h0m-.5-5h0m-1-2h0m0 4h0m0 3h0m-4.5-8h0m-.5 3.5h0m0 2.5h0m-.5-5.5h0m-1-2h0m-1 4.5h0m-.5-1h0m-.5 5.5h0m-1-9.5h0m0 4h0m0 2h0m-1.5 1h0m0 2.5h0m-.5-7.5h0m-.5-1h0m-1 4.5h0m-1.5-3.5h0m-.5-3h0m-.5 10h0m-1-8.5h0m0 6.5h0m-1.5-5h0m0 7h0m-1-9.5h0m0 6.5h0m-1 0h0m-2 1h0m-.5 3.5h0m0-.5h0m-1-1.5h0m-1.5-4h0m-1-3.5h0m0 5h0m-1 2h0m0 2.5h0m-1.5-7h0m-1.5-3.5h0m0 6.5h0m-1-3h0m-1-.5h0m-.5 3.5h0m0 1h0m0 2h0m-1 0h0m-1-4.5h0m-1 5.5h0m-.5-10h0m0-.5h0m0 8h0m-1 2.5h0m-.5-5.5h0m-1-5.5h0m0 .5h0m-2 8h0m-1-2.5h0m-1-6.5h0m0 3h0m-1-2h0m-1.5 4h0m0 4.5h0m-1-8.5h0m-.5 4h0m-.5 0h0m-.5 4h0m-1.5-3.5h0m-.5-.5h0m-.5-1h0m0 5.5h0m-2-9.5h0m-.5 1.5h0m0 2h0m0 6h0m-1-9.5h0m0 2h0m0 9h0m-.5-4.5h0m-1-6.5h0m0 8h0m-1-7.5h0m-2 8h0m-2-7.5h0m-1.5 7.5h0m0 1h0m-2-7h0m-1 1h0m-.5-1.5h0m-.5 8h0m-1-9.5h0m-.5.5h0m-1 5h0m-.5-3h0m-.5 5h0m-1.5 3.5h0m-1.5-11.5h0m-.5 11.5h0m-1 0h0m-.5-7.5h0m-1-1.5h0m0 1h0m-1.5 7h0m-1-4h0m0-.5h0m-2.5 1h0m-.5-5.5h0m0 3h0m0 1h0m0 5.5h0m-.5-11h0m-.5 10.5h0m-.5-9h0m0 5.5h0m-.5 1h0m-.5 0h0m-.5 3.5h0m-.5-10h0m0 5h0m-2 .5h0m-.5 4h0m-1-9h0m0 6.5h0m-1-8.5h0m0 3h0m0 3h0m-.5 1h0m0 3.5h0m-.5-4h0m-1 3.5h0m-2-9.5h0m0 1.5h0m-1 9.5h0m-1-6.5h0m-1.5-4h0m-1 2h0m-.5 0h0m0 6.5h0m0 2h0m-1-10.5h0m-.5 6.5h0m-1 2h0m-.5-6h0m-.5 6.5h0m-.5-2h0m-2 .5h0m-2-2h0m-4-2h0m0 3h0m0-.5h0m-.5-2h0m-1.5-3h0m0 4h0m-1-2.5h0m0-.5h0m-.5-1.5h0m-.5.5h0m-2-1.5h0m-.5 8.5h0m-.5-9h0m0 9h0m-.5-2.5h0m-1-3h0m-.5 6.5h0m-.5-6h0m-.5-2.5h0m-2.5.5h0m-.5 4.5h0m-.5-3.5h0m0 .5h0m-.5-3h0m0 0h0m0 3h0m-1 3.5h0m0 3h0m-1-.5h0m-.5-8h0m-3 0h0m0 8.5h0m-.5-2h0m-.5-1.5h0m0 1h0m-.5 1.5h0m-2-9h0m0 3h0m0 1.5h0m0 0h0m0 .5h0m-.5-4h0m0 5.5h0m-.5-1h0m-1-2h0m0 4h0m-1-6.5h0m0 3.5h0m0 6.5h0m-1-.5h0m-.5-4h0m-1-4h0m0 1.5h0m0 1h0m-1.5-1h0m-.5 0h0m-.5 1h0m0 1h0m0 5.5h0m-2-4.5h0m0 2.5h0m-.5-2.5h0m-.5-1h0m-.5-3h0m0 2.5h0m-1-5h0m0 0h0m-1 0h0m-.5 0h0m0 5.5h0m-1.5 5.5h0m-.5-8.5h0m-1.5-2.5h0m0 .5h0m-.5 4h0m-1 3h0m-2.5-7.5h0m-2-.5h0m-1.5 1.5h0m-2-1.5h0m0 3h0m0 5.5h0m-1-8.5h0m-.5 7h0m-.5-3h0m-2.5-3h0m0 6h0m-2-3h0m0 2.5h0m-2 3.5h0m-1-5h0m-.5-2h0m-.5 5h0m0 2.5h0m-.5-2.5h0m-.5-5.5h0m0 .5h0m0 1.5h0m0 4h0m-.5 1.5h0m-1.5-2h0m-.5 3h0m-1-4h0m0 1.5h0m-1-.5h0m-1-8h0m0 2.5h0m-.5 7h0m0 1h0m-.5-3.5h0m0 2h0m-1-6h0m-.5 5h0m-.5 2.5h0m-.5-3h0m-.5-2h0m-.5-2.5h0m0 1.5h0m-1-1h0m-.5 6h0m0 1h0m0 .5h0m-.5-.5h0m-.5-2.5h0m0 3.5h0m-.5-8h0m0 6.5h0m0-.5h0m-.5-6h0m-2.5-2h0m0 4h0m-.5 3.5h0m0 2.5h0m-1 0h0m-1.5-10h0m0 9.5h0m-.5-9.5h0m-.5 9.5h0m-.5-3h0m0 3.5h0m-.5-1h0m-4-10h0m0 9h0m-.5-9h0m0 6h0m-.5-4h0m0 1.5h0m-.5-3.5h0m-1 1h0m0 5.5h0m-1-.5h0m-1.5 3.5h0m-.5-7.5h0m-.5 4h0m-.5-1h0m-1 2h0m-.5-.5h0m-1 3h0m-1.5-3h0m0 0h0m-1 4h0m-1.5-8h0m0 .5h0m0 5.5h0m-.5 2.5h0m-.5-3h0m-1.5-4h0m-1-1.5h0m0 6.5h0m-.5-5.5h0m-.5 1.5h0m-1 1.5h0m-1-1.5h0m-1-3h0m0 6.5h0m-1-1h0m-.5-3.5h0m-1.5-3h0m0 2h0m-1.5 2h0m-.5-1h0m-1-4h0m0 10.5h0m-.5-11h0m0 2.5h0m0 3h0m-2.5-3h0m0 2h0m-1 5.5h0m-.5.5h0m-.5-6.5h0m0 2.5h0m-2.5-3.5h0m-.5-3h0m-.5 3h0m0 4h0m0 3h0m-.5-8h0m0 3h0m-.5 1h0m-1.5.5h0m-1-5.5h0m-1 9.5h0m-1-4.5h0m0 4.5h0m-.5.5h0m-2.5-3.5h0m-.5 1h0m-.5-5h0m-1.5-.5h0m0 3h0m-3 4.5h0m-1.5.5h0m-.5-9.5h0m-1 .5h0m0 7h0m-1-6h0m0 6h0m-.5 1h0m-.5-9h0m-.5 9.5h0m-.5-2.5h0m0 0h0m-.5 1h0m-.5.5h0m0 1.5h0m-1-11h0m-.5 11h0m-1-2h0m-.5-8h0m-.5 0h0m-1.5-1h0m0 1h0m-.5 1.5h0m0 2.5h0m-2 1.5h0m0-.5h0m-.5-6h0m0 9h0m-1-2h0m0 4.5h0m-.5-10.5h0m-.5 2.5h0m-.5-1.5h0m0 5.5h0m-1-7.5h0m-.5 4h0m0 5.5h0m-1-6.5h0m0 4h0m0 2h0m-.5-.5h0m-1-8h0m0 3h0m-.5-2.5h0m-2.5 0h0m-.5 2h0m0 8h0m-.5-10.5h0m0 9h0m-1.5-4h0m0 0h0m0 5h0m-1-9h0m0 6h0m-.5 2.5h0m-2-5h0m-1 1h0m0 1h0m-.5-5.5h0m-1.5 5h0m-.5 5h0m-1.5-3h0m-.5-6h0m0 5h0m-2-5h0m-.5 4.5h0m0 4h0m0 .5h0m-2.5-8h0m-.5 5.5h0m0 1.5h0m0 1h0m-.5-4h0m-.5-4.5h0m-.5 5.5h0m-.5-7h0m0 10h0m-.5-8.5h0m-.5 4h0m-1-3h0m-1.5-2.5h0m0 0h0m-1.5 0h0m0 1.5h0m-.5.5h0m-.5-3h0m-2-.5h0m-1.5 0h0m0 9h0m-.5-6h0m0 0h0m0 1.5h0m-.5 1.5h0m-.5-3.5h0m0 4h0m-.5-4h0m-.5 9h0m0 0h0m-1-6.5h0m-2-.5h0m0 2.5h0m-.5-4h0m0 8h0m-1-.5h0m-1.5-9.5h0m0 0h0m-.5 1h0m-1 2h0m0 1.5h0m-.5-2h0m0 0h0m-.5 1h0m0 3.5h0m-2-7.5h0m-.5 8h0m-.5-7h0m0 1h0m-2.5-2.5h0m-.5 10h0m-.5-1h0m-1-.5h0m0 2.5h0m-.5-6h0m-2.5-2h0m-1-1.5h0m0 1h0m0 8.5h0m-.5-5h0m-1.5 3.5h0m-1-5.5h0m-1.5 5h0m-.5-1.5h0m-.5-6.5h0m-1.5 9.5h0m-1-.5h0m-1-9.5h0m0 2.5h0m-.5 6h0m-.5-6h0m0-.5h0m-1.5 3.5h0m0-.5h0m-.5 5h0m-1.5-1.5h0m-2.5-5h0m0 5h0m-1-7h0m-.5 6h0m-.5-1h0m-.5 0h0m-2 1.5h0m-2.5-8h0m0 10.5h0m-1-3h0m0 2h0m-1-6h0m0 .5h0m0 1h0m-.5 6h0m-1.5-6.5h0m-2 1h0m-.5-2.5h0m-1 3h0m0 4.5h0m-.5-8.5h0m0 0h0m-.5 0h0m-1.5-.5h0m0 6h0m-1-2h0m-1-3.5h0m0-.5h0m0 3.5h0m-.5 1h0m0 5h0m-1-6.5h0m-1-3h0m-.5.5h0m-.5-.5h0m0 4.5h0m-.5-1h0m-.5-3h0m-1 1.5h0m-.5 7.5h0m-2.5-.5h0m-1-7.5h0m0 4h0m-3.5.5h0m-3 3.5h0m-4 6h0m5-5.5h0m0 8.5h0m.5-7h0m2.5 7.5h0m3-4h0m3.5 1h0m1-5.5h0m1.5 6.5h0m0 2h0m.5-9h0m.5 2.5h0m2 0h0m1.5 3.5h0m1-3h0m0 5.5h0m0-.5h0m2-7.5h0m1 1h0m0 1.5h0m.5-2.5h0m0 1h0m.5 7.5h0m.5-5.5h0m0 1.5h0m0 .5h0m.5 1h0m0 2h0m.5-8h0m0 7.5h0m0 2.5h0m3-8.5h0m0 8.5h0m.5-9h0m0 1h0m1.5 7h0m.5-4h0m0 2.5h0m.5-3h0m0 5.5h0m.5-7h0m.5-2.5h0m0 3h0m1.5-2h0m0 7.5h0m.5 1.5h0m2-10h0m.5-.5h0m0 11h0m.5-8.5h0m.5-1.5h0m.5 7h0m3.5-8.5h0m0 1.5h0m0 2h0m0 5h0m1.5-5.5h0m.5-2.5h0m3 10h0m.5-8h0m0 6.5h0m0 0h0m1.5-5h0m.5 2h0m.5-5.5h0m1 0h0m0 8.5h0m.5 1.5h0m.5-3.5h0m1.5.5h0m.5-6h0m0 1.5h0m0 5h0m.5-4h0m1 2h0m.5-6h0m0 6h0m.5-1h0m0 6.5h0m1-5.5h0m1-4h0m.5 0h0m0 7.5h0m0 0h0m1-5h0m0 4.5h0m0 2h0m.5-1.5h0m.5-4h0m1-3h0m.5 1.5h0m.5-3h0m0 1.5h0m.5 2h0m0 2.5h0m0 2h0m1-5.5h0m0 3.5h0m0 2.5h0m.5-5.5h0m0 2h0m.5-4.5h0m0 5h0m.5 2h0m.5-2.5h0m0 2.5h0m0 2.5h0m1.5-11h0m0 3h0m2-2.5h0m0 6h0m0 2.5h0m.5-6h0m1 5h0m1-7h0m0 6h0m.5-2h0m.5-2.5h0m.5-2h0m0 11h0m.5-8.5h0m.5-1.5h0m2 10h0m.5-2.5h0m1-2.5h0m.5-3.5h0m1.5-1h0m0 8h0m.5-10h0m1.5 9h0m1-6h0m.5-.5h0m0 4.5h0m.5-2h0m.5-4h0m0 1.5h0m0 2.5h0m0 .5h0m2 1.5h0m2-4.5h0m0 5.5h0m2-7h0m.5-1h0m2 2h0m0 8h0m1-6h0m.5 1.5h0m.5-4h0m1-1h0m.5.5h0m0 .5h0m0 1.5h0m0 7h0m.5-5h0m1 1h0m.5 3.5h0m1.5 1h0m1-3h0m0 2.5h0m.5-2h0m0 1.5h0m1-2h0m1-4.5h0m1 1.5h0m0 1h0m1.5.5h0m.5 0h0m.5.5h0m0 3h0m2 .5h0m0-.5h0m.5-8.5h0m0 10.5h0m1-11.5h0m0 4.5h0m2-4.5h0m.5 8h0m1 0h0m.5-6.5h0m2.5 1h0m1.5-2h0m0 3h0m2-2.5h0m0 .5h0m0 8h0m2-8.5h0m5 9.5h0m1-5h0m.5-1h0m0 2h0m0-.5h0m3 1h0m0 2h0m.5-9h0m0 4.5h0m.5 4h0m.5-5h0m.5 5h0m.5-8.5h0m0 4h0m1.5-3.5h0m0 3h0m0 5h0m0 3h0m.5-9h0m.5 9h0m.5-1h0m.5-9.5h0m0 4.5h0m1 4h0m.5-3h0m.5-1h0m0 3h0m0 0h0m1.5-8.5h0m.5 8.5h0m.5-2h0m.5-6h0m0 5h0m0 4h0m.5-9.5h0m0 1h0m.5 0h0m.5 4h0m0 .5h0m0 .5h0m0 .5h0m.5 2.5h0m.5-1.5h0m0-.5h0m.5-6h0m0 6h0m.5-6h0m0 4.5h0m0 5h0m1-5.5h0m1.5-1h0m.5 0h0m.5 6h0m.5-2.5h0m.5-5.5h0m.5.5h0m3 0h0m3.5.5h0m.5 8.5h0m1-6.5h0m0 2h0m0 0h0m0 4h0m.5-4h0m.5.5h0m2-6h0m0 6h0m0 .5h0m.5.5h0m2-5.5h0m.5.5h0m1 3.5h0m.5-2.5h0m0 4h0m2.5-4.5h0m1 6h0m1.5-8h0m1.5 6.5h0m.5 2h0m.5-7.5h0m2-2h0m.5 5h0m0 5.5h0m.5-10h0m.5 8.5h0m1-8h0m0 7h0m1-8h0m.5 4h0m0 0h0m1-1h0m1-2.5h0m.5 8.5h0m.5-8.5h0m0 2h0m0 3.5h0m.5-2h0m.5-1.5h0m1-3.5h0m0 9h0m.5-7h0m0 6.5h0m0 1.5h0m1.5-6.5h0m2-.5h0m0 1.5h0m1.5 1.5h0m.5-1h0m.5-3h0m0 2h0m1-3h0m0 8h0m.5-5h0m.5-4h0m0 10.5h0m1-2.5h0m0 1h0m.5-9h0m1.5 2h0m2-2h0m0 5h0m2-3.5h0m0 4h0m1-3.5h0m.5 3h0m0 0h0m1 1h0m.5-2.5h0m0 3.5h0m2.5-6h0m0 10h0m2-1h0m.5 1.5h0m.5-11h0m0 7.5h0m0 2.5h0m.5-8.5h0m0 8.5h0m.5-8.5h0m0 5.5h0m.5-3h0m.5-3h0m0 5h0m0 4.5h0m.5-7.5h0m.5-1h0m.5 8.5h0m.5-7.5h0m1-1.5h0m1 2h0m.5-2.5h0m0 .5h0m.5-.5h0m1.5 4h0m.5-3h0m.5 2h0m1 0h0m1 7h0m.5 0h0m1.5-7h0m.5.5h0m0 .5h0m0 3.5h0m.5-4h0m.5-5h0m0 3h0m0 5.5h0m1-3h0m.5 3.5h0m.5 1h0m.5-5h0m0 0h0m0 6.5h0m1.5-.5h0m1.5-6.5h0m0 3.5h0m.5-6.5h0m.5.5h0m0 3.5h0m.5 6h0m1-7.5h0m.5 4h0m5-3.5h0m.5-2h0m0 2h0m1-4.5h0m0 10h0m1.5 1.5h0m.5-4.5h0m1-2h0m0 5h0m.5 1.5h0m.5-7h0m1 5.5h0m.5-3h0m.5-1h0m0 4h0m.5 1.5h0m1.5-9h0m0 7h0m1-6.5h0m.5 5h0m.5-6.5h0m.5-1h0m0 4h0m.5 4.5h0m0 2.5h0m4-8.5h0m0 1h0m0 5h0m.5-.5h0m.5-4.5h0m.5-1.5h0m1-1.5h0m2.5 6h0m0 2h0m.5-8h0m0 .5h0m0 9.5h0m1-6.5h0m.5 1.5h0m1.5-1.5h0m0 4h0m.5-2.5h0m1-3h0m0 2.5h0m0 4h0m3.5 1h0m.5-9.5h0m.5 10.5h0m1.5-10.5h0m0 .5h0m1 2.5h0m.5 7h0m.5-.5h0m.5-8h0m0 2.5h0m.5-2h0m.5 6.5h0m.5.5h0m.5-4h0m1-5h0m1 1.5h0m0 4h0m1.5-6h0m0 1.5h0m0 6.5h0m.5-6h0m1.5-2h0m0 6h0m.5-1h0m1 2.5h0m.5-5h0m0 1h0m.5-4h0m.5 1.5h0m0 3h0m.5-.5h0m0 4h0m0 0h0m1-3.5h0m1 0h0m2.5-2.5h0m.5-2h0m1 10.5h0m1-4.5h0m.5 3.5h0m1-3h0m0-.5h0m0 3.5h0m1.5-3h0m0 4.5h0m.5-2.5h0m.5-8.5h0m.5 0h0m0 10h0m1-6h0m0 7h0m.5-9.5h0m0 1h0m1 1.5h0m.5-1.5h0m1 4.5h0m0 3h0m.5-5h0m0 2h0m.5-3.5h0m.5 6h0m.5-6h0m0 7.5h0m1-8.5h0m2-1.5h0m0-.5h0m.5.5h0m1 3h0m.5-3.5h0m.5 1.5h0m2 7.5h0m1.5-7.5h0m1.5 3.5h0m.5 3.5h0m.5 2.5h0m2.5-10h0m1-1.5h0m0 3h0m.5-2h0m.5-.5h0m0 10h0m1-9h0m.5-1h0m0 5h0m0 3.5h0m.5-3h0m.5 1h0m1 4h0m2-10h0m1 5h0m0 0h0m.5 5h0m1-10h0m1 10.5h0m1-5.5h0m.5-1.5h0m1 6.5h0m3-1.5h0m0 1h0m1-9h0m0 2.5h0m0 4h0m1-8h0m0 2.5h0m0 6.5h0m.5.5h0m1.5-2.5h0m1 .5h0m0 1.5h0m1.5-7h0m0 3.5h0m.5 0h0m0 1.5h0m.5-5.5h0m1.5 2h0m.5-3h0m0 3h0m1.5 1.5h0m0 2.5h0m.5 3h0m.5-2h0m.5 2.5h0m.5-7.5h0m0 1h0m0 0h0m.5 3.5h0m.5 0h0m.5-7h0m1 7.5h0m.5-7.5h0m1 .5h0m1-1.5h0m0 4h0m0 1h0m1.5-3h0m0 3h0m1 .5h0m.5-4h0m.5 7.5h0m2-8h0m2 3h0m0 4h0m.5 1.5h0m.5-9h0m1.5 8h0m2-2.5h0m.5-5h0m0 10.5h0m0 0h0m1-9h0m1.5 4.5h0m.5 0h0m1 2h0m.5 1h0m1-.5h0m1-9.5h0m0 11.5h0m.5-9.5h0m0 .5h0m2-1.5h0m1.5 4.5h0m.5-5h0m1 .5h0m1 7h0m.5 1.5h0m2.5-1.5h0m.5-6.5h0m0 4h0m0 5h0m1-7.5h0m0 8h0m.5-9.5h0m.5 4h0m1-4.5h0m0 5.5h0m.5 1h0m1-1h0m.5 2.5h0m.5-4.5h0m.5-3.5h0m.5-1h0m.5 3.5h0m0 1.5h0m0 0h0m.5-.5h0m0 1.5h0m0 4.5h0m.5-5.5h0m1-1h0m1.5-2.5h0m.5 6h0m1.5-7.5h0m0 10h0m1.5-9h0m.5 1.5h0m.5 8.5h0m.5-7h0m.5 4.5h0m1.5-.5h0m.5 2.5h0m.5-2.5h0m0 0h0m1 .5h0m0 1h0m.5-3.5h0m0 4h0m.5-8h0m.5 1h0m0 8h0m1-11h0m3 .5h0m2.5 6h0m0 3.5h0m.5 1.5h0m1-1h0m1 .5h0m.5-3h0m0 2.5h0m1-5.5h0m.5-1.5h0m2-3.5h0m3.5 2h0m4.5 6.5h0m.5-2h0m.5-4.5h0m1 0h0m1 1.5h0m0 .5h0m2 2.5h0m.5 3.5h0m1-2.5h0m1.5-2h0m.5 4.5h0m3-6h0m.5 4.5h0m.5-4.5h0m1.5 2h0m1 2h0m.5 0h0m9 3.5h0m4.5 11.5h0m-.5-1.5h0m-1.5-4.5h0m-1 4.5h0m-2.5-2.5h0m-1-4h0m-.5 3.5h0m-3.5-3h0m-1 7.5h0m-1-4.5h0m0 1h0m-.5 3h0m-1-1h0m-.5-1.5h0m-.5-4.5h0m-3.5 3.5h0m-2.5 0h0m-2-6h0m-.5 2h0m-1-1.5h0m0 9.5h0m-2-5.5h0m-1.5 3h0m-.5-8h0m-1.5 8h0m-5.5-2.5h0m0 1h0m-.5-4h0m-.5.5h0m-1.5-2.5h0m-3.5 2.5h0m-3 6.5h0m-2.5-9h0m-1 6h0m-2-4.5h0m-1 6.5h0m-.5-5h0m-2 1.5h0m-1 3h0m-.5-1.5h0m-.5-6h0m0 1h0m-1.5 0h0m0 0h0m-2.5 4.5h0m0 3h0m-.5-4.5h0m0 4.5h0m-1-3h0m-.5-1.5h0m-1.5-3h0m0 7h0m0 2h0m-1-5.5h0m-1-.5h0m-.5 2.5h0m-.5-1h0m-.5-4h0m-.5-2h0m-.5 3h0m0 2h0m-.5 2.5h0m-2 .5h0m-1-6h0m0 6h0m-.5-2h0m-.5-2h0m-1.5 3h0m-1 1h0m-.5-8.5h0m-3 11h0m-.5-11h0m0 8.5h0m-.5-4.5h0m-1-3.5h0m0 8h0m0 .5h0m-.5-9h0m-.5.5h0m0 .5h0m-3 9h0m-.5-5h0m0 5.5h0m-.5-4.5h0m-1 1.5h0m0 3.5h0m0 .5h0m-1.5-10h0m-.5-.5h0m0 9.5h0m-.5-10.5h0m-1 6.5h0m-.5-4h0m-.5-.5h0m-.5-1h0m-1 10.5h0m-1-10.5h0m0 4h0m0 3h0m-1-5.5h0m0-.5h0m-1 6.5h0m-.5-2.5h0m0 2h0m-.5-2h0m-1.5 2.5h0m-.5.5h0m0 2h0m-1.5-10h0m-1 9.5h0m-1.5-6h0m0 7h0m-2.5-4.5h0m-2.5.5h0m0 3.5h0m-.5-8h0m-.5 1h0m-.5-3h0m-.5 8.5h0m0 1.5h0m-1-10.5h0m-.5 6.5h0m0 0h0m-1.5-5.5h0m-1.5 7h0m-.5-5h0m-.5 7.5h0m-.5-9h0m0 8.5h0m-.5-6h0m-1 .5h0m0 5.5h0m-.5-7h0m-1-1.5h0m-.5-1h0m-.5 0h0m0 5h0m0 4h0m-.5-5h0m-.5-4h0m0 9.5h0m-1 1h0m0 0h0m-1-8h0m-.5 4h0m-.5-4.5h0m-1-3h0m0 8.5h0m-.5-8.5h0m0 3h0m0 3.5h0m-1-4h0m0 1.5h0m0 1h0m-2-4h0m0 1h0m0-.5h0m-1 3h0m-.5 7h0m-2.5-10h0m-.5 10h0m-2-3.5h0m-2.5-6.5h0m-.5 8.5h0m-1.5-4.5h0m-.5-3h0m-.5 6h0m0 2.5h0m-1.5-6h0m-.5-4.5h0m-.5 5.5h0m0 2h0m-1-1h0m-1 4.5h0m-.5-11h0m-.5 4.5h0m-.5 3.5h0m-.5 1h0m-.5-5h0m0 6h0m-1-10.5h0m0 1h0m0 9.5h0m-.5-1h0m-.5 2h0m-.5-8.5h0m-2-2.5h0m-1.5 0h0m0 4.5h0m-.5.5h0m0 2h0m0 2h0m-1-4h0m0 6h0m-.5-.5h0m-.5-2h0m-.5-5h0m-.5-2.5h0m-1-.5h0m-.5 6h0m-1-.5h0m-.5 1h0m-1.5-7.5h0m0 8h0m-.5-6.5h0m-.5-.5h0m-.5 6h0m-1-1.5h0m-.5.5h0m-.5-5h0m0 5.5h0m-1-4.5h0m0 5.5h0m-.5-7h0m0 0h0m0 2h0m0 6.5h0m-1 2h0m-1-5.5h0m0 4.5h0m-.5-9.5h0m0 3h0m-1 2h0m0 1h0m0 2.5h0m-.5 0h0m-1 2.5h0m-.5-10h0m-.5-1h0m-2.5 10h0m-.5-8h0m-.5 1h0m-.5-1.5h0m0 2h0m-.5 2h0m0 2h0m-.5-7.5h0m-.5 4.5h0m0 2.5h0m-1-5.5h0m0 0h0m-.5 3h0m-1.5-4.5h0m0 1h0m-1.5 1.5h0m-1.5 0h0m-1 3.5h0m-.5 2.5h0m-1-1.5h0m-.5-.5h0m-.5 0h0m-.5-5.5h0m0 2.5h0m-.5 3.5h0m-.5-5.5h0m0-.5h0m0 .5h0m-2 5.5h0m0 3h0m0-.5h0m-.5-4h0m-.5-1.5h0m-.5 6.5h0m-.5-10.5h0m-1 6.5h0m-1-1h0m-1 2.5h0m0 2.5h0m-1-2h0m-.5-8h0m-1 8.5h0m-1-9.5h0m-1 6h0m0 3h0m0 .5h0m-.5.5h0m-.5-9h0m0 4h0m0-.5h0m0 .5h0m-1.5-2h0m0 7.5h0m-1-1h0m-.5-1h0m-1-.5h0m0 2.5h0m-2-10h0m0 9.5h0m-.5-6.5h0m0 .5h0m0 3h0m-1-4.5h0m-1 3.5h0m0 3h0m-1.5-5h0m0 4h0m-.5 1h0m-.5-9h0m-.5 3h0m-1 3.5h0m-.5-6.5h0m0 11.5h0m-.5-9h0m0 3h0m-.5 5.5h0m-1-2h0m-1.5-4.5h0m-1 0h0m0 5.5h0m0 1h0m0 0h0m-.5-3.5h0m-.5-2.5h0m0 4.5h0m-.5-4.5h0m-.5-1.5h0m0 1h0m-.5 3.5h0m-.5-8h0m0 5h0m-.5 6h0m-.5-11h0m-1 1h0m0 3h0m-1.5 4.5h0m-1-3h0m-.5-.5h0m-.5-2.5h0m0 6.5h0m-.5-1.5h0m-2.5-4.5h0m-1.5 4.5h0m0 2h0m-4-6.5h0m-.5 7.5h0m-.5-9.5h0m0 2.5h0m-.5 2h0m-.5-5h0m-1.5 0h0m-.5.5h0m-.5 3h0m-.5-.5h0m-.5-2.5h0m-1 5h0m-.5-3.5h0m0 1h0m-.5-3h0m0 2h0m-.5 6.5h0m-.5-1.5h0m-.5-1h0m0 .5h0m-.5-5h0m-.5-.5h0m0 1.5h0m-.5-2.5h0m0 4.5h0m-.5-4h0m0 4h0m-1-5h0m0 .5h0m-.5 8h0m-1-8.5h0m0 5.5h0m-.5-5.5h0m-2 8.5h0m-.5-7h0m0 1.5h0m0 3h0m-1.5-5.5h0m0 4h0m0 6h0m-.5-7h0m-.5 4h0m-.5-7h0m0 2.5h0m0 5.5h0m-.5-4h0m0 1h0m-1.5-.5h0m0 3h0m0 1h0m-.5-3.5h0m-2-.5h0m0 3h0m-2.5-7h0m0 5h0m0 1.5h0m-1 0h0m-1 2h0m0 1.5h0m-.5-9.5h0m-1 5h0m-1 .5h0m-1-6h0m0 8h0m-.5-3h0m-1.5-.5h0m-1-5.5h0m-.5 4.5h0m-1.5-1.5h0m-.5 2h0m0 4.5h0m-1-3h0m-1-1.5h0m-1-3h0m0 4h0m0 5h0m-.5-8h0m0 1.5h0m-.5-4h0m-1 7h0m-.5-4.5h0m0 7.5h0m-1-2h0m-.5-6.5h0m-.5 6h0m0 3.5h0m-2-3h0m-1-6h0m0 2h0m-.5-.5h0m0 4h0m0 2.5h0m0 .5h0m0 .5h0m-.5-8h0m-1.5-2h0m0 1h0m-.5 7h0m-1.5-8h0m-.5 6.5h0m0 .5h0m-.5-1.5h0m-.5-4.5h0m0 2h0m0 4.5h0m-1-4.5h0m-1.5-2.5h0m-.5 2h0m0 3.5h0m-.5-1.5h0m-.5-2h0m0 1h0m-.5-3h0m-.5 2.5h0m-1-2.5h0m-.5 7h0m-.5-3.5h0m0 3h0m-.5.5h0m-1.5-9h0m0 3.5h0m0 2h0m-1 6h0m-.5-11h0m0 10.5h0m-.5-2h0m-1-9h0m-2.5 6.5h0m0 1.5h0m-.5-7h0m0 8h0m-1-3.5h0m-.5 2h0m-.5-6.5h0m-.5 7h0m-.5-1.5h0m-.5 5h0m-1.5-7.5h0m-.5 3.5h0m0 2h0m-1-6.5h0m-.5-.5h0m-1 8h0m-2-4.5h0m-.5-1h0m0 1.5h0m0 4.5h0m-.5-10.5h0m0 .5h0m0 3h0m-2 .5h0m-.5 0h0m-1-3h0m0 4h0m0 2.5h0m0 2.5h0m-.5-10.5h0m-1 7.5h0m0 1.5h0m-.5-1h0m-1 3h0m-1-5h0m-.5-1h0m-.5-5h0m-1.5 2.5h0m-.5 6.5h0m-.5-5.5h0m-1 1.5h0m-.5-1.5h0m-1.5-.5h0m0 2.5h0m-1 5.5h0m-.5-9.5h0m0 1.5h0m0 0h0m-.5-1.5h0m-5.5 2.5h0m0 1.5h0m-1 3h0m-.5-4h0m-1 1.5h0m-.5 5h0m-1.5-1h0m-1-.5h0m-.5-8h0m0 6h0m-2.5 2h0m-.5-6h0m-.5-3h0m0 1.5h0m-1 4h0m0 1.5h0m-.5-5h0m-.5 7h0m-.5-7h0m0 1h0m-.5 2h0m-1.5-5h0m-1.5 5.5h0m-.5-3.5h0m0 3.5h0m-.5 5h0m-.5-7.5h0m-.5 5h0m0 2.5h0m0-.5h0m-1-9h0m0 9h0m-.5-6.5h0m-1-2.5h0m-3.5 4.5h0m-1-1.5h0m-.5-3.5h0m-1.5 6.5h0m-.5 4h0m-1.5-2h0m-.5-7h0m-.5 6h0m-1-7.5h0m-.5 8.5h0m-.5 1h0m-.5-7.5h0m-1.5 0h0m0 5h0m-.5 3h0m-.5-4h0m-1.5-3h0m0 2h0m0 4.5h0m-1-2.5h0m-.5-6.5h0m-.5.5h0m-.5-1h0m0 .5h0m-.5 3h0m-.5.5h0m-.5 6.5h0m-1-8.5h0m0 4h0m0 4h0m-.5-11h0m0 2.5h0m0 0h0m-1 3.5h0m-.5 4.5h0m-2-4h0m-.5-6h0m-.5 5h0m0 5.5h0m-1.5-6h0m-.5 2.5h0m-1-5h0m-1 .5h0m-.5 1h0m-2 5h0m0 1h0m-1.5-7.5h0m-.5 1.5h0m-.5 0h0m0 2.5h0m-.5 3.5h0m-1.5-7.5h0m0 3.5h0m0 3h0m-1-7h0m-.5 8.5h0m-.5-10h0m-1 9h0m-.5-9h0m-.5 4.5h0m0 1.5h0m-2 3h0m-2-6.5h0m0 4.5h0m-.5 3h0m-1-9.5h0m-.5 8h0m-.5-1h0m-.5-7.5h0m0 5.5h0m-2 0h0m-1.5.5h0m-.5 3.5h0m-3-3.5h0m-.5-6h0m0 4.5h0m-.5 6h0m-1-1h0m-.5-8h0m0 9.5h0m-1-9.5h0m-.5-1h0m-2 10h0m-.5-4h0m-1 1.5h0m-.5-7h0m0 0h0m-.5 9.5h0m0-.5h0m-.5-6h0m0 4.5h0m-.5-8h0m-.5 4h0m0 .5h0m-.5-4.5h0m0 7.5h0m0 2.5h0m-1-2.5h0m-1 0h0m-2-8.5h0m0 8h0m0 2.5h0m-1-9h0m-.5 5h0m0 1.5h0m-.5-7.5h0m0 5.5h0m-1 0h0m-.5 4h0m-1.5-3.5h0m-.5 3h0m-2-5h0m-.5-2.5h0m0 4h0m-.5-2.5h0m-1-2.5h0m-.5 3.5h0m-.5-4.5h0m0 4.5h0m0 4.5h0m-.5-8.5h0m0 6h0m-.5-1h0m-2.5-1.5h0m0 1h0m-1 2.5h0m-2.5 1.5h0m-1-7h0m-.5 6.5h0m0 1.5h0m-1.5-3.5h0m-1-6h0m-3.5 2h0m0 0h0m-1.5 3h0m-3 0h0m-1.5 6h0m-1-.5h0m-5 9h0m6 0h0m.5 1.5h0m.5-9.5h0m4 9.5h0m.5-.5h0m1-4h0m1.5 6h0m2-9h0m.5 2h0m0 1h0m0 2.5h0m0 1.5h0m1-1h0m1 1h0m1-7.5h0m0 6.5h0m1-1h0m0 2h0m.5-7h0m0 1.5h0m1.5 7.5h0m1-8.5h0m.5-.5h0m.5 8h0m.5-8.5h0m.5-1h0m.5 2.5h0m0 2h0m2 3h0m.5-4h0m0 .5h0m1-2h0m.5-.5h0m0 7h0m1 1.5h0m0-.5h0m.5-3.5h0m.5 3.5h0m0 1.5h0m.5-11.5h0m.5 6.5h0m1-4h0m0 6h0m1-2h0m2.5 2h0m.5 0h0m0 1.5h0m2.5-8.5h0m.5 7.5h0m.5-9h0m1 2.5h0m.5 6.5h0m0 2.5h0m2-8h0m0 5h0m.5-6h0m.5 1.5h0m0 2.5h0m.5 4h0m1-3h0m.5 2.5h0m.5-6.5h0m0-.5h0m0 6.5h0m0 1.5h0m2.5-5h0m2.5 3.5h0m.5-4h0m.5-4h0m1-1h0m0 1h0m.5 8h0m.5-4.5h0m3-5h0m.5 6.5h0m1.5-.5h0m0 .5h0m1 3.5h0m2.5-.5h0m.5-4h0m.5 1h0m.5 2.5h0m.5-1h0m.5-1h0m0 4h0m1.5-2h0m1.5-5h0m0 5.5h0m0 1.5h0m2-7.5h0m.5 2h0m0 2.5h0m1 1h0m0 0h0m.5-7h0m.5-1h0m0 6.5h0m0 1h0m2-3.5h0m0 4h0m.5-6h0m0 7.5h0m2.5-7.5h0m.5 2.5h0m1.5-.5h0m0 5.5h0m1-9.5h0m0 2h0m1-2.5h0m0 1.5h0m0 2.5h0m1 3h0m.5-1.5h0m.5-6h0m0 10h0m1-3.5h0m.5 1h0m2.5-4.5h0m.5-2h0m1 7.5h0m2-7h0m.5 2.5h0m1 5h0m0 1h0m0 1h0m.5-3h0m.5 1.5h0m0 2h0m1-.5h0m2.5-10h0m0 3h0m.5-3h0m.5 8h0m1.5-1h0m0 2h0m2-3h0m0 3h0m1.5-3h0m0 .5h0m1.5-4h0m0 1.5h0m0 1h0m.5 4.5h0m.5-8.5h0m1 6h0m1.5-.5h0m1-5.5h0m1 .5h0m0 4h0m0 5h0m.5-3h0m.5-3.5h0m.5 3.5h0m1.5-5h0m0 3.5h0m1-5.5h0m0 3h0m0 7h0m.5-9h0m0 8h0m.5-8.5h0m.5-1.5h0m1.5 1h0m0 1h0m3.5 2.5h0m1-3.5h0m0 4h0m.5 1h0m.5 2h0m1.5-3.5h0m1-5h0m.5 5h0m.5-1.5h0m0 1.5h0m0 3.5h0m.5-8h0m0 8h0m0-.5h0m1-4.5h0m1 0h0m1-3h0m1.5 3h0m.5-.5h0m.5 1h0m0 1.5h0m0 5.5h0m1-3.5h0m2 0h0m1-7h0m0 3h0m.5 4h0m1.5-6h0m0 9h0m.5-9.5h0m.5 5.5h0m0 .5h0m.5-2.5h0m.5 1.5h0m.5 1.5h0m.5-5h0m1-.5h0m0 9.5h0m.5-6h0m.5 1.5h0m1-3h0m1.5 5h0m.5-2.5h0m.5-4h0m0 6h0m0 1h0m3.5-2.5h0m0 4h0m.5-11h0m0 6h0m1 2h0m.5 1h0m2-5.5h0m0 3.5h0m.5 1.5h0m0 1h0m.5 1.5h0m1.5-6h0m0 2h0m.5 2.5h0m.5-9h0m.5 5h0m2 .5h0m.5 3.5h0m1-3.5h0m.5-5.5h0m0 1.5h0m0 7.5h0m0-.5h0m0 1h0m.5-2h0m2.5-4h0m.5.5h0m0 0h0m1.5-4h0m.5.5h0m0 1.5h0m0 2.5h0m1-3.5h0m0 1.5h0m1 8.5h0m.5-8.5h0m0 .5h0m1 5.5h0m.5-2.5h0m1-5h0m.5 2.5h0m.5 2.5h0m1-4.5h0m0 5h0m.5-2.5h0m0 3.5h0m.5-4h0m0 1.5h0m.5 2.5h0m.5 0h0m0 2.5h0m.5-6.5h0m1 2h0m0 0h0m1-2.5h0m1 1h0m2 6.5h0m1.5-1h0m1.5-5h0m.5 5h0m1.5 1h0m.5-5h0m1-2.5h0m.5-.5h0m.5-3h0m1 6.5h0m.5 0h0m0 3h0m1-7h0m0 4h0m.5 1h0m.5-6h0m1 4h0m.5 5.5h0m.5-5h0m.5 2h0m1-7.5h0m.5 3.5h0m.5 4.5h0m1 .5h0m1 1.5h0m.5.5h0m1-10h0m1 3h0m4.5-.5h0m.5-1.5h0m0 1h0m0 4.5h0m1-7h0m.5 1.5h0m.5 5h0m.5-3h0m1 5h0m1-1h0m2-6.5h0m0 2h0m1-2.5h0m.5 8.5h0m.5-6h0m.5 5h0m1 3h0m1.5-2h0m0 .5h0m.5-4.5h0m1.5-5h0m0 2h0m2.5 1h0m.5 6h0m.5-8.5h0m0 3h0m0 5.5h0m.5-8h0m.5 5.5h0m.5-3h0m0 0h0m.5-2.5h0m0 8h0m.5-5h0m.5 2h0m1 .5h0m0 2h0m1-7h0m.5 2h0m.5 4h0m.5-3h0m.5 5h0m1.5-3h0m1.5-7h0m1 6.5h0m1.5-6.5h0m1 3h0m2 .5h0m2.5 8h0m1-10.5h0m0 6.5h0m.5 4h0m1-11h0m1 10h0m.5-2h0m0 2h0m.5-8h0m0 5h0m.5 1.5h0m.5-4h0m.5 5.5h0m0 .5h0m.5-10h0m0 1.5h0m0 0h0m0 1h0m.5-2h0m.5 2.5h0m0 5h0m1.5 1.5h0m.5-7.5h0m.5-2.5h0m0 0h0m1.5 9.5h0m1-9.5h0m.5 10.5h0m.5-8h0m.5-2.5h0m0 4.5h0m.5-1h0m0 7.5h0m1.5-6h0m.5 4.5h0m1-4.5h0m.5-2h0m1 3.5h0m1.5 3.5h0m.5-10h0m.5.5h0m2 0h0m0 10.5h0m1-7h0m1 3.5h0m.5-5h0m0 7h0m.5-9h0m1 1.5h0m2 5.5h0m.5-6.5h0m.5-.5h0m0 8.5h0m1-4.5h0m1 4h0m1-.5h0m0 2.5h0m1-2.5h0m0 3h0m.5-10h0m0 3.5h0m0 2.5h0m.5-7h0m0 2.5h0m0 3h0m.5-2.5h0m0 4.5h0m.5-5.5h0m.5 2h0m.5 7h0m.5-3.5h0m1-5h0m.5-3h0m.5 4h0m0 5.5h0m1-4.5h0m0 2h0m0 2.5h0m.5 1.5h0m1-11h0m0 .5h0m.5 11h0m3.5-.5h0m2.5-11h0m1 4.5h0m.5-4.5h0m0 6h0m1-3h0m.5 6h0m3-6.5h0m0 1.5h0m0 4h0m1 .5h0m0 .5h0m1 .5h0m.5-5.5h0m.5 1h0m1.5-2h0m.5 0h0m0 .5h0m.5 0h0m.5 5h0m1.5-.5h0m.5-3h0m0 2h0m0 4.5h0m1-6.5h0m1-3.5h0m0 7h0m1 2h0m.5-7h0m1.5 1.5h0m.5 1.5h0m1.5-2h0m1 1h0m1-4h0m.5.5h0m0 5h0m0 0h0m0 1.5h0m0 3h0m.5-6.5h0m1.5.5h0m0 5h0m2.5-3.5h0m.5 1.5h0m1.5-2h0m.5-1.5h0m0 2h0m.5 3.5h0m.5-1h0m.5-1h0m.5-5h0m.5-1.5h0m0 6.5h0m0 3h0m.5-10h0m0 .5h0m0 5h0m.5 0h0m0 2h0m2.5 0h0m1-8.5h0m0 2.5h0m3 4h0m0 1.5h0m1-4h0m.5 1.5h0m.5-5h0m1.5 5.5h0m0 3h0m.5 1h0m1-10.5h0m.5 4h0m1 4.5h0m1-6h0m1 9h0m.5-7.5h0m1.5 7h0m1-10.5h0m.5 5h0m1 3.5h0m1.5-5.5h0m.5 3.5h0m.5 3.5h0m.5-2.5h0m0 3.5h0m1-9h0m0 2h0m0 6h0m1-10h0m.5 4.5h0m1.5-.5h0m.5-4.5h0m1 6h0m1 1h0m.5-5h0m0 7.5h0m.5-3.5h0m1.5 1h0m1-6.5h0m0 3.5h0m1 2.5h0m.5-4h0m.5 3h0m0 2.5h0m0 .5h0m.5-.5h0m0 3h0m.5-4h0m1-6.5h0m0 9h0m.5-7.5h0m1 1.5h0m0 6h0m0-.5h0m1-4h0m1.5 4h0m1-3.5h0m1.5-1h0m.5 0h0m0 2h0m2-3h0m.5.5h0m.5 7.5h0m.5-9h0m0 4h0m1-3.5h0m0 4.5h0m0 .5h0m4-8h0m0 4h0m0 .5h0m0 1h0m3-3h0m0 1.5h0m0 .5h0m0 1h0m0 3h0m1.5-3h0m.5 0h0m0 .5h0m.5-2.5h0m.5 1h0m0 3h0m1-2.5h0m0 1.5h0m0 4.5h0m1-9.5h0m.5 3h0m1 3h0m0 3h0m.5-2h0m1-1.5h0m.5 3h0m2.5-6.5h0m0 4h0m.5-5h0m0 5h0m.5-6.5h0m0 1h0m0 7.5h0m2-1.5h0m0 0h0m.5-6h0m0 3.5h0m1.5-5h0m.5 7h0m.5-2h0m.5-3h0m.5 3.5h0m0 1h0m0 3h0m.5-9.5h0m.5 5.5h0m.5 1.5h0m.5 1h0m.5 2.5h0m1-5.5h0m0 2h0m1.5-1.5h0m.5-3.5h0m0 3h0m0 0h0m2.5-4.5h0m1 5h0m.5-5h0m0 1.5h0m1-1h0m0 3.5h0m3.5-4.5h0m1.5 4h0m0 0h0m1 4h0m1-8h0m0 5.5h0m0 4.5h0m1-10.5h0m0 9.5h0m1.5-.5h0m1-7h0m.5 3.5h0m1 1.5h0m0 3h0m.5-7h0m0 2.5h0m.5-1h0m0 4h0m0 1h0m1-4.5h0m.5-3h0m0 .5h0m1 2h0m.5.5h0m5 2.5h0m3.5-2h0m.5 1h0m4 2h0m2.5-.5h0m1-4h0m.5-2h0m2-1h0m.5-1h0m0 2.5h0m0 5.5h0m3.5 2.5h0m1-5.5h0m1 2h0m3.5-5h0m.5 6h0m2-8h0m0 4.5h0m0 1.5h0m3 4h0m.5-8.5h0m.5 5h0m1.5-2.5h0m.5.5h0m4 5.5h0m3.5-5.5h0m1-2.5h0m0 9h0m4-2h0m2-5.5h0m.5 2.5h0m2 5.5h0m2-4h0m2.5 3h0m3-3.5h0m2 3.5h0m9.5 1h0m2-.5h0m16.5 12h0m-10.5-7h0m-1.5 1h0m-3 4.5h0m-.5-4h0m-.5-2h0m-1.5 6.5h0m-.5-1.5h0m0 1.5h0m-2-7.5h0m-1 5.5h0m-5.5-4.5h0m-1.5 2h0m-.5 2.5h0m-.5-4h0m-2 1h0m-1.5 4h0m-1-8.5h0m0 6.5h0m-1.5 2.5h0m-.5-8.5h0m-2 3.5h0m-3-.5h0m-.5-4h0m-1 4h0m-4-4h0m-1 4.5h0m-.5-.5h0m-1 1.5h0m-5-3h0m-.5.5h0m-.5-.5h0m0 1.5h0m0 1.5h0m-1-3.5h0m0 2.5h0m0 7h0m-1-6h0m-1.5-3.5h0m-1 1.5h0m-.5 0h0m-2 1.5h0m-.5-4.5h0m-1 2h0m-.5 5.5h0m-1 0h0m-1-6h0m-2.5 4.5h0m0 1h0m-1 4h0m-1-.5h0m-1-7h0m-1 6h0m-1-9h0m-1 3h0m0 .5h0m-.5 6.5h0m-1-6.5h0m-.5 2.5h0m-2.5 3.5h0m-4-7.5h0m-1 3h0m0 5h0m-.5-6h0m-2.5 5h0m-.5-9.5h0m-1 1.5h0m-1 7h0m-1 1.5h0m-4-2.5h0m0 .5h0m-1-8h0m-7.5 10.5h0m-.5-11h0m-.5 2h0m-2.5 5.5h0m0 1.5h0m-.5-4h0m-.5 3h0m-2-5.5h0m-.5 0h0m-1 6.5h0m-1.5-7.5h0m-.5 0h0m-1 8h0m-1-5.5h0m-2 1.5h0m-1-2.5h0m0 3.5h0m-.5 3.5h0m-1-4.5h0m-1.5.5h0m-.5-2h0m-.5-2.5h0m0 3.5h0m-.5 3h0m0 .5h0m-.5-4.5h0m0 6h0m0 1.5h0m-.5-1.5h0m-.5.5h0m-.5-1h0m-.5-5h0m-1 2.5h0m-.5-3.5h0m-.5-3.5h0m0 6h0m-.5-6h0m0 11.5h0m-3-8.5h0m0 8.5h0m-.5-1.5h0m-3-1h0m-1-6h0m-3 2h0m-1.5 1h0m-1-.5h0m-.5 0h0m-1-3h0m-1.5-2.5h0m0 1.5h0m-.5 4h0m-.5-1h0m-1 .5h0m-.5-1h0m0 5.5h0m-.5-.5h0m-.5 2.5h0m-1-10h0m0 4h0m0 6h0m-.5-6.5h0m-3-4.5h0m0 1h0m-1 7.5h0m-1-4h0m-.5-.5h0m-1-2h0m0 2h0m-1-4.5h0m0 1h0m0 3.5h0m-1 0h0m-1 6.5h0m-2-4h0m-1-6h0m-.5 8h0m-1 .5h0m0 2h0m-.5-3.5h0m-1-7h0m-1 7h0m-.5-8h0m0 3.5h0m-.5 2.5h0m-.5-3h0m-1 2h0m-.5-4.5h0m-.5 10.5h0m-1-2h0m0 0h0m-1-9h0m-.5 11.5h0m-.5-9h0m-1-1.5h0m0 10.5h0m-.5-10h0m0 0h0m0 7.5h0m-2.5 2h0m0-.5h0m-1.5-9.5h0m0-.5h0m-1-.5h0m0 3h0m-.5 0h0m-.5-2.5h0m0 8.5h0m0-.5h0m0 2h0m-.5-2.5h0m-2.5-4.5h0m-.5-3.5h0m0 11.5h0m-.5-8.5h0m0 4.5h0m-.5-4h0m-.5-.5h0m0 7.5h0m-.5-9h0m0 1h0m-1 2h0m0 1h0m-.5-5h0m0 .5h0m-.5 3.5h0m0 1.5h0m-1 5.5h0m-1.5-9.5h0m-1-1h0m0 9h0m0 1.5h0m-1-6.5h0m-.5 3h0m-2 2.5h0m-.5-1h0m0 1.5h0m-.5-3h0m-2-7h0m-3 4.5h0m-1 2h0m-.5 1.5h0m-1-5h0m0 7.5h0m-1-9.5h0m0 4h0m-1.5 4.5h0m-1.5-5.5h0m-1.5-1h0m-1 4h0m-.5-7.5h0m0 1.5h0m0 .5h0m-.5 3.5h0m0 .5h0m-.5-4h0m-1-2h0m0 2h0m-1-.5h0m-.5 7.5h0m-.5-6.5h0m-.5-1.5h0m0 1.5h0m0 3h0m0 2h0m-3-5h0m-1-2h0m-.5 9.5h0m-2-5.5h0m-.5-3.5h0m0 7h0m-1-6h0m-.5 4h0m-2-1h0m-.5-1.5h0m-.5 6.5h0m-.5-8h0m-.5-2.5h0m0 2.5h0m-.5-.5h0m-2.5-1.5h0m-2 9.5h0m-1-4.5h0m0 4h0m-1 1h0m-.5.5h0m-.5-7h0m-.5 5h0m-.5-8.5h0m0 11h0m-.5-5.5h0m-1-2.5h0m0 1.5h0m0-1h0m0 3.5h0m0 1.5h0m-.5-7h0m-1.5 4h0m-.5-3h0m0 2h0m0 4h0m-.5-7h0m0 8.5h0m-.5-10.5h0m0 1.5h0m0 3.5h0m-.5 3.5h0m-1-8.5h0m0 9.5h0m-.5-3h0m0 2h0m0 2.5h0m-2.5-9h0m-.5 9.5h0m-.5 0h0m-1-7.5h0m0 2h0m0-.5h0m0 .5h0m-1-3.5h0m-1-1h0m-1-1h0m0 1.5h0m-1 1h0m0 5.5h0m-.5 3h0m-1-9h0m-1.5 7.5h0m-.5-2.5h0m-1-6h0m0 2h0m-2 8h0m-.5-8h0m-1 6h0m-.5-4.5h0m-1 .5h0m-2.5 2h0m-1-2.5h0m0-.5h0m-.5 5.5h0m-1-1h0m0 1h0m-.5-6h0m0 .5h0m-1-1.5h0m0 4.5h0m-1-2h0m-1-5h0m-.5 7h0m0 .5h0m-.5-6h0m-.5 0h0m-.5.5h0m0 4.5h0m-1-2.5h0m0 4h0m-.5-3h0m-1.5 0h0m-.5 2.5h0m-.5-1.5h0m-1.5-4h0m-2 2h0m-.5 3h0m-.5-3.5h0m0 6h0m-1-8h0m0 1h0m0 2h0m-.5-2.5h0m0 4h0m-.5-6.5h0m0 3.5h0m-.5 3.5h0m-.5-1.5h0m0 2h0m-1-4h0m-.5-2h0m0 1.5h0m-1 1h0m0 2h0m-.5.5h0m-1-.5h0m-.5-5h0m0 6.5h0m0 3h0m-.5-3h0m0 3.5h0m-.5-9h0m-.5 9.5h0m-.5-8h0m-.5 1.5h0m0 3h0m-1-4.5h0m-.5-3.5h0m0 2.5h0m0 4h0m0 4.5h0m-.5-.5h0m-1-3.5h0m0-.5h0m-1-6h0m-1.5 5h0m0 1.5h0m0 2h0m-.5-8h0m0 1h0m0 4.5h0m-1-.5h0m-1-1h0m-.5-.5h0m-1-1.5h0m-2 6.5h0m-.5-3.5h0m-.5-1.5h0m-1 2h0m-.5-4.5h0m0 8h0m-1-4.5h0m0 1.5h0m0 2h0m-.5-2h0m-.5 0h0m-.5 3.5h0m-2-10h0m0 2.5h0m0 1.5h0m0 .5h0m0 6h0m-.5-11h0m0 7h0m-.5-3.5h0m0 2.5h0m-1.5-3h0m0 2h0m-.5 5h0m-1-9.5h0m-.5 10.5h0m-1-3.5h0m-1-6h0m-.5 3.5h0m-1-1h0m0 7.5h0m-.5-3.5h0m-.5 1h0m-.5-9h0m0 3h0m-.5-2.5h0m-.5 9.5h0m-1-4.5h0m0 .5h0m0 1h0m-1.5 4.5h0m-1-4h0m-.5-7h0m-1.5 3h0m-1 6.5h0m-1.5-8h0m0 6h0m-.5-4.5h0m0 1.5h0m-1.5-3.5h0m-.5-1h0m-2.5 3h0m0 2.5h0m0 .5h0m-1.5-4h0m0 4h0m-1.5 3.5h0m-.5-9h0m-1 2h0m-1-3h0m0 7h0m-1.5-5.5h0m0 6.5h0m-.5-8h0m0 .5h0m-.5 8h0m-1-5h0m0 8h0m-.5-4h0m0 1h0m0 1.5h0m-1-6.5h0m-1-1h0m0 1.5h0m-.5 7h0m-.5-10h0m0 10h0m-.5-10h0m-.5 1.5h0m0-.5h0m0 2h0m0 3h0m-1 1h0m-.5-3h0m0 4.5h0m-.5-1.5h0m-.5-6h0m-1-1h0m-1 4h0m0 2h0m-.5 4h0m-1-4.5h0m0 2.5h0m-1.5-7h0m0 2.5h0m-.5-1h0m-.5 1h0m-1 3.5h0m0 0h0m-.5-2h0m-.5-1h0m-1 3h0m-.5 0h0m-.5 1.5h0m-.5-8.5h0m0 7.5h0m0 1.5h0m-.5-8.5h0m0 1.5h0m-.5-2.5h0m0 9h0m-1-1h0m-1-5.5h0m-1.5 2.5h0m0 1h0m-.5-5h0m0 6.5h0m0 2h0m-.5 0h0m-.5-1h0m-1.5-6h0m-.5 6.5h0m-.5-9h0m0 2h0m0 9h0m-.5-9.5h0m0 1h0m0-1h0m0 1.5h0m-2-1.5h0m0 3h0m0 1.5h0m-1-4h0m0 .5h0m0 4.5h0m0 1.5h0m0-.5h0m-.5 1.5h0m-1.5-10h0m0 6.5h0m-.5-4h0m0 8.5h0m-.5-10h0m0 .5h0m-.5 6h0m-1-1.5h0m-.5-3.5h0m-2 2.5h0m-.5-1h0m0 1h0m-.5 6.5h0m-.5-3.5h0m-.5-3.5h0m-1-2.5h0m0 2h0m0 2h0m-1-5h0m0 3h0m-.5-1h0m-.5-3h0m-1.5 11h0m-1.5-4.5h0m-1 1h0m-.5-6h0m-.5 0h0m0 5.5h0m-1 3h0m-2-5.5h0m-.5.5h0m-1-5h0m0 5h0m-.5-3h0m-.5 6.5h0m0 .5h0m-.5-5h0m0 4.5h0m-.5.5h0m-.5-5h0m0 6.5h0m-2-4.5h0m-.5-4h0m-1 5.5h0m-1-7.5h0m-.5 3h0m0 5h0m-.5-4h0m0 3h0m-.5 2h0m-.5-8h0m-.5 3.5h0m0 5h0m0 1.5h0m-1-10h0m-.5 2.5h0m-.5-3.5h0m-.5 4h0m-2 6h0m-.5-5h0m-1.5 4.5h0m-1-3.5h0m-.5 1.5h0m-2 2.5h0m-.5-4h0m0 3h0m-.5-6.5h0m0 6.5h0m-1-1h0m-1-7.5h0m-1 6h0m-.5 4.5h0m0 .5h0m-3.5-9.5h0m-1 2h0m0 4h0m-.5-5h0m-.5-.5h0m-.5-2.5h0m0 7.5h0m-.5-1.5h0m-1-2.5h0m-.5-.5h0m-1 2.5h0m-2.5 0h0m-.5-4h0m-1.5 5h0m-1 3.5h0m0-1h0m-.5-4h0m-.5 3.5h0m-.5-8h0m-1.5 10.5h0m-2-4.5h0m-1.5 0h0m0 .5h0m-2-5h0m0 7h0m-1.5-6.5h0m-.5 1h0m-1 0h0m-3 3h0m-1-2h0m-2 .5h0m-.5-4h0m0 .5h0m0 8h0m0 1.5h0m-1.5-4h0m-.5 1.5h0m-.5 0h0m-1-7h0m0 1h0m-.5 6h0m-.5-7h0m-.5 8.5h0m-.5 1h0m-.5-8.5h0m-1.5 4.5h0m-.5-7h0m-.5 10h0m-1-6h0m-.5 7h0m-1.5-10.5h0m-.5 1.5h0m-1.5-2h0m-1 9h0m-.5-1h0m-1-8h0m0 1.5h0m0 5.5h0m-.5-2h0m-.5-4.5h0m0 7.5h0m-.5-7.5h0m-1.5 8.5h0m-2-7h0m-3.5 0h0m-1.5 3h0m0 6.5h0m-1-3h0m-.5 1h0m0 0h0m-.5-6h0m-1 2h0m-2.5-1.5h0m-1 6.5h0m-1-10.5h0m0 6.5h0m-.5 5h0m-.5-9h0m0 8h0m-.5-8.5h0m0 1h0m-.5 8.5h0m-.5-1h0m0 1h0m-3-.5h0m-2-3h0m0 3h0m-1-10.5h0m-.5 5.5h0m-.5-4.5h0m-.5 6h0m0 3.5h0m0-.5h0m-.5-8h0m0 1h0m-2.5 1h0m-1 2h0m0 2.5h0m-1-4h0m0 5.5h0m0-.5h0m-1-3.5h0m-.5-3h0m-1 6h0m-2-4h0m-1.5 3.5h0m-.5-7h0m0 3h0m-.5-4h0m-.5 7h0m-1.5-6h0m0 4h0m-2.5.5h0m-.5 0h0m-.5-5.5h0m-.5 3.5h0m-1-3h0m-2 1h0m-1.5 0h0m0 4h0m0 5h0m-.5-3.5h0m-.5-1h0m-.5-6h0m-.5-1h0m0 5h0m0 .5h0m0 6h0m-1-4h0m-1.5-.5h0m-1.5 3.5h0m-3.5-1.5h0m-.5.5h0m0 3h0m0 5.5h0m1 5.5h0m.5-5.5h0m6-3.5h0m.5 1.5h0m3.5-3.5h0m0 1.5h0m0 6h0m5 2.5h0m2-10h0m0 8.5h0m1.5-1.5h0m0 1h0m1.5 1.5h0m2-2h0m0 1.5h0m1-9.5h0m.5 1h0m.5 9h0m1-8.5h0m0 10h0m1-7h0m0 3h0m.5-3.5h0m0 6h0m1.5-7.5h0m1 1.5h0m0 0h0m0 6h0m.5-4h0m.5-2h0m.5 3.5h0m1-5h0m.5-1.5h0m0 9h0m1-7.5h0m0 2.5h0m.5-.5h0m0 1.5h0m1.5-2.5h0m.5 3h0m0 4h0m.5 1h0m2.5-8h0m1 3h0m1-5.5h0m0 4h0m0 3h0m.5 1.5h0m2-5.5h0m.5 2h0m1-4.5h0m1 7.5h0m1 1.5h0m1-3.5h0m.5-2h0m.5-1.5h0m.5.5h0m0 5h0m1.5-4h0m0 1.5h0m1-4.5h0m.5-1h0m0 6.5h0m.5-6.5h0m.5-1h0m0 5.5h0m.5 4.5h0m1 .5h0m1-8h0m1 3h0m2 1.5h0m3-5.5h0m.5-.5h0m0 7h0m2.5-3h0m1-4.5h0m0 5h0m0 4h0m0 1.5h0m2-10.5h0m1 6.5h0m.5 0h0m1-.5h0m0 .5h0m0 2.5h0m2-9h0m.5 8h0m0 2h0m.5-.5h0m1-9h0m1 2h0m1.5-1h0m.5 5.5h0m0 1h0m.5-4h0m.5 4h0m.5 3h0m.5-9h0m1-2h0m.5 3h0m0 5h0m.5-5h0m1.5 2h0m.5 2h0m.5-6h0m0 6h0m0 0h0m0 3.5h0m.5-10.5h0m0 3.5h0m.5 7h0m.5-1.5h0m.5-.5h0m1.5-1h0m0 2h0m1 1.5h0m.5-11.5h0m1 .5h0m0 3.5h0m.5-4h0m0 10h0m1.5-6.5h0m2-3.5h0m.5 11h0m1.5-10.5h0m0-.5h0m1 3h0m0 3.5h0m2.5-4h0m.5-1.5h0m.5 2h0m4 6h0m1-8.5h0m0 10.5h0m1-10.5h0m.5 8.5h0m.5-3.5h0m0 1.5h0m0 2h0m1 2.5h0m2.5-10.5h0m.5 3.5h0m0 4.5h0m.5-5h0m0 3h0m0 2.5h0m0 1h0m1-.5h0m.5-6h0m.5 3h0m.5-5h0m0 9h0m.5-9.5h0m.5 8.5h0m.5-5.5h0m0 3h0m1-7.5h0m0 4h0m0 3.5h0m0 1h0m.5-.5h0m.5-6.5h0m1-1h0m0 1.5h0m.5 7h0m.5-8h0m1 6.5h0m0 3.5h0m.5-7.5h0m0 7h0m.5 0h0m.5-7.5h0m.5 4.5h0m0 2h0m.5-6h0m1 1h0m2-4h0m1-.5h0m1 0h0m1 11.5h0m1-5.5h0m.5-4.5h0m0 3.5h0m.5 5.5h0m0 1h0m1.5-9h0m.5 8h0m.5-9h0m.5-1h0m0 9h0m1-6.5h0m.5 7.5h0m1.5-4.5h0m2.5 1.5h0m1 3.5h0m.5-10h0m.5.5h0m.5.5h0m0 8.5h0m2-10.5h0m.5 6.5h0m.5-6.5h0m.5 8.5h0m1-4h0m4.5-2.5h0m0 9.5h0m.5-2.5h0m0 1.5h0m1 0h0m.5-7.5h0m0 4.5h0m.5-5h0m2.5 0h0m.5 1h0m0 8h0m.5-9.5h0m0 .5h0m.5 0h0m0 4.5h0m0 4h0m1-7.5h0m0 6h0m.5-9h0m.5 3h0m0 2.5h0m0 .5h0m.5-4h0m0 2.5h0m2.5 0h0m0-1h0m1 2.5h0m1.5 1h0m1 2h0m2-6.5h0m0 .5h0m0 2.5h0m.5 1.5h0m0 1.5h0m.5-6h0m1-.5h0m1-2h0m0 3h0m0 1h0m.5-3h0m0 .5h0m0 1.5h0m2 3h0m1.5-6h0m0 4h0m0 6h0m3-2h0m.5-6h0m0 .5h0m1 4.5h0m.5-7.5h0m0 1h0m1-.5h0m0 1h0m0 1.5h0m0 8h0m1-4h0m1-3.5h0m0 3.5h0m.5-1.5h0m0 1h0m.5-2.5h0m0 3h0m.5 1.5h0m1-3.5h0m1.5-.5h0m0 1h0m0 4.5h0m.5-.5h0m1.5-9h0m1 10.5h0m1-7h0m1 1h0m.5-3h0m1-1.5h0m2 2h0m0 4.5h0m0 1.5h0m.5-6.5h0m2 3.5h0m1 4.5h0m1-4h0m0 1h0m1.5-4.5h0m0 6.5h0m.5-8h0m0 .5h0m0 3.5h0m0 3h0m.5-5.5h0m.5 3.5h0m2 2h0m.5-7.5h0m.5 4.5h0m2 2h0m0-.5h0m0 2h0m.5-7h0m2 2.5h0m.5 1h0m1-2.5h0m0 3h0m.5 1.5h0m3.5-5.5h0m1 3h0m1.5-3.5h0m0 2.5h0m0 2h0m1.5-1.5h0m1 4.5h0m1.5-5h0m0 .5h0m.5 5h0m1 1.5h0m.5-8h0m0 5h0m.5-1h0m1-.5h0m0 3h0m0 1h0m.5-4.5h0m0 4h0m1.5-7h0m.5-1.5h0m0 3h0m0 5h0m.5-8.5h0m0 7.5h0m1.5-6.5h0m.5 3.5h0m0 1.5h0m.5 2.5h0m1-8.5h0m0 1h0m.5 3h0m0 3h0m1.5-2h0m0 2.5h0m0 .5h0m.5-1.5h0m1.5-7h0m.5 3h0m0 .5h0m0 4.5h0m1.5 0h0m.5-2.5h0m2.5-5.5h0m0 .5h0m0 7.5h0m.5-7.5h0m0 8h0m0 2.5h0m0 0h0m.5-6.5h0m.5 5.5h0m2-7h0m.5-1.5h0m0 9.5h0m.5-2h0m0 0h0m.5-2h0m1 3h0m.5-8h0m.5 7h0m1-.5h0m.5-4.5h0m.5-1.5h0m1 1h0m1-3h0m.5 1h0m.5 7h0m0 1h0m0 1h0m1 1h0m0-.5h0m1-5.5h0m1-1h0m0 6.5h0m.5-11h0m0 0h0m0 8h0m2 0h0m.5-7h0m0 10.5h0m.5-10.5h0m1.5 2.5h0m.5 6h0m.5-1h0m0 2.5h0m1-7h0m.5 3h0m.5-3.5h0m0 4h0m.5-7h0m0 8h0m.5-6h0m2.5.5h0m.5 4.5h0m1.5-7h0m.5 7h0m.5-1h0m.5-2h0m1 1h0m1 3.5h0m1-1.5h0m0 3h0m1-4.5h0m.5-5h0m1.5 1.5h0m.5 7.5h0m.5-3h0m.5 0h0m.5-1.5h0m1.5 4h0m.5-4h0m1.5-2.5h0m0 6h0m0 2h0m.5-9h0m0 2h0m0 1.5h0m1-5h0m0 9h0m.5-9h0m.5 0h0m0 6.5h0m.5 2.5h0m1-9h0m0 9.5h0m.5-7.5h0m.5 5h0m2-3.5h0m2 7h0m1 0h0m.5-1.5h0m1-7.5h0m0 9h0m1-6h0m0 2h0m0 2h0m0 1.5h0m.5-10h0m1 8h0m1.5 2.5h0m0-.5h0m.5-10h0m3.5 7h0m0 2.5h0m.5-9.5h0m0 4.5h0m.5 2.5h0m0 4h0m.5-5.5h0m0 0h0m1-5.5h0m.5 11h0m.5-4h0m.5-.5h0m0 1h0m.5 1h0m1 1.5h0m.5-9.5h0m.5 5h0m1 3.5h0m1-1.5h0m.5-6h0m1 6.5h0m.5-1.5h0m.5-6.5h0m0 10h0m1-3h0m0 1.5h0m1.5 2h0m.5.5h0m.5-11h0m.5 2h0m.5 3.5h0m1-2h0m0 3h0m.5 0h0m.5-1.5h0m0 3h0m.5-1h0m0 1h0m.5-7h0m0 5.5h0m1 .5h0m.5-3.5h0m1 1h0m.5-3.5h0m1.5 7h0m.5-8h0m0 0h0m.5 1.5h0m.5-1h0m0 1.5h0m1 2h0m.5-3.5h0m1 9h0m.5-9.5h0m0 .5h0m0 0h0m.5 0h0m1 10.5h0m1.5-10h0m1.5 8.5h0m1.5-7.5h0m0 5.5h0m.5-7h0m1 7.5h0m.5-1h0m2.5.5h0m2.5-6h0m.5 8.5h0m1.5-5h0m.5 4.5h0m1-9h0m.5-.5h0m1.5 3.5h0m0 3.5h0m0 2h0m0 0h0m1.5-6.5h0m.5 6.5h0m.5-8.5h0m0 4h0m.5 1.5h0m1-2h0m1 2.5h0m.5-6h0m0 9h0m2.5-5.5h0m0 .5h0m0 .5h0m.5 1h0m.5-2h0m.5 0h0m0 5h0m.5-3h0m0 5h0m.5-5.5h0m.5 2.5h0m.5-1.5h0m0 .5h0m1.5 3h0m.5-4.5h0m.5 3h0m.5-5h0m1 6.5h0m1-5.5h0m.5-2h0m.5-3h0m0 3.5h0m1 2h0m1.5-3h0m.5-2.5h0m1 1h0m0 9.5h0m1.5-1h0m2 1h0m.5-3h0m.5.5h0m.5 3h0m.5-10.5h0m0 3.5h0m0 1.5h0m1-1h0m.5-3.5h0m.5 8.5h0m.5-6.5h0m0 1h0m0 6h0m.5-7.5h0m1.5 1h0m0 1h0m.5 4.5h0m1.5-3.5h0m0 3h0m.5-3h0m0-.5h0m0 1.5h0m1 0h0m.5 1h0m.5-1.5h0m.5-3.5h0m1-2.5h0m0 8h0m0 1h0m3-1.5h0m3.5-3h0m1 2.5h0m0 4.5h0m1.5-9.5h0m.5-2h0m1 3.5h0m1.5-3h0m.5 9h0m1.5-4h0m1.5-.5h0m0 2h0m1.5-7h0m0 6.5h0m.5.5h0m1.5-.5h0m.5-2.5h0m.5 6.5h0m.5-4.5h0m3.5-3.5h0m1-2h0m0 1h0m.5 9.5h0m2-8.5h0m0 8.5h0m.5-7h0m0-.5h0m.5 1.5h0m.5 1h0m1.5-2.5h0m1 1.5h0m.5.5h0m.5-2.5h0m2.5-2h0m1 7.5h0m.5-8h0m0 .5h0m1-1h0m0 9h0m2 2h0m.5-5h0m.5 4.5h0m1-7h0m6 0h0m1 5.5h0m0 2.5h0m1-1h0m1.5-5h0m2-5.5h0m1.5 3.5h0m1 3h0m.5-4.5h0m0 1h0m5.5 5h0m.5-5.5h0m3 6.5h0m.5-5h0m1.5 6h0m2 .5h0m2.5-6.5h0m2-2h0m.5 9.5h0m1-3h0m3-6.5h0m0 9.5h0m2.5-7.5h0m0 2.5h0m0 .5h0m.5.5h0m.5-6h0m.5 3.5h0m3 .5h0m2.5 1h0m1.5-1.5h0m0 .5h0m5-4.5h0m.5 9h0m.5-4h0m2.5-5.5h0m8.5 4h0m3 .5h0m3.5 1h0m1-5h0m.5 2h0m1 2.5h0m4.5 1.5h0m3-1.5h0m1.5-3h0m4.5 1h0m1-2.5h0m-46.5 13.5h0m-2 2.5h0m-.5-5h0m-2.5.5h0m0 6h0m-4-6.5h0m-2 1h0m0 2.5h0m-1 2.5h0m-1-5h0m-4 2.5h0m-2.5 1h0m-2-.5h0m-4 5.5h0m-1-2h0m-.5-1.5h0m-4-5h0m-.5 5h0m-3.5-3h0m-1-3h0m0 7.5h0m-2-3.5h0m-.5 1.5h0m-6-3h0m-1 5h0m-.5-1.5h0m-.5-6h0m-4 2.5h0m0 3h0m-2-1.5h0m0 5h0m-1-8h0m-3 1.5h0m0 9h0m-.5-8.5h0m-.5 2h0m-.5-.5h0m-1 6h0m-2 0h0m-2-10h0m-.5 8h0m-1-3h0m-5-3.5h0m-1.5 6.5h0m-.5.5h0m-1-.5h0m-1-1.5h0m0 4.5h0m-.5-6.5h0m-1.5-3h0m-1 5.5h0m-1.5-5h0m-.5 7.5h0m0 1h0m-.5-11h0m-.5 5.5h0m-.5-2h0m0 3.5h0m-.5 1h0m-2-2.5h0m0 6h0m-1.5-8h0m0 6h0m-1.5 1.5h0m-.5-2.5h0m-.5.5h0m0 2h0m-.5-10.5h0m-.5 10h0m0 1h0m-1.5-8h0m0 5h0m-.5 1.5h0m-1-2h0m-1.5-7.5h0m0 10.5h0m-1.5-9h0m-2.5 4.5h0m-.5-2.5h0m-.5 6.5h0m0 1h0m-.5-10.5h0m-1 2h0m-1.5 3h0m0 0h0m-1.5 5h0m-.5-6.5h0m0 .5h0m-.5 3.5h0m-.5 2.5h0m-.5-5.5h0m-.5-2.5h0m-1 2.5h0m0 4.5h0m-.5-7.5h0m-.5 0h0m-.5-1.5h0m0 10h0m-.5-2.5h0m-.5-8.5h0m0 6h0m-.5-5h0m-.5-.5h0m0 1.5h0m0 8.5h0m0 1h0m-1.5-6.5h0m0 1.5h0m-.5 0h0m-1 2.5h0m-.5-8.5h0m0 10.5h0m-1 .5h0m-1.5-.5h0m-.5-7h0m-.5.5h0m-.5-2h0m0 4.5h0m0 2h0m0 1.5h0m-.5-9h0m0 9.5h0m-1-3h0m-.5-1h0m-.5-.5h0m-1 1h0m-.5 1.5h0m0 2.5h0m-2-9.5h0m-.5.5h0m-1 .5h0m0 7.5h0m-.5-6.5h0m0 1.5h0m0 1.5h0m-1-6.5h0m-.5 7.5h0m-.5-1h0m-1.5-3h0m-1.5 6h0m-.5-4.5h0m-.5 4.5h0m-.5-4.5h0m-.5 0h0m0 4h0m-1.5 1h0m-.5-.5h0m0 1h0m-2-9h0m0 2.5h0m-.5-1.5h0m-3 2.5h0m-1-1.5h0m-.5-1h0m0 0h0m-1 0h0m0 6.5h0m-.5-8.5h0m0-.5h0m-.5 1.5h0m-1-1h0m0 3h0m0 7h0m-1-10h0m0 10h0m-1-3.5h0m-2.5 4h0m-.5-6h0m0 4h0m-1-3.5h0m-.5-6h0m-1 2.5h0m-1.5 2.5h0m-1.5-4h0m0 8h0m-.5-7h0m0 6.5h0m-1.5 2h0m-1-2.5h0m-.5-5h0m-.5-3h0m-2 7.5h0m-.5-6.5h0m-.5 7.5h0m0 1.5h0m-.5-.5h0m-.5.5h0m0 1.5h0m-1.5-3h0m-.5-7.5h0m0 6h0m-1-3.5h0m-.5 3h0m-2-3.5h0m0 2h0m-1-5h0m-.5 10.5h0m0 .5h0m-4-5h0m0 .5h0m0 3h0m-.5-3.5h0m-.5-5h0m-.5 6.5h0m-2.5-.5h0m-.5 0h0m0 1h0m0-1h0m-2 0h0m-1-2h0m-1-4.5h0m-.5 0h0m0 1.5h0m0 .5h0m-.5 5.5h0m0 2.5h0m-.5.5h0m0 0h0m-.5-9h0m-.5 1.5h0m-2.5 1h0m0 7h0m-2-9.5h0m-2.5 9.5h0m-.5-9.5h0m0 1.5h0m-.5-2.5h0m0 8.5h0m0 1h0m-1-6.5h0m0 2.5h0m-.5 2.5h0m-2 2h0m-1.5-6h0m-1 3h0m-.5-7.5h0m-1.5 1h0m-1.5 4h0m-2-5h0m-.5 8h0m-.5-2.5h0m-1 3.5h0m-1-8h0m0 1h0m0 3.5h0m-.5-3.5h0m-1 7h0m-.5-5.5h0m-.5 7.5h0m-.5-2.5h0m-.5-6h0m-.5 7.5h0m-.5 0h0m-1-4h0m-.5 3.5h0m-1.5-8.5h0m-1 5h0m-.5-6.5h0m0 10h0m-.5-1.5h0m-.5 2h0m-.5-2h0m-.5 1h0m-1.5-5.5h0m0 1.5h0m0 6h0m0 0h0m0 0h0m-1-7.5h0m0 0h0m-.5 0h0m0 3.5h0m0 4h0m-1-10h0m0-.5h0m0 8.5h0m-.5 2h0m-.5-3.5h0m-.5-4.5h0m-1.5 0h0m-1-3h0m-.5 7.5h0m-.5-1.5h0m0 2h0m-.5 2.5h0m-1.5-2h0m-1-6h0m-.5 7.5h0m-.5-9h0m-2.5.5h0m0 8h0m-1-7.5h0m-.5.5h0m-1 2h0m0 4h0m-1-8.5h0m0 2.5h0m-1.5-1h0m0 4h0m-.5-2h0m0 3.5h0m-.5 4h0m-.5-6.5h0m0 4.5h0m-.5-7.5h0m0 .5h0m0 1.5h0m-.5 5.5h0m-1-3h0m0 3h0m-.5-6.5h0m-.5 0h0m-.5-2.5h0m0 .5h0m-.5 2h0m-1 1.5h0m-1.5-1.5h0m-1.5 3.5h0m-.5-6h0m-1 7.5h0m-.5-4h0m-.5-4h0m-1 5.5h0m-.5-2h0m0 8h0m-.5-9h0m-1 2h0m-.5 0h0m-.5-2h0m0 2h0m0 1.5h0m0 1h0m-.5-.5h0m-1.5-5h0m0 2.5h0m-.5-4h0m0 4.5h0m-1.5 1.5h0m-1 2h0m0 2.5h0m-1-4.5h0m-.5 2h0m0 0h0m-1 2.5h0m-.5-9.5h0m-1 .5h0m-1 2h0m0 3.5h0m-1.5 3.5h0m-1-6h0m-.5 0h0m0 6h0m-.5-9h0m0 .5h0m0 9h0m-1.5-11h0m-.5 8h0m0 3.5h0m-.5-8h0m0 3h0m-1.5-4.5h0m0 2.5h0m0 .5h0m-1.5-5h0m-.5 9.5h0m-.5-9h0m0 10.5h0m-.5-5h0m0 1h0m-.5 3h0m-.5-7h0m0 5.5h0m-2-7h0m-2.5 8.5h0m-.5-9h0m-.5 6h0m-.5-2h0m-.5.5h0m-.5-3h0m0 5h0m-1-4.5h0m-.5-.5h0m0 3h0m0 4h0m-.5-8.5h0m0 1h0m0 8h0m-.5-5.5h0m-.5 6h0m-.5-2.5h0m0 1.5h0m-1.5-3.5h0m0 4h0m-1-9.5h0m0 5.5h0m-1 2h0m-.5-6.5h0m0 3.5h0m0 .5h0m0 1h0m0 0h0m-1-2.5h0m0 6.5h0m-1-6.5h0m-.5-3h0m-.5 6h0m-1 0h0m-1-6h0m-2 7h0m-1.5-3.5h0m-.5-1h0m0 4.5h0m-.5-6.5h0m-1-.5h0m-.5 5.5h0m-1 1h0m0 4h0m-1-11.5h0m-.5.5h0m0 3.5h0m0 1.5h0m-1 4h0m-.5-6h0m-2 .5h0m-1-1h0m-3 4h0m-.5-.5h0m0 2.5h0m-1-1.5h0m-1-.5h0m0 .5h0m0 .5h0m-.5-6h0m-1 6.5h0m-.5.5h0m0 .5h0m0 .5h0m-1-8h0m0 8h0m-.5-8h0m0 2.5h0m0 6h0m-1-3h0m0 3h0m-.5-8.5h0m0 3.5h0m-.5 4.5h0m-.5-8h0m0 3.5h0m0 2.5h0m0 2h0m-1.5-2h0m0 2.5h0m-3-1.5h0m-1-.5h0m0 0h0m-.5-.5h0m-1-8h0m0 8.5h0m-1-7h0m0 5.5h0m-1.5-2.5h0m-.5 4h0m-.5-4.5h0m-1-2.5h0m-1 1.5h0m0 1h0m0 0h0m-1.5 0h0m-1.5 4.5h0m-.5-4.5h0m-1.5 2h0m-1 4h0m-.5-2.5h0m-.5-2h0m-.5-4.5h0m-.5 1.5h0m-1.5 0h0m-.5-1.5h0m-.5 2.5h0m-1.5 4.5h0m0 1.5h0m-.5-4.5h0m0 1h0m-1-6h0m-.5 3h0m0-1h0m0 6h0m-.5-5h0m-.5-3h0m-.5 6h0m-.5-.5h0m0 1h0m0 4h0m0 .5h0m-.5-8h0m-1 1h0m0 4h0m0-.5h0m0 1h0m-1.5 1.5h0m-.5-10h0m0 6h0m-.5-1.5h0m-.5 0h0m-.5.5h0m-2-4h0m0 4.5h0m-.5-1.5h0m0 .5h0m0 5.5h0m-.5-4h0m0 2.5h0m-1.5-7h0m0 1.5h0m0 5h0m-.5 2h0m-1-9h0m0 5.5h0m-2-.5h0m-.5 5.5h0m-1-4h0m-.5-4.5h0m-.5 8h0m-.5-5.5h0m-1-4h0m-.5.5h0m0 .5h0m-.5-2h0m0 7h0m-.5-1.5h0m0 5h0m-.5-2h0m-2.5-.5h0m0 0h0m-.5-6h0m0 6h0m-.5-7h0m0 4.5h0m-.5 4h0m-1.5-3.5h0m-.5-6.5h0m-.5 9h0m-2 .5h0m-1.5-8h0m-.5 1.5h0m0 2.5h0m-.5-5.5h0m0 5.5h0m-.5 2h0m0 1h0m-1-.5h0m-1.5-7h0m-2 .5h0m0 3h0m-.5 6h0m-.5-7.5h0m-1 3.5h0m-.5-6.5h0m0 5.5h0m0 5.5h0m-1-2.5h0m-1.5-1h0m0 2h0m-1-9.5h0m0 10h0m-2-8h0m0 5h0m0 .5h0m-2-1.5h0m-.5-2h0m0-1h0m0 7.5h0m-1-6h0m-.5 3h0m0 1.5h0m-1-6.5h0m0 .5h0m0 2h0m-1 5h0m0 .5h0m-.5-8h0m-1-2.5h0m0 4h0m0 4.5h0m-1-8h0m-1 4h0m-.5 4.5h0m0 0h0m0 2h0m-.5-5.5h0m-.5 3h0m0 1.5h0m-1.5-1.5h0m-1.5-6.5h0m-1 6.5h0m-.5-8h0m-2 6h0m-1.5-1h0m-.5-4h0m-1 7.5h0m0 1h0m-1-8h0m0 1.5h0m-1 7h0m-.5-9h0m0 7.5h0m-.5-5h0m-2.5-1.5h0m-1.5 9h0m-.5-5h0m-1 2.5h0m0 2.5h0m-.5-10h0m-.5 0h0m-1 6h0m-.5-1.5h0m0 1h0m-1.5-3h0m0 5.5h0m-.5-9.5h0m-1 7.5h0m0 3.5h0m-.5-4h0m0 1h0m-.5-3.5h0m0 5.5h0m0 .5h0m0 .5h0m-.5-1.5h0m-.5-3h0m-1-2.5h0m-.5 5h0m-.5-4h0m-1-.5h0m-.5 4.5h0m-.5-7.5h0m0 1h0m0 6.5h0m-1.5-3.5h0m-1.5 2h0m-3-4h0m0 4h0m0 2h0m-1-7h0m-.5-2.5h0m0 2.5h0m-1 1.5h0m-.5 6h0m-1-9.5h0m0 3h0m-.5.5h0m-3.5 5h0m-1-8h0m0 1.5h0m0 3h0m-.5-4.5h0m0 8h0m-.5-5.5h0m-.5 1h0m0 1h0m-1 5.5h0m0 .5h0m-.5-7.5h0m0 6.5h0m-1.5-2h0m-3-3h0m-1 5.5h0m-.5-5h0m0 5h0m-.5-5h0m0 .5h0m-2-1.5h0m-1 3h0m-.5 3h0m-.5-11h0m0 2h0m-5-2h0m-2.5 7h0m0 3h0m-5.5-10h0m10.5 12.5h0m2 .5h0m2 9.5h0m1-.5h0m1-8.5h0m1.5 3h0m0 6h0m.5-5h0m.5-3h0m0 9h0m1-10h0m.5 7h0m0 1.5h0m.5-.5h0m1-9.5h0m0 1.5h0m0 10h0m.5-3.5h0m1.5-1.5h0m0 3.5h0m1.5-.5h0m1-2h0m.5 1.5h0m.5-6h0m0 1h0m1 1.5h0m1 0h0m0 .5h0m1.5 4.5h0m1-7.5h0m3 4.5h0m1-6h0m0 7h0m.5-4h0m1.5-1.5h0m0 3h0m0 1h0m.5-.5h0m.5 3h0m1-7h0m0 .5h0m1.5 6h0m.5-.5h0m2-4.5h0m.5-2.5h0m0 6.5h0m0 3h0m1.5-3h0m.5 1h0m.5-8.5h0m0 3.5h0m0 5h0m.5-8h0m0 1.5h0m0 6.5h0m.5-3h0m.5 1h0m0 0h0m.5-3.5h0m.5-3.5h0m0 8h0m0 3.5h0m.5-10.5h0m0 5h0m1-3h0m0 5.5h0m.5 2.5h0m.5-10h0m0 9.5h0m.5-8.5h0m.5 3h0m.5-3h0m0 3h0m1.5 4.5h0m0 2h0m.5-9h0m1 7.5h0m.5 1.5h0m2-1h0m.5-9h0m0 2.5h0m.5-3h0m0 4.5h0m.5 0h0m1-2.5h0m0 4.5h0m.5-5h0m1-1h0m1 6h0m.5-2h0m0 1.5h0m0 .5h0m1 2h0m.5-2h0m.5 3h0m1-4h0m.5-4.5h0m.5-2h0m1 0h0m1.5 8.5h0m1-6.5h0m2-2h0m0 4h0m.5 0h0m.5-3h0m0 3h0m1 7.5h0m.5-7h0m0 0h0m.5 4h0m1-7.5h0m.5 7.5h0m.5-4h0m0 4.5h0m0 2h0m.5-3h0m1.5-4h0m0 .5h0m.5-3h0m1 10h0m.5-2h0m3.5-8h0m0 6h0m.5-6.5h0m.5 7.5h0m0 .5h0m.5 2h0m1 .5h0m.5-9h0m2 3h0m0 0h0m.5-.5h0m.5 2.5h0m.5-4.5h0m2 4h0m.5-3h0m.5-.5h0m.5-1.5h0m.5 9h0m0 0h0m.5.5h0m.5-.5h0m2.5-7.5h0m1.5-2h0m0 3.5h0m4 5.5h0m.5-7.5h0m.5-.5h0m0 6h0m1-7.5h0m0 2.5h0m0 6.5h0m1-2.5h0m0 2.5h0m0 1.5h0m.5-3.5h0m0 1.5h0m.5-7.5h0m.5 0h0m0 9.5h0m.5-7h0m.5 2.5h0m.5 3.5h0m0 .5h0m.5-10.5h0m1 1.5h0m0 1h0m2-2.5h0m1.5 9.5h0m0 1h0m.5-5h0m0 4h0m1-3h0m2-.5h0m2-3.5h0m0 8h0m.5-9h0m0 8.5h0m0 0h0m1 1h0m.5-11.5h0m.5 5h0m1 5.5h0m.5-1.5h0m.5-6.5h0m.5-.5h0m0 4h0m.5 2h0m.5-1h0m0 2.5h0m2-7h0m1.5-.5h0m0 6h0m.5 3.5h0m2-7h0m.5 4h0m.5-4.5h0m0 2h0m2-1h0m0 0h0m2-5h0m0 3h0m0 4.5h0m1-5.5h0m.5 3h0m.5 4.5h0m.5-6.5h0m.5-1.5h0m.5 0h0m.5 1h0m0 9h0m1-8h0m1.5 4.5h0m.5-1h0m.5 1.5h0m.5-4h0m.5 2h0m.5 1.5h0m.5-6h0m0 6h0m.5-6h0m.5 8h0m0 1.5h0m.5-7.5h0m.5-3.5h0m.5 4.5h0m1.5-1h0m1-2.5h0m0 2.5h0m2-3.5h0m.5 1.5h0m1.5 9.5h0m.5-11h0m0 5.5h0m.5-2.5h0m0 4.5h0m1 3h0m.5-9.5h0m0 6h0m1-3.5h0m0 1h0m1 3.5h0m1.5-6h0m0 2.5h0m.5 3.5h0m1-5.5h0m0 7h0m.5-10h0m.5 4.5h0m0 5h0m.5 1.5h0m.5-1.5h0m.5-8.5h0m0 6.5h0m0 1.5h0m.5 2.5h0m2-8h0m0 8h0m.5-6h0m.5-.5h0m0 2.5h0m.5 4h0m.5-1.5h0m.5-8h0m0 3h0m.5-3h0m1.5 6.5h0m0 2h0m.5-2.5h0m1 2.5h0m.5-7h0m0 8h0m.5-7h0m2-2.5h0m2 .5h0m1.5 5h0m.5-6h0m1 0h0m.5 6h0m.5-2h0m.5 6h0m1-11h0m0 1.5h0m1 3h0m1-4h0m.5.5h0m.5-1.5h0m.5 3.5h0m2.5-2.5h0m1 2h0m1.5.5h0m0 5h0m2-5h0m0 4.5h0m1-4.5h0m2.5-2.5h0m0 4h0m.5 1h0m0 1h0m.5 1h0m0 .5h0m.5-6.5h0m.5 3.5h0m.5-.5h0m.5 4h0m1.5-4h0m0 1h0m0 5.5h0m1-6.5h0m.5 4.5h0m.5 0h0m1 .5h0m.5 0h0m1.5-4h0m0 3h0m1.5-7h0m.5-1.5h0m0 2.5h0m1.5-1h0m0 6h0m0 3h0m0 .5h0m.5 0h0m.5-1h0m2.5 0h0m.5-10.5h0m0 2h0m0 7h0m0 0h0m1.5-2.5h0m.5 3.5h0m.5-6.5h0m0 2.5h0m0 2.5h0m.5-6h0m.5 7.5h0m1-7h0m0 4.5h0m1.5-7.5h0m0 0h0m0 1.5h0m0 4h0m1-.5h0m1 3.5h0m.5 1h0m1-6.5h0m0 1h0m.5 3h0m0 4h0m.5-9h0m1.5 6.5h0m0 1h0m1.5-3h0m0 1.5h0m.5-6h0m.5 6.5h0m.5-8.5h0m0 8h0m2 2.5h0m1-6.5h0m1-2.5h0m0-.5h0m0 2h0m0 1h0m.5.5h0m.5-3.5h0m0 9.5h0m1.5-3.5h0m.5-3.5h0m.5 5h0m1-1h0m0 0h0m0 .5h0m0 3h0m.5-5h0m.5-2.5h0m0 .5h0m.5 1.5h0m.5-4.5h0m.5 2h0m0 2.5h0m1-4.5h0m0 3.5h0m1-3h0m0 2.5h0m.5-2.5h0m1 4h0m0 3.5h0m.5-4h0m0 5h0m.5-10h0m0 11h0m.5-.5h0m1.5-10.5h0m.5 4.5h0m2.5-4h0m.5 6.5h0m.5-4h0m0 2.5h0m1.5-5h0m.5 10h0m1.5 0h0m1-7h0m1 2h0m1-5.5h0m0 4.5h0m.5-4h0m0 6h0m0 1.5h0m1 1h0m1-4.5h0m1 1.5h0m1 1.5h0m1 2h0m.5 1.5h0m2.5-7.5h0m0 5h0m1 0h0m1.5-3.5h0m1 4h0m0 1.5h0m.5 0h0m1.5-.5h0m.5-1.5h0m3-3.5h0m.5-1.5h0m.5 5h0m1-6h0m2 5h0m1.5-3.5h0m.5 1h0m.5-1.5h0m.5 2h0m2.5-2h0m0 6.5h0m.5-1.5h0m1-2.5h0m1-1.5h0m.5-2h0m2.5 5h0m1.5 4h0m0 0h0m.5 0h0m.5-7.5h0m.5-4h0m.5 7h0m1 2h0m0 2h0m.5-5h0m1-6h0m.5 8h0m0 .5h0m2 .5h0m0 2.5h0m.5-10.5h0m1 8.5h0m0 1h0m.5-5.5h0m0 4.5h0m1-8.5h0m1 6h0m0 0h0m0 1h0m.5-6h0m0 2h0m1.5 3h0m1 3.5h0m.5-7.5h0m.5-3h0m0 6.5h0m.5 2h0m.5-2.5h0m0 2h0m.5-5.5h0m.5 2.5h0m.5 6.5h0m1-6h0m.5-4h0m.5 8h0m1 0h0m1.5-9h0m0 0h0m0 4h0m0 6h0m1.5-5h0m.5-5h0m0 5h0m0 0h0m.5 2h0m.5-1h0m.5-1h0m0 3h0m0 1h0m0 2h0m.5-6h0m.5-2.5h0m.5 5.5h0m1-1.5h0m.5-3.5h0m0 1.5h0m.5-5h0m0 2.5h0m0 8h0m1-2.5h0m.5 3h0m.5 0h0m.5-10h0m0 2.5h0m0 5h0m0 1.5h0m.5-6h0m.5-3h0m0 1.5h0m1 .5h0m0 1.5h0m0 4.5h0m2-7h0m0 6.5h0m1-6.5h0m1 8h0m3-1h0m.5-6.5h0m0 1.5h0m0 4h0m1 3.5h0m2.5-8h0m1 2h0m2 3.5h0m0 0h0m1.5 1.5h0m.5-6.5h0m.5 0h0m2-4h0m0 2.5h0m0 .5h0m0 8h0m1-5.5h0m.5-2.5h0m2.5-.5h0m.5-1h0m2 9.5h0m0-1h0m2.5-5.5h0m1 .5h0m0 6h0m1-6h0m.5-2.5h0m0 4.5h0m0 2h0m1.5-5.5h0m.5 3.5h0m0 3h0m.5-4.5h0m.5 1h0m0 4h0m0 1h0m2-7.5h0m2 .5h0m.5.5h0m1 4h0m.5-2.5h0m.5-6h0m0 4h0m0 1.5h0m1-5.5h0m0 3.5h0m1 0h0m.5.5h0m0 5h0m.5-8.5h0m0 4h0m0 4.5h0m0 .5h0m0 0h0m.5-3.5h0m0 4h0m0 1h0m1.5-7h0m0 7h0m.5-8.5h0m0 7h0m.5 1.5h0m1-9.5h0m0 3h0m.5-1h0m.5 1h0m.5-2h0m0 2h0m1-3.5h0m1 9.5h0m.5-10.5h0m1.5 0h0m.5 9h0m.5 0h0m1-5h0m.5-4.5h0m1.5 5.5h0m0 4.5h0m1-9h0m0 3.5h0m.5 2.5h0m.5-6h0m1 1.5h0m0 3.5h0m0 4h0m0 1.5h0m.5-1.5h0m1.5-7.5h0m0 3h0m.5-.5h0m0 1.5h0m.5 4h0m.5-9h0m0 7.5h0m.5 1h0m4-5.5h0m0 6.5h0m2-6h0m6.5 3h0m2.5 1h0m3-.5h0m3 2h0m.5-3.5h0m.5-5.5h0m0 8.5h0m.5-7.5h0m2-1.5h0m0 1.5h0m1.5 7.5h0m1.5-9.5h0m0 3.5h0m.5-1h0m0 4h0m1-7h0m1 3h0m1.5 0h0m2.5-1h0m0 5.5h0m2-7.5h0m8 8h0m4.5-5.5h0m13.5 8.5h0m4 2h0m-39.5 1.5h0m-1 3.5h0m-3 2h0m-2.5-5h0m-1.5 4h0m-2-3.5h0m-.5 3.5h0m-.5 2h0m-.5-3.5h0m-.5 0h0m-1.5-5.5h0m0 5.5h0m0 6h0m-1-10h0m-.5 1h0m-3.5 1.5h0m0-.5h0m-3-1h0m-2 2.5h0m-1 4.5h0m-.5-7h0m0-.5h0m-.5 0h0m0 5.5h0m-1-3h0m-.5 6h0m-1.5-9.5h0m-.5-.5h0m0 8h0m-.5-4h0m-.5-2.5h0m0 5.5h0m-.5-7.5h0m0 6.5h0m-.5 1h0m0 3h0m-.5-9h0m-1 10h0m-1-4h0m0 2.5h0m-.5-8h0m-2 4.5h0m0 1h0m0 .5h0m-.5-7h0m-1.5 3h0m0 5.5h0m-1-8.5h0m0 3.5h0m0 3.5h0m-.5 1.5h0m-1-6.5h0m-1 2h0m0 3.5h0m-1-4h0m-.5 3h0m0 .5h0m-.5-6h0m-1 6h0m-1.5-2.5h0m-.5 3h0m-.5-8.5h0m-.5 1h0m0 6h0m-.5-4h0m0 4.5h0m-1 2h0m-1-8.5h0m0 3.5h0m-1 4.5h0m-1.5-1h0m-1-4h0m0 5.5h0m-1-6.5h0m-.5-2.5h0m0 1.5h0m-.5-2h0m-.5 11h0m-2-4.5h0m-1.5 0h0m-1-6.5h0m0 1h0m-1 6.5h0m0 3h0m-3.5-1h0m-.5-.5h0m-.5-3h0m0 4.5h0m-1-9.5h0m0 10.5h0m-.5-3.5h0m-.5-8h0m-.5 8h0m-.5-8h0m0 0h0m0 9.5h0m-2-3.5h0m-1 3h0m-.5-2h0m-.5 4h0m-1-9.5h0m-1-1.5h0m-1 1h0m-1 0h0m0 1.5h0m-1 2h0m0 3.5h0m-1-6.5h0m0 9h0m-2 .5h0m-1-7h0m-1.5 7h0m-1-6.5h0m0 6h0m-2-3.5h0m-.5-2h0m-2-4.5h0m0 0h0m-.5-.5h0m-2 4h0m0 1.5h0m-1-2h0m-1 5h0m-1 0h0m0 3h0m-1-8.5h0m-.5 3.5h0m-.5-1.5h0m-.5 4h0m-1.5-6.5h0m0 4.5h0m-.5-5h0m-.5 4.5h0m-.5.5h0m-1 2h0m0 0h0m-.5-5h0m0 2.5h0m-.5-.5h0m-.5-5.5h0m-1 3h0m-1 1.5h0m-.5-4.5h0m-1.5 3.5h0m0-.5h0m-.5-1.5h0m0 4h0m-1-4h0m0 9h0m-3-4h0m-1 1h0m0 3h0m-1 0h0m-2-6h0m-.5 4.5h0m-.5-3h0m0 4h0m-.5-5.5h0m0 1.5h0m-.5-6.5h0m0 3h0m0 8h0m-.5-4.5h0m0 1.5h0m-.5-3h0m-1 5.5h0m-.5 1h0m-.5-2.5h0m-1-1.5h0m-2-3.5h0m0 3.5h0m-1 0h0m0 3.5h0m-1.5-5.5h0m0 1h0m-1 2.5h0m0 2h0m-.5-9.5h0m0 2h0m0 4h0m-.5-4h0m-.5 7.5h0m-1-5.5h0m-.5 2.5h0m-.5-3.5h0m-1-3h0m-.5 8h0m-1 1h0m-.5-9h0m0 9h0m0 .5h0m-.5-5.5h0m0 1.5h0m-.5 0h0m0 1.5h0m-1-6h0m0 4.5h0m-.5-5h0m0 3h0m-1 1h0m-1 4.5h0m-2-6.5h0m0 6.5h0m-.5-10h0m-.5 8h0m-1-6h0m0 3.5h0m-1-5h0m-1-.5h0m0 7.5h0m-.5-2.5h0m-.5-4.5h0m0 8h0m-2-8.5h0m-.5 2h0m-.5-2h0m-.5 5h0m-1 1.5h0m0 3h0m-.5-5.5h0m-.5 3h0m0 .5h0m-.5 1h0m-1-5.5h0m-.5.5h0m-1-.5h0m0-.5h0m-1 7.5h0m-1-5.5h0m-1-.5h0m0 2.5h0m0 1h0m-1.5-7h0m-1.5 7.5h0m-.5-4.5h0m0 2.5h0m0 2h0m0 3h0m-.5-8.5h0m-2 2.5h0m-2.5 5h0m-1-4.5h0m-1.5 2.5h0m-1-7.5h0m-1.5-1h0m0 3.5h0m0 2h0m-1.5-3h0m-1.5 8h0m-1-4.5h0m-.5 1h0m0 0h0m-.5-2.5h0m-1 2h0m-.5-3.5h0m-3-2h0m0 6.5h0m-2-2.5h0m0 3h0m-.5-3h0m-1.5 2h0m-1.5 1h0m-.5 2.5h0m-1.5-1h0m-.5-7h0m0 3h0m-1 0h0m-.5-3h0m0 3h0m-.5 6h0m-.5-7.5h0m0 7.5h0m-2-1.5h0m-1-9.5h0m0 3.5h0m-2 6.5h0m-.5.5h0m-.5-6h0m-.5 0h0m0-.5h0m0 3.5h0m-.5.5h0m-1 1.5h0m-1-2h0m0 1h0m-.5-3h0m-1-5h0m-.5 1.5h0m-1 8h0m-.5-6h0m-2-4h0m0 2h0m0 7.5h0m-1-8h0m0 9h0m-1-8h0m-.5.5h0m-.5 7.5h0m-1-6h0m0 1.5h0m0 .5h0m-1-5.5h0m0 5h0m-.5 1.5h0m0 2h0m-.5-3.5h0m-.5-3h0m-1 3.5h0m-1 3h0m-1 1h0m-1-8h0m-.5 4h0m-1.5 4h0m-1.5-2h0m-.5-6h0m-.5.5h0m-.5 6.5h0m-1-7.5h0m-.5-.5h0m-.5 3.5h0m-.5.5h0m-.5-5.5h0m0 3h0m-1 2.5h0m-1 .5h0m-.5 4h0m-.5-7h0m0 7.5h0m-.5-6.5h0m0 1.5h0m-.5-.5h0m0 4.5h0m-1-10h0m-.5 3.5h0m0 5.5h0m0 1h0m-.5-10h0m-.5 7h0m-.5-5.5h0m0 9.5h0m-.5-7.5h0m0 4.5h0m0 .5h0m-.5 2.5h0m-.5-1.5h0m0 0h0m-2 .5h0m-2-3.5h0m-4-5h0m0 10h0m-.5-6.5h0m-.5-2.5h0m-1 6h0m-.5 0h0m-1.5-2.5h0m-2-3h0m-.5 4.5h0m-1-4.5h0m0 7.5h0m0 0h0m-1-8h0m-1 2h0m-2-4h0m0 4h0m0 2h0m-1-6h0m-2 9.5h0m0 .5h0m-1-2.5h0m-.5-4h0m-.5-.5h0m0 1h0m-1-4.5h0m-.5 6.5h0m-.5-2.5h0m-.5 3.5h0m0 2h0m-.5-8.5h0m-.5 3h0m-1 1.5h0m0 2h0m-.5-7h0m-1.5 2h0m-3.5 8h0m-1-8.5h0m-.5 8h0m-.5-9h0m0 4.5h0m0 3h0m-1-1.5h0m-1.5-.5h0m0 4.5h0m-1-3h0m0 .5h0m-.5 1h0m-.5-4.5h0m0 1h0m0 3.5h0m-1.5-2h0m-1-4.5h0m-1 1h0m0 .5h0m0 4.5h0m0 2.5h0m-1.5-5h0m-.5 0h0m-1-1.5h0m-.5-3h0m0 3.5h0m-.5-5.5h0m0 9.5h0m-5.5-9h0m0 .5h0m-.5 9h0m-1-4h0m-1.5 4.5h0m0 0h0m-.5-5.5h0m-.5 0h0m-1-4h0m0 8.5h0m0 0h0m-1-6h0m0 2h0m-1-3h0m0 6.5h0m0 0h0m-1 1.5h0m0 .5h0m-1-9.5h0m-1 .5h0m0 3h0m-.5-1.5h0m0 2.5h0m-.5 0h0m-.5 3.5h0m0 1.5h0m-1-5h0m-1-4.5h0m0 3.5h0m-.5 5.5h0m0 .5h0m-1.5-7h0m0 7.5h0m-1-7h0m-.5 2.5h0m-.5.5h0m-.5.5h0m0 1h0m0-1h0m0 2.5h0m-.5-6h0m0 2.5h0m0 1h0m-.5-.5h0m-2.5-4h0m-3.5 5.5h0m-.5-.5h0m-1-5h0m-2 1.5h0m-1 6.5h0m-.5-11h0m-1 2.5h0m-.5-2h0m0 2h0m-1.5 3h0m-.5-3h0m0 8h0m-1-2.5h0m-.5 2h0m-1.5-6.5h0m0 .5h0m0 1.5h0m-1 2h0m-.5-6.5h0m0 2h0m-.5-2h0m-2-1h0m-1 6h0m-.5-2h0m-.5-3h0m-.5 3.5h0m-1.5-4.5h0m0 1.5h0m-.5 8h0m-.5-7h0m-.5 8.5h0m-.5-8h0m0 6h0m-2.5-8h0m-.5 2.5h0m0 6.5h0m-1-9h0m-.5 3.5h0m-1-2h0m0 5.5h0m-.5-.5h0m-.5-2.5h0m-.5-.5h0m-1.5 1h0m0 5h0m-.5-4.5h0m0 4.5h0m-.5-9.5h0m-.5-1h0m0 2h0m-1-1h0m-1-.5h0m-.5 7.5h0m-1-7h0m0 3h0m-1-1h0m0 2h0m-1-4h0m0 9h0m-1-7h0m-.5-2.5h0m0 9h0m-2-7.5h0m-.5 1.5h0m-.5-3h0m-1 2h0m-1.5-3h0m-.5 8h0m0 1.5h0m-2-8.5h0m0 3.5h0m-.5-4.5h0m0 5h0m-.5 0h0m-.5-1h0m0 2h0m-1 1h0m-.5 1.5h0m-.5-5.5h0m-1 3.5h0m-.5 2h0m-.5-3h0m-.5 4h0m-.5-7h0m-.5 6h0m-.5-7.5h0m0 7.5h0m-.5-3.5h0m-.5 1.5h0m-.5-5h0m-.5 4h0m-1 1h0m-.5-4.5h0m-2 2.5h0m-.5-1.5h0m-.5 2.5h0m-.5-5.5h0m-.5 7h0m-.5 4.5h0m-2-9h0m-1.5-1.5h0m-.5 9.5h0m0 .5h0m-.5-10h0m0 .5h0m0 1.5h0m-1 7h0m-.5-10h0m-.5 2.5h0m0 2h0m-1 4.5h0m-.5 2h0m-1-1h0m-.5-7h0m-1-1h0m0 1.5h0m-.5 4h0m-1.5-6h0m-.5 7.5h0m-.5-6h0m0 2h0m-.5 2.5h0m-1 0h0m-.5 1.5h0m-.5 1.5h0m-.5-7.5h0m0 5.5h0m-1-1h0m-.5-6.5h0m-1 7.5h0m-1.5-3.5h0m0 6.5h0m-.5-11.5h0m0 3h0m-2.5 6h0m-4.5.5h0m-3-7.5h0m-1.5-1.5h0m-1.5 0h0m8 17.5h0m1.5-5h0m2 10h0m7-7.5h0m1 4.5h0m.5-2.5h0m1-3h0m0 2.5h0m.5 0h0m1 1h0m.5-2.5h0m.5 1h0m1 3.5h0m1.5 0h0m1-5h0m.5 1h0m0 .5h0m1 4h0m1.5-3h0m0 2.5h0m1-.5h0m0 3.5h0m1-8h0m1.5 4.5h0m1-6.5h0m0 5.5h0m0 4h0m.5-7.5h0m.5 6h0m.5-9h0m0 10.5h0m.5-10.5h0m1.5 6.5h0m.5 1h0m1.5-6h0m1 .5h0m0 3.5h0m.5-3h0m0 1.5h0m0 3h0m0 0h0m0 1h0m0 .5h0m.5 3h0m1-9.5h0m0 7h0m1-7h0m.5 1.5h0m.5-3.5h0m.5 6.5h0m.5-4h0m0 6.5h0m0 1.5h0m1-5.5h0m1-4h0m1.5.5h0m.5 7.5h0m.5-1h0m0 3.5h0m1.5-11.5h0m.5 7.5h0m0 2.5h0m.5-4.5h0m2.5-1h0m0 1.5h0m0 2.5h0m.5-.5h0m1-4.5h0m0 6h0m.5-9h0m0 11h0m.5-6.5h0m0 1.5h0m.5 3h0m1.5-7.5h0m0 .5h0m1 4.5h0m2.5-.5h0m.5 5h0m1.5-6.5h0m0 4.5h0m.5-5h0m.5 1.5h0m.5 4.5h0m1 1h0m.5-8.5h0m1.5-1h0m0 3h0m1-4h0m0 7.5h0m1 2.5h0m.5-8.5h0m.5 2h0m1.5-3.5h0m0 4h0m2.5 3h0m.5-3h0m1.5 1h0m1-4.5h0m0 8.5h0m1-9.5h0m.5 1.5h0m.5-1h0m.5 5h0m.5 3.5h0m.5-2h0m1 0h0m.5-2.5h0m.5 5h0m.5-2.5h0m.5-7h0m0 11h0m.5-10h0m1 6.5h0m2-7h0m0 9h0m2-4h0m1 2.5h0m.5-7h0m.5 10h0m1-.5h0m.5-3h0m1 2h0m1-.5h0m0 1.5h0m.5-4.5h0m1.5 0h0m0 .5h0m1 2h0m1.5-8.5h0m1 2.5h0m1.5-1h0m.5 1h0m1 1.5h0m0 4.5h0m.5-5.5h0m0 7.5h0m.5-9.5h0m0 4.5h0m0 5.5h0m.5-3.5h0m1.5-8h0m0 1.5h0m1.5 6h0m1.5.5h0m1.5-7h0m1 5.5h0m1-3h0m.5 3.5h0m0 0h0m.5-3.5h0m.5 2h0m0 4h0m0 1h0m.5-7.5h0m1.5-1h0m.5-.5h0m0 0h0m0 9.5h0m1-9.5h0m0 10h0m1-1h0m1.5-2h0m.5-4.5h0m.5 6.5h0m.5-10h0m0 7.5h0m.5-1h0m0 2h0m.5-8h0m.5 3h0m0 4h0m1-5h0m0 4.5h0m.5-3h0m0 6.5h0m.5-.5h0m.5-.5h0m1-3h0m.5 1.5h0m1-.5h0m1.5-8h0m.5 5h0m0 2.5h0m0 2h0m0 1.5h0m1-2h0m.5-2.5h0m0 1h0m0 1h0m1.5-.5h0m.5 3h0m.5-2.5h0m0 2.5h0m1-1h0m.5-6.5h0m2 2.5h0m0 5.5h0m.5-9.5h0m0 2h0m0 1.5h0m.5 5h0m.5-7h0m.5 5h0m1-5.5h0m.5 6h0m1-7h0m1.5 8h0m1-4.5h0m1 4.5h0m.5-2.5h0m.5-4.5h0m1.5.5h0m0 7.5h0m.5-3.5h0m0 3h0m.5-3h0m0 1.5h0m1.5-7.5h0m2 5.5h0m.5 4h0m.5-8.5h0m1-1h0m0 3h0m1-4.5h0m.5 10h0m1 0h0m.5-7h0m1 8.5h0m0 0h0m1-6.5h0m1 3h0m1 2h0m.5 1h0m0 .5h0m.5-9.5h0m.5-1h0m.5.5h0m0 4.5h0m.5 4h0m.5-3h0m.5-.5h0m1-6h0m.5 11h0m1.5-9.5h0m1.5 3h0m.5-2.5h0m1.5 2h0m0 5.5h0m.5-4.5h0m1.5 2.5h0m.5-4h0m2 3h0m.5-2h0m1-2.5h0m.5 4.5h0m.5-5.5h0m0 3.5h0m0 4.5h0m0 1h0m1-9.5h0m0 10.5h0m.5-10h0m.5 7.5h0m.5-6h0m.5 5h0m.5-4h0m0 7.5h0m.5-8.5h0m0 1.5h0m1 2.5h0m.5-3h0m0 2.5h0m0 5h0m0 0h0m1-5.5h0m.5 4h0m.5-6.5h0m0 3h0m.5-4h0m0 2.5h0m1.5-1.5h0m1-2h0m.5 4.5h0m0 5.5h0m1.5-1.5h0m1.5-10h0m0 3h0m0 3h0m.5-1h0m0 5.5h0m1.5-10.5h0m0 1h0m.5 7h0m.5.5h0m0 .5h0m.5-8h0m0 3.5h0m0 6h0m1 0h0m1-10h0m1 10.5h0m.5-3.5h0m.5-7h0m.5 9.5h0m0-1h0m.5-2h0m.5 4h0m1.5-10.5h0m.5 0h0m.5 1h0m0 3.5h0m.5-1h0m0 0h0m0 .5h0m0 7h0m1-9h0m.5 8.5h0m.5-6h0m0 .5h0m1 1.5h0m.5-6h0m.5 2.5h0m0 7h0m1.5-10.5h0m4 6h0m1.5-4h0m2-1.5h0m1.5 0h0m0 2.5h0m.5 3.5h0m1-6h0m0 5.5h0m0 3h0m.5-5.5h0m0 1.5h0m.5-1h0m0 7h0m.5-1h0m0 .5h0m1.5.5h0m.5-5.5h0m0 5.5h0m1-9.5h0m1 3.5h0m1-4.5h0m0 7h0m.5 3h0m.5-8h0m0 3h0m0 2h0m0 3h0m.5-6.5h0m.5 7.5h0m0-.5h0m.5-11h0m.5 5.5h0m.5 3h0m.5-7.5h0m0 10.5h0m.5-5h0m1-1.5h0m.5-4h0m.5 10h0m.5 0h0m.5-4h0m.5-5h0m0 5h0m1-7h0m1 11.5h0m.5-9.5h0m0 3h0m.5 2.5h0m.5-4h0m1-3.5h0m0 7.5h0m0 3h0m0 1h0m.5-11.5h0m0 4h0m0 7.5h0m0 0h0m1-3h0m.5-5h0m0 3h0m.5-6h0m0 6.5h0m.5-4.5h0m0 7h0m1-2h0m.5-3.5h0m.5-2h0m0 8.5h0m2.5-10h0m0 7.5h0m0 3h0m.5-3.5h0m0 0h0m1 1h0m.5-6h0m.5 1h0m2 7.5h0m1.5-11h0m1 10h0m2-9.5h0m.5 3.5h0m.5 3h0m.5-3.5h0m.5 1.5h0m0 5h0m1-5h0m0 5h0m1-7.5h0m.5-.5h0m0 8h0m.5-9h0m0 4h0m0 3h0m.5 3h0m1.5-4h0m0 0h0m1-4.5h0m1 3h0m1 .5h0m.5-4.5h0m0 1.5h0m.5 8.5h0m.5-4h0m.5-.5h0m0 1h0m1.5 1h0m2-6.5h0m0 4.5h0m1.5 1h0m.5 2h0m.5-10h0m.5.5h0m0 4.5h0m.5 4.5h0m.5-4h0m2.5-3.5h0m0 1h0m.5 8.5h0m1-6.5h0m0 6.5h0m.5-11h0m1.5 9.5h0m1 1.5h0m.5-6.5h0m.5 6.5h0m1.5-10h0m0 4.5h0m1-1.5h0m2 4.5h0m1-7.5h0m0 5.5h0m1-3h0m0 4h0m1 2.5h0m.5-8h0m.5 2h0m1 1.5h0m4-4h0m0 4.5h0m.5 3.5h0m.5-5.5h0m.5 4.5h0m.5 2.5h0m.5-11h0m1 5h0m.5 5.5h0m.5-2.5h0m1-8h0m0 1h0m0 5h0m1-6h0m0 4h0m1.5-1.5h0m0 2h0m0 5.5h0m.5-4.5h0m.5-3.5h0m.5 0h0m0 .5h0m0 4h0m.5-4.5h0m.5 0h0m1 6.5h0m.5-9h0m.5.5h0m.5 4.5h0m.5 1h0m0 2h0m0 3h0m.5-10.5h0m2 8h0m2-6h0m0 5.5h0m.5 3h0m.5-.5h0m.5-6h0m2 7h0m.5-4h0m1-1.5h0m1 3.5h0m0 .5h0m.5-8h0m.5 7h0m.5-3.5h0m.5-3h0m1 9h0m1.5-2.5h0m.5-3.5h0m.5 0h0m1 4.5h0m.5.5h0m.5-1.5h0m1-.5h0m0 2.5h0m.5.5h0m.5-11.5h0m0 1.5h0m1 4.5h0m1.5-3.5h0m0 9h0m1-2.5h0m1-7h0m.5 5h0m.5 3.5h0m.5-5.5h0m.5 2.5h0m0 .5h0m1-7h0m.5 2h0m0 5.5h0m.5-8h0m.5 3.5h0m1 2h0m0 5h0m1-4h0m.5 2h0m.5 1h0m1-4h0m1 4h0m.5-9.5h0m0 9.5h0m2.5-10h0m1 1.5h0m0 1h0m.5 2h0m1 4h0m.5-6h0m0 8h0m.5-10h0m0 2h0m0 4h0m0 .5h0m.5-3h0m0 3h0m0 3.5h0m.5-9.5h0m.5.5h0m0 3h0m0 3h0m.5 1.5h0m3-4.5h0m0 6.5h0m.5-.5h0m.5-7.5h0m.5 4h0m1-2h0m0 1.5h0m1.5-1h0m.5-5h0m.5 4.5h0m0 2.5h0m1 3h0m1-5h0m1-5.5h0m0 5h0m.5-5h0m0 4h0m0 7h0m2-10.5h0m2 3.5h0m1 7.5h0m2-10h0m.5 2.5h0m1-2h0m0 2.5h0m2.5 4h0m.5-8.5h0m1.5 9h0m.5-1h0m.5-7.5h0m0 6h0m1.5-3h0m1-3h0m1.5 0h0m2 0h0m0-.5h0m1 0h0m2 11h0m1-8h0m3.5 8h0m.5-3.5h0m2-4.5h0m0 6h0m262-5.5h0m3.5 2h0m15 2.5h0m13.5 2.5h0m.5 1h0m3-.5h0m29.5 0h0m4-.5h0m9-2h0m7.5-.5h0m2.5 0h0m.5-.5h0m1 3h0m1.5-6h0m2 3.5h0m.5-1.5h0m.5-3h0m0 0h0m.5 8h0m.5-8h0m.5 2.5h0m0 3h0m.5-8.5h0m0 7.5h0m1-2.5h0m0 .5h0m1.5-1h0m.5-1.5h0m0 8h0m.5-9h0m1-.5h0m0 1.5h0m2.5 6h0m0 2h0m.5-1h0m.5-2.5h0m.5-3.5h0m0 1.5h0m.5-5.5h0m.5 5h0m.5-1h0m.5 0h0m0 4.5h0m.5-6h0m0 8h0m.5-.5h0m.5-2h0m0-.5h0m0 1h0m1-1.5h0m0 3h0m1.5-6.5h0m0 1.5h0m1.5 5.5h0m5-1.5h0m0 1.5h0m.5-1h0m17 4h0m-4 7.5h0m0 1h0m-4 .5h0m-1-5.5h0m-1 5.5h0m-.5-5h0m-.5-3h0m0 5h0m0 .5h0m-1-4h0m0 1.5h0m-.5 5.5h0m-1.5-5h0m0 0h0m-1 .5h0m-.5 1h0m-.5-6h0m0 1h0m0 7.5h0m-1-8h0m0 2.5h0m-.5-1h0m-.5-1.5h0m0 6h0m-.5-8h0m-.5 10.5h0m-.5-10.5h0m0 4h0m0-.5h0m0 6.5h0m-1.5-7.5h0m0 4.5h0m0 1.5h0m0-.5h0m-2.5 2h0m-.5-7h0m-1 .5h0m0 .5h0m-1-4.5h0m0 9h0m-.5 1.5h0m0 .5h0m-.5-4h0m0 2.5h0m-1-8h0m0 6h0m-1-4.5h0m-.5 3.5h0m0 1.5h0m-1-2h0m0 2.5h0m-.5-6.5h0m0 2.5h0m-1.5-3h0m0 7h0m-.5-3.5h0m-.5 1h0m0 0h0m-.5 3.5h0m-.5 2h0m-.5-4.5h0m0 2h0m0 2.5h0m-2-11.5h0m0 4.5h0m-.5-2.5h0m-.5 6.5h0m-1-4.5h0m0 3.5h0m0 2.5h0m-1-2.5h0m0 1h0m-.5-.5h0m-.5-6.5h0m-.5-.5h0m0 6h0m-1-.5h0m0-.5h0m-1.5 5.5h0m-1.5-10h0m0 2h0m-7 2.5h0m0 5h0m-7.5-2.5h0m-5.5-6.5h0m-4.5.5h0m-1.5 7h0m-7-2h0m-.5 3h0m-.5-4.5h0m0 5.5h0m-2.5-6.5h0m-.5-2.5h0m-.5 3.5h0m0 5.5h0m-.5-2h0m-.5-2h0m-.5-5h0m0 5.5h0m-.5-4h0m-1 5h0m-.5 1.5h0m0 0h0m-1-7h0m0 0h0m0 2.5h0m-.5 2.5h0m-1.5-.5h0m-1-2.5h0m-.5-2h0m-.5 1.5h0m0 1.5h0m-1.5-3h0m-.5-.5h0m0 .5h0m0 1.5h0m-.5-3.5h0m-2.5 1.5h0m-.5 0h0m-.5 0h0m-7.5 7.5h0m-.5-9.5h0m-9.5 2h0m-7 6.5h0m-4.5 2h0m-9-.5h0m-2-.5h0m-3 .5h0m-257-5h0m-1.5-4h0m-.5-2h0m-1 8.5h0m-1.5-4.5h0m-.5-2h0m0 7.5h0m-.5-3.5h0m-1 1h0m0 3.5h0m-.5-10.5h0m-.5 9h0m-2.5-3.5h0m-1 4h0m-2.5-5h0m-3 .5h0m-1 1h0m-1.5 1h0m-1-4h0m-1-2.5h0m0 9h0m-1-8h0m-.5-1h0m0 1.5h0m0 .5h0m0 5h0m0 2.5h0m-.5-5.5h0m-1.5 1.5h0m-1 3.5h0m-.5-7.5h0m-.5 0h0m0 1.5h0m-.5 2h0m-1.5-3h0m0 2.5h0m-.5 3.5h0m-.5-2.5h0m-1.5-2h0m-.5-1.5h0m0 2.5h0m0 3.5h0m-.5 1.5h0m-1-6h0m-1-.5h0m0 .5h0m-.5 0h0m0 6.5h0m-.5-3h0m0 2.5h0m-1.5-9h0m0 9.5h0m-.5-7.5h0m-1 8.5h0m-.5-7.5h0m-1 4.5h0m-1-1.5h0m-.5 4h0m-.5-6h0m-.5-4.5h0m-1 1.5h0m0 5h0m0 2.5h0m-1.5-7h0m-.5 7h0m-.5-3.5h0m-1-3h0m0 1h0m-.5 4h0m-2.5-2h0m-1.5 3.5h0m-1-3.5h0m0 2h0m-.5 1.5h0m-.5-2.5h0m0 0h0m-1 2.5h0m-2-4h0m-.5 5h0m-2-10.5h0m-.5 6.5h0m-2 2h0m-2-5.5h0m0 4h0m-.5-.5h0m-.5-3h0m0 3.5h0m-1.5-5h0m-.5.5h0m-3.5 7.5h0m-1-6h0m-.5-1h0m0 1h0m-.5 5.5h0m-.5-5.5h0m0 1h0m0 5h0m-1-5.5h0m-1 1.5h0m-1 4h0m-.5-10h0m-.5 2.5h0m0 3h0m-.5 2h0m-3-3h0m0 1h0m0 4.5h0m-.5-3.5h0m-1.5 4.5h0m0 .5h0m-2-6h0m0 .5h0m0 4h0m-.5-9.5h0m-.5 6h0m-1-1.5h0m-.5-1.5h0m0 1.5h0m0 2.5h0m-.5-5h0m0 5h0m0 3h0m-2-5h0m0 3.5h0m-1.5-2.5h0m-.5.5h0m-1.5-1h0m-1.5-3h0m-1.5-3h0m-.5 6h0m-1-3.5h0m-.5-.5h0m0 1h0m-.5-3h0m-1.5 11.5h0m-.5-2h0m-2.5-6h0m0 5h0m-2-3.5h0m0 6.5h0m-.5-2.5h0m0 1.5h0m-1.5-8h0m0 9h0m-1-10h0m-1 2.5h0m0 5.5h0m0 .5h0m-.5-8.5h0m-2.5 4.5h0m-.5-2.5h0m-.5 4.5h0m-1 2.5h0m-.5-8h0m-.5-2h0m-.5 2.5h0m0 3.5h0m-1 0h0m0 4.5h0m-.5-5h0m-1.5-6h0m0 2h0m0 5h0m-.5-6.5h0m0 2h0m0 8.5h0m-1 .5h0m-.5-8.5h0m-1-.5h0m0 3.5h0m0 4.5h0m-.5.5h0m-.5-2.5h0m0 1.5h0m-.5-9.5h0m-.5 5.5h0m-.5-1.5h0m0 7h0m-.5-.5h0m-.5-10h0m-.5 5.5h0m0 4.5h0m-.5-7.5h0m0 6.5h0m-1-3h0m0 4h0m-.5-.5h0m-1-7h0m0 1h0m-.5-.5h0m-1-1.5h0m0 7h0m0 0h0m-1.5-.5h0m-.5-7h0m0 4.5h0m-1-6h0m0 2.5h0m-.5 2h0m0 5h0m-3.5-5.5h0m-1 1.5h0m0 0h0m-1-2h0m-.5-1.5h0m-1 .5h0m-.5 3h0m-.5 4h0m-.5-4.5h0m-2 5h0m-1-7h0m-.5 4.5h0m0 2h0m0 0h0m-.5-2.5h0m0 4h0m0 0h0m-.5 0h0m-2-.5h0m-.5-3h0m0 3.5h0m-1-.5h0m-.5.5h0m-.5-2h0m0 2h0m-.5-11.5h0m-1.5 11.5h0m-1-4h0m0 .5h0m-.5-1.5h0m-1-1h0m-.5 4h0m-1.5-2.5h0m-1.5-2h0m0 2.5h0m-.5-4h0m0 6h0m-.5-9.5h0m0 6h0m0 .5h0m-1 .5h0m0 1.5h0m-1-7.5h0m-2.5 10.5h0m-.5-10.5h0m0 6.5h0m-1 4h0m-.5-9h0m0 4.5h0m-.5-.5h0m-.5-3h0m0 6.5h0m-1-10h0m0 9h0m-2-3.5h0m-.5-5.5h0m-.5 8h0m-.5-4.5h0m-1 2h0m0 1.5h0m0 1h0m-1-4.5h0m0 3.5h0m-1.5 3.5h0m-.5-4h0m-.5 4h0m-1-4h0m-1-1.5h0m0 1.5h0m-2 2h0m-.5-4.5h0m0 1h0m-.5 3h0m-2-3h0m-1 2.5h0m-.5-4h0m-.5 3.5h0m0 0h0m-1.5-4h0m-.5-.5h0m-.5 6h0m-.5-3.5h0m-.5-1.5h0m-1 3.5h0m-1-6h0m0 2h0m-.5 6h0m-.5 0h0m0 1.5h0m-.5-10.5h0m-.5 8h0m-.5-8h0m0 5h0m-1-2h0m-.5-1.5h0m-1-.5h0m0 2h0m0-1h0m-.5-2h0m-.5 5.5h0m0 0h0m0 4h0m-.5 2h0m-.5-4.5h0m-.5-7h0m-3 5h0m0 2h0m-.5-1h0m0 3.5h0m-.5-9h0m0 9h0m-.5-8h0m-.5 0h0m-1 3.5h0m0 0h0m0 2h0m-2.5 2.5h0m-.5-5.5h0m-.5 0h0m-1.5.5h0m-1-3h0m0 1.5h0m-1-2h0m0 4h0m-.5 3.5h0m-1.5-3h0m-.5 3h0m0 .5h0m-1-7.5h0m0 5.5h0m-.5-5h0m-.5 6h0m0 3h0m-.5-6h0m-.5.5h0m-1-2h0m-.5 3h0m-.5 3.5h0m-1.5-7h0m0 2h0m-2-5h0m0 2h0m-.5 5.5h0m-1 3.5h0m0 .5h0m-.5-7h0m0 1.5h0m0 4h0m-1.5-6.5h0m-.5 2h0m0 0h0m-1-5.5h0m0 1.5h0m-1 6h0m-1-3h0m-1 4h0m-1-6.5h0m-.5-2h0m0 7.5h0m-.5 4h0m-.5-11.5h0m0 6h0m-1.5-5.5h0m-1 9.5h0m-1-.5h0m-2.5-2.5h0m-.5-5h0m0 8h0m-.5-6.5h0m0 1h0m-.5-2h0m-.5 6h0m-.5-1.5h0m-.5-6.5h0m0 1.5h0m0 5.5h0m-1-4.5h0m-.5 4h0m-.5-6.5h0m-.5 9.5h0m0 1h0m-.5-9.5h0m-.5 3h0m-2.5-1h0m-2-3h0m-.5 5.5h0m-1 5h0m0-.5h0m-1.5-9h0m0 1h0m0 7.5h0m-.5-4h0m-.5 3.5h0m-3.5-7.5h0m-.5 4.5h0m-.5 5h0m0-.5h0m-1.5-9.5h0m-.5 5.5h0m0 .5h0m-2-5h0m-.5-1.5h0m-.5 6.5h0m-.5 2.5h0m-.5-2h0m0 1h0m-1.5-9h0m0 8.5h0m-1-7h0m-1-.5h0m0 1h0m-.5-1.5h0m-.5 4.5h0m-1.5-3h0m0 3.5h0m0 4h0m-1.5-6h0m0 1h0m-.5-1.5h0m-1 5h0m-.5-2h0m-.5-3.5h0m0 2.5h0m0 1.5h0m-.5-3.5h0m0 8.5h0m-.5-11.5h0m0 3.5h0m-1 1.5h0m-.5-.5h0m-4.5-3.5h0m0 4h0m-.5 1h0m-.5-2h0m0 3.5h0m-.5 2h0m-1.5 1h0m-.5-7.5h0m0 3.5h0m-.5-.5h0m-1-4.5h0m-1 6h0m-.5-2.5h0m-1 5h0m-.5-5h0m-.5 6.5h0m-1-4.5h0m-1.5-4.5h0m-2-.5h0m0 6.5h0m-2-7h0m0 8.5h0m-1.5-5h0m0 6h0m-.5-6h0m0 6h0m-1.5-8h0m-.5-2h0m0 1.5h0m0 5.5h0m-1-6h0m-.5 1h0m0 8h0m-1.5-1.5h0m-.5-9h0m0 3.5h0m-.5.5h0m0 4h0m-1-6.5h0m0 3h0m-.5.5h0m0 6h0m-.5-8h0m0 3.5h0m-1-3.5h0m-.5 1h0m-2 4.5h0m-1-6.5h0m-.5-2.5h0m0 7h0m-.5-4.5h0m-1-.5h0m-.5 8h0m-.5-2h0m0 2.5h0m0 1h0m-1-7.5h0m0 .5h0m-1.5 1h0m-.5-5h0m-1 8h0m-1 0h0m-.5 3h0m-.5-6.5h0m0 6.5h0m-.5-6h0m-2.5 1.5h0m-1.5-6.5h0m0 1.5h0m0 5h0m-1.5-2.5h0m0 7h0m-.5-11h0m0 2h0m-.5 4h0m-.5-6.5h0m-.5.5h0m-2 11h0m-1-3.5h0m-.5-1.5h0m-2-4h0m0 .5h0m-.5 4h0m-.5-3.5h0m-1 2.5h0m-1-3.5h0m-2.5 5h0m-.5-2.5h0m-1.5 2.5h0m-1-3.5h0m-.5 4h0m-2 1h0m0 2.5h0m-.5-2h0m-1.5-3.5h0m-.5 3.5h0m0 1h0m-.5-5h0m-.5 2.5h0m0 3h0m-.5-3h0m-.5-5h0m0 4h0m-.5-1h0m0 1h0m-.5 2.5h0m-2-2.5h0m-.5 2h0m-.5-7h0m0 4.5h0m-1 4.5h0m-.5-6h0m-1 2.5h0m-1-5.5h0m-1-1h0m-1 9h0m-.5-6h0m0 1.5h0m-1 3h0m-2.5-6h0m0 9h0m-1.5-6.5h0m-1.5 2h0m0 .5h0m-.5 1.5h0m-1-6.5h0m-1-2.5h0m0 6.5h0m-1.5-4h0m-.5-1.5h0m-.5.5h0m0 5.5h0m-.5-6h0m0 5.5h0m-2 0h0m-.5-6h0m-1 9h0m-.5-7h0m0 1h0m-2 2h0m-1 6h0m-7-9h0m-2-.5h0m8.5 18h0m1-4.5h0m.5-2.5h0m0 3.5h0m9.5 4.5h0m1-2h0m.5-2h0m1-.5h0m.5 6.5h0m.5-11h0m0 4.5h0m.5 6.5h0m1-4h0m.5.5h0m0 4h0m.5-5.5h0m0 .5h0m1.5-1h0m.5-1h0m1.5-2.5h0m.5 9.5h0m1.5-2h0m2.5-2h0m1.5-5h0m1-1.5h0m0 1h0m2.5 2h0m2-2h0m1 9h0m.5.5h0m.5-8.5h0m0 2.5h0m1-2.5h0m0 7.5h0m1.5-1h0m.5-8.5h0m.5 7.5h0m.5 2.5h0m1.5-9.5h0m.5.5h0m1.5 4.5h0m1-4.5h0m.5-.5h0m0 7.5h0m0 2h0m1-10.5h0m3.5 8.5h0m.5-5h0m.5 2.5h0m1-6h0m0 6h0m1.5 1h0m1-6h0m1-.5h0m0 4.5h0m.5-4.5h0m0 5h0m.5-2.5h0m.5-2.5h0m.5 4.5h0m1-1.5h0m.5-2h0m1.5-1h0m0 4.5h0m.5-5h0m.5 2.5h0m.5 4h0m0 1.5h0m.5-7h0m.5 7h0m.5-6.5h0m0 2.5h0m1.5 4.5h0m.5-3.5h0m1 2h0m0 0h0m.5 2.5h0m.5-3.5h0m0 4h0m1.5-4h0m1.5-1h0m1-1.5h0m0 3.5h0m1-1h0m0 2h0m.5-8.5h0m1 1.5h0m.5-1h0m0 3.5h0m2 2h0m.5-2.5h0m0 1h0m.5-3.5h0m.5 4.5h0m0 2h0m1-1.5h0m.5 2h0m.5.5h0m.5-3h0m.5-2.5h0m.5-1h0m0 .5h0m0 2.5h0m.5-3.5h0m0 7h0m.5-8.5h0m.5 10.5h0m.5-7.5h0m0 1.5h0m0-.5h0m0 5.5h0m1.5-.5h0m1-3h0m0 0h0m.5-5h0m0 5.5h0m1-2h0m.5-1.5h0m1-2h0m0 3h0m1 6.5h0m1-8.5h0m2 5.5h0m1.5-5h0m2-1.5h0m0 2h0m0 4h0m.5-4h0m1.5.5h0m0 4h0m.5-1.5h0m1-1.5h0m0 6.5h0m.5-9h0m0 5.5h0m1-5h0m2.5 6.5h0m0 2h0m.5-4.5h0m1 3.5h0m.5-8.5h0m0 7.5h0m.5-9h0m0 5h0m0 .5h0m0 5.5h0m.5-2.5h0m0 1.5h0m.5-1.5h0m0 1h0m2-5.5h0m.5 6h0m.5 1h0m1-4h0m.5-5h0m.5 5.5h0m0 2.5h0m.5-6h0m.5-3.5h0m1 1h0m0 5h0m0 1h0m0 2.5h0m.5-9.5h0m0 10h0m.5-8.5h0m0 .5h0m.5.5h0m0 1.5h0m.5-4.5h0m1.5 1.5h0m0 6h0m2 1h0m3 1.5h0m1-4.5h0m2 3h0m.5 1h0m0 .5h0m.5-2h0m.5-4.5h0m2.5 1h0m1-2.5h0m0 5h0m1 2.5h0m.5.5h0m0 1.5h0m.5-7h0m.5-1.5h0m0 4h0m0 1h0m0 2.5h0m2-10h0m0 3.5h0m.5 0h0m2 0h0m.5 5h0m.5-6h0m.5-2h0m0 1.5h0m0 .5h0m1-.5h0m0 8h0m2.5-5h0m1 0h0m1-.5h0m1 2.5h0m1-3.5h0m1.5-2.5h0m.5 2h0m.5-1.5h0m.5 4.5h0m0 1.5h0m0 0h0m.5 1h0m1-4.5h0m.5 5h0m.5-2h0m0 0h0m0 1.5h0m0 1h0m.5-8.5h0m0 9h0m.5-9.5h0m0 9.5h0m1-8.5h0m0 4.5h0m.5-1h0m0 2h0m1.5-1.5h0m.5 1h0m0 4.5h0m.5-11.5h0m1.5 2h0m0 0h0m.5 6h0m.5 3.5h0m1.5-5h0m1-3.5h0m0 .5h0m1 1h0m1 0h0m2 0h0m0 5.5h0m1-8h0m0 2.5h0m.5.5h0m.5-.5h0m.5 2h0m1-1h0m.5 4.5h0m.5-6h0m0 3.5h0m1 0h0m0 2.5h0m1.5-4h0m2-1.5h0m1 4.5h0m.5-7h0m0 9.5h0m1-11.5h0m0 1h0m0 2.5h0m1.5 8h0m1-4h0m2-2.5h0m1 1.5h0m.5-3h0m1 .5h0m0 .5h0m0 2h0m.5-2h0m.5-1h0m0 4h0m.5-4h0m0 6.5h0m1.5-2h0m0 1.5h0m1.5-2h0m2-5.5h0m.5 8.5h0m.5.5h0m0 0h0m.5-10.5h0m.5.5h0m0 10.5h0m.5-11h0m0 3h0m1 1h0m0 7h0m1-6.5h0m.5-4.5h0m1 1.5h0m1.5 8.5h0m.5-5h0m0 4h0m.5 1.5h0m0 0h0m.5-4h0m.5 4h0m.5-8.5h0m.5.5h0m.5 1h0m.5 3h0m0-.5h0m0 1h0m1.5-6h0m.5 2h0m1-.5h0m0 1.5h0m.5-4.5h0m1 10h0m3.5-2.5h0m1-4h0m0 2.5h0m1.5 2h0m1.5-.5h0m.5-3h0m.5 6h0m1-10.5h0m.5 4.5h0m.5-2.5h0m0 1.5h0m1 6h0m.5-6h0m0 7.5h0m.5-9.5h0m.5 6h0m.5-6.5h0m0 0h0m.5 0h0m.5-.5h0m.5.5h0m.5 6.5h0m.5-3h0m0 3.5h0m.5-3h0m0 4.5h0m.5 1h0m1-10h0m0 .5h0m0 .5h0m0 1h0m0 5h0m.5-4.5h0m.5 0h0m0 1h0m.5 0h0m.5 2h0m0 5.5h0m1.5-7h0m.5 3.5h0m1-4.5h0m.5 6h0m2-.5h0m.5-3.5h0m3.5 5.5h0m1.5-6h0m.5-2h0m0 2h0m0 1.5h0m.5-6h0m0 7.5h0m.5-7h0m2.5-1h0m1.5 4.5h0m4-1h0m.5 1.5h0m0 .5h0m1.5 3.5h0m.5-6.5h0m2 0h0m0 4h0m2-1.5h0m.5 3.5h0m.5-4.5h0m.5 7h0m1-10h0m.5 4.5h0m1.5-1h0m0-.5h0m.5 6.5h0m1.5-8h0m0 7h0m2-5.5h0m1.5-3h0m0 9h0m.5-4h0m1-4h0m2 8.5h0m1-1.5h0m.5-2.5h0m.5-1h0m0 4h0m.5-3.5h0m.5-4h0m0 3h0m0 .5h0m1 4h0m.5-4h0m.5-3.5h0m1 5.5h0m1-3h0m1-4h0m0 5h0m0 3h0m0 2h0m.5-1h0m.5-3h0m0 1h0m1.5 0h0m2 2h0m0 2h0m2-3h0m.5-8h0m.5 8.5h0m.5-4.5h0m0 0h0m0 1.5h0m.5-4.5h0m0 3h0m1 2.5h0m.5.5h0m1 2h0m0 .5h0m.5-9h0m.5 0h0m1.5 0h0m.5 10h0m2-5h0m0 5h0m.5-4h0m.5-4h0m0 2h0m0 4.5h0m1 0h0m1-4h0m0 1.5h0m2 1.5h0m0 1h0m.5-.5h0m.5-5.5h0m0 3.5h0m0-.5h0m0 5h0m.5-1.5h0m0 1h0m1-6h0m.5-1h0m0 7h0m1-9.5h0m0 3h0m0 1h0m.5-2h0m0 7h0m.5-10h0m0 9h0m.5-4h0m.5 1.5h0m.5-2.5h0m1.5-4h0m0 4h0m0 6h0m1.5-5.5h0m1-3h0m0 5.5h0m0 4h0m.5-1.5h0m2.5-6.5h0m1 2.5h0m0 2h0m1.5-6h0m0 1.5h0m0 1h0m0 0h0m.5-2h0m0 4.5h0m0 0h0m.5-4h0m0 4h0m1-5.5h0m0 2h0m.5 5h0m1.5 0h0m.5-8h0m0 10.5h0m.5-9h0m0 6.5h0m1.5-5h0m0 3h0m.5-3.5h0m0 4.5h0m.5 4h0m.5-.5h0m1-7h0m.5-3.5h0m0 0h0m.5 7.5h0m.5-4h0m.5-1.5h0m.5 4.5h0m0 3.5h0m1.5-8h0m0 5h0m.5-1.5h0m1.5 3h0m1.5-2h0m0 1.5h0m.5 1.5h0m.5-7h0m.5-1h0m0 7.5h0m1-7.5h0m1 5.5h0m.5.5h0m.5-6.5h0m1 7h0m1-.5h0m.5-5.5h0m0 4h0m0 1.5h0m.5-1.5h0m.5 1.5h0m0 1.5h0m1.5-3.5h0m0 2h0m.5 0h0m0 1h0m1 1h0m.5-8h0m0 5h0m.5-7h0m0 6h0m0 0h0m0 2.5h0m1-5h0m0 1.5h0m.5-4h0m0 1.5h0m1.5 0h0m.5.5h0m0 2h0m2-1.5h0m0 4h0m.5 3h0m2-5h0m.5-4h0m1.5 5h0m.5-3h0m0 5.5h0m.5-1h0m2.5-1h0m1 .5h0m1.5-5.5h0m.5 9h0m.5-7.5h0m.5.5h0m0 7h0m2-7h0m0 4.5h0m1.5-4.5h0m1 4h0m2.5 2.5h0m2-5h0m1-3h0m0 2.5h0m0 6.5h0m3-3h0m1.5-8h0m1.5 4h0m.5-.5h0m258.5-2.5h0m48.5 8.5h0m10-8.5h0m2.5 3.5h0m0-.5h0m.5-3.5h0m0 .5h0m.5 1.5h0m0 2h0m1-1.5h0m.5 1.5h0m0 0h0m.5-2.5h0m1.5-2.5h0m12.5 8h0m3-8h0m0 11h0m1-5h0m3-5h0m22.5 2.5h0m.5 0h0m.5-2h0m.5 1h0m0 1h0m.5.5h0m.5-3.5h0m0 2h0m1.5 1.5h0m.5 0h0m.5-3h0m0 5.5h0m.5-2.5h0m1-2.5h0m1.5 1h0m1.5-1.5h0m.5 10h0m.5-7h0m1.5 3h0m.5-4h0m.5-2.5h0m.5 0h0m1 1h0m0 5h0m2.5-5h0m0 7h0m0 .5h0m.5-7.5h0m0 7h0m0 2.5h0m1.5-5h0m.5 1h0m.5 4h0m.5-7.5h0m0 1.5h0m1-2h0m.5 1h0m.5 1h0m0 2h0m1 .5h0m1.5 1h0m1-8h0m1 1h0m0 9.5h0m.5-1h0m1.5-5.5h0m1-4.5h0m0 11.5h0m.5-7.5h0m0 5h0m.5-5.5h0m.5-1h0m0 6h0m0 3h0m1-2h0m0 1.5h0m1-6h0m1-4h0m2 12.5h0m0 5.5h0m-2 3.5h0m-1-4h0m0 2.5h0m-.5 1.5h0m0 1h0m-1.5-3h0m0 1.5h0m-1.5-10h0m-2.5 5h0m0 .5h0m0 4h0m-.5-7h0m-1 3h0m0 5.5h0m-.5-1.5h0m-.5.5h0m-2-7.5h0m-.5 1h0m-1.5 1h0m-.5 1h0m0 2h0m-.5-6h0m-.5 3h0m-46 .5h0m-5 5.5h0m-4-10.5h0m0 7.5h0m-1-5.5h0m-332.5-.5h0m-2.5 8h0m-.5-7h0m-.5 5h0m-2-7.5h0m0 6h0m0 4.5h0m-2.5-2.5h0m0 3h0m-.5-6.5h0m0 2.5h0m-1.5-3h0m0 7.5h0m-.5-7h0m-.5 0h0m0 1.5h0m-1 5h0m-2-1.5h0m-.5-8h0m-1 3.5h0m0 2h0m-.5 0h0m-.5-3.5h0m-3-.5h0m-3 1.5h0m-2-4.5h0m0 10h0m0 .5h0m-3.5 0h0m-3-2h0m-.5-6.5h0m-1 3.5h0m0 5.5h0m0 0h0m-2-10h0m-.5 3h0m-.5 2h0m-.5-4.5h0m0 1.5h0m-1.5-2h0m-.5 3.5h0m-.5 5.5h0m-.5-6h0m-.5 6h0m-.5-9.5h0m-.5 9h0m-1-.5h0m-.5 0h0m-.5 1.5h0m-1-7.5h0m-1.5 6.5h0m-1.5-7.5h0m-1.5-.5h0m0 5.5h0m-.5-4.5h0m-1 1.5h0m-1.5 6h0m-.5-3.5h0m0 1h0m0 2.5h0m-.5.5h0m0 .5h0m-.5-2.5h0m0 2.5h0m-1-8.5h0m0 5.5h0m-1.5-2h0m-2 2h0m-.5-8h0m0 8h0m0 2h0m-1-6h0m0 3h0m0 0h0m0 2.5h0m-1-8.5h0m-1-.5h0m-.5-.5h0m0 1.5h0m0 2h0m0 4.5h0m0 2.5h0m-.5-9.5h0m0 0h0m-1.5-1h0m0 5.5h0m-2 6h0m0 0h0m-.5-5.5h0m-.5-2h0m0 7.5h0m-1.5-3.5h0m0 0h0m-.5-2.5h0m-1.5-1.5h0m0 3.5h0m-.5 4h0m-.5-5.5h0m-.5 4.5h0m-.5-2.5h0m-.5-5h0m-.5 7h0m-.5-9.5h0m0 7.5h0m-.5 3h0m-1.5-4h0m0 4.5h0m-3.5-6.5h0m-.5-3.5h0m-.5 2h0m-.5-2.5h0m-1 10.5h0m-1-6.5h0m0 2.5h0m-.5 2h0m-.5-5h0m-.5 4h0m-.5-8h0m0 4.5h0m0 4h0m-.5-6.5h0m-1.5 4.5h0m-.5-.5h0m-2 2h0m-.5-1h0m0 1.5h0m-.5-.5h0m0 .5h0m0 2h0m-.5-2.5h0m-2 3h0m-3.5-6h0m-2-5h0m-.5 9h0m-.5-5h0m0 3h0m-2.5-6.5h0m0 8h0m0 1h0m-1-8.5h0m-.5 9.5h0m-1.5-5h0m-.5 4h0m-1-1.5h0m-1.5-8.5h0m0 5.5h0m-2.5-2h0m0 .5h0m0 4.5h0m0 .5h0m-.5-7h0m0-.5h0m-2.5 9h0m-.5-6h0m0 6.5h0m-.5-9h0m0 9.5h0m0 0h0m-2-9.5h0m-.5 2h0m0 3h0m-.5-6h0m-2 3.5h0m-2.5 6.5h0m-1.5-3.5h0m-.5-4.5h0m-.5 1h0m-1-2.5h0m-1 2h0m-1-3.5h0m0 .5h0m-.5 4.5h0m0 3.5h0m-1-2.5h0m-.5 3h0m-.5-5h0m0-.5h0m0 6.5h0m-3.5-4h0m-3-2.5h0m-.5 0h0m-.5-3.5h0m0 10h0m-.5-2.5h0m-1.5-5.5h0m-.5-1.5h0m0 7.5h0m-.5-7h0m0 10h0m-.5-9h0m0 1h0m-.5-2.5h0m0 0h0m-2 9h0m-1.5-4h0m0 1.5h0m0 .5h0m0 2.5h0m-3-5h0m0 4.5h0m-.5-7.5h0m-.5 2.5h0m-.5 7h0m-.5-11.5h0m0 2h0m-2 3.5h0m0 1h0m-1-6.5h0m0 2.5h0m0 3.5h0m-.5-1.5h0m-1.5-4.5h0m0 10h0m-.5-10h0m0 9.5h0m-1.5-1h0m-1.5-5h0m-.5 2h0m0 .5h0m-1 4h0m-.5-.5h0m-.5 0h0m-.5-8.5h0m0 4.5h0m-.5-.5h0m0 5.5h0m-.5-10.5h0m-2 3h0m0 2h0m0 .5h0m0 6h0m-1-9.5h0m0 1.5h0m-1.5 7h0m-1-4h0m-.5.5h0m-.5-5.5h0m0 3h0m-2.5 4h0m-2.5-4.5h0m-.5 7.5h0m-.5-5h0m-.5-2h0m0 1h0m0 2.5h0m-.5 3h0m-.5-.5h0m-1 .5h0m-2-3h0m-1.5-4h0m-2 1h0m0 1.5h0m-1.5 1h0m-.5-.5h0m0 4.5h0m-.5-.5h0m-.5-10.5h0m-1 11h0m-.5-8.5h0m0 6.5h0m-.5-1.5h0m-.5-8h0m0 6.5h0m-.5-4.5h0m-.5 6.5h0m-.5-5.5h0m-.5-2h0m-1 5h0m-2.5-3.5h0m-.5-.5h0m0-.5h0m-2 5.5h0m0 4h0m-.5-3.5h0m0 2.5h0m-.5 0h0m0 .5h0m-.5-9.5h0m-.5 1h0m0 4h0m-.5-2.5h0m0 4h0m-1-7h0m-2 4h0m-.5-4.5h0m0 2h0m-1 3h0m0 4h0m-1.5-8h0m-.5 9h0m-.5-8.5h0m0 1.5h0m0 2.5h0m-.5-3.5h0m-.5 1.5h0m0 7.5h0m-.5-1h0m-.5-3.5h0m-.5 2h0m-.5-1.5h0m-.5-.5h0m-4.5.5h0m-.5 0h0m0 2h0m-1.5-5.5h0m0 7h0m-.5-9h0m0 3.5h0m-.5 1.5h0m-.5 1h0m-1.5-3.5h0m-1-3h0m0 1h0m-.5 6.5h0m-.5-1.5h0m-1 4h0m-.5 0h0m-.5 0h0m-1 .5h0m-1-4.5h0m0 1h0m-.5-2h0m-1-3.5h0m-1.5 4h0m-1 3.5h0m0 .5h0m-2.5-1.5h0m-.5-8.5h0m0 8h0m-.5-8h0m-.5 3h0m0 8h0m-.5-5.5h0m0 0h0m-.5-3h0m-1.5 3h0m-2.5-2.5h0m0 2h0m-.5-4h0m0 5.5h0m-1.5-6h0m0 9h0m-.5-8.5h0m0 9.5h0m-.5-10.5h0m0 8h0m-1 2.5h0m-.5-7h0m-1 .5h0m-.5 4.5h0m-1.5-7.5h0m-1 5.5h0m-.5 0h0m-1-4.5h0m-.5 8h0m-1-6.5h0m-.5.5h0m-1.5-2.5h0m0 8h0m-.5-5h0m-3-1h0m-.5-2h0m0 1h0m-1 7.5h0m-1.5-5h0m-1 6h0m-1-9h0m-.5 5h0m-.5.5h0m-1.5-7h0m-.5 8h0m-1 1h0m-1-2h0m-1.5 3.5h0m-.5-1h0m-.5-2.5h0m0 3.5h0m-.5-11.5h0m-.5 9.5h0m-2-.5h0m-.5-6.5h0m-2-1.5h0m0 1.5h0m0 5.5h0m-1-4.5h0m0 2.5h0m-.5 3.5h0m-.5-.5h0m-1-8h0m0 7h0m-1.5-2.5h0m-.5-1h0m-1-2h0m0 9h0m-.5-7h0m0 1h0m-1.5 5.5h0m-.5-10h0m-1.5 2.5h0m-.5 7.5h0m-1.5-2.5h0m-.5-7.5h0m0 2.5h0m0 7h0m0-.5h0m-.5-8h0m-.5-2h0m0 7h0m0 4h0m-1.5-9.5h0m-.5 7.5h0m0 1h0m-.5-5h0m-1-5h0m-2 11h0m-.5-6.5h0m-.5-2.5h0m-.5 6.5h0m0 2h0m-.5-3.5h0m-.5.5h0m0 3.5h0m-1-11h0m-1 1h0m0 7.5h0m-.5-7.5h0m0 5h0m0 3h0m-.5-5h0m-.5 7.5h0m-1-4.5h0m-1.5 3.5h0m-.5-7.5h0m0 4.5h0m0 .5h0m-1.5-6h0m0 6h0m-.5 2h0m-.5-7h0m-.5-3h0m-.5 11h0m-1.5-3h0m-.5-3h0m-.5 6.5h0m-.5-11.5h0m-2 11.5h0m-.5-5.5h0m0 0h0m-1-3.5h0m-.5-.5h0m-1 1h0m-1.5-2h0m-1 3.5h0m0 2.5h0m0 1.5h0m-2.5-2h0m-1-4.5h0m-2.5-1.5h0m0 8.5h0m-.5-4.5h0m-2.5-2.5h0m-.5-1.5h0m0 7h0m-1 .5h0m0 2h0m-1 1.5h0m-.5-1.5h0m-1-10h0m0 0h0m0 2.5h0m-.5 1.5h0m-.5 5.5h0m-1-3h0m0 3h0m-1-8h0m-.5 9h0m-2.5-10.5h0m0 2h0m0 9h0m-1-2.5h0m-.5-4h0m0 7h0m-1.5-2.5h0m-3-7.5h0m-1 2h0m-2 6h0m-1.5-5.5h0m-.5-2.5h0m0 10h0m-.5-3.5h0m0 .5h0m-.5-3.5h0m-1-5h0m-.5 9h0m-1-.5h0m-2.5-4.5h0m-.5-2.5h0m-6 2h0m-1-1h0m11 13h0m6-3.5h0m3 .5h0m1 1h0m1 6h0m1.5-7h0m3.5.5h0m2.5 1h0m2-1.5h0m.5 9h0m0 .5h0m3.5-7h0m2.5 1h0m.5-.5h0m.5 6h0m1-2.5h0m.5-7h0m1 5.5h0m.5 6h0m2.5-8.5h0m0 1.5h0m1 2h0m1-2.5h0m.5-3.5h0m0 4h0m2.5-2h0m2-.5h0m1.5-1h0m0 6.5h0m.5-4h0m0 0h0m1.5 6.5h0m1-4.5h0m1.5 5h0m1.5-1h0m1-1.5h0m1-7.5h0m.5-.5h0m.5 7.5h0m0 2.5h0m1 .5h0m.5-9h0m2.5-1.5h0m0 10h0m.5-1h0m2-5.5h0m.5 0h0m1.5-1.5h0m0 6h0m.5 1.5h0m.5-8h0m.5 1.5h0m0 4.5h0m.5-6h0m0 .5h0m1.5 5.5h0m0 2h0m1-3h0m1-6h0m0 0h0m0 2h0m1-1.5h0m1 3.5h0m0 3h0m1-.5h0m.5-2h0m0 2.5h0m0 .5h0m3.5-6.5h0m0 7.5h0m1.5-5.5h0m0 6.5h0m1 1h0m3-10h0m2 8.5h0m.5-6.5h0m0 0h0m1 4h0m1 1.5h0m.5-4h0m3.5-.5h0m1-4h0m0 9h0m2 2.5h0m1-7.5h0m0 4.5h0m.5 1h0m.5-7.5h0m2-.5h0m0 2h0m.5 4h0m1-2.5h0m.5.5h0m0 5h0m1-9h0m0 3.5h0m0 3h0m1 3h0m.5-11h0m0 7h0m.5-2.5h0m0 2h0m1-2h0m.5 6.5h0m.5-10.5h0m0 2.5h0m1-2.5h0m0 1.5h0m0 4.5h0m0 2h0m.5-3.5h0m.5-4h0m1.5 0h0m.5 2.5h0m1-3.5h0m1 3.5h0m.5 3.5h0m.5 3h0m0 1h0m.5-9.5h0m1 2.5h0m.5 5.5h0m1.5-4h0m3.5 6h0m1-10h0m1 0h0m0 7h0m1.5-7h0m0 2.5h0m1.5 2h0m.5-3.5h0m3.5-.5h0m.5-1.5h0m0 .5h0m0 8h0m.5-7h0m.5 8h0m1.5-7h0m0 5h0m.5 3h0m.5-5h0m.5-2.5h0m.5 0h0m0 1.5h0m0 6h0m.5-6.5h0m1-1.5h0m.5 7h0m1-4.5h0m.5 4.5h0m.5-2.5h0m0 1h0m.5-4.5h0m0 1h0m1.5 1.5h0m0 2.5h0m.5 0h0m0 2.5h0m.5-7.5h0m.5-4h0m0 5.5h0m0 5.5h0m1-4.5h0m0 3.5h0m.5-6h0m.5-2h0m0 3.5h0m0 5.5h0m4-10.5h0m0 10.5h0m1.5-9h0m0 4h0m1 2h0m1-7h0m1.5.5h0m.5-.5h0m0 2h0m0 8h0m1-11h0m.5 3h0m0 1.5h0m.5 2.5h0m.5-7h0m0 1h0m0 1h0m0 4h0m.5 4h0m.5-7h0m0 0h0m0 6.5h0m.5 1h0m.5-4h0m.5 2h0m0 1h0m0 1h0m.5-8.5h0m.5 3h0m1 6.5h0m.5-8h0m.5-.5h0m0 5h0m.5.5h0m1.5-1h0m.5-5.5h0m0 3.5h0m2 5.5h0m.5-10.5h0m0 4.5h0m0 4h0m.5-1.5h0m.5-7h0m2 0h0m1 10h0m.5-6h0m.5 7h0m.5-11.5h0m2 11h0m1-11h0m0 9h0m1-3h0m.5-.5h0m1 0h0m0 3.5h0m1.5 1h0m.5-6h0m2-3h0m0 3.5h0m.5.5h0m.5 3h0m.5-6.5h0m.5 8.5h0m2-2h0m.5-8h0m0 1.5h0m0 5h0m0 3.5h0m1-9.5h0m1 2h0m.5 2.5h0m0 0h0m1.5-4h0m0 4.5h0m.5-3.5h0m0 4.5h0m.5-2.5h0m0 .5h0m.5-3.5h0m0 7.5h0m.5-5h0m0 5.5h0m1-3h0m.5 2.5h0m1-7.5h0m1.5 5h0m0 3.5h0m.5-3.5h0m.5 1h0m1.5-5h0m0 1.5h0m4 6h0m.5 2h0m1-.5h0m.5-5.5h0m.5-.5h0m0 4h0m.5-7.5h0m0 3h0m.5 1.5h0m.5 2.5h0m0 3h0m1-7h0m.5-4h0m.5 5.5h0m0 5h0m1.5-8.5h0m.5 6h0m.5-8h0m.5 9.5h0m1 1h0m1-10.5h0m0 3h0m2 .5h0m.5-2.5h0m0 6h0m.5-4.5h0m.5 5.5h0m1-7h0m1.5-1.5h0m0 11h0m1-8h0m0 4h0m1-5.5h0m0 9h0m.5-10h0m.5 2.5h0m0 1.5h0m0 4.5h0m0 0h0m.5-7.5h0m0 5h0m.5 1h0m.5 1h0m1-5h0m.5 7.5h0m.5-1h0m.5 1.5h0m.5-11h0m0 7.5h0m0 3h0m2-9.5h0m0 10h0m0 0h0m.5 0h0m.5-10h0m1 3h0m2 3.5h0m1.5-3h0m2.5 1.5h0m1.5-2.5h0m0 1.5h0m0 1h0m1.5-1.5h0m0 1.5h0m1-6h0m0 3h0m1 7.5h0m.5-5h0m1-5h0m0 2.5h0m.5 0h0m0 .5h0m2 0h0m2 0h0m1.5 2h0m0-.5h0m0 .5h0m.5-5.5h0m0 8h0m1 2.5h0m.5-5h0m0 1h0m1-5.5h0m3 4.5h0m.5.5h0m2 0h0m1-1h0m0 2.5h0m.5-3.5h0m0 2h0m0 1.5h0m.5-3.5h0m.5 4.5h0m1-4.5h0m0 6h0m1.5-2.5h0m1 0h0m0 .5h0m.5-8.5h0m0 7h0m.5-2.5h0m.5-3h0m0 8.5h0m1-6.5h0m2-3.5h0m.5 4h0m.5 3.5h0m.5-1.5h0m.5-6h0m1 10h0m.5.5h0m1-9h0m0 1.5h0m0 1.5h0m0 2.5h0m0 1h0m0 1.5h0m1-9h0m.5 0h0m3 0h0m0 8.5h0m.5 1.5h0m1.5-8.5h0m.5 8h0m.5-6.5h0m.5-1.5h0m1.5-1.5h0m0 3.5h0m0 4h0m0 3h0m.5-3h0m0 .5h0m1-3h0m1-4.5h0m1.5 6h0m0 1h0m.5-7.5h0m.5 3.5h0m0 .5h0m0 4.5h0m.5-4h0m.5 4.5h0m.5-9h0m.5 1h0m2 1h0m0 8h0m.5-4.5h0m.5-6h0m1.5 6h0m0 3h0m.5-8.5h0m.5 4h0m0 2.5h0m1-1.5h0m0 2h0m.5-5.5h0m.5 8h0m1-6h0m1.5-1h0m1.5.5h0m3-3h0m.5 8.5h0m.5 1h0m1-2h0m0 0h0m.5-1.5h0m.5-5h0m0 1.5h0m0 4h0m.5 2h0m.5-4.5h0m.5 2.5h0m.5-7h0m.5 7h0m0 3.5h0m3-10h0m.5 1h0m0 3h0m0 2h0m1.5 0h0m1.5-6.5h0m.5 5.5h0m1 1.5h0m.5 4.5h0m1.5-3h0m1.5 2h0m.5-8.5h0m1 5.5h0m.5-1.5h0m0 1.5h0m0 4h0m1-10.5h0m0 3.5h0m3 4.5h0m.5 2h0m1 .5h0m3.5-3.5h0m1.5 2.5h0m.5-9.5h0m1 10.5h0m.5-3.5h0m4.5-7.5h0m.5-.5h0m.5 8.5h0m0 .5h0m.5-8h0m0 3h0m1.5-3.5h0m7.5 1.5h0m334-.5h0m3 8.5h0m4-3h0m1-4h0m1.5 8h0m2.5-2h0m4.5 2h0m7-1h0m25.5-4h0m17 2.5h0m.5-6h0m1-1h0m0 1h0m1 8h0m.5-9h0m1 4h0m.5-3.5h0m1 9h0m.5-4.5h0m.5-4h0m1-1h0m-1 11.5h0m-2.5 10h0m-.5-11h0m0 8.5h0m-.5-4.5h0m-1.5-1h0m0 7h0m-1.5-.5h0m-.5-.5h0m0 1h0m-2-7.5h0m-1.5 5h0m-1 3h0m-2.5.5h0m-1.5-1.5h0m0-9h0m-12 8.5h0m-5-3h0m-7 4h0m-5-1h0m-3-3h0m-3-2h0m0 6h0m-371 1.5h0m-3.5-6.5h0m-.5 4h0m-2.5-.5h0m-3-6.5h0m-.5-2h0m-1 2.5h0m0-.5h0m-1 3h0m-1-4h0m-1.5 6h0m-1.5-3h0m-1-.5h0m-4 3h0m0 4h0m-.5 1h0m-.5-8h0m-3.5 1h0m-1.5-2h0m-2-2h0m0 9.5h0m-.5-8.5h0m-.5-1h0m0 1h0m-2 7.5h0m-2-2.5h0m-1 0h0m0 2h0m-1-7.5h0m-4 8h0m-.5-3h0m-2-3.5h0m-.5 7h0m-1-1h0m-1-8.5h0m-.5 5.5h0m-1.5-4h0m-.5 5.5h0m0 2h0m0 2.5h0m-1.5-8.5h0m-.5 8.5h0m-.5-10h0m-.5-.5h0m-.5 9h0m-1.5-7h0m0 7.5h0m-1.5-1h0m-.5 1.5h0m-.5-4h0m-3-3.5h0m0 3.5h0m-.5-3h0m-.5 4.5h0m-1-6h0m0 6.5h0m0 2h0m-1-11h0m0 10.5h0m-1-6.5h0m0 2h0m-.5 5h0m-1-4.5h0m-.5-5h0m0 4.5h0m0 3h0m-.5-3h0m-1-6h0m0 8h0m-.5 2.5h0m-1.5-9h0m-.5 6.5h0m0 3.5h0m-1.5-3h0m-.5-3h0m-1 2h0m-4 2h0m-2-7h0m-.5-1.5h0m0 6h0m-.5-1h0m-1.5-3h0m0 6.5h0m0 .5h0m-.5.5h0m-1-10h0m0 1.5h0m-.5-.5h0m-2 0h0m0 4.5h0m0 0h0m0 3h0m-1.5-1.5h0m0 0h0m-1.5-6h0m0 1.5h0m-.5-.5h0m-.5 8.5h0m-.5.5h0m-1-11h0m-1 6h0m-1-.5h0m-1 4h0m-.5-2.5h0m-.5-4.5h0m0 8h0m-1.5-6h0m0 0h0m-.5 3.5h0m-2-6h0m-1 6h0m-.5-8.5h0m0 1h0m-.5 1.5h0m-1.5.5h0m-1.5 3h0m0 2.5h0m0 1h0m-.5.5h0m-3-7.5h0m-.5 6.5h0m-1.5-2h0m-1 1.5h0m-1-4.5h0m-.5.5h0m0 3.5h0m-.5 3h0m-.5-.5h0m-.5-2.5h0m-.5-4.5h0m-.5-2.5h0m0 1h0m0 2h0m-1 0h0m-.5 2h0m-1-6h0m0 11.5h0m-.5-7.5h0m0 7h0m-.5-11h0m0 6.5h0m-.5-1h0m-1-5h0m0 10h0m0-.5h0m-.5-6.5h0m0 2.5h0m-3-1h0m-.5 1.5h0m0 3.5h0m-2.5-6.5h0m-1-.5h0m0 4h0m-.5-4.5h0m-1 5.5h0m0 2.5h0m-1.5-7.5h0m-.5 2.5h0m0 .5h0m0 2h0m-.5-4h0m-.5-4h0m0 11.5h0m0 0h0m-1-6h0m-.5-2.5h0m0 4.5h0m0 4h0m-1-10h0m0 2.5h0m-1.5 5h0m-2.5-4.5h0m-.5-1.5h0m-.5 3.5h0m0 4h0m-.5-4.5h0m-.5 1.5h0m-.5-1.5h0m0 2h0m-.5-4h0m-1-1h0m0 6h0m-.5 2.5h0m-.5-11h0m-.5 8.5h0m-.5-5.5h0m0 2h0m-1 0h0m0 2.5h0m0 1h0m-.5-1.5h0m0 3h0m0 0h0m-.5-6.5h0m0 3h0m-1-6h0m0 2h0m0 6h0m-1-9h0m0 4.5h0m-1 4h0m-.5-4h0m-.5.5h0m-.5-.5h0m0 5.5h0m-2-3h0m0 2h0m-2-4h0m-1 2.5h0m-.5-4h0m-.5 6.5h0m-3-7h0m0 2.5h0m-.5-5.5h0m0 5h0m-1 4.5h0m-.5-7.5h0m0-.5h0m0 7.5h0m0 1.5h0m-1-6h0m-1-4h0m-.5 3.5h0m0 6h0m-.5-5.5h0m-2-4h0m-3 6h0m-1-5.5h0m0 6.5h0m0 2.5h0m-.5-.5h0m-1-9.5h0m0 .5h0m-.5 2.5h0m0 7.5h0m-.5-7h0m-1-3.5h0m-1.5 10h0m-.5-.5h0m-.5-1h0m0 .5h0m-.5.5h0m-.5-4h0m-1-2h0m-3 5.5h0m-1-3.5h0m-1.5-4.5h0m0 9h0m-2-9.5h0m0 1h0m0 9.5h0m-.5-5.5h0m-1 .5h0m-1-1.5h0m-.5-1h0m-1 7h0m-1 1h0m-.5-4h0m-1-4h0m-.5 1.5h0m0 6.5h0m-.5-1.5h0m-.5-8h0m-1 2h0m-1.5-1.5h0m-.5 1.5h0m-1.5-1.5h0m0 1.5h0m-1-4h0m0 6.5h0m0 2.5h0m-.5-7h0m-.5 5h0m0 2.5h0m-1.5-4h0m-.5 0h0m-.5-4.5h0m-1 0h0m-.5 1.5h0m-.5 4.5h0m0 4h0m-1-10.5h0m0 .5h0m-1 3.5h0m0 0h0m-1 1.5h0m-.5 2.5h0m-.5-5h0m0 7h0m-.5-10.5h0m-.5 10.5h0m-.5-1.5h0m-3-6h0m0 4.5h0m0 2.5h0m-3.5.5h0m-1-10.5h0m0 9h0m0 2h0m-5.5-1h0m-2.5-8h0m-1.5 5.5h0m-1-2h0m-2-5.5h0m-1 0h0m-4 7.5h0m-.5-6h0m0 10h0m-1 0h0m-1-6h0m-.5-1h0m-.5 2h0m-1-6h0m0 4h0m0 1.5h0m0 5h0m-1-11h0m-1.5 2.5h0m-1 2.5h0m-1.5-2.5h0m0 6h0m0 1.5h0m-.5-9h0m-.5 5h0m-1-4.5h0m0 8h0m-2.5-1h0m-1.5-7.5h0m0 7.5h0m-1.5 3h0m-.5 0h0m-4.5-10h0m-1 4h0m-3.5-5h0m-.5 8.5h0m-2-8h0m-.5 3.5h0m-1-2h0m-.5 8.5h0m-1-1.5h0m-.5-8.5h0m-1 .5h0m-1 0h0m-.5 0h0m-1 5.5h0m-1-1.5h0m-.5 2h0m-.5 2.5h0m-1.5-9.5h0m-.5 0h0m0 6.5h0m-1.5-3.5h0m0 7h0m-.5-.5h0m-1.5-4h0m-1 5.5h0m-1.5-7.5h0m-3.5 2.5h0m-3.5-4.5h0m-6 5h0m-3 1h0m-5.5-5h0m-7.5-3h0m-.5 2h0m13.5 11.5h0m6.5-1.5h0m5.5.5h0m0 4h0m.5-2h0m.5 1h0m.5-1h0m2.5 1.5h0m2 0h0m1-2h0m0 2h0m1-1h0m.5-2.5h0m3 5.5h0m1.5 4h0m1-9.5h0m4.5 9.5h0m0 1h0m2-4h0m1 1.5h0m2.5 3h0m.5-5.5h0m1-3.5h0m0 7.5h0m.5.5h0m3.5-.5h0m.5-10h0m.5 9h0m.5-7h0m1 4.5h0m2 1.5h0m5.5-4h0m.5-3h0m0 6.5h0m5 2h0m.5 2h0m.5-1.5h0m.5-4.5h0m0 5h0m.5-2h0m1.5 2.5h0m.5-3.5h0m1.5 1.5h0m.5-1h0m.5-1.5h0m.5-3h0m2 4.5h0m.5-2.5h0m1 6h0m4.5-7h0m2.5 2h0m1 3h0m.5-6h0m0 .5h0m1.5 7.5h0m.5-5h0m1-4.5h0m0-.5h0m1 5h0m2.5-3.5h0m.5 3h0m.5-6h0m0 6.5h0m2-1h0m1 1.5h0m.5-5h0m0 3h0m0 6h0m.5-5.5h0m0 3.5h0m1-2.5h0m.5-1.5h0m.5 2h0m2.5-2.5h0m.5-3.5h0m1-.5h0m1 11h0m4.5-1h0m.5-7h0m3 4.5h0m2-7.5h0m3 9h0m1 0h0m.5-7h0m1-1.5h0m.5 4h0m0 .5h0m0 1h0m.5-5.5h0m0 10h0m0 0h0m1-4h0m1 1.5h0m1 1h0m2.5-.5h0m1 2h0m1.5-2h0m1-5.5h0m0 0h0m0 6.5h0m3-1.5h0m5-7.5h0m.5 6.5h0m.5 2h0m2-5h0m1.5-1h0m1.5-.5h0m2 8.5h0m.5-10.5h0m1 6h0m0 2h0m2.5-3.5h0m0 2.5h0m3-3h0m.5-4h0m1 5.5h0m0 1h0m.5 2.5h0m.5-9.5h0m0 7h0m.5-2.5h0m1.5-1h0m3 4.5h0m1-3.5h0m.5-4h0m1.5 4.5h0m0 6h0m.5-3h0m1-3.5h0m.5 3h0m2-7h0m.5 3h0m0 3.5h0m.5-7h0m1 2.5h0m0 8h0m1.5-9.5h0m0 4.5h0m0 2.5h0m0 1.5h0m.5-7h0m0 0h0m1-3h0m.5 6.5h0m.5-6.5h0m0 6h0m1.5-3h0m3.5 6.5h0m1-7.5h0m.5 4h0m0 4.5h0m1.5-9h0m.5 1h0m0 .5h0m2.5 3h0m.5 5.5h0m.5-10.5h0m.5 0h0m1 .5h0m1 0h0m0 6h0m.5-6h0m0 8.5h0m.5-6h0m.5.5h0m1-4.5h0m0 0h0m.5 11h0m1.5-11h0m0 3.5h0m2 4.5h0m.5.5h0m.5-1.5h0m.5-5h0m.5 7.5h0m.5-6.5h0m.5 6.5h0m.5-7h0m1 1.5h0m0 1.5h0m.5-5h0m0 4.5h0m1-3.5h0m1.5-.5h0m.5 2.5h0m0 4.5h0m0 2h0m1-1.5h0m.5-6.5h0m2 5.5h0m.5-2.5h0m.5-1.5h0m1.5 5h0m.5.5h0m1-.5h0m.5-5h0m1-.5h0m.5 7.5h0m1.5-2.5h0m2-1.5h0m.5-2.5h0m.5 2h0m.5-1h0m0 5h0m1-5h0m0 3h0m.5-2.5h0m0 4.5h0m2-2h0m2-6h0m0 3.5h0m.5-1h0m0 .5h0m.5-2.5h0m1.5 2.5h0m.5-2h0m0 3h0m1-1h0m.5 3.5h0m0 3h0m2.5-7.5h0m.5 7.5h0m2-8h0m0 1h0m.5 3.5h0m.5-3h0m0 6.5h0m1-1h0m.5-2h0m.5-7h0m0 7h0m1-5.5h0m.5 1h0m.5-.5h0m1.5 7.5h0m1.5-6.5h0m1 2.5h0m.5-3h0m1-2.5h0m1 7.5h0m1 0h0m1-7.5h0m1-1.5h0m1 6h0m1.5 3h0m1.5-1.5h0m.5-6h0m.5-1.5h0m1 2h0m0 4.5h0m2-4h0m0 .5h0m0 2h0m0-.5h0m2.5-3.5h0m0 8h0m.5-3h0m.5-6h0m0 6h0m1 5h0m.5-6.5h0m.5-3h0m0 1.5h0m0-.5h0m0 4.5h0m.5-5.5h0m0 5h0m2.5-6.5h0m2.5 7h0m1.5-6h0m1 7h0m0 1.5h0m.5 1h0m1.5-3.5h0m2-7h0m4 6.5h0m1 2h0m.5-8h0m1 5h0m.5-1.5h0m.5 1.5h0m1.5-3.5h0m0 4.5h0m0 3h0m1.5-3.5h0m1 .5h0m2-4h0m0 8.5h0m2-7h0m1 2.5h0m1-5h0m2.5 5h0m.5 2h0m.5-8.5h0m2.5.5h0m384 7.5h0m.5 2h0m4.5 1h0m.5-2.5h0m0 2.5h0m1-6h0m0 1h0m3 1h0m1 2.5h0m6-3h0m0 3h0m.5-3.5h0m10 4.5h0m.5 0h0m1 1h0m2-2h0m1-2h0m.5-3h0m0 7h0m.5-3.5h0m.5-2h0m0 .5h0m0 1.5h0m.5-4.5h0m.5 6h0m.5-7.5h0m0 5h0m.5-.5h0m2.5-5h0m0 7h0m1 1.5h0m.5-9h0m0-.5h0m1 5h0m0 2.5h0m0 3.5h0m2-5.5h0m0 1.5h0m.5-7.5h0m0 9.5h0m.5-8.5h0m0 1h0m2 4h0m1 4.5h0m2-4h0m.5 0h0m-.5 11.5h0m-1 3.5h0m-.5-7h0m0 1.5h0m-1.5-2h0m-.5 0h0m0 3.5h0m0 2h0m-.5-6.5h0m-1.5 6h0m-.5-.5h0m-2-4.5h0m0 8.5h0m-.5-9h0m0 5h0m-1.5-6.5h0m-1 9h0m-.5-4.5h0m0 1.5h0m-.5-6h0m-.5 11.5h0m-.5-10.5h0m-.5 4h0m-1 2h0m-2-1.5h0m0 3h0m0 1.5h0m-1-6h0m-1 7.5h0m-.5-9h0m0 8h0m-.5-4.5h0m-1-.5h0m0 5h0m-.5-2.5h0m0 1h0m-1-3.5h0m0 6h0m-1-5h0m-.5-.5h0m-.5 5.5h0m-.5-.5h0m-5.5-5h0m-1.5-3h0m-7 2h0m-1-4.5h0m-2.5 3h0m-398.5 0h0m-.5-2h0m-.5 2h0m-3 4.5h0m-.5-3h0m-1.5-2h0m0 6h0m0 0h0m-1-1h0m-.5 2.5h0m-2.5-8h0m-2.5 0h0m-1 7h0m-1.5-1h0m0 2h0m-2-10h0m-3 8h0m-1.5 2h0m-.5-5.5h0m-1 4.5h0m-1.5-4h0m0 1h0m-1.5-2.5h0m-1-4h0m0 7.5h0m-1.5 4h0m-2-5.5h0m-1 1h0m-1-3.5h0m-.5 4.5h0m-.5-7h0m0 3.5h0m0 .5h0m0 6.5h0m-1-6h0m-.5-2h0m-1 7h0m-.5-8.5h0m-2-2h0m-.5 1.5h0m-.5 7.5h0m-1-1.5h0m0 1.5h0m-1.5-8.5h0m-3 9.5h0m-3.5-3h0m-.5-4.5h0m-.5 2.5h0m-1 3.5h0m-.5 0h0m-1 0h0m-1-4.5h0m-1.5 3.5h0m-2.5-1h0m-1.5-3h0m-.5-3h0m-1 7.5h0m-.5 2.5h0m-.5-.5h0m-.5-10h0m-.5 3h0m-1 2h0m-1 0h0m-7 5.5h0m-.5-1h0m-1 2h0m-1.5-7h0m0 2h0m-1 2h0m-3.5-4.5h0m-1 4h0m-.5-7h0m-2 2h0m-3 3.5h0m-1.5.5h0m0 3h0m-3-4.5h0m-.5 2h0m-2-3h0m-1.5 2.5h0m-.5-6h0m0 6.5h0m-.5-2.5h0m-.5-5h0m-.5 6h0m-.5 5.5h0m-5.5-11h0m-1 6.5h0m-.5-5.5h0m-2 3h0m-.5 6h0m-1.5-8.5h0m0 9h0m-4-5.5h0m-1.5-.5h0m-1-4.5h0m0 3h0m-1 7.5h0m-1-9.5h0m-3 1.5h0m-2-1h0m-1.5 6h0m-3-1.5h0m-1 2h0m-.5-4.5h0m-1.5 4h0m0 .5h0m-.5-2.5h0m-.5-6h0m0 8h0m-1-3h0m-1 2h0m-.5-7h0m0 3.5h0m0 3h0m-2.5 4.5h0m-.5.5h0m-1-.5h0m-.5-5.5h0m-.5-2h0m-2.5 6.5h0m-1-5.5h0m-1-4.5h0m-1 1.5h0m-1 3.5h0m0 1h0m0 2h0m-.5 3h0m-.5-6h0m-.5-5h0m0 6.5h0m-.5-1h0m-2 3.5h0m-.5-1.5h0m-.5-7.5h0m0 0h0m-1 0h0m-1 3.5h0m-2.5-1.5h0m-.5 3.5h0m0 2.5h0m-1.5-3h0m-2-4h0m0 4h0m-.5.5h0m-1 5.5h0m-1-4h0m-.5-4.5h0m-1.5 3.5h0m-3 0h0m-.5-4h0m-1.5.5h0m0 6.5h0m-.5 0h0m-2-5.5h0m-.5 3h0m-.5.5h0m-1.5 4h0m-1.5-6.5h0m-1 1.5h0m-1 0h0m-2.5-6h0m0 1.5h0m0-.5h0m-.5 7.5h0m-.5-3.5h0m-.5 6h0m-1.5-7h0m0 1h0m-1 1h0m-1-5h0m-.5 9.5h0m-.5-9.5h0m0 8.5h0m-3-1.5h0m-4.5 2h0m-.5-5h0m-1-.5h0m-2 6.5h0m-1-2h0m-1.5-3.5h0m-1-3h0m-.5 5.5h0m0 3.5h0m-.5-11.5h0m0 7h0m-2-6.5h0m-2.5 9.5h0m-2.5-4h0m-1 4.5h0m-.5-5.5h0m0 2h0m-2-2h0m-1 4.5h0m-.5-2.5h0m0 1.5h0m-1.5-2h0m-.5-1h0m-1.5-3h0m-2 3h0m-1.5 0h0m0 3h0m-1 0h0m-.5 1h0m-.5-6.5h0m-3.5 0h0m-1.5 1.5h0m-.5-2h0m0 8h0m-1.5-9.5h0m-2 1.5h0m-1.5-1.5h0m-.5-1h0m0 4h0m-1-.5h0m-1 1h0m-1.5-2.5h0m0 2h0m-1-1.5h0m0 5h0m-4-3h0m-3.5-3.5h0m28 15h0m19.5 0h0m4-4h0m.5.5h0m4 2h0m.5 5.5h0m.5-4h0m1 .5h0m.5-4.5h0m1 0h0m1 2h0m2 2h0m.5-3.5h0m3 5h0m2-1h0m1 3h0m.5-5h0m0 1h0m1 2.5h0m0 0h0m2-3h0m0 2.5h0m5-4.5h0m.5 2h0m0 4.5h0m.5-3h0m.5 1h0m1 1.5h0m2-.5h0m1 .5h0m.5-6h0m5 .5h0m1.5 4h0m.5-4h0m.5 5.5h0m1.5-2h0m1.5 2.5h0m.5-1h0m.5 1.5h0m3-7.5h0m0 10h0m.5-9.5h0m.5-.5h0m1 8.5h0m.5-4h0m4.5 1h0m.5-.5h0m0 4h0m3-9h0m3 9.5h0m1.5-8h0m1-.5h0m0 9.5h0m.5-8h0m1 1h0m2-2.5h0m1 6h0m0 1h0m1-7h0m0 4.5h0m2 2.5h0m1-6.5h0m0 8.5h0m2.5-8h0m.5-1.5h0m.5 5.5h0m1.5 5h0m.5-8.5h0m0 5h0m2-4.5h0m.5 4h0m0 3.5h0m1.5-1h0m2-7h0m1 .5h0m.5-3.5h0m2.5 5.5h0m.5-4.5h0m2 5h0m2 1.5h0m.5-6h0m1.5 4h0m.5 5h0m.5-7h0m0 4h0m.5-7.5h0m0 4.5h0m.5 2h0m1 3.5h0m1-9.5h0m2 9.5h0m.5-7.5h0m0 6h0m.5-5.5h0m0 6.5h0m2.5-6h0m1 7.5h0m1-8.5h0m1-1h0m.5 1h0m1 9h0m.5-10.5h0m.5 5h0m1.5-2.5h0m1 7.5h0m1.5-4h0m1.5 4h0m1.5-6h0m0 2h0m1.5-1h0m2-2h0m.5-2.5h0m1 5.5h0m.5-4.5h0m.5 4.5h0m0 2.5h0m.5-3h0m.5-.5h0m0 4h0m1.5-2.5h0m2-6h0m.5 1.5h0m0 2.5h0m1.5 4.5h0m1.5-8h0m4 4h0m0 2.5h0m.5 0h0m.5-2.5h0m.5-4.5h0m1 1h0m1 6.5h0m.5-7.5h0m0 3h0m1-4.5h0m.5 2.5h0m1.5 1h0m0 1.5h0m2-1.5h0m0 6.5h0m1.5-8.5h0m1 8h0m3 0h0m0 2h0m1-3.5h0m0 1h0m3-1.5h0m1.5 0h0m1 3h0m.5-8h0m.5 1.5h0m0 2h0m1.5-1h0m3.5-4h0m0 3.5h0m2 3h0m2.5 1.5h0m.5-8.5h0m0 6.5h0m.5-5h0m1 4h0m5.5 1.5h0m2-5.5h0m0 5.5h0m1.5-7.5h0m1.5 1h0m0 6.5h0m4 2h0m7.5-5h0m418.5-1h0m.5-2h0m3.5.5h0m2 2.5h0m0 2.5h0m.5-4h0m0 1.5h0m1-2h0m1.5 3h0m.5-3h0m.5 5h0m1.5-6.5h0m0 2.5h0m0 6.5h0m.5-2.5h0m1.5 4h0m3-2h0m.5 1h0m0 1h0m.5-6.5h0m0 5.5h0m.5-7h0m0 4.5h0m.5-6h0m0 .5h0m0 1h0m0 1.5h0m0 1.5h0m.5-6.5h0m1 .5h0m0 2h0m1.5-.5h0m0 3h0m0 .5h0m.5-2h0m1 6h0m1-8.5h0m-3.5 11.5h0m-1 .5h0m-469.5 1.5h0m0 3h0m0 3.5h0m-1-7h0m-2 3.5h0m-1-1.5h0m-4-4h0m-.5 8.5h0m0 1h0m-2.5-7h0m-.5-1.5h0m-.5 3h0m-.5-2h0m0 7h0m-3-1.5h0m-2-5h0m-1 9h0m-.5-3h0m-.5-1.5h0m-1.5 1h0m-.5-3h0m-.5 2.5h0m-1-5h0m0 3h0m-.5-3h0m0 .5h0m0 7.5h0m-2.5-10h0m-3.5 6.5h0m-1-5h0m-.5.5h0m0 4h0m-.5 1.5h0m-1.5-8h0m-2.5 1h0m-.5 1h0m0 7h0m-3.5-.5h0m-1-6h0m-.5 5.5h0m-1.5-7.5h0m0 1.5h0m-.5 7.5h0m-.5-8h0m-1 3h0m0 3.5h0m0 3h0m-1-9.5h0m0 8h0m-.5-9h0m-1 9.5h0m-3-6h0m-.5 0h0m0 2h0m-1.5-3.5h0m-1.5-1h0m-1 1h0m-.5-1.5h0m-.5 2h0m-.5 1h0m-.5 5.5h0m-4.5-5h0m-1-.5h0m-1.5 4.5h0m-.5-3.5h0m-2 4.5h0m-1-2.5h0m-.5-.5h0m-.5-5h0m0 10h0m0 0h0m-.5-1h0m-1.5-4h0m-2 2h0m-1.5-7h0m-3.5 2h0m-1 4h0m-.5 3.5h0m-1.5-11h0m-2.5 2.5h0m-2 6h0m-1.5-2h0m-1.5-2.5h0m-1-4h0m-1 11.5h0m-1-11.5h0m-2.5 11h0m-.5-9.5h0m-.5 3h0m0 2.5h0m-3-5h0m-2.5-2h0m0 10h0m-1-10h0m0 4.5h0m0 4h0m-.5 0h0m-1-5.5h0m-1.5 7h0m0 1h0m-.5-2.5h0m-5-6.5h0m-3.5-.5h0m-1.5 2.5h0m-1 1h0m-1-5h0m-2 .5h0m-2.5 2.5h0m0 2h0m-.5-2.5h0m-8.5-.5h0m36 13h0m1.5-2h0m2-.5h0m2.5 1h0m0 1h0m2.5 1h0m1 .5h0m1-1.5h0m2-2h0m1 1h0m.5.5h0m3-1h0m1 .5h0m0 2h0m1-2.5h0m3.5-.5h0m.5 3.5h0m0-.5h0m1 5.5h0m.5-3.5h0m.5 1h0m.5-1.5h0m.5-2.5h0m0 .5h0m2 0h0m1.5-3h0m1.5 2h0m1 1h0m2-2.5h0m1.5 7h0m2 1h0m4.5-4h0m.5 0h0m5.5 3.5h0m2.5-1h0m2-4h0m2.5-1.5h0m1.5 5.5h0m2-6h0m0 8.5h0m.5-9h0m1.5 3.5h0m1.5-2.5h0m1 1.5h0m1-.5h0m1.5 3.5h0m4.5-3.5h0m0 .5h0m4-1.5h0m.5 1h0m1.5-1h0m0 .5h0m10 7h0m-28 3.5h0m74 12.5h0m2 2h0m-859.5 128h0m1-3.5h0m2 1h0m2.5 1h0m1 0h0m1 1.5h0m6-.5h0m3-1h0m3-4h0m1-1h0m6 5h0m4.5-5.5h0m.5 4.5h0m.5 2h0m3 0h0m.5-1h0m10 2h0m1.5-1.5h0m47 1.5h0m27.5 0h0m1-2h0m1.5 1.5h0m41.5 11h0m-9-1h0m-5 1.5h0m-1 1h0m-7.5-1h0m-1.5-1.5h0m-.5-4.5h0m0 3h0m-3.5-3.5h0m-.5 1h0m-2.5 5.5h0m-.5-3h0m-.5 3h0m-3-3h0m-1 2h0m-2 2h0m-1-8.5h0m-1.5 5.5h0m-.5-4.5h0m0 4h0m-.5-6.5h0m-.5 1h0m-.5 8h0m-.5-6.5h0m-1 1h0m-1 0h0m-2.5-1.5h0m0 7.5h0m-1-3h0m-1.5 1h0m-2-7.5h0m0 4.5h0m-.5-.5h0m0 .5h0m-1.5-4h0m-2 4h0m-3-4.5h0m0 7h0m-1.5 2h0m-.5-5h0m-2-2.5h0m-2.5 6h0m-3-2h0m-3.5-4h0m-1 4.5h0m-.5-3.5h0m-4.5 3.5h0m-1.5-1h0m0 2.5h0m-3-3.5h0m-4-.5h0m-1 5.5h0m-3.5-3.5h0m-.5 3.5h0m-1.5-4.5h0m-.5 5h0m-.5-4.5h0m-1.5-1h0m0 5.5h0m-.5-5.5h0m-.5 1h0m-3.5 4.5h0m-.5-8h0m-1.5 1.5h0m0 4.5h0m-.5 2h0m0 0h0m-.5-1h0m-2-1h0m-1.5-6.5h0m-1.5-.5h0m-.5 8.5h0m-.5-7h0m-.5 6.5h0m-.5-6h0m0 .5h0m-.5 5.5h0m-.5-7.5h0m-3 7.5h0m-2-7.5h0m-.5 3.5h0m-1.5 1h0m-.5.5h0m0 2h0m-.5.5h0m-1-8h0m-.5 9.5h0m-3-1.5h0m-.5 1.5h0m-.5-5h0m-.5-1h0m-.5-2.5h0m-1.5 8h0m-.5-9.5h0m-.5 1h0m0 8.5h0m-.5-9.5h0m0 10h0m-1-3h0m-3-5h0m0 2.5h0m0 1h0m-.5-3h0m-1-3.5h0m0 4h0m-.5 3.5h0m-4-7h0m0 4h0m0 3h0m-1-6.5h0m0 1.5h0m0 1.5h0m-1.5-3.5h0m-.5 10.5h0m-.5-10h0m-.5 6h0m-.5-4h0m0 3.5h0m0 3.5h0m-.5-9h0m0 5h0m0 1.5h0m0 1.5h0m-1-4h0m0 2.5h0m-.5-5.5h0m-3 1.5h0m-1 1.5h0m-1 .5h0m-.5 2h0m-.5 1.5h0m-.5-5h0m0 2h0m-.5-.5h0m-.5 2h0m0 2h0m-.5-9h0m0 1h0m-.5-1.5h0m-1 3.5h0m0 5h0m-2-4.5h0m-1-2h0m-.5-2.5h0m0 4h0m-1 5.5h0m-2-7.5h0m0 .5h0m-1 1.5h0m-.5-2.5h0m-.5 0h0m0 5h0m-.5-1h0m-.5-5.5h0m0 9.5h0m-.5-3h0m-1 3.5h0m-1.5-3.5h0m-.5.5h0m-1 1h0m0 .5h0m-.5.5h0m-1 .5h0m-1-5.5h0m-1-3h0m-.5 5.5h0m-.5 1h0m-2 .5h0m-.5-8h0m0 5.5h0m-1.5 4.5h0m-.5 1h0m-.5-8h0m0 1.5h0m0 5.5h0m-.5-2h0m-4.5-7h0m-5 9h0m-2.5 0h0m-.5 2.5h0m2 0h0m2 2.5h0m.5-1h0m2 .5h0m.5 3.5h0m1.5 0h0m.5-5h0m.5.5h0m0 4h0m.5 3h0m0 2h0m1.5-1h0m1.5-9h0m0 6h0m.5-2.5h0m2 2.5h0m2-6h0m.5 5h0m.5 5.5h0m0 .5h0m.5-11h0m0 6h0m.5-5.5h0m2 6h0m1-6h0m0 6h0m.5-2.5h0m0 2.5h0m.5-4.5h0m0 5.5h0m.5 1.5h0m.5-8.5h0m.5 1h0m0 8h0m.5-6h0m.5.5h0m2 3.5h0m0 2h0m.5-7h0m0 0h0m1 6h0m1-3.5h0m1-2.5h0m.5 2.5h0m1.5 4.5h0m.5-1.5h0m.5 0h0m.5-5.5h0m1.5 0h0m.5-2h0m0 2h0m0 2.5h0m1.5 3.5h0m3-7.5h0m1.5-1h0m0 6.5h0m1-1h0m0 2.5h0m.5-8h0m.5 2.5h0m1.5 2h0m0 6.5h0m1-6h0m.5-4.5h0m.5 1h0m0 7h0m2.5-5h0m0 6h0m1-5h0m0 3.5h0m.5-6.5h0m0 2.5h0m0 1h0m2.5 2h0m1.5 3h0m.5-6h0m0-.5h0m0 2h0m.5 5h0m1.5-7h0m.5 0h0m1 0h0m0 2.5h0m.5 4h0m0 1h0m1-6h0m.5-5h0m.5 9h0m1-2h0m1.5-6.5h0m2-1h0m1.5 7.5h0m.5-2.5h0m0 3h0m0 3h0m.5-7h0m1-1.5h0m0 5h0m0 0h0m.5-5.5h0m.5-1h0m3 2h0m0 1.5h0m.5-4.5h0m1 6.5h0m1 3.5h0m.5-6.5h0m.5-3.5h0m1.5 0h0m1 .5h0m0 1h0m1 9h0m.5-8h0m0 5.5h0m.5-1h0m0 4h0m0 0h0m.5-8.5h0m.5 2h0m0 6.5h0m1.5-2.5h0m1-4.5h0m0 2h0m.5-.5h0m0 2h0m.5 3h0m1-8h0m2-2.5h0m.5 2.5h0m.5 8h0m.5-7h0m0-.5h0m.5 5h0m1.5-.5h0m1 .5h0m1 2.5h0m1.5-6h0m0 6.5h0m.5-10h0m.5-.5h0m0 3.5h0m1 0h0m.5 7.5h0m.5-2h0m2-3.5h0m5-.5h0m0 2h0m.5-1h0m1 4h0m.5-4h0m0 0h0m0 2h0m1 1h0m1.5 2h0m2-5h0m1.5.5h0m.5-2.5h0m.5-1h0m.5-1h0m0 2.5h0m0 6.5h0m.5-1.5h0m1-3h0m1-6h0m1 4h0m.5-4h0m1 6h0m1-3.5h0m.5 1.5h0m5 0h0m.5-3.5h0m0 .5h0m1.5 7.5h0m.5 1h0m1 .5h0m0 .5h0m1.5-4.5h0m0 .5h0m.5-1h0m.5-3.5h0m.5-.5h0m1.5 2.5h0m0 3.5h0m.5-.5h0m2-6.5h0m1.5 1.5h0m1.5-1h0m.5-1h0m2.5.5h0m.5-1h0m0 10.5h0m1-7.5h0m0 7h0m.5-8.5h0m.5 2.5h0m2 1.5h0m2.5 1h0m2 1h0m.5-4h0m1-.5h0m.5 1h0m0 2.5h0m0 2.5h0m1.5-1h0m.5 2h0m1.5 0h0m1-1.5h0m1-7.5h0m0 2h0m0 2.5h0m0 5.5h0m2-3.5h0m5.5-1h0m1 4.5h0m1-11h0m3.5 2h0m0 6h0m1-7.5h0m.5 8.5h0m1-8.5h0m.5 5h0m.5-3h0m1 3h0m1 0h0m0 1.5h0m.5 1.5h0m0 1h0m0-1h0m.5-6.5h0m1 4.5h0m.5-2h0m1.5 2h0m0 0h0m0 3.5h0m1-1.5h0m3-3h0m0 .5h0m0 1.5h0m1.5-.5h0m1-1.5h0m.5.5h0m1-2h0m1-2h0m1 8.5h0m.5-10h0m.5 2.5h0m4 1.5h0m1.5 4h0m1-1.5h0m1-3.5h0m0 2.5h0m0 2h0m1-5.5h0m0 8.5h0m.5-9.5h0m4 7h0m0 2h0m.5-1.5h0m1 1.5h0m2-1.5h0m.5 1h0m4.5-1.5h0m1.5 0h0m.5 1h0m7.5 1h0m15.5.5h0m10 9h0m-4.5.5h0m-4.5 0h0m-.5-2.5h0m-.5 4h0m-3-3h0m-1 3h0m-1-3.5h0m-2.5 2h0m-.5 0h0m-.5-1h0m-.5 0h0m0 .5h0m-1 0h0m-1.5-2h0m-.5 2h0m-1.5-2h0m-.5 4.5h0m-.5-8h0m-1.5-1h0m-.5 7.5h0m-.5-9.5h0m0 9h0m-2-1h0m-1-4h0m-1 4.5h0m0 1.5h0m-1-7.5h0m0 6.5h0m-1 1.5h0m-2.5-2.5h0m-1-7.5h0m-1 0h0m-3 5h0m-.5 4h0m-2.5-4.5h0m-1-4.5h0m0 1h0m-.5-1h0m-.5 2.5h0m-1 6h0m-1-2h0m-.5.5h0m-1-3h0m-.5 4.5h0m-.5-4h0m-.5-4.5h0m0 3.5h0m-1 2h0m0 2.5h0m0 2.5h0m-.5-10.5h0m0 2h0m-2 7h0m-1-5.5h0m-.5 1.5h0m-3 4.5h0m-.5-3.5h0m-1-3h0m-.5 6h0m-1 2h0m-1.5-11h0m0 4h0m-3 4.5h0m-.5-2.5h0m-.5 0h0m-1 4.5h0m-1-7.5h0m0 7.5h0m-1-3.5h0m-3.5.5h0m-1 1h0m-1-6.5h0m0 1.5h0m0 1.5h0m-2.5 3h0m-.5-7.5h0m0 5h0m-2.5 3.5h0m-.5-1h0m-2 1h0m-.5.5h0m-1-9.5h0m-.5 7h0m-.5 0h0m-.5-.5h0m-1-1h0m-1-4h0m-1.5 7h0m-1-8h0m-2 2.5h0m-.5 8h0m-1-.5h0m-1-6.5h0m-1-4.5h0m0 7.5h0m-2-6.5h0m-3 0h0m0 6.5h0m-.5-6.5h0m0 .5h0m-.5.5h0m-1 8.5h0m-.5-9h0m0 5.5h0m-1-7h0m0 7.5h0m-1-1.5h0m-1-5.5h0m0 10.5h0m-1-10.5h0m0 11h0m-.5-11h0m-3 10h0m-.5-7h0m-1.5-3h0m0 4.5h0m-2-.5h0m-.5-4.5h0m-1.5 9h0m-.5-1.5h0m-.5-1.5h0m0 2h0m0 1.5h0m-2-6h0m0 3.5h0m-3-6h0m0 4.5h0m-.5-2h0m-1.5-3.5h0m-.5 0h0m-.5 5h0m-1 6.5h0m-.5-5h0m-1-5h0m0 5.5h0m-.5-6h0m-1 6.5h0m-.5-7.5h0m-.5 5.5h0m-1.5-4.5h0m-2-.5h0m0 2.5h0m-2 4.5h0m-1-1h0m0 .5h0m-.5-5h0m-1.5-.5h0m0 9.5h0m-1.5-9.5h0m-1 4h0m-.5-1.5h0m0 1h0m0 2h0m-.5 4.5h0m-.5-1h0m-2.5-10.5h0m0 11.5h0m-1.5-7h0m-1 1.5h0m-1-2.5h0m0 3h0m-1-6h0m-.5.5h0m0 6h0m-1 0h0m-.5-.5h0m0 3h0m-.5 1h0m-1-10h0m0 10h0m0 1h0m-4.5-4h0m-2-7.5h0m-.5 9.5h0m-1-6h0m-1-3h0m0 8.5h0m-1.5 2h0m-1-7h0m0 .5h0m-.5-.5h0m-.5-3.5h0m-1 0h0m-1.5 1.5h0m0 8h0m-1.5 1h0m-1-4h0m0 3h0m-.5.5h0m-1-1h0m0 1h0m-.5-10h0m0 1h0m0 7.5h0m-1 2h0m-.5-10.5h0m0 3.5h0m0 1h0m0 5.5h0m-.5-9.5h0m0 5.5h0m-.5-2.5h0m-.5-1h0m-1 3h0m0 2.5h0m-1-3h0m0 4h0m-.5 1.5h0m-.5-3.5h0m0 2h0m-1-8.5h0m-1 1.5h0m0 6.5h0m0 1.5h0m-.5-4h0m0 4.5h0m-.5-8.5h0m-.5-2h0m0 4.5h0m-.5-2h0m-.5-1.5h0m-.5-1.5h0m0 5.5h0m0 5.5h0m-1.5-3.5h0m0 1h0m-1-4h0m-.5 2.5h0m0 1h0m-1-.5h0m-1-6h0m0 5h0m-.5-4.5h0m0 3.5h0m-1-5h0m-.5 0h0m-1 10h0m-.5-7h0m-1 7h0m-2-9.5h0m0 10.5h0m-.5-9.5h0m-.5-2h0m-.5 0h0m-.5 3.5h0m0 8h0m-1.5-8.5h0m0 3.5h0m-.5-6.5h0m-1.5 7h0m-1 4h0m-1-5.5h0m0 5h0m-1-9.5h0m0 1.5h0m0 9h0m-1.5-8.5h0m-.5-1h0m-.5 4.5h0m-.5 2h0m-.5-1h0m-.5 3.5h0m0 .5h0m-.5-4.5h0m-.5-4.5h0m0 3h0m-1.5-.5h0m-.5-5h0m-.5 3h0m0 3h0m0 0h0m0 3.5h0m-.5 0h0m-1-3.5h0m-.5-1.5h0m-.5 4.5h0m-1.5-8.5h0m0 5.5h0m-.5-.5h0m-2-1h0m0 5.5h0m0 1.5h0m-.5-3h0m-1 0h0m-1.5-8.5h0m-1 5h0m-.5-2h0m0 1.5h0m-.5 7h0m-.5-5h0m0 2.5h0m-.5 0h0m0 1h0m0 1.5h0m-1.5-9.5h0m0 6h0m-1.5-4h0m0 4.5h0m0 1h0m-1 1.5h0m-1.5-10.5h0m-.5 3.5h0m0 0h0m-1 2h0m0 .5h0m-.5-2.5h0m-.5 3.5h0m-2 1h0m-1-8.5h0m-.5 0h0m-1 0h0m0 9.5h0m-.5-6h0m-.5 0h0m0 6h0m-2-1.5h0m-1.5-2.5h0m0 .5h0m0 0h0m-.5 0h0m-.5 0h0m-.5-5h0m0 3.5h0m-.5 3.5h0m-5-6.5h0m15.5 11.5h0m.5 0h0m1 1.5h0m1 0h0m2 0h0m5.5-1h0m4.5-1h0m0 1.5h0m0 2.5h0m3 .5h0m.5-4.5h0m.5 0h0m1 5h0m1-5.5h0m0 1h0m0 3h0m1-3h0m.5 3h0m.5 5h0m1-8h0m0 6h0m.5-5.5h0m0 4h0m.5 1.5h0m.5-5h0m0 3.5h0m0 1h0m.5-2h0m0 3.5h0m.5-7.5h0m1 8.5h0m1-6.5h0m.5-2h0m1 .5h0m0 3h0m.5 3.5h0m1-2h0m.5 1.5h0m1-3.5h0m0 5.5h0m.5-3h0m.5 0h0m1.5-3.5h0m0 0h0m0 8h0m1-1.5h0m.5-5.5h0m0 1h0m1.5 3.5h0m0-1h0m.5 0h0m.5-1.5h0m.5 1.5h0m.5 2h0m.5-7h0m.5 2h0m.5 3.5h0m1-7.5h0m0 4.5h0m2 3.5h0m1-6.5h0m.5 4.5h0m.5-2h0m0 1h0m1 0h0m.5-1h0m1.5-4h0m0 6h0m0 5.5h0m.5-2h0m.5 1h0m1-7h0m1 2.5h0m.5-4h0m.5 2h0m1 4h0m.5 1h0m2 2.5h0m1-7h0m.5-3h0m.5 4.5h0m2.5-.5h0m0 4.5h0m0 .5h0m1-2h0m0 1h0m0 1.5h0m0-.5h0m.5-5.5h0m.5 0h0m1-2.5h0m0 8.5h0m.5-3h0m1.5.5h0m1-3h0m0 4h0m.5 1h0m2-2.5h0m.5-3.5h0m1.5 5h0m1-1.5h0m.5-2.5h0m.5-5.5h0m1.5 7.5h0m1 1.5h0m.5 2h0m1-7.5h0m0 2.5h0m.5-.5h0m0 2h0m.5-2.5h0m1 6h0m2-11h0m.5 8.5h0m3-6.5h0m0 6h0m4-5.5h0m1 5.5h0m2-4.5h0m1-2h0m.5 7h0m.5-.5h0m1-6.5h0m.5 8.5h0m2.5-10h0m.5 5.5h0m.5-2.5h0m0 2h0m0 2h0m1.5 1.5h0m0 2h0m1-3.5h0m.5 2h0m.5-8h0m0 10.5h0m.5-2h0m1.5-4.5h0m1 0h0m1 6h0m2-6.5h0m.5 2h0m1-2h0m1 1.5h0m0 4h0m.5-5.5h0m0 0h0m0 0h0m0 7h0m.5-2h0m1.5-2h0m2.5 4h0m1-7h0m1 6h0m1-2h0m1-6.5h0m0 3h0m.5-4.5h0m.5 1.5h0m1 3h0m.5 1h0m.5-4.5h0m0 2.5h0m.5-.5h0m.5 2h0m.5.5h0m1 5.5h0m.5-10.5h0m.5 1.5h0m.5 1h0m.5 7.5h0m3-8h0m0 4.5h0m0 4h0m.5-10.5h0m.5 4.5h0m2 5.5h0m1-2.5h0m1.5-6.5h0m1 4h0m0 .5h0m1.5-5h0m0 9.5h0m.5-4.5h0m0 3h0m1.5-5h0m.5 1.5h0m.5-5h0m1.5 7.5h0m0 1.5h0m.5-2h0m.5-8h0m0 .5h0m1 .5h0m1.5 7.5h0m2 2.5h0m1-7h0m0 4.5h0m.5-3h0m0 2h0m.5-4h0m1 0h0m3.5 2.5h0m0 4.5h0m2.5-7h0m2.5 0h0m.5 1h0m0 7h0m.5-8.5h0m0 2h0m.5-5h0m3 5.5h0m.5-3.5h0m1 3h0m.5 5.5h0m2-8h0m1-2.5h0m.5 4h0m.5 6h0m2.5-8.5h0m1 9.5h0m.5-7.5h0m0 6h0m0 1.5h0m.5-10h0m0 8.5h0m1 1h0m.5-2h0m2-6.5h0m3.5 1.5h0m.5 2.5h0m0 1h0m0 3h0m.5-8h0m0 1h0m.5 2h0m0 5h0m.5-7.5h0m2.5 1h0m.5 7h0m0 1h0m1.5-9.5h0m2 7h0m.5-.5h0m1 1h0m.5 1h0m2-7.5h0m0 1.5h0m.5.5h0m1-1h0m0 2.5h0m1.5 5h0m1-9h0m0 6.5h0m0 2.5h0m1.5-5h0m.5 4h0m.5 1h0m1-9h0m0 0h0m1.5 7h0m1-1h0m1-2.5h0m1.5 1.5h0m.5-1h0m.5-1.5h0m0 4h0m.5-2.5h0m.5 3h0m.5-4.5h0m.5-1h0m0 5.5h0m.5-9.5h0m2.5 8h0m0 3h0m.5-3h0m0 0h0m1-7h0m1 7h0m.5 3.5h0m.5-8.5h0m.5-1.5h0m0 3h0m0 5.5h0m0-1h0m.5-4.5h0m0 .5h0m.5-3h0m.5 5.5h0m.5-6h0m1.5 7h0m1.5-6h0m1.5 7h0m2 2h0m3.5-2.5h0m.5-8h0m1 8h0m.5-4h0m1 1.5h0m1.5-4h0m1 6.5h0m.5-1h0m.5-2.5h0m0 6h0m0 0h0m.5-5h0m.5 3h0m1-7.5h0m1.5 8h0m1-2.5h0m2-4h0m.5.5h0m1.5 2h0m1.5-3h0m0 7.5h0m.5-6h0m5.5 4h0m6-5h0m3.5 7h0m2-5.5h0m2 4h0m.5 2h0m1.5.5h0m3.5 0h0m7.5-1h0m.5-1.5h0m50 13.5h0m-8.5-1.5h0m-4.5 0h0m-9.5-1h0m-4 3h0m-2.5-3h0m-2.5-.5h0m0 1.5h0m-1.5.5h0m-1.5-4h0m-2 5.5h0m0 0h0m-.5-3h0m-.5-1h0m-.5 3.5h0m-.5-5h0m-.5 3.5h0m-.5-5h0m0 6.5h0m-.5-2.5h0m-1.5-2h0m0 1.5h0m-1-4.5h0m-1 2h0m-.5 0h0m-.5-1h0m-.5 1.5h0m-.5-4h0m-.5 7h0m-1 1.5h0m-3.5-3.5h0m-1-2h0m-1.5 4h0m-.5.5h0m0 2.5h0m-.5-11.5h0m-.5 0h0m-1 2.5h0m0 8.5h0m0 .5h0m-.5-4h0m-2.5 0h0m0 4h0m-.5-9h0m-.5 0h0m0-.5h0m-1 5.5h0m-1.5-6.5h0m0 2h0m0 5h0m-1-3.5h0m0 6.5h0m-1-6.5h0m0 6.5h0m-1 .5h0m-1-3.5h0m-1 1h0m-1-5.5h0m-1-1h0m-.5 6.5h0m0 1h0m-1-.5h0m-.5-4h0m0 3h0m-1 1.5h0m-.5-10h0m0 1.5h0m0 9.5h0m-.5-7.5h0m-.5-.5h0m0 2h0m-.5 0h0m-.5-4.5h0m0 1h0m0 9.5h0m-.5-8h0m0 5h0m-1 1.5h0m-.5-5h0m-1 1h0m0 2h0m0 .5h0m-.5-5h0m0 3.5h0m0 4h0m-.5-5h0m0 5.5h0m-.5-.5h0m-1-6h0m-1-2h0m-1.5-2.5h0m0 11h0m-.5-10.5h0m-.5 10h0m-.5-7h0m0 2.5h0m-1-6h0m0 6.5h0m-1-2.5h0m-1-2h0m0 3.5h0m-.5-2.5h0m-.5 6h0m-.5-8h0m-.5 8.5h0m-1.5-3h0m-2-4.5h0m0 6.5h0m0 2h0m-1-6.5h0m0 4.5h0m-.5-6h0m-.5 8.5h0m-1-1h0m-1-5h0m-.5-1.5h0m0 4h0m0 1.5h0m-1-3.5h0m-1-5.5h0m-1.5 2h0m-2.5-.5h0m-1 8h0m-1-9h0m0 6.5h0m-2.5-5.5h0m-.5-1.5h0m-.5 5h0m-.5-3h0m-1 3h0m0 6h0m-.5-1.5h0m-1.5 1h0m0 0h0m-1-1h0m0 1h0m-.5-2.5h0m-.5-3h0m-1 6h0m-.5.5h0m-.5-1.5h0m-.5-9h0m-.5 0h0m0-.5h0m0 3.5h0m0 6h0m-1.5-7.5h0m0 3h0m-1-1.5h0m-.5-4h0m0 5h0m-.5 1.5h0m-.5 2.5h0m-1.5-5.5h0m0 5.5h0m-1 1h0m-1-3.5h0m-1-2h0m0 3h0m-.5-4h0m-1.5 2.5h0m-1-1.5h0m-.5 2.5h0m-1-6h0m-.5 3h0m0 7.5h0m-2-6h0m0 .5h0m-1 .5h0m-2-.5h0m-.5-6h0m-.5 6h0m-.5 5h0m-1-10h0m0 8h0m-.5-5h0m0 3h0m-.5 4.5h0m-.5-7h0m-1.5 4.5h0m-1.5-.5h0m-1-6h0m0 6.5h0m0 2.5h0m-.5-9h0m-1 5h0m-.5-3h0m0 6h0m-1.5-6.5h0m-1 4.5h0m-4-7.5h0m0 3.5h0m-.5-.5h0m-4-3h0m0 3.5h0m-2 6h0m-1-6.5h0m0 1.5h0m-.5-2.5h0m0 6.5h0m-.5-4.5h0m-.5-4h0m-.5 1h0m0 .5h0m-.5 9h0m-1.5-8.5h0m-1 3h0m0 .5h0m-3-.5h0m-1 5.5h0m-4.5-7h0m0 2.5h0m-.5 0h0m0 .5h0m-2 3h0m-1.5-9h0m0 2h0m-1 2.5h0m-5.5.5h0m0 1h0m-2-1h0m-1.5 3h0m-.5-7h0m0 1.5h0m0-1h0m-.5 2.5h0m0 1h0m-4.5-5.5h0m-3 5h0m0 5h0m-1-9h0m-1.5-1.5h0m0 2h0m-.5 4h0m-.5 2.5h0m-.5-1h0m-2.5 1.5h0m-1.5-4.5h0m0-.5h0m-.5 4h0m-1-2.5h0m-2-5.5h0m0 3.5h0m-.5-3h0m0 10h0m-2-7.5h0m-.5-1.5h0m-.5 3h0m-1 6h0m-1-10h0m-1.5 9.5h0m0 0h0m-3-2h0m0 1h0m-1-2.5h0m0 1.5h0m-3.5-5h0m-.5 2.5h0m-1.5 1h0m-.5 3.5h0m-2-2.5h0m-.5-3h0m-.5-3h0m-1.5-2h0m0 9.5h0m-5 2h0m-.5-5.5h0m-3.5 3.5h0m-1-4.5h0m-1-1h0m-1-2h0m-1 6h0m-2-5.5h0m-.5-2h0m-1.5-.5h0m0 5h0m-2 4h0m-1.5-8.5h0m0 2h0m-.5 4h0m0 2.5h0m-.5-2.5h0m-.5-4h0m-1 3h0m-.5 5h0m-1-5h0m0 2.5h0m-.5-4h0m-1.5-1.5h0m0 4.5h0m-1 2.5h0m-.5-7h0m-1.5-2h0m0 10.5h0m-4-9.5h0m0 4.5h0m-.5-4.5h0m0 .5h0m0 5.5h0m-.5-1.5h0m0 3h0m-1-5.5h0m-2-2.5h0m-1 0h0m0-.5h0m-2.5 3.5h0m-2.5 3.5h0m-.5-3.5h0m0 6.5h0m-1.5-10h0m-.5 4.5h0m0 3.5h0m-.5-3h0m-1.5 0h0m-.5-3.5h0m-5 1h0m-1-2.5h0m-.5 1.5h0m0 2.5h0m-.5-4h0m0-.5h0m-2 0h0m-1 3.5h0m0 .5h0m-.5-3h0m0 .5h0m-1 .5h0m-1-1.5h0m-1 6h0m-3-5.5h0m21.5 12.5h0m18.5-1h0m6.5-.5h0m2 1.5h0m2.5 9h0m2-9.5h0m0 5.5h0m4-6h0m2.5 5h0m1-5.5h0m.5 11h0m2.5-5.5h0m.5 2.5h0m2.5 3.5h0m2-3.5h0m.5-5h0m2-.5h0m0 1h0m1-1.5h0m0 1h0m3-1h0m4.5 7.5h0m.5-3.5h0m1-3.5h0m1 4h0m1 3.5h0m1-.5h0m.5-6.5h0m0 5h0m.5-4.5h0m0 3h0m3 4h0m3.5-.5h0m.5-7.5h0m0 2.5h0m2-4h0m0 8.5h0m1-1.5h0m.5 2.5h0m1.5-8h0m2-.5h0m.5.5h0m0 .5h0m3-1.5h0m.5 3h0m1.5-1h0m.5 2h0m2-1.5h0m3 2.5h0m0 3.5h0m6.5-5.5h0m.5 0h0m1.5 6h0m.5-8h0m0 8h0m.5-4.5h0m.5-3h0m0 7h0m2.5-3h0m.5-6h0m5.5 9h0m.5-3.5h0m.5-5h0m.5-1.5h0m0 5.5h0m0 1.5h0m1-6.5h0m0 0h0m.5 5.5h0m4-4.5h0m0 5h0m1.5 3h0m.5-1h0m2 2.5h0m1.5-10h0m1 3h0m0 4.5h0m0 1h0m.5-5.5h0m2-3.5h0m1.5 9h0m2-7h0m1.5-2h0m1.5 5h0m1.5-1.5h0m.5-1.5h0m.5 3.5h0m.5 3.5h0m1-9h0m0 2h0m0 5.5h0m.5-5h0m1.5 2.5h0m3 5.5h0m.5-3h0m0 3h0m2-6.5h0m0 1h0m.5-2.5h0m.5 0h0m.5-1.5h0m4 3.5h0m1-2.5h0m1.5 5.5h0m1-6.5h0m1-.5h0m.5 6.5h0m1-1h0m.5-.5h0m1.5-1h0m1.5-5h0m1.5 4.5h0m1-3h0m.5.5h0m.5 6h0m1 2.5h0m1-10h0m.5 1h0m0 6.5h0m3-6.5h0m.5 3.5h0m0 5h0m.5-3.5h0m3-4.5h0m0 2h0m0 4h0m1.5 3.5h0m.5-9h0m2.5.5h0m2 4h0m.5-.5h0m.5-6h0m0 1.5h0m.5-2h0m0 10h0m0 1.5h0m1-10.5h0m0 4.5h0m2 3.5h0m.5 0h0m1-2.5h0m2-4.5h0m.5 6h0m.5-4.5h0m0 1.5h0m0 5.5h0m1.5-10h0m3.5 7h0m2-4h0m0 5h0m2-3h0m1-.5h0m.5 5h0m2.5-8h0m0 6h0m1.5-6.5h0m1.5 0h0m2 6h0m.5 2.5h0m.5-3h0m1.5-5.5h0m0 5.5h0m0 .5h0m3-3.5h0m.5 2h0m0 3h0m.5-7.5h0m0 7.5h0m1-4.5h0m0 1.5h0m0 3.5h0m.5-4h0m0 3.5h0m1.5-9h0m.5 1h0m0 4h0m.5 2h0m1 2.5h0m1-6h0m0 .5h0m.5-2h0m.5 5h0m0 1h0m.5-3.5h0m0 5.5h0m0 1.5h0m.5-9.5h0m.5 3h0m.5 0h0m0 1h0m.5-1.5h0m1-3h0m0 2h0m.5 5.5h0m1-7h0m0 6h0m.5-1.5h0m1.5-4.5h0m0 7.5h0m.5-8.5h0m0 4.5h0m.5-4h0m.5 2.5h0m0-1h0m2-2.5h0m2 4.5h0m2-1.5h0m.5 4.5h0m.5-5h0m0 1.5h0m0 6.5h0m.5-4h0m1.5 1h0m.5-4h0m1.5 1h0m.5-3h0m0 2.5h0m.5 6.5h0m.5-.5h0m1-9h0m0 4h0m2 1.5h0m0 3h0m1-2h0m.5-7.5h0m.5 10.5h0m.5-6.5h0m0 1.5h0m.5 2h0m.5-3h0m.5 6.5h0m1-7h0m1.5 1.5h0m2-1h0m0 4h0m.5 1.5h0m.5-9h0m0 0h0m0 6.5h0m.5-5.5h0m0 0h0m.5 7.5h0m2-4.5h0m.5 2.5h0m1-3.5h0m1.5 4.5h0m0 .5h0m0 2h0m.5-11.5h0m0 .5h0m4 4.5h0m0 1.5h0m0 1.5h0m0 3.5h0m.5-9.5h0m0 7h0m.5-2.5h0m.5-1.5h0m1.5-4.5h0m.5 7h0m1-1h0m1 1h0m0 3h0m1-7.5h0m1 1.5h0m3-3.5h0m0 9h0m0 1.5h0m1.5-10h0m0 1.5h0m.5 8.5h0m2-1h0m1.5-.5h0m.5-9.5h0m2.5-.5h0m0 4.5h0m0 4.5h0m0 .5h0m.5-1.5h0m1-6.5h0m0 3.5h0m2.5-1h0m0 4.5h0m0 1h0m4-.5h0m.5-8h0m0 6.5h0m0 1.5h0m1-2h0m2-.5h0m0 .5h0m.5 1.5h0m2.5 2h0m1-3h0m1.5 1.5h0m6.5 1h0m31 13.5h0m-11-1h0m-1 0h0m-3.5-1h0m-1-4h0m0 5.5h0m-.5-2h0m-1 .5h0m-1.5-2.5h0m0 1.5h0m-1.5-2.5h0m0 1h0m-1.5 3h0m-1-9.5h0m-.5 1h0m0 4h0m-.5 1h0m-2.5 5h0m-1-3h0m-.5.5h0m-1 0h0m0 .5h0m-.5-.5h0m-.5-2.5h0m-2-6.5h0m-.5 0h0m0 2.5h0m0 5h0m0 .5h0m-.5-1h0m-1-5h0m0 7.5h0m-1-6.5h0m0 2.5h0m0 5.5h0m-1-11h0m0 8h0m0 3.5h0m-.5-9h0m-1.5 6h0m-.5 2h0m-1-7h0m-.5 5h0m-2-6h0m0 5h0m-1.5-6.5h0m0 2h0m0 7.5h0m-2-5.5h0m0 .5h0m0 6h0m-.5-8h0m-.5-3.5h0m0 2h0m-1.5 2h0m-.5 3.5h0m0 3.5h0m-2-11h0m0 4h0m-.5-3h0m0 5.5h0m-.5-6h0m-1 4h0m-.5 6.5h0m-.5-8.5h0m-.5 5.5h0m-.5 2h0m-1-4h0m0 .5h0m-.5-1.5h0m0 5.5h0m-.5-3h0m-.5-3.5h0m0 7.5h0m-.5-5h0m-2.5-5.5h0m0 1.5h0m-1 7.5h0m-1-8h0m-.5-2h0m-.5 6h0m-1-4.5h0m-.5 4h0m0 2.5h0m-.5-4h0m-.5-1.5h0m-1-1h0m0 7.5h0m-1.5-3.5h0m0 1.5h0m-1-2.5h0m0 5.5h0m-.5-2h0m-.5-5.5h0m-.5 4.5h0m0 .5h0m-.5 4h0m-1.5-6.5h0m-1.5-5h0m-.5 1.5h0m0 6h0m-.5.5h0m-2 1h0m-.5-.5h0m0 1h0m-.5 1h0m-1-10h0m0 2h0m0 8.5h0m-3-6.5h0m0 0h0m-.5 4h0m-.5 3h0m-.5-11.5h0m-.5 5.5h0m-.5-4.5h0m-1 3.5h0m-.5 5h0m-.5-5.5h0m-1-3h0m-2 10.5h0m0 0h0m-.5-5.5h0m-3-3h0m0 1h0m-1.5 3h0m-.5-5h0m-.5 5h0m-.5-6.5h0m-1 .5h0m-1.5 9.5h0m-2-1.5h0m0 1.5h0m-1-7h0m0 5.5h0m-.5-5h0m-.5-3h0m0 8.5h0m-2.5-8h0m0 .5h0m0 1h0m-1-1h0m-.5-1.5h0m0 2.5h0m-.5-3h0m0 1.5h0m0 6.5h0m-1.5-6.5h0m-.5 5h0m-1.5-5.5h0m0 2h0m-1 1h0m-1.5-2h0m0 2h0m-1 3h0m-1.5-1.5h0m0 2.5h0m-.5-6.5h0m0 6h0m-.5-5.5h0m-1.5.5h0m0 3h0m-1.5 0h0m-2 5.5h0m-1.5-11h0m-.5 0h0m-.5 2h0m0 6h0m-1 1h0m-6-9h0m-1.5 5h0m-1 .5h0m-.5-2.5h0m-3.5 7.5h0m-.5-9h0m0 1.5h0m-1 4h0m0 2.5h0m-.5-5h0m-2-3.5h0m0 7h0m-1 .5h0m-1.5-7h0m-.5-.5h0m-.5 0h0m0 1.5h0m-1.5 6h0m-3.5-3.5h0m-1 0h0m0 0h0m-.5 2.5h0m-.5-.5h0m-1-3.5h0m0 6h0m-.5-9h0m0 6.5h0m-1-2h0m-1.5 2h0m-1 2.5h0m0 1h0m-2-3h0m0 2h0m-1-7.5h0m-.5 2h0m-1.5 7h0m-1-9h0m-.5 6.5h0m-1.5-7.5h0m-.5 1.5h0m0 1h0m-.5 1.5h0m-1 2h0m0 1.5h0m0 .5h0m-2-6h0m0 1.5h0m-2 1h0m-.5 3h0m-.5-1.5h0m-.5-4h0m-1-1h0m-1.5-1.5h0m0 2.5h0m-.5 1h0m0 6.5h0m0 .5h0m-.5-1h0m-1.5-1.5h0m-2-2h0m-.5-1.5h0m-1 0h0m-.5-3.5h0m-.5 3.5h0m0 3h0m-1.5-3h0m-1 1h0m0 0h0m-1-4h0m-1 5.5h0m-2.5 2.5h0m-.5-4h0m-.5-1h0m0 6h0m-1.5-6.5h0m-.5-4.5h0m0 2.5h0m0 8.5h0m-1-11h0m0 7.5h0m-.5-4.5h0m-.5.5h0m-1 7h0m-.5-5.5h0m-.5-2.5h0m-.5 4h0m0 2h0m-.5-7.5h0m-.5 10h0m-.5-.5h0m-.5 1h0m-1.5-11h0m-3.5 3h0m-1.5-2.5h0m-.5 10h0m-1-3h0m-.5-5.5h0m-1 5.5h0m-1.5 1.5h0m-.5-6h0m-1 8h0m-.5-7h0m-.5 1h0m0 5.5h0m-.5-1h0m-.5-2.5h0m-1.5-7.5h0m-2 4.5h0m0 5h0m-1.5 1h0m-2-4.5h0m-1-4h0m-1 4.5h0m-.5 3.5h0m-1-6.5h0m-1.5 1h0m-.5-1h0m0 1h0m-1 2h0m0 .5h0m0 1.5h0m-.5-2.5h0m-1-1h0m-1 0h0m0 5.5h0m-3-.5h0m-1-5h0m-1-2.5h0m-.5 6h0m-1.5-8.5h0m0 .5h0m0 4h0m-1.5-1h0m0-.5h0m-.5 4h0m-1.5.5h0m-.5-3.5h0m-1.5-1.5h0m0 3.5h0m-2.5-3.5h0m-1-1h0m0 8.5h0m-7-8h0m-7-2h0m-2 0h0m-1.5 9.5h0m-1-7h0m-1 0h0m-1.5 6h0m-2-7.5h0m-3.5 4.5h0m-.5.5h0m-.5-5h0m-6.5 4h0m-5 3.5h0m-2 1.5h0m-2-7.5h0m-.5 3h0m-.5-5h0m-.5 10h0m-4-6.5h0m0 6.5h0m-1-7.5h0m-.5-2.5h0m-1.5 5.5h0m-1.5 3.5h0m-2-2.5h0m-1-4.5h0m-1.5 3h0m-1.5-1h0m0 .5h0m-2.5-3.5h0m30.5 14h0m40-2h0m12.5 0h0m3.5-1.5h0m2.5.5h0m8 2h0m2 .5h0m1.5 3.5h0m.5-6.5h0m2 4.5h0m3.5 1.5h0m1-3h0m.5 2.5h0m1.5-5h0m.5 5h0m2-2h0m.5 3h0m.5-6.5h0m0 5.5h0m0 1.5h0m6 .5h0m2.5-3h0m1 1h0m1 3h0m2 1.5h0m2-9.5h0m3.5 7.5h0m1.5-7h0m1-.5h0m1 4h0m.5 4h0m0 1.5h0m.5-9.5h0m2 8h0m2.5 1h0m.5-5h0m2.5-.5h0m1-1h0m0 .5h0m.5-3h0m0 1h0m1 4.5h0m1-5h0m2 4h0m3.5 4h0m1-2.5h0m1.5-4.5h0m.5 9.5h0m.5-10.5h0m.5 0h0m0 9.5h0m3.5-8.5h0m.5 7h0m1-4.5h0m0 3.5h0m0 2.5h0m.5-1.5h0m1-8.5h0m1 3.5h0m1.5 3.5h0m0 4h0m1.5-9h0m0 6h0m.5-8h0m2.5 8h0m0 1.5h0m1-8.5h0m.5 10h0m2-2h0m.5-2h0m.5-4.5h0m0 6h0m3-4h0m1.5 3h0m.5-2.5h0m0 0h0m1-.5h0m.5-5h0m0 10.5h0m2-8.5h0m0 3h0m.5 0h0m.5-2h0m.5-1h0m2 7.5h0m.5-9h0m1.5 10h0m0 .5h0m1.5-8h0m3 5.5h0m.5-4.5h0m0 6.5h0m1-8h0m0 5.5h0m1 2.5h0m2.5 1h0m.5-11.5h0m1.5 1.5h0m1 0h0m1.5 5.5h0m1 3h0m1.5-6h0m0 .5h0m0 5h0m1-3.5h0m0 .5h0m2.5-1h0m.5 3.5h0m1-1h0m1.5-7.5h0m0 8h0m.5-5h0m1 1h0m1 7h0m.5 0h0m2.5-9.5h0m0 4h0m0 4.5h0m.5-9.5h0m1 1.5h0m2 4h0m2.5-.5h0m0 .5h0m0 3.5h0m1-5.5h0m1.5-1.5h0m0 6h0m1-7h0m0-.5h0m0 4h0m1.5-2h0m1 8h0m2.5-4h0m.5-3h0m2.5-2.5h0m0 2.5h0m0 2h0m.5-5h0m2.5.5h0m2 0h0m1 4h0m1.5-1h0m.5 5h0m2-9h0m1 1h0m.5 6.5h0m.5-5.5h0m1 0h0m0 .5h0m1 2h0m.5-1.5h0m.5 2h0m0 2.5h0m0 1h0m.5-9h0m1 10h0m1-4.5h0m2 2.5h0m.5-4.5h0m1 7h0m2-9h0m0 8h0m1-8h0m1.5-.5h0m0 4h0m0 5.5h0m1.5.5h0m1.5-.5h0m.5-8.5h0m0 8h0m0 1h0m.5-11h0m0 2.5h0m0 3.5h0m1-.5h0m2 .5h0m0 3.5h0m0-.5h0m.5.5h0m.5-3.5h0m.5-4.5h0m0 3.5h0m3.5-2h0m2-3.5h0m0 10h0m2-3.5h0m0 3.5h0m.5-8h0m0 4.5h0m1-6h0m0 .5h0m1.5 6h0m1-3.5h0m0 3.5h0m.5 3h0m.5-8h0m.5-2h0m.5 1.5h0m.5-.5h0m0 8.5h0m0 .5h0m2-5h0m1.5 4.5h0m1 1h0m1-3h0m.5-6.5h0m.5 9.5h0m.5-9.5h0m1 9.5h0m.5-8h0m1-.5h0m.5 2.5h0m1-4.5h0m.5 7.5h0m0 1.5h0m.5-8h0m0 2h0m1.5 8h0m1-.5h0m.5-9.5h0m.5 5h0m0 2h0m0 0h0m.5-8h0m0 10h0m1-.5h0m2.5 0h0m1-7.5h0m0 5.5h0m2.5 3h0m.5-2h0m2 .5h0m0 1h0m.5-9h0m0 6.5h0m1-5.5h0m.5 9h0m.5-6.5h0m.5-1h0m.5-1h0m1.5 7.5h0m5 .5h0m7.5-1h0m2-3.5h0m10 14.5h0m-.5-4.5h0m-2 4h0m-1 2h0m-1.5-1.5h0m-.5-5.5h0m0 6h0m-1-4.5h0m0 2h0m-2-4.5h0m0 7.5h0m-.5 1h0m-1-6.5h0m-.5-1h0m-1.5 1.5h0m0 2h0m0 3.5h0m-.5.5h0m0-.5h0m-.5-2.5h0m-.5.5h0m0 2.5h0m-.5.5h0m-1.5-8h0m-.5 2h0m-.5-3h0m0 8.5h0m-1-10.5h0m-.5 4h0m-2.5-3h0m-1 .5h0m0 2.5h0m0 4.5h0m-1-5h0m0 .5h0m0 1h0m0 6h0m-.5-10.5h0m-.5 10.5h0m-1-6.5h0m-.5-.5h0m-.5 6.5h0m-.5-5.5h0m0 4.5h0m-1.5-9.5h0m0 3h0m0 7h0m-.5-6h0m0 2h0m-.5-3h0m-.5-3h0m0 1.5h0m0 6h0m-1-7.5h0m0 .5h0m0 1h0m0 2.5h0m-.5-3.5h0m-.5 9h0m-.5-8.5h0m-.5 3.5h0m0 7h0m-.5-5.5h0m-.5-6h0m0 1.5h0m0 3h0m-.5-3h0m-.5 4.5h0m-1 .5h0m0-.5h0m0 1.5h0m0 .5h0m-1-6h0m0 5.5h0m-1.5 1.5h0m-1-4.5h0m0 .5h0m0 5.5h0m-.5-2h0m0 2.5h0m-1-1h0m-.5-2h0m-.5.5h0m-.5 2h0m0 1h0m-1-5.5h0m-3.5-3.5h0m-.5 1.5h0m-1.5.5h0m0 1h0m-2 4h0m-.5-5h0m0 1h0m0 1.5h0m-.5-2h0m-.5-.5h0m-.5 5.5h0m0 1.5h0m-1-5.5h0m-.5-3.5h0m0 3h0m-1.5 2.5h0m-2-5.5h0m-.5 4.5h0m0 1.5h0m-.5-2h0m-.5-3.5h0m-.5-.5h0m-.5-2.5h0m-.5 4h0m-.5.5h0m0 1.5h0m0 1.5h0m-.5-4.5h0m-.5 2.5h0m-.5-3h0m-1 8.5h0m-.5-6.5h0m0 1.5h0m0 1.5h0m-2-7.5h0m-.5 11.5h0m-.5-5h0m-.5 2h0m-.5-8.5h0m0 6h0m-1-3.5h0m-1 8h0m0 0h0m-.5-7.5h0m-1 6.5h0m-1.5-6h0m-.5 0h0m-1.5-3.5h0m0 1h0m0 7h0m-2 2h0m-1.5-5.5h0m-2-1.5h0m-.5-1.5h0m-.5 8.5h0m-.5-4.5h0m0 1.5h0m-2 1h0m-.5-6.5h0m0-.5h0m0 10.5h0m-1-8h0m0 1h0m-1 3h0m-1 .5h0m-.5-2.5h0m-.5-4h0m-.5 8h0m-2-7.5h0m-5 5.5h0m-1 2.5h0m-.5-1h0m-.5 1.5h0m-.5-6.5h0m-1.5-.5h0m-2 6.5h0m-1-9.5h0m-1 10h0m-1-7.5h0m-1.5 8h0m-.5.5h0m-1.5-1h0m-1-4.5h0m-.5 1h0m0 1h0m-1-5h0m-2 4h0m-.5-4.5h0m-.5-1.5h0m-2 5h0m-.5-3h0m-1 3.5h0m-.5-4.5h0m-.5 5h0m0 3h0m-1-5h0m-.5 6h0m-2.5-10.5h0m-.5 4.5h0m-1 3h0m-1-8h0m0 3h0m0 .5h0m-.5-2.5h0m-.5 9.5h0m-.5-5.5h0m-1.5-1.5h0m-2-2.5h0m0 0h0m-2 7h0m-.5-2.5h0m-2 2.5h0m-2-2h0m-.5.5h0m0-.5h0m-1.5-5h0m-1 1.5h0m0 4.5h0m0 1.5h0m0 1h0m0 1h0m-2.5-2.5h0m0 1h0m-.5.5h0m-.5 1.5h0m0 .5h0m-.5-6h0m-.5 6h0m-.5-11.5h0m0 6.5h0m-1.5-2h0m0 .5h0m0 1h0m-1 2.5h0m-.5.5h0m-1-7h0m-1 1h0m0 2h0m0 4h0m-.5.5h0m-1-2.5h0m-2.5-1.5h0m-1-5.5h0m-2 1h0m-.5 3.5h0m-1 .5h0m-.5-4.5h0m0 6h0m-.5-3.5h0m-.5-2.5h0m0 11h0m-1.5-8h0m-1.5-3h0m0 2.5h0m-.5 5h0m-1-3.5h0m-1 6.5h0m-2.5-4h0m-1-1.5h0m-.5-5h0m0 4h0m-3.5 4h0m-.5-3h0m0 1.5h0m-1-2.5h0m-.5 6.5h0m-2-7.5h0m-1-3.5h0m0 6h0m-.5-1.5h0m0 3h0m-1.5-.5h0m-.5-1h0m-1-5h0m-1.5 5.5h0m-4.5-5h0m-.5 2.5h0m-.5-1.5h0m-.5 2h0m0 2h0m-1-3h0m-.5.5h0m0 5h0m-.5-7.5h0m-1 4h0m-1.5-4.5h0m-.5 2h0m-1 0h0m-3-1h0m-2.5 4h0m-3-4.5h0m0 2.5h0m-.5.5h0m-.5-1h0m-4-3h0m37 14.5h0m1.5-1h0m1 7.5h0m4 0h0m.5-1h0m.5-7h0m1.5 3h0m.5 2h0m1.5.5h0m.5 1h0m.5-8h0m.5 9h0m1.5-8.5h0m0 9h0m.5-6h0m2-3h0m.5 2h0m1 8.5h0m1.5-6.5h0m.5 6.5h0m1.5-6h0m.5 0h0m1 4.5h0m1-5h0m.5 1.5h0m0 4.5h0m.5-.5h0m1.5-5.5h0m.5-3h0m1 1h0m1.5 3.5h0m.5-.5h0m1 1h0m.5-5h0m.5-.5h0m1.5 1h0m.5-.5h0m1 4h0m.5 4h0m0 1.5h0m1-3.5h0m.5-3h0m1.5 3h0m1-.5h0m.5 0h0m.5 4.5h0m1.5-7h0m1 3h0m1.5.5h0m0 3.5h0m.5-4h0m2.5-5.5h0m1.5 4h0m3.5 4h0m4.5 1.5h0m1-11h0m0 4.5h0m0 3.5h0m1 0h0m.5 1h0m1-2h0m1.5-2.5h0m4 3h0m1-4.5h0m1.5-3.5h0m1 4h0m1.5 3h0m0 3h0m1.5-9.5h0m.5 10h0m0 0h0m.5-9h0m0 5.5h0m1-4.5h0m1 8h0m1.5-8h0m1 8.5h0m.5-6h0m0 3h0m0 2h0m.5-9h0m0 7.5h0m.5-1.5h0m0 3h0m.5-9h0m0 .5h0m0 3h0m1-2.5h0m1 7h0m4.5-1h0m.5-5.5h0m1.5 6h0m0 2h0m1-7h0m.5-2.5h0m.5.5h0m.5 5h0m.5-5.5h0m0 5h0m3.5-1.5h0m1 7h0m1-9.5h0m0 3h0m1.5 6.5h0m1.5-5.5h0m.5.5h0m.5 4.5h0m.5-.5h0m.5-2.5h0m3-6.5h0m0 3h0m.5 4h0m2-7h0m0 3h0m3 1h0m0 3h0m.5.5h0m.5-7.5h0m0 5.5h0m1-6h0m.5 5h0m2.5 4.5h0m3-9.5h0m1 .5h0m0 4h0m0 4.5h0m.5-3.5h0m1 0h0m2.5-3.5h0m.5 6.5h0m1-4.5h0m.5 3.5h0m0 0h0m.5-.5h0m2-4.5h0m0 0h0m2.5 1.5h0m1-2.5h0m0 8h0m1-2.5h0m1.5-8h0m0 7h0m1.5-6.5h0m1 2h0m2 1h0m4-3.5h0m1 4.5h0m1-2.5h0m5.5 3h0m.5-3.5h0m1 5h0m2-4.5h0m1-.5h0m2 2.5h0m.5 2h0m1 .5h0m1-5h0m3 5.5h0m0 .5h0m1-5.5h0m0 5.5h0m.5-6.5h0m1 0h0m1 1h0m1 0h0m1.5 1h0m1 2h0m1-3.5h0m11 0h0m3 1.5h0m-75 10h0m-1 0h0m-5.5 1h0m-3-1h0m-1.5 3.5h0m-3-1.5h0m-1.5 1h0m-2 1h0m-.5-3.5h0m-1.5.5h0m0 7h0m-1-5h0m-1.5 2.5h0m-5.5-1h0m-3.5-3h0m-1.5 4.5h0m-1-3h0m-.5-2h0m0 0h0m-.5 7h0m0-.5h0m-.5-6h0m-.5-1.5h0m-1 7h0m-1-7.5h0m-.5 8.5h0m-.5-8.5h0m-2 2h0m-1 3h0m-.5.5h0m-1-6h0m-1 4h0m-4-.5h0m-1.5 5h0m-3-7h0m-1.5 3.5h0m-4.5-4h0m0 5.5h0m-2-6.5h0m-1 .5h0m0 5h0m-2.5-3.5h0m-1.5.5h0m0 1.5h0m-4-2.5h0m-2.5 6h0m-1-7h0m0 2h0m-4.5-2h0m0-.5h0m-4.5 1.5h0m-8.5 1h0m-5.5 0h0m819.5 21h0m1-.5h0m2-3h0m1.5 3.5h0m134.5 0h0m3 0h0m2 0h0m1.5 2h0m-2 .5h0m-1 0h0m-.5-2h0m0 .5h0m0 1.5h0m-.5.5h0m-1-2h0m0 4.5h0m-.5-4h0m-2 .5h0m-2.5.5h0m-1.5-.5h0m-1-.5h0m-5 4h0m-1.5-2.5h0m-1.5 2h0m-.5 2h0m-1-1.5h0m-.5 1h0m-1.5-2.5h0m0 2h0m-.5 1h0m-1.5 1h0m-.5-2h0m0 .5h0m-.5-1h0m-.5 1h0m-.5 2.5h0m-.5-2.5h0m-1 2h0m-.5 0h0m-1-2.5h0m0 1h0m-2 0h0m-.5.5h0m-3.5-1.5h0m0 1h0m-.5 4h0m-2-1.5h0m-.5-1h0m0 3.5h0m-1-1.5h0m-.5.5h0m-1.5-1h0m-1.5-1h0m0 1h0m-1.5-3h0m0 2h0m-.5-1.5h0m0 3h0m0 0h0m-.5-2h0m0 0h0m0 2h0m-2-4h0m-1-1h0m0 2h0m-.5-2h0m0 1h0m0 1.5h0m-1-3h0m-1-1.5h0m-1.5 0h0m-2.5 4h0m-1-1.5h0m0 4h0m-.5-3h0m0-.5h0m-1.5 2.5h0m-.5-2h0m-30.5-1.5h0m-2.5 2.5h0m-18.5-6h0m-4 6h0m-3.5-2h0m-1-.5h0m0 3h0m-1-3.5h0m-1-2.5h0m0 7.5h0m-1-7h0m0 6h0m0 .5h0m0 .5h0m0 2h0m-1-9h0m0 1.5h0m0 4.5h0m-1-5.5h0m0 2h0m-.5-3.5h0m-.5 0h0m0 .5h0m0 9h0m0 .5h0m-.5-11h0m0 4.5h0m0 1.5h0m0 3.5h0m-.5-7.5h0m0 .5h0m0 4.5h0m0 3h0m-.5-1.5h0m-.5-6.5h0m0 2h0m0 2.5h0m0 2h0m0 1h0m-.5-4.5h0m-.5-4h0m0 9h0m-1-5.5h0m-.5-1h0m0 2h0m0 2.5h0m-1-5h0m0 3h0m0 .5h0m-.5-2h0m-.5 3.5h0m-.5-2.5h0m-.5 0h0m-1.5 3h0m-.5-1.5h0m-.5-6h0m-1.5-1h0m0 0h0m-.5 1.5h0m0 1h0m0 0h0m0 5h0m-1-7h0m0 3h0m0 1h0m-1.5.5h0m-.5-4h0m-.5-1h0m0 4h0m-.5 6.5h0m0 .5h0m-.5-11h0m0-.5h0m0 2h0m0 1.5h0m0 .5h0m-.5-4h0m0 .5h0m0 10.5h0m-1.5-6.5h0m0 5.5h0m-.5-6.5h0m0 2.5h0m0 5h0m-1-11h0m0 4.5h0m0 5h0m-.5-1h0m-.5-1h0m-1-5h0m0 2.5h0m0 0h0m-.5-.5h0m-.5-3h0m-.5 5h0m-.5-1h0m-.5-2h0m-.5 3.5h0m0 2h0m-.5-5.5h0m0 2.5h0m0 1h0m0 3h0m-.5-6h0m0 5h0m-.5 0h0m-.5-1.5h0m-.5-3h0m0 5h0m-1-1.5h0m0 1.5h0m-1 .5h0m-1-2.5h0m0 8.5h0m2.5-3.5h0m3.5.5h0m1.5-.5h0m0 1h0m1.5 0h0m.5 0h0m.5-1h0m0 1h0m.5-1h0m2 3.5h0m1-3.5h0m0 2.5h0m1-1h0m0 2.5h0m1.5-.5h0m.5 1h0m.5-4h0m0 .5h0m0 2.5h0m.5-3h0m0 .5h0m0 7h0m.5 0h0m.5-1.5h0m2-2h0m0 2h0m1-6h0m.5 6h0m.5-4.5h0m.5 4h0m0 0h0m0 .5h0m.5 1h0m0 .5h0m.5-4h0m.5 0h0m0 .5h0m0 3h0m.5-3h0m0 .5h0m.5 1h0m.5-3h0m1 2h0m.5-3h0m1 3h0m0 3h0m.5-6h0m0 2h0m0 1.5h0m.5-5.5h0m0 0h0m0 2h0m.5-2.5h0m0 0h0m0 4.5h0m0 1h0m0 1h0m.5-5.5h0m0 5h0m0 3.5h0m.5-9h0m0 7h0m1-4h0m1.5 2h0m.5-5h0m1.5 1.5h0"/>
<path stroke="#fff" stroke-width="2.1" d=""/>
<path stroke="#E85264" d="M874.5 237h0m-108.5-.5h0m-17-4h0m-78.5 6h0m-2-3h0m-48 12.5h0m44-1.5h0m9-5.5h0m13 4.5h0m304.5 13.5h0m-153.5 2h0m-2.5-7.5h0m-10 2h0m-71-2h0m-33 4h0m-1-4.5h0m-5 5h0m-73.5 1h0m-57 15.5h0m36-6h0m154-1h0m98-1.5h0m41.5 7.5h0m15 .5h0m39.5 0h0m21-9.5h0m0 6h0m-56 10.5h0m-10.5 6.5h0m-11.5-8.5h0m-75 2.5h0m-38.5-4h0m-32.5.5h0m-50.5-1.5h0m-48 3h0m-114 18.5h0m22.5-7h0m6.5 3h0m107.5 4.5h0m44.5-10h0m2.5 5h0m12-1h0m48 7h0m36-.5h0m38-4.5h0m36-4.5h0m8 9.5h0m28.5-9.5h0m53.5-1.5h0m-53 21.5h0m-39-4.5h0m-36 4.5h0m-9-6.5h0m-21 4.5h0m-3-6h0m-110.5 4h0m-52.5 1.5h0m-1-4h0m-77-2.5h0m-13.5 3.5h0m108.5 10.5h0m28.5 5.5h0m47.5-8.5h0m13.5 7h0m34 .5h0m1.5-7.5h0m70 8h0m40.5 1.5h0m14.5-3h0m25.5-1.5h0m7.5-2h0m2 8.5h0m12.5-8.5h0m34.5 8h0m15.5-5h0m3-3.5h0m16.5 5.5h0m0 6h0m-18.5 1.5h0m-34.5-1.5h0m-34 6h0m-34.5 3.5h0m-48.5-6h0m-83.5 1.5h0m-194 2h0m-74 7.5h0m25 3.5h0m7 3h0m205-6.5h0m82.5 5.5h0m61.5-2.5h0m12.5 1h0m23-7h0m30 1.5h0m8.5 1h0m37.5 12h0m-44 4h0m-21-7.5h0m-21.5 7.5h0m-18.5.5h0m-11.5 2.5h0m-5.5-9.5h0m-1.5-1.5h0m-19 7.5h0m-4-6.5h0m-46.5 4.5h0m-29 1.5h0m-10.5 4h0m-27-7h0m-83-3.5h0m-95.5 9.5h0m-71-3.5h0m73.5 11.5h0m93-6h0m2 3h0m29-1h0m46.5 1h0m87.5 7.5h0m44.5 0h0m13-1.5h0m1.5 1.5h0m31.5-9h0m104-1.5h0m28 3.5h0m-34.5 9.5h0m-20.5 10h0m-19.5-8h0m-44.5-1h0m-9-2h0m-7 10h0m-.5-4h0m-6 3h0m-4.5-4.5h0m-7.5-2h0m-61.5-2h0m-22.5 10h0m-54.5-8.5h0m-16 6h0m-136.5 0h0m-34 2.5h0m-4.5-6.5h0m-41-1h0m-6.5-2.5h0m-25 13.5h0m90 7h0m51-3h0m75-2h0m82 0h0m3.5-1.5h0m30.5 4.5h0m19.5 4h0m.5-1h0m4.5-9h0m40 2h0m14 1h0m16 .5h0m35.5 7h0m3.5-4h0m38.5-5h0m21.5 7h0m-5.5 12.5h0m-21.5-2.5h0m-40.5-4h0m-45.5 4.5h0m-63.5 1h0m-54.5-2h0m-2.5-6.5h0m-.5.5h0m-4 6.5h0m-147.5-.5h0m-20-5h0m-28 2h0m-55 18h0m15-5.5h0m27-1h0m128.5-2h0m13 2h0m7 4h0m13.5-3h0m7 4.5h0m33-6.5h0m106 2h0m11 .5h0m28.5-2h0m60.5 6h0m5.5 11h0m-5-2.5h0m-5 1h0m-2 5h0m-36.5-1.5h0m-1.5-1h0m-77.5-2.5h0m-112.5 3h0m-17.5-1h0m-167-2h0m-39 1h0m-1-7.5h0m-2.5 19.5h0m4.5-5.5h0m196.5 4.5h0m1.5-5h0m48.5 4h0m57.5 4h0m6 .5h0m8-1h0m124 1.5h0m26-10h0m-20.5 16h0m-31.5-.5h0m-40 4h0m-40-1h0m-42 1h0m-52.5-2h0m93.5 12h0m40 1.5h0m42 0h0m7 3.5h0m15 12.5h0m-50.5-1h0m-22.5-1.5h0m-59.5-7h0m-40.5 19h0m11.5-8h0m30 0h0m18.5 4.5h0m6 1.5h0m2.5 4h0m27.5-1h0m73 6h0m-10 7.5h0m-27-10h0m-2.5 9h0m-14-.5h0m-42.5 1h0m-11-3.5h0m-21.5 1.5h0m-43.5-4.5h0m7 8.5h0m70 10.5h0m13-6h0m23-5h0m59 2h0m-26 10h0m-5-.5h0m-49.5 3.5h0m-13 1.5h0m-118.5 16h0m2.5-1.5h0m22 1h0m31.5 13.5h0m-12.5-2h0m-79 14h0m16.5-10h0m8 .5h0m100 3h0m6.5 8h0m72.5 9.5h0m-7-6.5h0m-53.5 2.5h0m-40.5-5h0m-12.5 7h0m-18.5-1h0m-47-3.5h0m-21.5 6h0m1.5 4h0m18.5 3h0m2.5-1h0m306 3.5h0m36.5-5h0m82.5 21h0m-16.5-2h0m-18-.5h0m-14-4.5h0m-48.5 0h0m-13.5 6h0m-2-4.5h0m-32 0h0m12.5 12.5h0m52.5 4h0m0 1h0m54.5-6.5h0m15 6h0m40 5h0m-72.5 7h0m-23-4.5h0m-25.5-4h0m-41 5.5h0m-28 5h0m-10-11h0m-53 3h0m-9.5 17h0m63 .5h0m76.5-6.5h0m6.5 5h0m11-.5h0m21.5 0h0m5.5 1.5h0m27-3h0m36 1.5h0m11.5 13.5h0m-1-4.5h0m-10 5h0m-29 2.5h0m-7-11.5h0m-16.5 1.5h0m-41.5 4.5h0m-5.5-6h0m-19 8h0m-102-7h0m-14 6h0m-15-3h0m-50 2h0m18.5 14.5h0m65.5-8h0m3 0h0m44 9h0m2.5-1h0m14.5-3h0m7-5h0m12 7h0m7.5 3.5h0m76.5-4.5h0m14 0h0m4-1.5h0m100 0h0m-52.5 10h0m-32.5-2h0m-1 6.5h0m-18-4.5h0m-23 5.5h0m-31-1.5h0m-6.5-6h0m-16 1h0m-19.5 6.5h0m-7 .5h0m-42-1.5h0m-32-1.5h0m-102 13h0m24.5-1h0m110.5-1.5h0m5.5 5h0m22-5.5h0m29.5-.5h0m8.5-1h0m2.5 6h0m33-4.5h0m18-2.5h0m5 4.5h0m19.5 4.5h0m21.5-4h0m48.5 1h0m24-6.5h0m49.5 15h0m-23 3h0m-25.5-4h0m0 6h0m-.5-1.5h0m-3.5 3h0m-.5-8.5h0m-6.5 1h0m-3 3h0m-10-3h0m-31.5-3h0m-3.5.5h0m-10.5.5h0m-6.5.5h0m-61 6.5h0m-3-6h0m-19.5 8.5h0m-39.5-4.5h0m-11-1.5h0m-6 0h0m-163.5 0h0m-.5 17.5h0m1.5-1h0m23.5-4h0m138 0h0m121 3h0m16.5-.5h0m62-5h0m84.5 5h0m32.5 11.5h0m-11-3h0m-80.5 4h0m-17-4h0m-1 5.5h0m-15.5.5h0m-13-5.5h0m-4 1h0m-1-1.5h0m-2.5 6h0m-105.5 1h0m-18.5-9.5h0m-17 2h0m-33.5 8h0m-12-2h0m-30.5-4h0m-108.5 4h0m-15 7.5h0m120 6h0m15-9.5h0m1 9.5h0m10-7h0m26 7h0m5.5-9.5h0m45.5 3h0m7.5-.5h0m22 5.5h0m24.5-6.5h0m16.5 4h0m18-3h0m16 5h0m25-4h0m38.5 6.5h0m56-7h0m1.5.5h0m26-3h0m-40.5 14h0m-32-.5h0m-70-1.5h0m-65-1.5h0m-77.5 0h0m-50 4.5h0m-9.5-1h0m-45-.5h0m-61 19h0m64-7h0m9.5 1.5h0m75-2.5h0m6.5 3h0m7.5 3.5h0m18.5-7h0m11-1h0m18 10h0m19.5-5h0m7 .5h0m88-2.5h0m16.5 18.5h0m-10 1h0m-6.5-10.5h0m-24.5 6h0m-9.5-6h0m-2 10h0m-7-6.5h0m-49.5-2.5h0m-17.5 1.5h0m-38 6.5h0m-20.5-4.5h0m-23.5 2.5h0m-.5-5.5h0m-5-1h0m-91.5 0h0m18 17.5h0m58.5-6h0m15.5 7h0m105-2h0m68.5-1h0m44 1.5h0m12.5 2.5h0m354.5-.5h0m-43.5 14.5h0m-359-.5h0m-19.5-7h0m0 7.5h0m-69-3.5h0m-4.5-2.5h0m-90 5h0m-12-1h0m-30-7.5h0m-17.5 7h0m-49.5-6h0m14.5 14h0m36-2.5h0m146 4.5h0m89.5 5h0m16.5-7h0m9 6h0m-19.5 4h0m-55 8.5h0m-136.5-4h0m0 4.5h0m-101.5 8h0m131-4.5h0m23.5-3h0m38.5 9h0m76-9h0m19.5 0h0m5.5 8.5h0m-12 12.5h0m-16 2.5h0m-131-3h0m-71-.5h0m2.5 6.5h0m116 6h0m50-1.5h0m67 1.5h0m426.5 8h0m-444 .5h0m-54.5 1h0m-43.5-3h0m-17 8h0m-.5-1.5h0m-8-3.5h0m-66-6h0m-23.5 6h0m176 14.5h0m-28.5 4h0m-33 7h0m-12.5-7.5h0m2.5 12h0m39.5 0h0m-608.5 167.5h0m-48.5-3h0m-61 0h0m-3.5-1h0m-.5-.5h0m-18.5 0h0m-3-5h0m-31 4h0m-9 3.5h0m0 6.5h0m22-.5h0m16-2h0m3 7h0m9.5-1.5h0m6-7h0m35.5 0h0m2 7.5h0m27 3.5h0m20-7h0m55.5 7.5h0m-136 2h0m-59 1.5h0m27 10h0m31-1h0m1.5.5h0m16 1h0m10-1h0m16.5 8h0m71-8.5h0m54.5 2.5h0m10 2h0m3.5 2.5h0m3.5-2h0m14 2h0m-62 12.5h0m-4-3h0m-20-1.5h0m-10.5-1h0m-32 7h0m-37.5 2h0m-7-8.5h0m14 15h0m32 0h0m30-2.5h0m79.5 6h0m20.5-5h0m8-3.5h0m77 17.5h0m-62 .5h0m-16.5-6.5h0m-51 4h0m-26 5h0m-9.5.5h0m-12.5.5h0m-1.5-4h0m89 15.5h0m10.5-2.5h0m16-6.5h0m10 9.5h0m57-2.5h0m47 14.5h0m-17-.5h0m-20-7h0m-39.5 1h0m-30.5 5.5h0m-8.5 13.5h0m72.5 3.5h0m-16.5-.5h0m872 29h0m-21 0h0m-5-4h0m-81.5 8.5h0m-5-7h0m-5 6h0m-5-8h0m14 11.5h0m6.5 7.5h0"/>
<path stroke="#FCF6B5" d="M657.5 342.5h0"/>
</g>
<path d="M211.1 140.7V1306.6H1788" fill="none" stroke="#000" stroke-width="4.4" stroke-linejoin="miter"/>
<path d="M196.2 195.5H211" stroke="#000" stroke-width="4.4"/>
<text x="184" y="214.2" text-anchor="end" font-size="50">20</text>
<path d="M196.2 415.9H211" stroke="#000" stroke-width="4.4"/>
<text x="184" y="434.6" text-anchor="end" font-size="50">15</text>
<path d="M196.2 636.4H211" stroke="#000" stroke-width="4.4"/>
<text x="184" y="655.1" text-anchor="end" font-size="50">10</text>
<path d="M196.2 856.8H211" stroke="#000" stroke-width="4.4"/>
<text x="184" y="875.5" text-anchor="end" font-size="50">5</text>
<path d="M196.2 1077.3H211" stroke="#000" stroke-width="4.4"/>
<text x="184" y="1096.0" text-anchor="end" font-size="50">0</text>
<path d="M196.2 1297.8H211" stroke="#000" stroke-width="4.4"/>
<text x="184" y="1316.5" text-anchor="end" font-size="50">-5</text>
<path d="M418.9 1306V1321" stroke="#000" stroke-width="4.4"/>
<text x="419.8" y="1369.9" text-anchor="middle" font-size="50">-5</text>
<path d="M759.7 1306V1321" stroke="#000" stroke-width="4.4"/>
<text x="759.7" y="1369.9" text-anchor="middle" font-size="50">0</text>
<path d="M1100.6 1306V1321" stroke="#000" stroke-width="4.4"/>
<text x="1100.6" y="1369.9" text-anchor="middle" font-size="50">5</text>
<path d="M1441.4 1306V1321" stroke="#000" stroke-width="4.4"/>
<text x="1441.4" y="1369.9" text-anchor="middle" font-size="50">10</text>
<path d="M1782.2 1306V1321" stroke="#000" stroke-width="4.4"/>
<text x="1781.8" y="1369.9" text-anchor="middle" font-size="50">15</text>
<rect x="1844" y="579.2" width="63.5" height="319.4" fill="url(#mg)"/>
<path d="M1844 608.5h12.7M1894.8 608.5h12.7" stroke="#fff" stroke-width="1.6"/>
<text x="1937" y="627.1" font-size="50">1.00</text>
<path d="M1844 680.9h12.7M1894.8 680.9h12.7" stroke="#fff" stroke-width="1.6"/>
<text x="1937" y="699.5" font-size="50">0.75</text>
<path d="M1844 753.3h12.7M1894.8 753.3h12.7" stroke="#fff" stroke-width="1.6"/>
<text x="1937" y="771.9" font-size="50">0.50</text>
<path d="M1844 825.7h12.7M1894.8 825.7h12.7" stroke="#fff" stroke-width="1.6"/>
<text x="1937" y="844.3" font-size="50">0.25</text>
<path d="M1844 897.8h12.7M1894.8 897.8h12.7" stroke="#fff" stroke-width="1.6"/>
<text x="1937" y="916.4" font-size="50">0.00</text>
</svg>
</body></html>
